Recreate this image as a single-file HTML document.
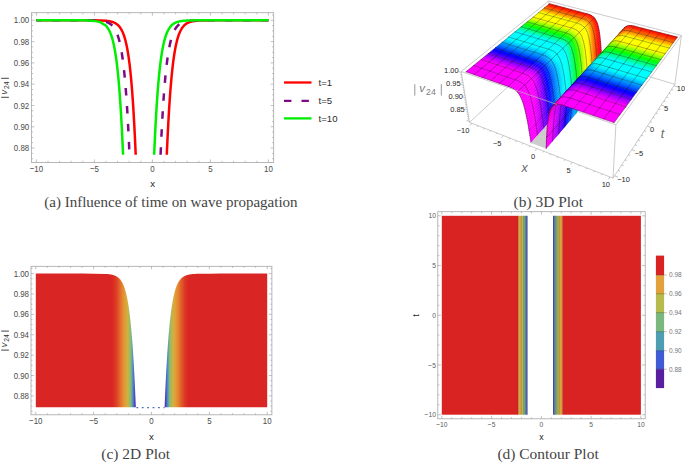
<!DOCTYPE html>
<html><head><meta charset="utf-8"><style>
html,body{margin:0;padding:0;background:#fff;}
body{width:685px;height:463px;overflow:hidden;}
svg{display:block;}
.m{fill:none;stroke:rgba(0,0,0,.45);stroke-width:.5}
#b3d path{fill:currentColor;stroke:currentColor;stroke-width:.4}
#b3d path.m{fill:none;stroke:rgba(0,0,0,.5);stroke-width:.6;stroke-linecap:round}
</style></head><body>
<svg width="685" height="463" viewBox="0 0 685 463">
<rect x="31.5" y="12.7" width="242.2" height="149.70000000000002" fill="none" stroke="#a6a6a6" stroke-width="0.8"/>
<path d="M36.40 162.4v-3.0M36.40 12.7v3.0M94.40 162.4v-3.0M94.40 12.7v3.0M152.40 162.4v-3.0M152.40 12.7v3.0M210.40 162.4v-3.0M210.40 12.7v3.0M268.40 162.4v-3.0M268.40 12.7v3.0M48.00 162.4v-1.6M48.00 12.7v1.6M59.60 162.4v-1.6M59.60 12.7v1.6M71.20 162.4v-1.6M71.20 12.7v1.6M82.80 162.4v-1.6M82.80 12.7v1.6M106.00 162.4v-1.6M106.00 12.7v1.6M117.60 162.4v-1.6M117.60 12.7v1.6M129.20 162.4v-1.6M129.20 12.7v1.6M140.80 162.4v-1.6M140.80 12.7v1.6M164.00 162.4v-1.6M164.00 12.7v1.6M175.60 162.4v-1.6M175.60 12.7v1.6M187.20 162.4v-1.6M187.20 12.7v1.6M198.80 162.4v-1.6M198.80 12.7v1.6M222.00 162.4v-1.6M222.00 12.7v1.6M233.60 162.4v-1.6M233.60 12.7v1.6M245.20 162.4v-1.6M245.20 12.7v1.6M256.80 162.4v-1.6M256.80 12.7v1.6M31.5 148.10h3.0M273.7 148.10h-3.0M31.5 126.80h3.0M273.7 126.80h-3.0M31.5 105.50h3.0M273.7 105.50h-3.0M31.5 84.20h3.0M273.7 84.20h-3.0M31.5 62.90h3.0M273.7 62.90h-3.0M31.5 41.60h3.0M273.7 41.60h-3.0M31.5 20.30h3.0M273.7 20.30h-3.0M31.5 158.75h1.6M273.7 158.75h-1.6M31.5 153.43h1.6M273.7 153.43h-1.6M31.5 142.77h1.6M273.7 142.77h-1.6M31.5 137.45h1.6M273.7 137.45h-1.6M31.5 132.12h1.6M273.7 132.12h-1.6M31.5 121.47h1.6M273.7 121.47h-1.6M31.5 116.15h1.6M273.7 116.15h-1.6M31.5 110.82h1.6M273.7 110.82h-1.6M31.5 100.17h1.6M273.7 100.17h-1.6M31.5 94.85h1.6M273.7 94.85h-1.6M31.5 89.52h1.6M273.7 89.52h-1.6M31.5 78.88h1.6M273.7 78.88h-1.6M31.5 73.55h1.6M273.7 73.55h-1.6M31.5 68.23h1.6M273.7 68.23h-1.6M31.5 57.58h1.6M273.7 57.58h-1.6M31.5 52.25h1.6M273.7 52.25h-1.6M31.5 46.93h1.6M273.7 46.93h-1.6M31.5 36.28h1.6M273.7 36.28h-1.6M31.5 30.95h1.6M273.7 30.95h-1.6M31.5 25.63h1.6M273.7 25.63h-1.6M31.5 14.98h1.6M273.7 14.98h-1.6" stroke="#a6a6a6" stroke-width="0.7" fill="none"/>
<text transform="translate(36.40,171.60) scale(1,1.22)" font-size="7.9" text-anchor="middle" fill="#4a4a4a" font-family="Liberation Sans, sans-serif" >−10</text>
<text transform="translate(94.40,171.60) scale(1,1.22)" font-size="7.9" text-anchor="middle" fill="#4a4a4a" font-family="Liberation Sans, sans-serif" >−5</text>
<text transform="translate(152.40,171.60) scale(1,1.22)" font-size="7.9" text-anchor="middle" fill="#4a4a4a" font-family="Liberation Sans, sans-serif" >0</text>
<text transform="translate(210.40,171.60) scale(1,1.22)" font-size="7.9" text-anchor="middle" fill="#4a4a4a" font-family="Liberation Sans, sans-serif" >5</text>
<text transform="translate(268.40,171.60) scale(1,1.22)" font-size="7.9" text-anchor="middle" fill="#4a4a4a" font-family="Liberation Sans, sans-serif" >10</text>
<text transform="translate(29.20,151.10) scale(1,1.22)" font-size="7.9" text-anchor="end" fill="#4a4a4a" font-family="Liberation Sans, sans-serif" >0.88</text>
<text transform="translate(29.20,129.80) scale(1,1.22)" font-size="7.9" text-anchor="end" fill="#4a4a4a" font-family="Liberation Sans, sans-serif" >0.90</text>
<text transform="translate(29.20,108.50) scale(1,1.22)" font-size="7.9" text-anchor="end" fill="#4a4a4a" font-family="Liberation Sans, sans-serif" >0.92</text>
<text transform="translate(29.20,87.20) scale(1,1.22)" font-size="7.9" text-anchor="end" fill="#4a4a4a" font-family="Liberation Sans, sans-serif" >0.94</text>
<text transform="translate(29.20,65.90) scale(1,1.22)" font-size="7.9" text-anchor="end" fill="#4a4a4a" font-family="Liberation Sans, sans-serif" >0.96</text>
<text transform="translate(29.20,44.60) scale(1,1.22)" font-size="7.9" text-anchor="end" fill="#4a4a4a" font-family="Liberation Sans, sans-serif" >0.98</text>
<text transform="translate(29.20,23.30) scale(1,1.22)" font-size="7.9" text-anchor="end" fill="#4a4a4a" font-family="Liberation Sans, sans-serif" >1.00</text>
<text x="152.60" y="186.60" font-size="9.6" text-anchor="middle" fill="#1a1a1a" font-family="Liberation Sans, sans-serif" >x</text>
<path d="M1.2 97.3H8.9M1.2 78.3H8.9" stroke="#3a3a3a" stroke-width="0.95"/>
<g transform="translate(0,100.0) rotate(-90)"><text x="5.6" y="6.8" font-size="9.2" font-style="italic" fill="#333" font-family="Liberation Sans, sans-serif">v</text><text x="11.1" y="9.1" font-size="6.8" fill="#333" font-family="Liberation Sans, sans-serif">24</text></g>
<clipPath id="ca"><rect x="31.5" y="12.7" width="242" height="142"/></clipPath>
<polyline points="36.40,20.30 42.20,20.30 48.00,20.30 53.80,20.30 59.60,20.30 65.40,20.30 71.20,20.30 77.00,20.30 82.80,20.31 88.60,20.32 94.40,20.35 100.20,20.46 106.00,20.78 106.00,20.78 106.15,20.79 106.29,20.81 106.44,20.82 106.58,20.84 106.73,20.85 106.87,20.87 107.02,20.88 107.16,20.90 107.31,20.92 107.45,20.93 107.59,20.95 107.74,20.97 107.89,20.99 108.03,21.01 108.18,21.03 108.32,21.05 108.47,21.07 108.61,21.09 108.75,21.12 108.90,21.14 109.05,21.16 109.19,21.19 109.34,21.21 109.48,21.24 109.62,21.26 109.77,21.29 109.92,21.32 110.06,21.35 110.21,21.38 110.35,21.41 110.50,21.44 110.64,21.47 110.79,21.51 110.93,21.54 111.08,21.58 111.22,21.61 111.37,21.65 111.51,21.69 111.66,21.73 111.80,21.77 111.95,21.81 112.09,21.85 112.24,21.90 112.38,21.94 112.53,21.99 112.67,22.04 112.81,22.08 112.96,22.14 113.11,22.19 113.25,22.24 113.40,22.30 113.54,22.35 113.69,22.41 113.83,22.47 113.98,22.53 114.12,22.60 114.27,22.66 114.41,22.73 114.56,22.80 114.70,22.87 114.84,22.94 114.99,23.01 115.14,23.09 115.28,23.17 115.43,23.25 115.57,23.34 115.72,23.42 115.86,23.51 116.00,23.60 116.15,23.69 116.30,23.79 116.44,23.89 116.59,23.99 116.73,24.10 116.88,24.20 117.02,24.31 117.17,24.43 117.31,24.54 117.46,24.66 117.60,24.79 117.75,24.91 117.89,25.05 118.04,25.18 118.18,25.32 118.33,25.46 118.47,25.61 118.62,25.76 118.76,25.91 118.91,26.07 119.05,26.23 119.20,26.40 119.34,26.57 119.49,26.75 119.63,26.93 119.78,27.12 119.92,27.31 120.07,27.51 120.21,27.71 120.36,27.92 120.50,28.14 120.65,28.36 120.79,28.59 120.94,28.82 121.08,29.06 121.23,29.31 121.37,29.56 121.52,29.83 121.66,30.09 121.81,30.37 121.95,30.65 122.10,30.95 122.24,31.25 122.39,31.55 122.53,31.87 122.68,32.20 122.82,32.53 122.97,32.88 123.11,33.23 123.26,33.59 123.40,33.97 123.55,34.35 123.69,34.75 123.84,35.15 123.98,35.57 124.12,36.00 124.27,36.44 124.42,36.90 124.56,37.36 124.71,37.84 124.85,38.33 125.00,38.84 125.14,39.36 125.29,39.89 125.43,40.44 125.58,41.00 125.72,41.58 125.87,42.18 126.01,42.79 126.16,43.42 126.30,44.07 126.45,44.73 126.59,45.41 126.74,46.11 126.88,46.83 127.03,47.57 127.17,48.33 127.32,49.11 127.46,49.91 127.61,50.74 127.75,51.58 127.90,52.45 128.04,53.34 128.19,54.26 128.33,55.20 128.47,56.17 128.62,57.16 128.77,58.18 128.91,59.23 129.06,60.30 129.20,61.41 129.34,62.54 129.49,63.71 129.64,64.90 129.78,66.13 129.93,67.39 130.07,68.68 130.22,70.01 130.36,71.37 130.50,72.77 130.65,74.20 130.80,75.68 130.94,77.19 131.09,78.74 131.23,80.33 131.38,81.96 131.52,83.64 131.67,85.35 131.81,87.12 131.96,88.92 132.10,90.78 132.25,92.68 132.39,94.63 132.53,96.63 132.68,98.68 132.83,100.78 132.97,102.94 133.12,105.15 133.26,107.41 133.41,109.73 133.55,112.11 133.69,114.55 133.84,117.04 133.99,119.60 134.13,122.22 134.28,124.90 134.42,127.65 134.56,130.47 134.71,133.35 134.86,136.30 135.00,139.32 135.15,142.41 135.29,145.57 135.44,148.81 135.58,152.12 135.69,154.70" fill="none" stroke="#ff0000" stroke-width="2.5"/>
<polyline points="166.79,154.70 166.90,152.12 167.05,148.81 167.19,145.57 167.34,142.41 167.48,139.32 167.62,136.30 167.77,133.35 167.92,130.47 168.06,127.65 168.21,124.90 168.35,122.22 168.50,119.60 168.64,117.04 168.79,114.55 168.93,112.11 169.08,109.73 169.22,107.41 169.37,105.15 169.51,102.94 169.66,100.78 169.80,98.68 169.94,96.63 170.09,94.63 170.24,92.68 170.38,90.78 170.53,88.92 170.67,87.12 170.81,85.35 170.96,83.64 171.11,81.96 171.25,80.33 171.40,78.74 171.54,77.19 171.69,75.68 171.83,74.20 171.97,72.77 172.12,71.37 172.27,70.01 172.41,68.68 172.56,67.39 172.70,66.13 172.84,64.90 172.99,63.71 173.14,62.54 173.28,61.41 173.43,60.30 173.57,59.23 173.72,58.18 173.86,57.16 174.01,56.17 174.15,55.20 174.30,54.26 174.44,53.34 174.59,52.45 174.73,51.58 174.88,50.74 175.02,49.91 175.17,49.11 175.31,48.33 175.46,47.57 175.60,46.83 175.75,46.11 175.89,45.41 176.04,44.73 176.18,44.07 176.33,43.42 176.47,42.79 176.62,42.18 176.76,41.58 176.91,41.00 177.05,40.44 177.19,39.89 177.34,39.36 177.49,38.84 177.63,38.33 177.78,37.84 177.92,37.36 178.06,36.90 178.21,36.44 178.36,36.00 178.50,35.57 178.65,35.15 178.79,34.75 178.94,34.35 179.08,33.97 179.22,33.59 179.37,33.23 179.52,32.88 179.66,32.53 179.81,32.20 179.95,31.87 180.09,31.55 180.24,31.25 180.39,30.95 180.53,30.65 180.68,30.37 180.82,30.09 180.97,29.83 181.11,29.56 181.26,29.31 181.40,29.06 181.55,28.82 181.69,28.59 181.84,28.36 181.98,28.14 182.12,27.92 182.27,27.71 182.42,27.51 182.56,27.31 182.71,27.12 182.85,26.93 183.00,26.75 183.14,26.57 183.29,26.40 183.43,26.23 183.58,26.07 183.72,25.91 183.87,25.76 184.01,25.61 184.16,25.46 184.30,25.32 184.44,25.18 184.59,25.05 184.74,24.91 184.88,24.79 185.03,24.66 185.17,24.54 185.31,24.43 185.46,24.31 185.61,24.20 185.75,24.10 185.90,23.99 186.04,23.89 186.19,23.79 186.33,23.69 186.47,23.60 186.62,23.51 186.77,23.42 186.91,23.34 187.06,23.25 187.20,23.17 187.34,23.09 187.49,23.01 187.64,22.94 187.78,22.87 187.93,22.80 188.07,22.73 188.22,22.66 188.36,22.60 188.50,22.53 188.65,22.47 188.80,22.41 188.94,22.35 189.09,22.30 189.23,22.24 189.38,22.19 189.52,22.14 189.67,22.08 189.81,22.04 189.96,21.99 190.10,21.94 190.25,21.90 190.39,21.85 190.54,21.81 190.68,21.77 190.82,21.73 190.97,21.69 191.12,21.65 191.26,21.61 191.41,21.58 191.55,21.54 191.69,21.51 191.84,21.47 191.99,21.44 192.13,21.41 192.28,21.38 192.42,21.35 192.56,21.32 192.71,21.29 192.86,21.26 193.00,21.24 193.15,21.21 193.29,21.19 193.44,21.16 193.58,21.14 193.72,21.12 193.87,21.09 194.02,21.07 194.16,21.05 194.31,21.03 194.45,21.01 194.59,20.99 194.74,20.97 194.89,20.95 195.03,20.93 195.18,20.92 195.32,20.90 195.47,20.88 195.61,20.87 195.75,20.85 195.90,20.84 196.05,20.82 196.19,20.81 196.34,20.79 196.48,20.78 196.62,20.77 196.77,20.75 196.92,20.74 197.06,20.73 197.21,20.72 197.35,20.70 197.50,20.69 197.64,20.68 197.79,20.67 197.93,20.66 198.07,20.65 198.22,20.64 198.37,20.63 198.51,20.62 198.66,20.61 198.80,20.61 198.80,20.61 204.60,20.40 210.40,20.33 216.20,20.31 222.00,20.30 227.80,20.30 233.60,20.30 239.40,20.30 245.20,20.30 251.00,20.30 256.80,20.30 262.60,20.30 268.40,20.30" fill="none" stroke="#ff0000" stroke-width="2.5"/>
<polyline points="36.40,20.30 42.20,20.30 48.00,20.30 53.80,20.30 59.60,20.30 65.40,20.30 71.20,20.30 77.00,20.31 82.80,20.32 88.60,20.36 94.40,20.47 100.20,20.82 106.00,21.89 106.00,21.89 106.15,21.93 106.29,21.98 106.44,22.03 106.58,22.07 106.73,22.12 106.87,22.18 107.02,22.23 107.16,22.28 107.31,22.34 107.45,22.40 107.59,22.46 107.74,22.52 107.89,22.58 108.03,22.65 108.18,22.71 108.32,22.78 108.47,22.85 108.61,22.92 108.75,23.00 108.90,23.08 109.05,23.15 109.19,23.24 109.34,23.32 109.48,23.40 109.62,23.49 109.77,23.58 109.92,23.68 110.06,23.77 110.21,23.87 110.35,23.97 110.50,24.07 110.64,24.18 110.79,24.29 110.93,24.40 111.08,24.52 111.22,24.64 111.37,24.76 111.51,24.89 111.66,25.02 111.80,25.15 111.95,25.29 112.09,25.43 112.24,25.58 112.38,25.73 112.53,25.88 112.67,26.04 112.81,26.20 112.96,26.37 113.11,26.54 113.25,26.71 113.40,26.89 113.54,27.08 113.69,27.27 113.83,27.47 113.98,27.67 114.12,27.88 114.27,28.10 114.41,28.32 114.56,28.54 114.70,28.77 114.84,29.01 114.99,29.26 115.14,29.51 115.28,29.77 115.43,30.04 115.57,30.31 115.72,30.60 115.86,30.89 116.00,31.19 116.15,31.49 116.30,31.81 116.44,32.13 116.59,32.46 116.73,32.81 116.88,33.16 117.02,33.52 117.17,33.89 117.31,34.28 117.46,34.67 117.60,35.07 117.75,35.49 117.89,35.91 118.04,36.35 118.18,36.80 118.33,37.27 118.47,37.74 118.62,38.23 118.76,38.74 118.91,39.25 119.05,39.78 119.20,40.33 119.34,40.89 119.49,41.47 119.63,42.06 119.78,42.67 119.92,43.29 120.07,43.93 120.21,44.59 120.36,45.27 120.50,45.97 120.65,46.69 120.79,47.42 120.94,48.18 121.08,48.95 121.23,49.75 121.37,50.57 121.52,51.41 121.66,52.27 121.81,53.16 121.95,54.07 122.10,55.01 122.24,55.97 122.39,56.96 122.53,57.97 122.68,59.02 122.82,60.09 122.97,61.18 123.11,62.31 123.26,63.47 123.40,64.66 123.55,65.88 123.69,67.13 123.84,68.42 123.98,69.74 124.12,71.09 124.27,72.48 124.42,73.91 124.56,75.38 124.71,76.88 124.85,78.42 125.00,80.01 125.14,81.63 125.29,83.30 125.43,85.01 125.58,86.76 125.72,88.56 125.87,90.40 126.01,92.30 126.16,94.24 126.30,96.23 126.45,98.27 126.59,100.36 126.74,102.50 126.88,104.70 127.03,106.95 127.17,109.26 127.32,111.63 127.46,114.05 127.61,116.54 127.75,119.08 127.90,121.69 128.04,124.36 128.19,127.10 128.33,129.90 128.47,132.77 128.62,135.70 128.77,138.71 128.91,141.78 129.06,144.93 129.20,148.15 129.34,151.45 129.48,154.70" fill="none" stroke="#7f0a86" stroke-width="2.5" stroke-dasharray="7.5,10.5" stroke-dashoffset="2.3"/>
<polyline points="160.58,154.70 160.67,152.79 160.81,149.46 160.96,146.21 161.10,143.04 161.25,139.93 161.39,136.90 161.54,133.93 161.68,131.04 161.83,128.21 161.97,125.45 162.12,122.75 162.26,120.12 162.41,117.55 162.55,115.04 162.69,112.59 162.84,110.20 162.99,107.87 163.13,105.60 163.28,103.38 163.42,101.21 163.56,99.10 163.71,97.04 163.86,95.03 164.00,93.07 164.15,91.16 164.29,89.29 164.44,87.47 164.58,85.70 164.72,83.98 164.87,82.29 165.02,80.65 165.16,79.05 165.31,77.49 165.45,75.97 165.59,74.49 165.74,73.05 165.89,71.65 166.03,70.28 166.18,68.94 166.32,67.64 166.47,66.38 166.61,65.14 166.76,63.94 166.90,62.77 167.05,61.63 167.19,60.52 167.34,59.44 167.48,58.39 167.62,57.36 167.77,56.36 167.92,55.39 168.06,54.45 168.21,53.52 168.35,52.63 168.50,51.75 168.64,50.90 168.79,50.08 168.93,49.27 169.08,48.48 169.22,47.72 169.37,46.98 169.51,46.25 169.66,45.55 169.80,44.86 169.94,44.20 170.09,43.55 170.24,42.91 170.38,42.30 170.53,41.70 170.67,41.12 170.81,40.55 170.96,40.00 171.11,39.46 171.25,38.94 171.40,38.43 171.54,37.94 171.69,37.46 171.83,36.99 171.97,36.53 172.12,36.09 172.27,35.66 172.41,35.24 172.56,34.83 172.70,34.43 172.84,34.04 172.99,33.67 173.14,33.30 173.28,32.95 173.43,32.60 173.57,32.26 173.72,31.94 173.86,31.62 174.01,31.31 174.15,31.01 174.30,30.71 174.44,30.43 174.59,30.15 174.73,29.88 174.88,29.62 175.02,29.36 175.17,29.11 175.31,28.87 175.46,28.63 175.60,28.41 175.75,28.18 175.89,27.97 176.04,27.76 176.18,27.55 176.33,27.35 176.47,27.16 176.62,26.97 176.76,26.79 176.91,26.61 177.05,26.43 177.19,26.27 177.34,26.10 177.49,25.94 177.63,25.79 177.78,25.64 177.92,25.49 178.06,25.35 178.21,25.21 178.36,25.07 178.50,24.94 178.65,24.81 178.79,24.69 178.94,24.57 179.08,24.45 179.22,24.34 179.37,24.22 179.52,24.12 179.66,24.01 179.81,23.91 179.95,23.81 180.09,23.71 180.24,23.62 180.39,23.53 180.53,23.44 180.68,23.35 180.82,23.27 180.97,23.19 181.11,23.11 181.26,23.03 181.40,22.95 181.55,22.88 181.69,22.81 181.84,22.74 181.98,22.67 182.12,22.61 182.27,22.54 182.42,22.48 182.56,22.42 182.71,22.36 182.85,22.31 183.00,22.25 183.14,22.20 183.29,22.15 183.43,22.09 183.58,22.05 183.72,22.00 183.87,21.95 184.01,21.90 184.16,21.86 184.30,21.82 184.44,21.78 184.59,21.73 184.74,21.70 184.88,21.66 185.03,21.62 185.17,21.58 185.31,21.55 185.46,21.51 185.61,21.48 185.75,21.45 185.90,21.42 186.04,21.38 186.19,21.35 186.33,21.33 186.47,21.30 186.62,21.27 186.77,21.24 186.91,21.22 187.06,21.19 187.20,21.17 187.34,21.14 187.49,21.12 187.64,21.10 187.78,21.08 187.93,21.05 188.07,21.03 188.22,21.01 188.36,20.99 188.50,20.97 188.65,20.96 188.80,20.94 188.94,20.92 189.09,20.90 189.23,20.89 189.38,20.87 189.52,20.85 189.67,20.84 189.81,20.82 189.96,20.81 190.10,20.80 190.25,20.78 190.39,20.77 190.54,20.76 190.68,20.74 190.82,20.73 190.97,20.72 191.12,20.71 191.26,20.70 191.41,20.69 191.55,20.67 191.69,20.66 191.84,20.65 191.99,20.64 192.13,20.63 192.28,20.63 192.42,20.62 192.56,20.61 192.71,20.60 192.86,20.59 193.00,20.58 193.15,20.58 193.29,20.57 193.44,20.56 193.58,20.55 193.72,20.55 193.87,20.54 194.02,20.53 194.16,20.53 194.31,20.52 194.45,20.51 194.59,20.51 194.74,20.50 194.89,20.50 195.03,20.49 195.18,20.49 195.32,20.48 195.47,20.48 195.61,20.47 195.75,20.47 195.90,20.46 196.05,20.46 196.19,20.45 196.34,20.45 196.48,20.44 196.62,20.44 196.77,20.44 196.92,20.43 197.06,20.43 197.21,20.43 197.35,20.42 197.50,20.42 197.64,20.42 197.79,20.41 197.93,20.41 198.07,20.41 198.22,20.40 198.37,20.40 198.51,20.40 198.66,20.39 198.80,20.39 198.80,20.39 204.60,20.33 210.40,20.31 216.20,20.30 222.00,20.30 227.80,20.30 233.60,20.30 239.40,20.30 245.20,20.30 251.00,20.30 256.80,20.30 262.60,20.30 268.40,20.30" fill="none" stroke="#7f0a86" stroke-width="2.5" stroke-dasharray="7.5,10.5" stroke-dashoffset="0.0"/>
<polyline points="36.40,20.30 42.20,20.30 48.00,20.30 53.80,20.30 59.60,20.30 65.40,20.30 71.20,20.31 77.00,20.32 82.80,20.36 88.60,20.49 94.40,20.89 100.20,22.09 106.00,25.79 106.00,25.79 106.15,25.94 106.29,26.10 106.44,26.27 106.58,26.43 106.73,26.61 106.87,26.79 107.02,26.97 107.16,27.16 107.31,27.35 107.45,27.55 107.59,27.76 107.74,27.97 107.89,28.18 108.03,28.41 108.18,28.63 108.32,28.87 108.47,29.11 108.61,29.36 108.75,29.62 108.90,29.88 109.05,30.15 109.19,30.43 109.34,30.71 109.48,31.01 109.62,31.31 109.77,31.62 109.92,31.94 110.06,32.26 110.21,32.60 110.35,32.95 110.50,33.30 110.64,33.67 110.79,34.04 110.93,34.43 111.08,34.83 111.22,35.24 111.37,35.66 111.51,36.09 111.66,36.53 111.80,36.99 111.95,37.46 112.09,37.94 112.24,38.43 112.38,38.94 112.53,39.46 112.67,40.00 112.81,40.55 112.96,41.12 113.11,41.70 113.25,42.30 113.40,42.91 113.54,43.55 113.69,44.20 113.83,44.86 113.98,45.55 114.12,46.25 114.27,46.98 114.41,47.72 114.56,48.48 114.70,49.27 114.84,50.08 114.99,50.90 115.14,51.75 115.28,52.63 115.43,53.52 115.57,54.45 115.72,55.39 115.86,56.36 116.00,57.36 116.15,58.39 116.30,59.44 116.44,60.52 116.59,61.63 116.73,62.77 116.88,63.94 117.02,65.14 117.17,66.38 117.31,67.64 117.46,68.94 117.60,70.28 117.75,71.65 117.89,73.05 118.04,74.49 118.18,75.97 118.33,77.49 118.47,79.05 118.62,80.65 118.76,82.29 118.91,83.98 119.05,85.70 119.20,87.47 119.34,89.29 119.49,91.16 119.63,93.07 119.78,95.03 119.92,97.04 120.07,99.10 120.21,101.21 120.36,103.38 120.50,105.60 120.65,107.87 120.79,110.20 120.94,112.59 121.08,115.04 121.23,117.55 121.37,120.12 121.52,122.75 121.66,125.45 121.81,128.21 121.95,131.04 122.10,133.93 122.24,136.90 122.39,139.93 122.53,143.04 122.68,146.21 122.82,149.46 122.97,152.79 123.05,154.70" fill="none" stroke="#00ee00" stroke-width="2.5"/>
<polyline points="154.15,154.70 154.29,151.45 154.43,148.15 154.58,144.93 154.72,141.78 154.87,138.71 155.01,135.70 155.16,132.77 155.30,129.90 155.45,127.10 155.59,124.36 155.74,121.69 155.88,119.08 156.03,116.54 156.17,114.05 156.31,111.63 156.46,109.26 156.60,106.95 156.75,104.70 156.90,102.50 157.04,100.36 157.19,98.27 157.33,96.23 157.47,94.24 157.62,92.30 157.77,90.40 157.91,88.56 158.06,86.76 158.20,85.01 158.34,83.30 158.49,81.63 158.64,80.01 158.78,78.42 158.93,76.88 159.07,75.38 159.22,73.91 159.36,72.48 159.50,71.09 159.65,69.74 159.80,68.42 159.94,67.13 160.09,65.88 160.23,64.66 160.38,63.47 160.52,62.31 160.67,61.18 160.81,60.09 160.96,59.02 161.10,57.97 161.25,56.96 161.39,55.97 161.54,55.01 161.68,54.07 161.83,53.16 161.97,52.27 162.12,51.41 162.26,50.57 162.41,49.75 162.55,48.95 162.69,48.18 162.84,47.42 162.99,46.69 163.13,45.97 163.28,45.27 163.42,44.59 163.56,43.93 163.71,43.29 163.86,42.67 164.00,42.06 164.15,41.47 164.29,40.89 164.44,40.33 164.58,39.78 164.72,39.25 164.87,38.74 165.02,38.23 165.16,37.74 165.31,37.27 165.45,36.80 165.59,36.35 165.74,35.91 165.89,35.49 166.03,35.07 166.18,34.67 166.32,34.28 166.47,33.89 166.61,33.52 166.76,33.16 166.90,32.81 167.05,32.46 167.19,32.13 167.34,31.81 167.48,31.49 167.62,31.19 167.77,30.89 167.92,30.60 168.06,30.31 168.21,30.04 168.35,29.77 168.50,29.51 168.64,29.26 168.79,29.01 168.93,28.77 169.08,28.54 169.22,28.32 169.37,28.10 169.51,27.88 169.66,27.67 169.80,27.47 169.94,27.27 170.09,27.08 170.24,26.89 170.38,26.71 170.53,26.54 170.67,26.37 170.81,26.20 170.96,26.04 171.11,25.88 171.25,25.73 171.40,25.58 171.54,25.43 171.69,25.29 171.83,25.15 171.97,25.02 172.12,24.89 172.27,24.76 172.41,24.64 172.56,24.52 172.70,24.40 172.84,24.29 172.99,24.18 173.14,24.07 173.28,23.97 173.43,23.87 173.57,23.77 173.72,23.68 173.86,23.58 174.01,23.49 174.15,23.40 174.30,23.32 174.44,23.24 174.59,23.15 174.73,23.08 174.88,23.00 175.02,22.92 175.17,22.85 175.31,22.78 175.46,22.71 175.60,22.65 175.75,22.58 175.89,22.52 176.04,22.46 176.18,22.40 176.33,22.34 176.47,22.28 176.62,22.23 176.76,22.18 176.91,22.12 177.05,22.07 177.19,22.03 177.34,21.98 177.49,21.93 177.63,21.89 177.78,21.84 177.92,21.80 178.06,21.76 178.21,21.72 178.36,21.68 178.50,21.64 178.65,21.60 178.79,21.57 178.94,21.53 179.08,21.50 179.22,21.47 179.37,21.43 179.52,21.40 179.66,21.37 179.81,21.34 179.95,21.31 180.09,21.29 180.24,21.26 180.39,21.23 180.53,21.21 180.68,21.18 180.82,21.16 180.97,21.13 181.11,21.11 181.26,21.09 181.40,21.07 181.55,21.05 181.69,21.02 181.84,21.00 181.98,20.99 182.12,20.97 182.27,20.95 182.42,20.93 182.56,20.91 182.71,20.90 182.85,20.88 183.00,20.86 183.14,20.85 183.29,20.83 183.43,20.82 183.58,20.80 183.72,20.79 183.87,20.78 184.01,20.76 184.16,20.75 184.30,20.74 184.44,20.73 184.59,20.71 184.74,20.70 184.88,20.69 185.03,20.68 185.17,20.67 185.31,20.66 185.46,20.65 185.61,20.64 185.75,20.63 185.90,20.62 186.04,20.61 186.19,20.60 186.33,20.60 186.47,20.59 186.62,20.58 186.77,20.57 186.91,20.56 187.06,20.56 187.20,20.55 187.34,20.54 187.49,20.54 187.64,20.53 187.78,20.52 187.93,20.52 188.07,20.51 188.22,20.51 188.36,20.50 188.50,20.49 188.65,20.49 188.80,20.48 188.94,20.48 189.09,20.47 189.23,20.47 189.38,20.46 189.52,20.46 189.67,20.46 189.81,20.45 189.96,20.45 190.10,20.44 190.25,20.44 190.39,20.44 190.54,20.43 190.68,20.43 190.82,20.42 190.97,20.42 191.12,20.42 191.26,20.41 191.41,20.41 191.55,20.41 191.69,20.41 191.84,20.40 191.99,20.40 192.13,20.40 192.28,20.39 192.42,20.39 192.56,20.39 192.71,20.39 192.86,20.38 193.00,20.38 193.15,20.38 193.29,20.38 193.44,20.38 193.58,20.37 193.72,20.37 193.87,20.37 194.02,20.37 194.16,20.37 194.31,20.36 194.45,20.36 194.59,20.36 194.74,20.36 194.89,20.36 195.03,20.36 195.18,20.35 195.32,20.35 195.47,20.35 195.61,20.35 195.75,20.35 195.90,20.35 196.05,20.35 196.19,20.34 196.34,20.34 196.48,20.34 196.62,20.34 196.77,20.34 196.92,20.34 197.06,20.34 197.21,20.34 197.35,20.34 197.50,20.33 197.64,20.33 197.79,20.33 197.93,20.33 198.07,20.33 198.22,20.33 198.37,20.33 198.51,20.33 198.66,20.33 198.80,20.33 198.80,20.33 204.60,20.31 210.40,20.30 216.20,20.30 222.00,20.30 227.80,20.30 233.60,20.30 239.40,20.30 245.20,20.30 251.00,20.30 256.80,20.30 262.60,20.30 268.40,20.30" fill="none" stroke="#00ee00" stroke-width="2.5"/>
<path d="M284 82.5h27.5" stroke="#ff0000" stroke-width="2.3"/>
<path d="M284 100.8h25" stroke="#7f0a86" stroke-width="2.3" stroke-dasharray="7.4,10.1"/>
<path d="M284 118.4h27.5" stroke="#00ee00" stroke-width="2.3"/>
<text x="318.60" y="86.00" font-size="9.6" text-anchor="start" fill="#2a2a2a" font-family="Liberation Sans, sans-serif" >t=1</text>
<text x="318.60" y="104.30" font-size="9.6" text-anchor="start" fill="#2a2a2a" font-family="Liberation Sans, sans-serif" >t=5</text>
<text x="318.60" y="121.90" font-size="9.6" text-anchor="start" fill="#2a2a2a" font-family="Liberation Sans, sans-serif" >t=10</text>
<linearGradient id="gc" gradientUnits="userSpaceOnUse" x1="35.80" y1="0" x2="267.20" y2="0"><stop offset="0.3285" stop-color="#d92523"/><stop offset="0.3458" stop-color="#dc3b25"/><stop offset="0.3631" stop-color="#e2652c"/><stop offset="0.3760" stop-color="#e48a30"/><stop offset="0.3868" stop-color="#e0a038"/><stop offset="0.3955" stop-color="#d0b042"/><stop offset="0.4041" stop-color="#aab85a"/><stop offset="0.4106" stop-color="#88b878"/><stop offset="0.4149" stop-color="#66aa96"/><stop offset="0.4193" stop-color="#4f90b8"/><stop offset="0.4236" stop-color="#4668d2"/><stop offset="0.4279" stop-color="#4a3fc6"/><stop offset="0.4322" stop-color="#5b22a6"/><stop offset="0.5566" stop-color="#5b22a6"/><stop offset="0.5609" stop-color="#4a3fc6"/><stop offset="0.5652" stop-color="#4668d2"/><stop offset="0.5695" stop-color="#4f90b8"/><stop offset="0.5739" stop-color="#66aa96"/><stop offset="0.5782" stop-color="#88b878"/><stop offset="0.5847" stop-color="#aab85a"/><stop offset="0.5933" stop-color="#d0b042"/><stop offset="0.6020" stop-color="#e0a038"/><stop offset="0.6128" stop-color="#e48a30"/><stop offset="0.6257" stop-color="#e2652c"/><stop offset="0.6430" stop-color="#dc3b25"/><stop offset="0.6603" stop-color="#d92523"/></linearGradient>
<path d="M35.80 407.31L35.80 273.62L47.37 273.62L58.94 273.62L70.51 273.62L82.08 273.62L93.65 273.65L105.22 273.89L105.22 273.89L105.51 273.91L105.80 273.93L106.09 273.95L106.38 273.97L106.67 273.99L106.96 274.01L107.24 274.03L107.53 274.06L107.82 274.09L108.11 274.12L108.40 274.15L108.69 274.18L108.98 274.21L109.27 274.25L109.56 274.29L109.85 274.33L110.14 274.37L110.43 274.42L110.72 274.47L111.00 274.52L111.29 274.57L111.58 274.63L111.87 274.69L112.16 274.76L112.45 274.83L112.74 274.90L113.03 274.98L113.32 275.06L113.61 275.15L113.90 275.25L114.19 275.35L114.48 275.45L114.77 275.56L115.05 275.68L115.34 275.81L115.63 275.94L115.92 276.09L116.21 276.24L116.50 276.40L116.79 276.57L117.08 276.75L117.37 276.94L117.66 277.14L117.95 277.36L118.24 277.58L118.53 277.83L118.81 278.08L119.10 278.36L119.39 278.65L119.68 278.95L119.97 279.28L120.26 279.62L120.55 279.99L120.84 280.38L121.13 280.79L121.42 281.23L121.71 281.69L122.00 282.19L122.29 282.71L122.58 283.26L122.86 283.85L123.15 284.47L123.44 285.13L123.73 285.83L124.02 286.57L124.31 287.36L124.60 288.19L124.89 289.07L125.18 290.01L125.47 291.00L125.76 292.05L126.05 293.17L126.34 294.35L126.62 295.60L126.91 296.93L127.20 298.33L127.49 299.82L127.78 301.39L128.07 303.06L128.36 304.82L128.65 306.69L128.94 308.67L129.23 310.76L129.52 312.97L129.81 315.31L130.10 317.79L130.38 320.41L130.67 323.17L130.96 326.10L131.25 329.19L131.54 332.45L131.83 335.90L132.12 339.53L132.41 343.37L132.70 347.42L132.99 351.69L133.28 356.19L133.57 360.94L133.86 365.93L134.15 371.19L134.43 376.72L134.72 382.54L135.01 388.66L135.30 395.08L135.59 401.83L135.82 407.31ZM164.59 407.31L164.59 407.31L164.81 402.10L165.09 395.35L165.38 388.91L165.67 382.78L165.96 376.95L166.25 371.41L166.54 366.14L166.83 361.13L167.12 356.38L167.41 351.87L167.70 347.59L167.99 343.53L168.28 339.68L168.57 336.04L168.85 332.59L169.14 329.32L169.43 326.22L169.72 323.29L170.01 320.52L170.30 317.89L170.59 315.41L170.88 313.06L171.17 310.85L171.46 308.75L171.75 306.77L172.04 304.90L172.33 303.13L172.62 301.46L172.90 299.88L173.19 298.39L173.48 296.98L173.77 295.65L174.06 294.40L174.35 293.21L174.64 292.10L174.93 291.04L175.22 290.05L175.51 289.11L175.80 288.22L176.09 287.39L176.38 286.60L176.66 285.86L176.95 285.16L177.24 284.50L177.53 283.87L177.82 283.28L178.11 282.73L178.40 282.21L178.69 281.71L178.98 281.25L179.27 280.81L179.56 280.40L179.85 280.01L180.14 279.64L180.43 279.29L180.71 278.97L181.00 278.66L181.29 278.37L181.58 278.09L181.87 277.84L182.16 277.59L182.45 277.37L182.74 277.15L183.03 276.95L183.32 276.75L183.61 276.57L183.90 276.40L184.19 276.24L184.47 276.09L184.76 275.95L185.05 275.81L185.34 275.69L185.63 275.57L185.92 275.46L186.21 275.35L186.50 275.25L186.79 275.16L187.08 275.07L187.37 274.98L187.66 274.91L187.95 274.83L188.23 274.76L188.52 274.70L188.81 274.63L189.10 274.58L189.39 274.52L189.68 274.47L189.97 274.42L190.26 274.37L190.55 274.33L190.84 274.29L191.13 274.25L191.42 274.21L191.71 274.18L192.00 274.15L192.28 274.12L192.57 274.09L192.86 274.06L193.15 274.04L193.44 274.01L193.73 273.99L194.02 273.97L194.31 273.95L194.60 273.93L194.89 273.91L195.18 273.89L195.47 273.88L195.76 273.86L196.04 273.85L196.33 273.84L196.62 273.82L196.91 273.81L197.20 273.80L197.49 273.79L197.78 273.78L197.78 273.78L209.35 273.63L220.92 273.62L232.49 273.62L244.06 273.62L255.63 273.62L267.20 273.62L267.20 407.31Z" fill="url(#gc)"/>
<path d="M136.42 407.61H164.5916360100371" stroke="#4a6cc0" stroke-width="1.3" stroke-dasharray="1.8,3.6" fill="none"/>
<rect x="31" y="266.3" width="240.89999999999998" height="148.5" fill="none" stroke="#a6a6a6" stroke-width="0.8"/>
<path d="M35.80 414.8v-3.0M35.80 266.3v3.0M93.65 414.8v-3.0M93.65 266.3v3.0M151.50 414.8v-3.0M151.50 266.3v3.0M209.35 414.8v-3.0M209.35 266.3v3.0M267.20 414.8v-3.0M267.20 266.3v3.0M47.37 414.8v-1.6M47.37 266.3v1.6M58.94 414.8v-1.6M58.94 266.3v1.6M70.51 414.8v-1.6M70.51 266.3v1.6M82.08 414.8v-1.6M82.08 266.3v1.6M105.22 414.8v-1.6M105.22 266.3v1.6M116.79 414.8v-1.6M116.79 266.3v1.6M128.36 414.8v-1.6M128.36 266.3v1.6M139.93 414.8v-1.6M139.93 266.3v1.6M163.07 414.8v-1.6M163.07 266.3v1.6M174.64 414.8v-1.6M174.64 266.3v1.6M186.21 414.8v-1.6M186.21 266.3v1.6M197.78 414.8v-1.6M197.78 266.3v1.6M220.92 414.8v-1.6M220.92 266.3v1.6M232.49 414.8v-1.6M232.49 266.3v1.6M244.06 414.8v-1.6M244.06 266.3v1.6M255.63 414.8v-1.6M255.63 266.3v1.6M31 395.90h3.0M271.9 395.90h-3.0M31 375.52h3.0M271.9 375.52h-3.0M31 355.14h3.0M271.9 355.14h-3.0M31 334.76h3.0M271.9 334.76h-3.0M31 314.38h3.0M271.9 314.38h-3.0M31 294.00h3.0M271.9 294.00h-3.0M31 273.62h3.0M271.9 273.62h-3.0M31 411.19h1.6M271.9 411.19h-1.6M31 406.09h1.6M271.9 406.09h-1.6M31 401.00h1.6M271.9 401.00h-1.6M31 390.80h1.6M271.9 390.80h-1.6M31 385.71h1.6M271.9 385.71h-1.6M31 380.61h1.6M271.9 380.61h-1.6M31 370.42h1.6M271.9 370.42h-1.6M31 365.33h1.6M271.9 365.33h-1.6M31 360.23h1.6M271.9 360.23h-1.6M31 350.04h1.6M271.9 350.04h-1.6M31 344.95h1.6M271.9 344.95h-1.6M31 339.85h1.6M271.9 339.85h-1.6M31 329.67h1.6M271.9 329.67h-1.6M31 324.57h1.6M271.9 324.57h-1.6M31 319.48h1.6M271.9 319.48h-1.6M31 309.29h1.6M271.9 309.29h-1.6M31 304.19h1.6M271.9 304.19h-1.6M31 299.10h1.6M271.9 299.10h-1.6M31 288.90h1.6M271.9 288.90h-1.6M31 283.81h1.6M271.9 283.81h-1.6M31 278.72h1.6M271.9 278.72h-1.6M31 268.53h1.6M271.9 268.53h-1.6" stroke="#a6a6a6" stroke-width="0.7" fill="none"/>
<text transform="translate(35.80,424.30) scale(1,1.22)" font-size="7.9" text-anchor="middle" fill="#4a4a4a" font-family="Liberation Sans, sans-serif" >−10</text>
<text transform="translate(93.65,424.30) scale(1,1.22)" font-size="7.9" text-anchor="middle" fill="#4a4a4a" font-family="Liberation Sans, sans-serif" >−5</text>
<text transform="translate(151.50,424.30) scale(1,1.22)" font-size="7.9" text-anchor="middle" fill="#4a4a4a" font-family="Liberation Sans, sans-serif" >0</text>
<text transform="translate(209.35,424.30) scale(1,1.22)" font-size="7.9" text-anchor="middle" fill="#4a4a4a" font-family="Liberation Sans, sans-serif" >5</text>
<text transform="translate(267.20,424.30) scale(1,1.22)" font-size="7.9" text-anchor="middle" fill="#4a4a4a" font-family="Liberation Sans, sans-serif" >10</text>
<text transform="translate(29.00,398.90) scale(1,1.22)" font-size="7.9" text-anchor="end" fill="#4a4a4a" font-family="Liberation Sans, sans-serif" >0.88</text>
<text transform="translate(29.00,378.52) scale(1,1.22)" font-size="7.9" text-anchor="end" fill="#4a4a4a" font-family="Liberation Sans, sans-serif" >0.90</text>
<text transform="translate(29.00,358.14) scale(1,1.22)" font-size="7.9" text-anchor="end" fill="#4a4a4a" font-family="Liberation Sans, sans-serif" >0.92</text>
<text transform="translate(29.00,337.76) scale(1,1.22)" font-size="7.9" text-anchor="end" fill="#4a4a4a" font-family="Liberation Sans, sans-serif" >0.94</text>
<text transform="translate(29.00,317.38) scale(1,1.22)" font-size="7.9" text-anchor="end" fill="#4a4a4a" font-family="Liberation Sans, sans-serif" >0.96</text>
<text transform="translate(29.00,297.00) scale(1,1.22)" font-size="7.9" text-anchor="end" fill="#4a4a4a" font-family="Liberation Sans, sans-serif" >0.98</text>
<text transform="translate(29.00,276.62) scale(1,1.22)" font-size="7.9" text-anchor="end" fill="#4a4a4a" font-family="Liberation Sans, sans-serif" >1.00</text>
<text x="151.50" y="439.60" font-size="9.6" text-anchor="middle" fill="#1a1a1a" font-family="Liberation Sans, sans-serif" >x</text>
<path d="M1.2 350.1H8.9M1.2 331.1H8.9" stroke="#3a3a3a" stroke-width="0.95"/>
<g transform="translate(0,352.8) rotate(-90)"><text x="5.6" y="6.8" font-size="9.2" font-style="italic" fill="#333" font-family="Liberation Sans, sans-serif">v</text><text x="11.1" y="9.1" font-size="6.8" fill="#333" font-family="Liberation Sans, sans-serif">24</text></g>
<rect x="441.80" y="215.80" width="76.45" height="198.90" fill="#d92323"/>
<rect x="562.35" y="215.80" width="78.55" height="198.90" fill="#d92323"/>
<rect x="518.25" y="215.80" width="3.15" height="198.90" fill="#e2a13a"/>
<rect x="559.20" y="215.80" width="3.15" height="198.90" fill="#e2a13a"/>
<rect x="521.40" y="215.80" width="2.10" height="198.90" fill="#b7bb4c"/>
<rect x="557.10" y="215.80" width="2.10" height="198.90" fill="#b7bb4c"/>
<rect x="523.50" y="215.80" width="1.60" height="198.90" fill="#7bb87e"/>
<rect x="555.50" y="215.80" width="1.60" height="198.90" fill="#7bb87e"/>
<rect x="525.10" y="215.80" width="1.20" height="198.90" fill="#4f9db3"/>
<rect x="554.30" y="215.80" width="1.20" height="198.90" fill="#4f9db3"/>
<rect x="526.30" y="215.80" width="1.25" height="198.90" fill="#3848bf"/>
<rect x="553.05" y="215.80" width="1.25" height="198.90" fill="#3848bf"/>
<path d="M518.25 215.80V414.70M562.35 215.80V414.70M521.40 215.80V414.70M559.20 215.80V414.70M523.50 215.80V414.70M557.10 215.80V414.70M525.10 215.80V414.70M555.50 215.80V414.70M526.30 215.80V414.70M554.30 215.80V414.70" stroke="rgba(50,30,10,.5)" stroke-width="0.6" fill="none"/>
<rect x="437.8" y="211.7" width="207.40000000000003" height="207.10000000000002" fill="none" stroke="#a6a6a6" stroke-width="0.8"/>
<path d="M441.80 418.8v-3.0M441.80 211.7v3.0M491.58 418.8v-3.0M491.58 211.7v3.0M541.35 418.8v-3.0M541.35 211.7v3.0M591.12 418.8v-3.0M591.12 211.7v3.0M640.90 418.8v-3.0M640.90 211.7v3.0M451.75 418.8v-1.6M451.75 211.7v1.6M461.71 418.8v-1.6M461.71 211.7v1.6M471.67 418.8v-1.6M471.67 211.7v1.6M481.62 418.8v-1.6M481.62 211.7v1.6M501.53 418.8v-1.6M501.53 211.7v1.6M511.49 418.8v-1.6M511.49 211.7v1.6M521.44 418.8v-1.6M521.44 211.7v1.6M531.39 418.8v-1.6M531.39 211.7v1.6M551.31 418.8v-1.6M551.31 211.7v1.6M561.26 418.8v-1.6M561.26 211.7v1.6M571.22 418.8v-1.6M571.22 211.7v1.6M581.17 418.8v-1.6M581.17 211.7v1.6M601.08 418.8v-1.6M601.08 211.7v1.6M611.04 418.8v-1.6M611.04 211.7v1.6M620.99 418.8v-1.6M620.99 211.7v1.6M630.95 418.8v-1.6M630.95 211.7v1.6M437.8 414.70h3.0M645.2 414.70h-3.0M437.8 364.98h3.0M645.2 364.98h-3.0M437.8 315.25h3.0M645.2 315.25h-3.0M437.8 265.52h3.0M645.2 265.52h-3.0M437.8 215.80h3.0M645.2 215.80h-3.0M437.8 404.75h1.6M645.2 404.75h-1.6M437.8 394.81h1.6M645.2 394.81h-1.6M437.8 384.87h1.6M645.2 384.87h-1.6M437.8 374.92h1.6M645.2 374.92h-1.6M437.8 355.03h1.6M645.2 355.03h-1.6M437.8 345.08h1.6M645.2 345.08h-1.6M437.8 335.14h1.6M645.2 335.14h-1.6M437.8 325.19h1.6M645.2 325.19h-1.6M437.8 305.31h1.6M645.2 305.31h-1.6M437.8 295.36h1.6M645.2 295.36h-1.6M437.8 285.42h1.6M645.2 285.42h-1.6M437.8 275.47h1.6M645.2 275.47h-1.6M437.8 255.58h1.6M645.2 255.58h-1.6M437.8 245.63h1.6M645.2 245.63h-1.6M437.8 235.69h1.6M645.2 235.69h-1.6M437.8 225.75h1.6M645.2 225.75h-1.6" stroke="#a6a6a6" stroke-width="0.7" fill="none"/>
<text transform="translate(441.80,426.90) scale(1,1.2)" font-size="6.7" text-anchor="middle" fill="#5a5a5a" font-family="Liberation Sans, sans-serif" >−10</text>
<text transform="translate(435.90,417.30) scale(1,1.2)" font-size="6.7" text-anchor="end" fill="#5a5a5a" font-family="Liberation Sans, sans-serif" >−10</text>
<text transform="translate(491.58,426.90) scale(1,1.2)" font-size="6.7" text-anchor="middle" fill="#5a5a5a" font-family="Liberation Sans, sans-serif" >−5</text>
<text transform="translate(435.90,367.58) scale(1,1.2)" font-size="6.7" text-anchor="end" fill="#5a5a5a" font-family="Liberation Sans, sans-serif" >−5</text>
<text transform="translate(541.35,426.90) scale(1,1.2)" font-size="6.7" text-anchor="middle" fill="#5a5a5a" font-family="Liberation Sans, sans-serif" >0</text>
<text transform="translate(435.90,317.85) scale(1,1.2)" font-size="6.7" text-anchor="end" fill="#5a5a5a" font-family="Liberation Sans, sans-serif" >0</text>
<text transform="translate(591.12,426.90) scale(1,1.2)" font-size="6.7" text-anchor="middle" fill="#5a5a5a" font-family="Liberation Sans, sans-serif" >5</text>
<text transform="translate(435.90,268.12) scale(1,1.2)" font-size="6.7" text-anchor="end" fill="#5a5a5a" font-family="Liberation Sans, sans-serif" >5</text>
<text transform="translate(640.90,426.90) scale(1,1.2)" font-size="6.7" text-anchor="middle" fill="#5a5a5a" font-family="Liberation Sans, sans-serif" >10</text>
<text transform="translate(435.90,218.40) scale(1,1.2)" font-size="6.7" text-anchor="end" fill="#5a5a5a" font-family="Liberation Sans, sans-serif" >10</text>
<text x="541.50" y="439.80" font-size="8.8" text-anchor="middle" fill="#1a1a1a" font-family="Liberation Sans, sans-serif" >x</text>
<text transform="translate(419.2,315.4) rotate(-90)" font-size="9.2" text-anchor="middle" fill="#1a1a1a" font-family="Liberation Sans, sans-serif">t</text>
<rect x="655.9" y="255.60" width="8.2" height="19.80" fill="#d92323"/>
<rect x="655.9" y="275.10" width="8.2" height="19.00" fill="#e2a13a"/>
<rect x="655.9" y="293.80" width="8.2" height="19.20" fill="#b7bb4c"/>
<rect x="655.9" y="312.70" width="8.2" height="19.30" fill="#7bb87e"/>
<rect x="655.9" y="331.70" width="8.2" height="19.30" fill="#4f9db3"/>
<rect x="655.9" y="350.70" width="8.2" height="18.80" fill="#3f5cd4"/>
<rect x="655.9" y="369.20" width="8.2" height="18.90" fill="#5a1fa0"/>
<path d="M655.9 275.10h11M655.9 293.80h11M655.9 312.70h11M655.9 331.70h11M655.9 350.70h11M655.9 369.20h11" stroke="rgba(40,40,40,.45)" stroke-width="0.6"/>
<text x="669.00" y="277.40" font-size="6.5" text-anchor="start" fill="#777" font-family="Liberation Sans, sans-serif" >0.98</text>
<text x="669.00" y="296.10" font-size="6.5" text-anchor="start" fill="#777" font-family="Liberation Sans, sans-serif" >0.96</text>
<text x="669.00" y="315.00" font-size="6.5" text-anchor="start" fill="#777" font-family="Liberation Sans, sans-serif" >0.94</text>
<text x="669.00" y="334.00" font-size="6.5" text-anchor="start" fill="#777" font-family="Liberation Sans, sans-serif" >0.92</text>
<text x="669.00" y="353.00" font-size="6.5" text-anchor="start" fill="#777" font-family="Liberation Sans, sans-serif" >0.90</text>
<text x="669.00" y="371.50" font-size="6.5" text-anchor="start" fill="#777" font-family="Liberation Sans, sans-serif" >0.88</text>
<path d="M550.4 47.2L674.9 84.3" stroke="#b4b4b4" stroke-width="0.7" fill="none"/>
<path d="M469.5 122.4L550.4 47.2" stroke="#b4b4b4" stroke-width="0.7" fill="none"/>
<path d="M548.6 1.0L550.4 47.2" stroke="#b4b4b4" stroke-width="0.7" fill="none"/>
<path d="M556.9 104.4L615.9 124.8" stroke="#b4b4b4" stroke-width="0.7" fill="none"/>
<g id="b3d"><linearGradient id="p1" gradientUnits="userSpaceOnUse" x1="597.25" y1="67.31" x2="602.05" y2="67.07"><stop offset="0.000" stop-color="#ff1d00"/><stop offset="0.503" stop-color="#ff0019"/><stop offset="1.000" stop-color="#ff0046"/></linearGradient>
<path d="M597.2 66.2l0.1 2.2 4.6-5.1-0.1-2.2z" style="fill:url(#p1);stroke:url(#p1)"/>
<path class="m" d="M601.8 61.1L601.9 63.3"/>
<linearGradient id="p2" gradientUnits="userSpaceOnUse" x1="597.13" y1="65.07" x2="601.96" y2="64.82"><stop offset="0.000" stop-color="#ff2000"/><stop offset="0.503" stop-color="#ff0016"/><stop offset="1.000" stop-color="#ff0043"/></linearGradient>
<path d="M597.1 64l0.1 2.2 4.6-5.1-0.1-2.2z" style="fill:url(#p2);stroke:url(#p2)"/>
<path class="m" d="M601.7 58.9L601.8 61.1"/>
<path d="M597.3 68.4l13.4 4.1 4.4-5.2-13.2-4z" color="#cccccc"/>
<linearGradient id="p3" gradientUnits="userSpaceOnUse" x1="597.01" y1="62.84" x2="601.87" y2="62.57"><stop offset="0.000" stop-color="#ff2400"/><stop offset="0.503" stop-color="#ff0012"/><stop offset="1.000" stop-color="#ff003f"/></linearGradient>
<path d="M596.9 61.7l0.2 2.3 4.6-5.1-0.2-2.2z" style="fill:url(#p3);stroke:url(#p3)"/>
<path class="m" d="M601.5 56.7L601.7 58.9"/>
<linearGradient id="p4" gradientUnits="userSpaceOnUse" x1="596.88" y1="60.61" x2="601.77" y2="60.32"><stop offset="0.000" stop-color="#ff2800"/><stop offset="0.503" stop-color="#ff000f"/><stop offset="1.000" stop-color="#ff003c"/></linearGradient>
<path d="M596.8 59.5l0.1 2.2 4.6-5-0.1-2.2z" style="fill:url(#p4);stroke:url(#p4)"/>
<path class="m" d="M601.4 54.5L601.5 56.7"/>
<linearGradient id="p5" gradientUnits="userSpaceOnUse" x1="610.83" y1="71.34" x2="614.57" y2="71.79"><stop offset="0.000" stop-color="#ff1b00"/><stop offset="0.503" stop-color="#ff0017"/><stop offset="1.000" stop-color="#ff0041"/></linearGradient>
<path d="M610.7 72.5l0.3-2.3 4.4-5.2-0.3 2.3z" style="fill:url(#p5);stroke:url(#p5)"/>
<path class="m" d="M615.1 67.3L615.4 65.0"/>
<linearGradient id="p6" gradientUnits="userSpaceOnUse" x1="596.74" y1="58.38" x2="601.67" y2="58.07"><stop offset="0.000" stop-color="#ff2b00"/><stop offset="0.503" stop-color="#ff000b"/><stop offset="1.000" stop-color="#ff0038"/></linearGradient>
<path d="M596.7 57.3l0.1 2.2 4.6-5-0.1-2.2z" style="fill:url(#p6);stroke:url(#p6)"/>
<path class="m" d="M601.3 52.3L601.4 54.5M596.7 57.5L601.3 52.5"/>
<linearGradient id="p7" gradientUnits="userSpaceOnUse" x1="611.12" y1="69.03" x2="614.84" y2="69.49"><stop offset="0.000" stop-color="#ff1e00"/><stop offset="0.503" stop-color="#ff0014"/><stop offset="1.000" stop-color="#ff003d"/></linearGradient>
<path d="M611 70.2l0.3-2.3 4.4-5.2-0.3 2.3z" style="fill:url(#p7);stroke:url(#p7)"/>
<path class="m" d="M615.4 65.0L615.7 62.7"/>
<linearGradient id="p8" gradientUnits="userSpaceOnUse" x1="596.59" y1="56.16" x2="601.55" y2="55.81"><stop offset="0.000" stop-color="#ff2f00"/><stop offset="0.503" stop-color="#ff0008"/><stop offset="1.000" stop-color="#ff0035"/></linearGradient>
<path d="M596.5 55.1l0.2 2.2 4.6-5-0.1-2.2z" style="fill:url(#p8);stroke:url(#p8)"/>
<path class="m" d="M601.2 50.1L601.3 52.3"/>
<linearGradient id="p9" gradientUnits="userSpaceOnUse" x1="592.56" y1="72.55" x2="597.52" y2="72.27"><stop offset="0.000" stop-color="#ff9b00"/><stop offset="0.503" stop-color="#ff5300"/><stop offset="1.000" stop-color="#ff1d00"/></linearGradient>
<path d="M592.5 71.4l0.1 2.3 4.7-5.3-0.1-2.2z" style="fill:url(#p9);stroke:url(#p9)"/>
<path class="m" d="M597.2 66.2L597.3 68.4"/>
<linearGradient id="p10" gradientUnits="userSpaceOnUse" x1="596.43" y1="53.94" x2="601.43" y2="53.56"><stop offset="0.000" stop-color="#ff3300"/><stop offset="0.503" stop-color="#ff0004"/><stop offset="1.000" stop-color="#ff0032"/></linearGradient>
<path d="M596.3 52.8l0.2 2.3 4.7-5-0.2-2.3z" style="fill:url(#p10);stroke:url(#p10)"/>
<path class="m" d="M601.0 47.8L601.2 50.1"/>
<linearGradient id="p11" gradientUnits="userSpaceOnUse" x1="611.41" y1="66.72" x2="615.13" y2="67.20"><stop offset="0.000" stop-color="#ff2200"/><stop offset="0.503" stop-color="#ff0010"/><stop offset="1.000" stop-color="#ff0039"/></linearGradient>
<path d="M611.3 67.9l0.3-2.3 4.4-5.2-0.3 2.3z" style="fill:url(#p11);stroke:url(#p11)"/>
<path class="m" d="M615.7 62.7L616.0 60.4"/>
<linearGradient id="p12" gradientUnits="userSpaceOnUse" x1="592.43" y1="70.30" x2="597.42" y2="70.00"><stop offset="0.000" stop-color="#ff9f00"/><stop offset="0.503" stop-color="#ff5700"/><stop offset="1.000" stop-color="#ff2000"/></linearGradient>
<path d="M592.4 69.2l0.1 2.2 4.7-5.2-0.1-2.2z" style="fill:url(#p12);stroke:url(#p12)"/>
<path class="m" d="M597.1 64.0L597.2 66.2"/>
<path d="M592.6 73.7l13.5 4.2 4.6-5.4-13.4-4.1z" color="#cccccc"/>
<linearGradient id="p13" gradientUnits="userSpaceOnUse" x1="596.26" y1="51.72" x2="601.30" y2="51.31"><stop offset="0.000" stop-color="#ff3600"/><stop offset="0.503" stop-color="#ff0001"/><stop offset="1.000" stop-color="#ff002e"/></linearGradient>
<path d="M596.2 50.6l0.1 2.2 4.7-5-0.2-2.2z" style="fill:url(#p13);stroke:url(#p13)"/>
<path class="m" d="M600.8 45.6L601.0 47.8"/>
<linearGradient id="p14" gradientUnits="userSpaceOnUse" x1="611.71" y1="64.41" x2="615.41" y2="64.91"><stop offset="0.000" stop-color="#ff2500"/><stop offset="0.503" stop-color="#ff000c"/><stop offset="1.000" stop-color="#ff0036"/></linearGradient>
<path d="M611.6 65.6l0.3-2.3 4.4-5.2-0.3 2.3z" style="fill:url(#p14);stroke:url(#p14)"/>
<path class="m" d="M616.0 60.4L616.3 58.1"/>
<linearGradient id="p15" gradientUnits="userSpaceOnUse" x1="592.29" y1="68.05" x2="597.32" y2="67.74"><stop offset="0.000" stop-color="#ffa300"/><stop offset="0.503" stop-color="#ff5a00"/><stop offset="1.000" stop-color="#ff2400"/></linearGradient>
<path d="M592.2 66.9l0.2 2.3 4.7-5.2-0.2-2.3z" style="fill:url(#p15);stroke:url(#p15)"/>
<path class="m" d="M596.9 61.7L597.1 64.0"/>
<linearGradient id="p16" gradientUnits="userSpaceOnUse" x1="596.07" y1="49.50" x2="601.15" y2="49.05"><stop offset="0.000" stop-color="#ff3a00"/><stop offset="0.503" stop-color="#ff0300"/><stop offset="1.000" stop-color="#ff002b"/></linearGradient>
<path d="M596 48.4l0.2 2.2 4.6-5-0.1-2.1z" style="fill:url(#p16);stroke:url(#p16)"/>
<path class="m" d="M600.7 43.5L600.8 45.6"/>
<linearGradient id="p17" gradientUnits="userSpaceOnUse" x1="592.14" y1="65.80" x2="597.20" y2="65.47"><stop offset="0.000" stop-color="#ffa600"/><stop offset="0.503" stop-color="#ff5e00"/><stop offset="1.000" stop-color="#ff2800"/></linearGradient>
<path d="M592.1 64.7l0.1 2.2 4.7-5.2-0.1-2.2z" style="fill:url(#p17);stroke:url(#p17)"/>
<path class="m" d="M596.8 59.5L596.9 61.7"/>
<linearGradient id="p18" gradientUnits="userSpaceOnUse" x1="612.03" y1="62.11" x2="615.71" y2="62.62"><stop offset="0.000" stop-color="#ff2900"/><stop offset="0.503" stop-color="#ff0009"/><stop offset="1.000" stop-color="#ff0032"/></linearGradient>
<path d="M611.9 63.3l0.3-2.3 4.5-5.2-0.4 2.3z" style="fill:url(#p18);stroke:url(#p18)"/>
<path class="m" d="M616.3 58.1L616.7 55.8M612.0 62.0L616.5 56.9"/>
<linearGradient id="p19" gradientUnits="userSpaceOnUse" x1="595.87" y1="47.29" x2="600.99" y2="46.79"><stop offset="0.000" stop-color="#ff3e00"/><stop offset="0.503" stop-color="#ff0600"/><stop offset="1.000" stop-color="#ff0028"/></linearGradient>
<path d="M595.8 46.2l0.2 2.2 4.7-4.9-0.2-2.2z" style="fill:url(#p19);stroke:url(#p19)"/>
<path class="m" d="M600.5 41.3L600.7 43.5"/>
<linearGradient id="p20" gradientUnits="userSpaceOnUse" x1="563.16" y1="13.11" x2="564.66" y2="7.61"><stop offset="0.000" stop-color="#ff7a00"/><stop offset="0.202" stop-color="#ff5f00"/><stop offset="0.403" stop-color="#ff4500"/><stop offset="0.603" stop-color="#ff2c00"/><stop offset="0.802" stop-color="#ff1600"/><stop offset="1.000" stop-color="#ff0000"/></linearGradient>
<path d="M544.2 8.1l38.5 10.4 5-4.6-38.1-10.2z" style="fill:url(#p20);stroke:url(#p20)"/>
<path class="m" d="M549.6 3.7L587.7 13.9M544.2 8.1L549.6 3.7M551.6 10.0L556.8 5.6M559.0 12.0L564.2 7.5M566.5 14.0L571.6 9.5M574.1 16.0L579.2 11.4M581.8 18.2L586.8 13.6"/>
<linearGradient id="p21" gradientUnits="userSpaceOnUse" x1="606.28" y1="76.69" x2="610.16" y2="77.14"><stop offset="0.000" stop-color="#ff8f00"/><stop offset="0.503" stop-color="#ff4d00"/><stop offset="1.000" stop-color="#ff1b00"/></linearGradient>
<path d="M606.1 77.9l0.3-2.4 4.6-5.3-0.3 2.3z" style="fill:url(#p21);stroke:url(#p21)"/>
<path class="m" d="M610.7 72.5L611.0 70.2"/>
<linearGradient id="p22" gradientUnits="userSpaceOnUse" x1="591.99" y1="63.56" x2="597.08" y2="63.20"><stop offset="0.000" stop-color="#ffaa00"/><stop offset="0.503" stop-color="#ff6200"/><stop offset="1.000" stop-color="#ff2b00"/></linearGradient>
<path d="M591.9 62.5l0.2 2.2 4.7-5.2-0.1-2.2z" style="fill:url(#p22);stroke:url(#p22)"/>
<path class="m" d="M596.7 57.3L596.8 59.5M591.9 62.7L596.7 57.5"/>
<linearGradient id="p23" gradientUnits="userSpaceOnUse" x1="595.64" y1="45.08" x2="600.82" y2="44.53"><stop offset="0.000" stop-color="#ff4100"/><stop offset="0.503" stop-color="#ff0a00"/><stop offset="1.000" stop-color="#ff0024"/></linearGradient>
<path d="M595.5 44l0.3 2.2 4.7-4.9-0.3-2.2z" style="fill:url(#p23);stroke:url(#p23)"/>
<path class="m" d="M600.2 39.1L600.5 41.3"/>
<linearGradient id="p24" gradientUnits="userSpaceOnUse" x1="612.36" y1="59.81" x2="616.01" y2="60.34"><stop offset="0.000" stop-color="#ff2c00"/><stop offset="0.503" stop-color="#ff0005"/><stop offset="1.000" stop-color="#ff002e"/></linearGradient>
<path d="M612.2 61l0.3-2.3 4.5-5.2-0.3 2.3z" style="fill:url(#p24);stroke:url(#p24)"/>
<path class="m" d="M616.7 55.8L617.0 53.5"/>
<linearGradient id="p25" gradientUnits="userSpaceOnUse" x1="606.55" y1="74.37" x2="610.42" y2="74.83"><stop offset="0.000" stop-color="#ff9200"/><stop offset="0.503" stop-color="#ff5000"/><stop offset="1.000" stop-color="#ff1e00"/></linearGradient>
<path d="M606.4 75.5l0.3-2.3 4.6-5.3-0.3 2.3z" style="fill:url(#p25);stroke:url(#p25)"/>
<path class="m" d="M611.0 70.2L611.3 67.9"/>
<linearGradient id="p26" gradientUnits="userSpaceOnUse" x1="595.39" y1="42.87" x2="600.63" y2="42.26"><stop offset="0.000" stop-color="#ff4500"/><stop offset="0.504" stop-color="#ff0d00"/><stop offset="1.000" stop-color="#ff0021"/></linearGradient>
<path d="M595.3 41.8l0.2 2.2 4.7-4.9-0.2-2.2z" style="fill:url(#p26);stroke:url(#p26)"/>
<path class="m" d="M600.0 36.9L600.2 39.1"/>
<linearGradient id="p27" gradientUnits="userSpaceOnUse" x1="591.83" y1="61.32" x2="596.95" y2="60.93"><stop offset="0.000" stop-color="#ffae00"/><stop offset="0.503" stop-color="#ff6600"/><stop offset="1.000" stop-color="#ff2f00"/></linearGradient>
<path d="M591.7 60.2l0.2 2.3 4.8-5.2-0.2-2.2z" style="fill:url(#p27);stroke:url(#p27)"/>
<path class="m" d="M596.5 55.1L596.7 57.3"/>
<linearGradient id="p28" gradientUnits="userSpaceOnUse" x1="587.73" y1="77.94" x2="592.87" y2="77.61"><stop offset="0.000" stop-color="#ffff00"/><stop offset="0.503" stop-color="#ffe300"/><stop offset="1.000" stop-color="#ff9b00"/></linearGradient>
<path d="M587.7 76.8l0.1 2.3 4.8-5.4-0.1-2.3z" style="fill:url(#p28);stroke:url(#p28)"/>
<path class="m" d="M592.5 71.4L592.6 73.7"/>
<linearGradient id="p29" gradientUnits="userSpaceOnUse" x1="612.71" y1="57.51" x2="616.32" y2="58.07"><stop offset="0.000" stop-color="#ff2f00"/><stop offset="0.504" stop-color="#ff0002"/><stop offset="1.000" stop-color="#ff002b"/></linearGradient>
<path d="M612.5 58.7l0.4-2.3 4.5-5.1-0.4 2.2z" style="fill:url(#p29);stroke:url(#p29)"/>
<path class="m" d="M617.0 53.5L617.4 51.3"/>
<linearGradient id="p30" gradientUnits="userSpaceOnUse" x1="595.12" y1="40.68" x2="600.42" y2="39.98"><stop offset="0.000" stop-color="#ff4900"/><stop offset="0.504" stop-color="#ff1100"/><stop offset="1.000" stop-color="#ff001e"/></linearGradient>
<path d="M595 39.6l0.3 2.2 4.7-4.9-0.3-2.2z" style="fill:url(#p30);stroke:url(#p30)"/>
<path class="m" d="M599.7 34.7L600.0 36.9"/>
<linearGradient id="p31" gradientUnits="userSpaceOnUse" x1="591.65" y1="59.08" x2="596.82" y2="58.66"><stop offset="0.000" stop-color="#ffb200"/><stop offset="0.504" stop-color="#ff6900"/><stop offset="1.000" stop-color="#ff3300"/></linearGradient>
<path d="M591.6 58l0.1 2.2 4.8-5.1-0.2-2.3z" style="fill:url(#p31);stroke:url(#p31)"/>
<path class="m" d="M596.3 52.8L596.5 55.1"/>
<linearGradient id="p32" gradientUnits="userSpaceOnUse" x1="606.83" y1="72.05" x2="610.69" y2="72.53"><stop offset="0.000" stop-color="#ff9600"/><stop offset="0.504" stop-color="#ff5300"/><stop offset="1.000" stop-color="#ff2200"/></linearGradient>
<path d="M606.7 73.2l0.3-2.3 4.6-5.3-0.3 2.3z" style="fill:url(#p32);stroke:url(#p32)"/>
<path class="m" d="M611.3 67.9L611.6 65.6"/>
<linearGradient id="p33" gradientUnits="userSpaceOnUse" x1="587.59" y1="75.67" x2="592.76" y2="75.33"><stop offset="0.000" stop-color="#ffff00"/><stop offset="0.504" stop-color="#ffe700"/><stop offset="1.000" stop-color="#ff9f00"/></linearGradient>
<path d="M587.5 74.6l0.2 2.2 4.8-5.4-0.1-2.2z" style="fill:url(#p33);stroke:url(#p33)"/>
<path class="m" d="M592.4 69.2L592.5 71.4"/>
<path d="M587.8 79.1l13.7 4.3 4.6-5.5-13.5-4.2z" color="#cccccc"/>
<linearGradient id="p34" gradientUnits="userSpaceOnUse" x1="613.07" y1="55.21" x2="616.64" y2="55.79"><stop offset="0.000" stop-color="#ff3200"/><stop offset="0.504" stop-color="#ff0100"/><stop offset="1.000" stop-color="#ff0027"/></linearGradient>
<path d="M612.9 56.4l0.4-2.3 4.5-5.1-0.4 2.3z" style="fill:url(#p34);stroke:url(#p34)"/>
<path class="m" d="M617.4 51.3L617.8 49.0"/>
<linearGradient id="p35" gradientUnits="userSpaceOnUse" x1="594.81" y1="38.49" x2="600.18" y2="37.68"><stop offset="0.000" stop-color="#ff4e00"/><stop offset="0.504" stop-color="#ff1500"/><stop offset="1.000" stop-color="#ff001b"/></linearGradient>
<path d="M594.6 37.4l0.4 2.2 4.7-4.9-0.3-2.1z" style="fill:url(#p35);stroke:url(#p35)"/>
<path class="m" d="M599.4 32.6L599.7 34.7"/>
<linearGradient id="p36" gradientUnits="userSpaceOnUse" x1="591.46" y1="56.84" x2="596.67" y2="56.39"><stop offset="0.000" stop-color="#ffb600"/><stop offset="0.504" stop-color="#ff6d00"/><stop offset="1.000" stop-color="#ff3600"/></linearGradient>
<path d="M591.4 55.7l0.2 2.3 4.7-5.2-0.1-2.2z" style="fill:url(#p36);stroke:url(#p36)"/>
<path class="m" d="M596.2 50.6L596.3 52.8"/>
<linearGradient id="p37" gradientUnits="userSpaceOnUse" x1="607.13" y1="69.73" x2="610.97" y2="70.22"><stop offset="0.000" stop-color="#ff9900"/><stop offset="0.504" stop-color="#ff5700"/><stop offset="1.000" stop-color="#ff2500"/></linearGradient>
<path d="M607 70.9l0.3-2.3 4.6-5.3-0.3 2.3z" style="fill:url(#p37);stroke:url(#p37)"/>
<path class="m" d="M611.6 65.6L611.9 63.3"/>
<linearGradient id="p38" gradientUnits="userSpaceOnUse" x1="587.44" y1="73.41" x2="592.64" y2="73.05"><stop offset="0.000" stop-color="#ffff00"/><stop offset="0.504" stop-color="#ffeb00"/><stop offset="1.000" stop-color="#ffa300"/></linearGradient>
<path d="M587.4 72.3l0.1 2.3 4.9-5.4-0.2-2.3z" style="fill:url(#p38);stroke:url(#p38)"/>
<path class="m" d="M592.2 66.9L592.4 69.2"/>
<linearGradient id="p39" gradientUnits="userSpaceOnUse" x1="594.46" y1="36.31" x2="599.91" y2="35.37"><stop offset="0.000" stop-color="#ff5300"/><stop offset="0.504" stop-color="#ff1800"/><stop offset="1.000" stop-color="#ff0018"/></linearGradient>
<path d="M594.3 35.3l0.3 2.1 4.8-4.8-0.3-2.2z" style="fill:url(#p39);stroke:url(#p39)"/>
<path class="m" d="M599.1 30.4L599.4 32.6"/>
<linearGradient id="p40" gradientUnits="userSpaceOnUse" x1="613.45" y1="52.92" x2="616.98" y2="53.53"><stop offset="0.000" stop-color="#ff3500"/><stop offset="0.504" stop-color="#ff0500"/><stop offset="1.000" stop-color="#ff0024"/></linearGradient>
<path d="M613.3 54.1l0.3-2.3 4.6-5.1-0.4 2.3z" style="fill:url(#p40);stroke:url(#p40)"/>
<path class="m" d="M617.8 49.0L618.2 46.7"/>
<linearGradient id="p41" gradientUnits="userSpaceOnUse" x1="591.26" y1="54.61" x2="596.51" y2="54.11"><stop offset="0.000" stop-color="#ffba00"/><stop offset="0.504" stop-color="#ff7100"/><stop offset="1.000" stop-color="#ff3a00"/></linearGradient>
<path d="M591.2 53.5l0.2 2.2 4.8-5.1-0.2-2.2z" style="fill:url(#p41);stroke:url(#p41)"/>
<path class="m" d="M596.0 48.4L596.2 50.6"/>
<linearGradient id="p42" gradientUnits="userSpaceOnUse" x1="594.06" y1="34.14" x2="599.59" y2="33.03"><stop offset="0.000" stop-color="#ff5800"/><stop offset="0.504" stop-color="#ff1c00"/><stop offset="1.000" stop-color="#ff0015"/></linearGradient>
<path d="M593.8 33.1l0.5 2.2 4.8-4.9-0.5-2.1z" style="fill:url(#p42);stroke:url(#p42)"/>
<path class="m" d="M598.6 28.3L599.1 30.4"/>
<linearGradient id="p43" gradientUnits="userSpaceOnUse" x1="587.27" y1="71.15" x2="592.51" y2="70.76"><stop offset="0.000" stop-color="#ffff00"/><stop offset="0.504" stop-color="#ffef00"/><stop offset="1.000" stop-color="#ffa600"/></linearGradient>
<path d="M587.2 70l0.2 2.3 4.8-5.4-0.1-2.2z" style="fill:url(#p43);stroke:url(#p43)"/>
<path class="m" d="M592.1 64.7L592.2 66.9"/>
<linearGradient id="p44" gradientUnits="userSpaceOnUse" x1="607.43" y1="67.41" x2="611.25" y2="67.92"><stop offset="0.000" stop-color="#ff9c00"/><stop offset="0.504" stop-color="#ff5a00"/><stop offset="1.000" stop-color="#ff2900"/></linearGradient>
<path d="M607.3 68.6l0.3-2.3 4.6-5.3-0.3 2.3z" style="fill:url(#p44);stroke:url(#p44)"/>
<path class="m" d="M611.9 63.3L612.2 61.0M607.4 67.3L612.0 62.0"/>
<linearGradient id="p45" gradientUnits="userSpaceOnUse" x1="591.04" y1="52.38" x2="596.33" y2="51.83"><stop offset="0.000" stop-color="#ffbf00"/><stop offset="0.504" stop-color="#ff7500"/><stop offset="1.000" stop-color="#ff3e00"/></linearGradient>
<path d="M590.9 51.3l0.3 2.2 4.8-5.1-0.2-2.2z" style="fill:url(#p45);stroke:url(#p45)"/>
<path class="m" d="M595.8 46.2L596.0 48.4"/>
<linearGradient id="p46" gradientUnits="userSpaceOnUse" x1="593.59" y1="31.99" x2="599.22" y2="30.66"><stop offset="0.000" stop-color="#ff5e00"/><stop offset="0.504" stop-color="#ff2100"/><stop offset="1.000" stop-color="#ff0012"/></linearGradient>
<path d="M593.3 31l0.5 2.1 4.8-4.8-0.4-2.1z" style="fill:url(#p46);stroke:url(#p46)"/>
<path class="m" d="M598.2 26.2L598.6 28.3"/>
<linearGradient id="p47" gradientUnits="userSpaceOnUse" x1="613.86" y1="50.63" x2="617.32" y2="51.27"><stop offset="0.000" stop-color="#ff3800"/><stop offset="0.504" stop-color="#ff0800"/><stop offset="1.000" stop-color="#ff0020"/></linearGradient>
<path d="M613.6 51.8l0.5-2.3 4.5-5.1-0.4 2.3z" style="fill:url(#p47);stroke:url(#p47)"/>
<path class="m" d="M618.2 46.7L618.6 44.4"/>
<linearGradient id="p48" gradientUnits="userSpaceOnUse" x1="557.83" y1="17.74" x2="559.41" y2="12.07"><stop offset="0.000" stop-color="#ffff00"/><stop offset="0.202" stop-color="#fff200"/><stop offset="0.403" stop-color="#ffce00"/><stop offset="0.603" stop-color="#ffaf00"/><stop offset="0.802" stop-color="#ff9500"/><stop offset="1.000" stop-color="#ff7a00"/></linearGradient>
<path d="M538.7 12.6l38.9 10.7 5.1-4.8-38.5-10.4z" style="fill:url(#p48);stroke:url(#p48)"/>
<path class="m" d="M544.2 8.1L582.7 18.5M538.7 12.6L544.2 8.1M546.1 14.6L551.6 10.0M553.6 16.6L559.0 12.0M561.2 18.7L566.5 14.0M568.9 20.7L574.1 16.0M576.6 23.0L581.8 18.2"/>
<linearGradient id="p49" gradientUnits="userSpaceOnUse" x1="601.60" y1="82.20" x2="605.63" y2="82.64"><stop offset="0.000" stop-color="#ffff00"/><stop offset="0.504" stop-color="#ffd200"/><stop offset="1.000" stop-color="#ff8f00"/></linearGradient>
<path d="M601.5 83.4l0.2-2.4 4.7-5.5-0.3 2.4z" style="fill:url(#p49);stroke:url(#p49)"/>
<path class="m" d="M606.1 77.9L606.4 75.5"/>
<linearGradient id="p50" gradientUnits="userSpaceOnUse" x1="587.10" y1="68.88" x2="592.37" y2="68.48"><stop offset="0.000" stop-color="#ffff00"/><stop offset="0.504" stop-color="#fff300"/><stop offset="1.000" stop-color="#ffaa00"/></linearGradient>
<path d="M587 67.8l0.2 2.2 4.9-5.3-0.2-2.2z" style="fill:url(#p50);stroke:url(#p50)"/>
<path class="m" d="M591.9 62.5L592.1 64.7M587.0 68.0L591.9 62.7"/>
<linearGradient id="p51" gradientUnits="userSpaceOnUse" x1="593.04" y1="29.86" x2="598.77" y2="28.22"><stop offset="0.000" stop-color="#ff6500"/><stop offset="0.504" stop-color="#ff2500"/><stop offset="1.000" stop-color="#ff000f"/></linearGradient>
<path d="M592.7 28.9l0.6 2.1 4.9-4.8-0.6-2.1z" style="fill:url(#p51);stroke:url(#p51)"/>
<path class="m" d="M597.6 24.1L598.2 26.2"/>
<linearGradient id="p52" gradientUnits="userSpaceOnUse" x1="590.80" y1="50.15" x2="596.15" y2="49.55"><stop offset="0.000" stop-color="#ffc300"/><stop offset="0.504" stop-color="#ff7900"/><stop offset="1.000" stop-color="#ff4100"/></linearGradient>
<path d="M590.7 49.1l0.2 2.2 4.9-5.1-0.3-2.2z" style="fill:url(#p52);stroke:url(#p52)"/>
<path class="m" d="M595.5 44.0L595.8 46.2"/>
<linearGradient id="p53" gradientUnits="userSpaceOnUse" x1="607.75" y1="65.09" x2="611.54" y2="65.63"><stop offset="0.000" stop-color="#ff9f00"/><stop offset="0.504" stop-color="#ff5d00"/><stop offset="1.000" stop-color="#ff2c00"/></linearGradient>
<path d="M607.6 66.3l0.3-2.3 4.6-5.3-0.3 2.3z" style="fill:url(#p53);stroke:url(#p53)"/>
<path class="m" d="M612.2 61.0L612.5 58.7"/>
<linearGradient id="p54" gradientUnits="userSpaceOnUse" x1="614.30" y1="48.34" x2="617.68" y2="49.02"><stop offset="0.000" stop-color="#ff3b00"/><stop offset="0.504" stop-color="#ff0b00"/><stop offset="1.000" stop-color="#ff001c"/></linearGradient>
<path d="M614.1 49.5l0.4-2.3 4.6-5-0.5 2.2z" style="fill:url(#p54);stroke:url(#p54)"/>
<path class="m" d="M618.6 44.4L619.1 42.2"/>
<linearGradient id="p55" gradientUnits="userSpaceOnUse" x1="592.37" y1="27.78" x2="598.18" y2="25.69"><stop offset="0.000" stop-color="#ff6d00"/><stop offset="0.504" stop-color="#ff2a00"/><stop offset="1.000" stop-color="#ff000d"/></linearGradient>
<path d="M592 26.8l0.7 2.1 4.9-4.8-0.7-2z" style="fill:url(#p55);stroke:url(#p55)"/>
<path class="m" d="M596.9 22.0L597.6 24.1"/>
<linearGradient id="p56" gradientUnits="userSpaceOnUse" x1="583.73" y1="18.90" x2="585.90" y2="13.18"><stop offset="0.000" stop-color="#ff8000"/><stop offset="0.504" stop-color="#ff3a00"/><stop offset="1.000" stop-color="#ff0001"/></linearGradient>
<path d="M582.7 18.5l2 0.8 5-4.7-2-0.7z" style="fill:url(#p56);stroke:url(#p56)"/>
<path class="m" d="M587.7 13.9L589.7 14.6"/>
<linearGradient id="p57" gradientUnits="userSpaceOnUse" x1="601.86" y1="79.87" x2="605.88" y2="80.32"><stop offset="0.000" stop-color="#ffff00"/><stop offset="0.504" stop-color="#ffd500"/><stop offset="1.000" stop-color="#ff9200"/></linearGradient>
<path d="M601.7 81l0.3-2.3 4.7-5.5-0.3 2.3z" style="fill:url(#p57);stroke:url(#p57)"/>
<path class="m" d="M606.4 75.5L606.7 73.2"/>
<linearGradient id="p58" gradientUnits="userSpaceOnUse" x1="586.92" y1="66.63" x2="592.23" y2="66.19"><stop offset="0.000" stop-color="#ffff00"/><stop offset="0.504" stop-color="#fff700"/><stop offset="1.000" stop-color="#ffae00"/></linearGradient>
<path d="M586.8 65.5l0.2 2.3 4.9-5.3-0.2-2.3z" style="fill:url(#p58);stroke:url(#p58)"/>
<path class="m" d="M591.7 60.2L591.9 62.5"/>
<linearGradient id="p59" gradientUnits="userSpaceOnUse" x1="582.77" y1="83.48" x2="588.09" y2="83.11"><stop offset="0.000" stop-color="#90ff00"/><stop offset="0.504" stop-color="#dcff00"/><stop offset="1.000" stop-color="#ffff00"/></linearGradient>
<path d="M582.7 82.3l0.2 2.3 4.9-5.5-0.1-2.3z" style="fill:url(#p59);stroke:url(#p59)"/>
<path class="m" d="M587.7 76.8L587.8 79.1"/>
<linearGradient id="p60" gradientUnits="userSpaceOnUse" x1="591.54" y1="25.77" x2="597.35" y2="23.02"><stop offset="0.000" stop-color="#ff7600"/><stop offset="0.504" stop-color="#ff3000"/><stop offset="1.000" stop-color="#ff000a"/></linearGradient>
<path d="M591.1 24.9l0.9 1.9 4.9-4.7-1-2z" style="fill:url(#p60);stroke:url(#p60)"/>
<path class="m" d="M595.9 20.1L596.9 22.0"/>
<linearGradient id="p61" gradientUnits="userSpaceOnUse" x1="585.71" y1="19.75" x2="588.55" y2="14.02"><stop offset="0.000" stop-color="#ff8500"/><stop offset="0.504" stop-color="#ff3c00"/><stop offset="1.000" stop-color="#ff0001"/></linearGradient>
<path d="M584.7 19.3l2 1 4.9-4.7-1.9-1z" style="fill:url(#p61);stroke:url(#p61)"/>
<path class="m" d="M589.7 14.6L591.6 15.6"/>
<linearGradient id="p62" gradientUnits="userSpaceOnUse" x1="590.53" y1="47.93" x2="595.94" y2="47.25"><stop offset="0.000" stop-color="#ffc700"/><stop offset="0.504" stop-color="#ff7d00"/><stop offset="1.000" stop-color="#ff4500"/></linearGradient>
<path d="M590.4 46.8l0.3 2.3 4.8-5.1-0.2-2.2z" style="fill:url(#p62);stroke:url(#p62)"/>
<path class="m" d="M595.3 41.8L595.5 44.0"/>
<linearGradient id="p63" gradientUnits="userSpaceOnUse" x1="590.49" y1="23.89" x2="596.08" y2="20.23"><stop offset="0.000" stop-color="#ff8000"/><stop offset="0.504" stop-color="#ff3600"/><stop offset="1.000" stop-color="#ff0007"/></linearGradient>
<path d="M589.9 23.1l1.2 1.8 4.8-4.8-1.1-1.8z" style="fill:url(#p63);stroke:url(#p63)"/>
<path class="m" d="M594.8 18.3L595.9 20.1"/>
<linearGradient id="p64" gradientUnits="userSpaceOnUse" x1="587.55" y1="20.83" x2="591.42" y2="15.38"><stop offset="0.000" stop-color="#ff8900"/><stop offset="0.504" stop-color="#ff3d00"/><stop offset="1.000" stop-color="#ff0003"/></linearGradient>
<path d="M586.7 20.3l1.7 1.2 4.9-4.7-1.7-1.2z" style="fill:url(#p64);stroke:url(#p64)"/>
<path class="m" d="M591.6 15.6L593.3 16.8"/>
<linearGradient id="p65" gradientUnits="userSpaceOnUse" x1="608.08" y1="62.78" x2="611.84" y2="63.34"><stop offset="0.000" stop-color="#ffa200"/><stop offset="0.504" stop-color="#ff6000"/><stop offset="1.000" stop-color="#ff2f00"/></linearGradient>
<path d="M607.9 64l0.4-2.4 4.6-5.2-0.4 2.3z" style="fill:url(#p65);stroke:url(#p65)"/>
<path class="m" d="M612.5 58.7L612.9 56.4"/>
<linearGradient id="p66" gradientUnits="userSpaceOnUse" x1="589.16" y1="22.21" x2="594.10" y2="17.53"><stop offset="0.000" stop-color="#ff8800"/><stop offset="0.504" stop-color="#ff3b00"/><stop offset="1.000" stop-color="#ff0005"/></linearGradient>
<path d="M588.4 21.5l1.5 1.6 4.9-4.8-1.5-1.5z" style="fill:url(#p66);stroke:url(#p66)"/>
<path class="m" d="M593.3 16.8L594.8 18.3M589.6 22.6L594.5 17.9"/>
<linearGradient id="p67" gradientUnits="userSpaceOnUse" x1="614.78" y1="46.06" x2="618.05" y2="46.78"><stop offset="0.000" stop-color="#ff3e00"/><stop offset="0.504" stop-color="#ff0e00"/><stop offset="1.000" stop-color="#ff0019"/></linearGradient>
<path d="M614.5 47.2l0.5-2.2 4.6-5.1-0.5 2.3z" style="fill:url(#p67);stroke:url(#p67)"/>
<path class="m" d="M619.1 42.2L619.6 39.9"/>
<linearGradient id="p68" gradientUnits="userSpaceOnUse" x1="590.24" y1="45.71" x2="595.71" y2="44.95"><stop offset="0.000" stop-color="#ffcd00"/><stop offset="0.504" stop-color="#ff8200"/><stop offset="1.000" stop-color="#ff4900"/></linearGradient>
<path d="M590.1 44.6l0.3 2.2 4.9-5-0.3-2.2z" style="fill:url(#p68);stroke:url(#p68)"/>
<path class="m" d="M595.0 39.6L595.3 41.8"/>
<linearGradient id="p69" gradientUnits="userSpaceOnUse" x1="586.73" y1="64.37" x2="592.07" y2="63.90"><stop offset="0.000" stop-color="#ffff00"/><stop offset="0.504" stop-color="#fffb00"/><stop offset="1.000" stop-color="#ffb200"/></linearGradient>
<path d="M586.6 63.3l0.2 2.2 4.9-5.3-0.1-2.2z" style="fill:url(#p69);stroke:url(#p69)"/>
<path class="m" d="M591.6 58.0L591.7 60.2"/>
<linearGradient id="p70" gradientUnits="userSpaceOnUse" x1="602.13" y1="77.53" x2="606.13" y2="78.00"><stop offset="0.000" stop-color="#ffff00"/><stop offset="0.504" stop-color="#ffd800"/><stop offset="1.000" stop-color="#ff9600"/></linearGradient>
<path d="M602 78.7l0.3-2.3 4.7-5.5-0.3 2.3z" style="fill:url(#p70);stroke:url(#p70)"/>
<path class="m" d="M606.7 73.2L607.0 70.9"/>
<linearGradient id="p71" gradientUnits="userSpaceOnUse" x1="582.61" y1="81.20" x2="587.96" y2="80.81"><stop offset="0.000" stop-color="#8cff00"/><stop offset="0.504" stop-color="#d9ff00"/><stop offset="1.000" stop-color="#ffff00"/></linearGradient>
<path d="M582.5 80.1l0.2 2.2 5-5.5-0.2-2.2z" style="fill:url(#p71);stroke:url(#p71)"/>
<path class="m" d="M587.5 74.5L587.7 76.8"/>
<path d="M582.9 84.6l13.8 4.5 4.8-5.7-13.7-4.3z" color="#cccccc"/>
<linearGradient id="p72" gradientUnits="userSpaceOnUse" x1="608.44" y1="60.47" x2="612.15" y2="61.05"><stop offset="0.000" stop-color="#ffa400"/><stop offset="0.504" stop-color="#ff6300"/><stop offset="1.000" stop-color="#ff3200"/></linearGradient>
<path d="M608.3 61.6l0.3-2.3 4.7-5.2-0.4 2.3z" style="fill:url(#p72);stroke:url(#p72)"/>
<path class="m" d="M612.9 56.4L613.3 54.1"/>
<linearGradient id="p73" gradientUnits="userSpaceOnUse" x1="589.91" y1="43.50" x2="595.46" y2="42.64"><stop offset="0.000" stop-color="#ffd400"/><stop offset="0.504" stop-color="#ff8700"/><stop offset="1.000" stop-color="#ff4e00"/></linearGradient>
<path d="M589.7 42.4l0.4 2.2 4.9-5-0.4-2.2z" style="fill:url(#p73);stroke:url(#p73)"/>
<path class="m" d="M594.6 37.4L595.0 39.6"/>
<linearGradient id="p74" gradientUnits="userSpaceOnUse" x1="615.31" y1="43.79" x2="618.43" y2="44.56"><stop offset="0.000" stop-color="#ff4000"/><stop offset="0.504" stop-color="#ff1100"/><stop offset="1.000" stop-color="#ff0015"/></linearGradient>
<path d="M615 45l0.6-2.3 4.5-5-0.5 2.2z" style="fill:url(#p74);stroke:url(#p74)"/>
<path class="m" d="M619.6 39.9L620.1 37.7"/>
<linearGradient id="p75" gradientUnits="userSpaceOnUse" x1="586.53" y1="62.12" x2="591.91" y2="61.61"><stop offset="0.000" stop-color="#ffff00"/><stop offset="0.504" stop-color="#ffff00"/><stop offset="1.000" stop-color="#ffb600"/></linearGradient>
<path d="M586.4 61l0.2 2.3 5-5.3-0.2-2.3z" style="fill:url(#p75);stroke:url(#p75)"/>
<path class="m" d="M591.4 55.7L591.6 58.0"/>
<linearGradient id="p76" gradientUnits="userSpaceOnUse" x1="582.44" y1="78.92" x2="587.83" y2="78.51"><stop offset="0.000" stop-color="#89ff00"/><stop offset="0.504" stop-color="#d6ff00"/><stop offset="1.000" stop-color="#ffff00"/></linearGradient>
<path d="M582.4 77.8l0.1 2.3 5-5.5-0.1-2.3z" style="fill:url(#p76);stroke:url(#p76)"/>
<path class="m" d="M587.4 72.3L587.5 74.5"/>
<linearGradient id="p77" gradientUnits="userSpaceOnUse" x1="602.41" y1="75.20" x2="606.40" y2="75.69"><stop offset="0.000" stop-color="#ffff00"/><stop offset="0.504" stop-color="#ffdb00"/><stop offset="1.000" stop-color="#ff9900"/></linearGradient>
<path d="M602.3 76.4l0.3-2.4 4.7-5.4-0.3 2.3z" style="fill:url(#p77);stroke:url(#p77)"/>
<path class="m" d="M607.0 70.9L607.3 68.6"/>
<linearGradient id="p78" gradientUnits="userSpaceOnUse" x1="589.55" y1="41.30" x2="595.17" y2="40.30"><stop offset="0.000" stop-color="#ffdb00"/><stop offset="0.504" stop-color="#ff8d00"/><stop offset="1.000" stop-color="#ff5300"/></linearGradient>
<path d="M589.4 40.2l0.3 2.2 4.9-5-0.3-2.1z" style="fill:url(#p78);stroke:url(#p78)"/>
<path class="m" d="M594.3 35.3L594.6 37.4"/>
<linearGradient id="p79" gradientUnits="userSpaceOnUse" x1="608.81" y1="58.16" x2="612.47" y2="58.77"><stop offset="0.000" stop-color="#ffa600"/><stop offset="0.504" stop-color="#ff6600"/><stop offset="1.000" stop-color="#ff3500"/></linearGradient>
<path d="M608.6 59.3l0.4-2.3 4.6-5.2-0.3 2.3z" style="fill:url(#p79);stroke:url(#p79)"/>
<path class="m" d="M613.3 54.1L613.7 51.8"/>
<linearGradient id="p80" gradientUnits="userSpaceOnUse" x1="586.31" y1="59.86" x2="591.73" y2="59.31"><stop offset="0.000" stop-color="#ffff00"/><stop offset="0.504" stop-color="#ffff00"/><stop offset="1.000" stop-color="#ffba00"/></linearGradient>
<path d="M586.2 58.8l0.2 2.2 5-5.3-0.2-2.2z" style="fill:url(#p80);stroke:url(#p80)"/>
<path class="m" d="M591.2 53.5L591.4 55.7"/>
<linearGradient id="p81" gradientUnits="userSpaceOnUse" x1="615.90" y1="41.53" x2="618.82" y2="42.35"><stop offset="0.000" stop-color="#fd4100"/><stop offset="0.504" stop-color="#fd1400"/><stop offset="1.000" stop-color="#fd0012"/></linearGradient>
<path d="M615.6 42.7l0.6-2.2 4.6-5.1-0.7 2.3z" style="fill:url(#p81);stroke:url(#p81)"/>
<path class="m" d="M620.1 37.7L620.8 35.4"/>
<linearGradient id="p82" gradientUnits="userSpaceOnUse" x1="582.26" y1="76.64" x2="587.68" y2="76.21"><stop offset="0.000" stop-color="#85ff00"/><stop offset="0.504" stop-color="#d2ff00"/><stop offset="1.000" stop-color="#ffff00"/></linearGradient>
<path d="M582.2 75.5l0.2 2.3 5-5.5-0.2-2.3z" style="fill:url(#p82);stroke:url(#p82)"/>
<path class="m" d="M587.2 70.0L587.4 72.3"/>
<linearGradient id="p83" gradientUnits="userSpaceOnUse" x1="589.13" y1="39.12" x2="594.84" y2="37.94"><stop offset="0.000" stop-color="#ffe300"/><stop offset="0.504" stop-color="#ff9400"/><stop offset="1.000" stop-color="#ff5800"/></linearGradient>
<path d="M588.9 38.1l0.5 2.1 4.9-4.9-0.5-2.2z" style="fill:url(#p83);stroke:url(#p83)"/>
<path class="m" d="M593.8 33.1L594.3 35.3"/>
<linearGradient id="p84" gradientUnits="userSpaceOnUse" x1="602.70" y1="72.86" x2="606.67" y2="73.37"><stop offset="0.000" stop-color="#ffff00"/><stop offset="0.504" stop-color="#ffde00"/><stop offset="1.000" stop-color="#ff9c00"/></linearGradient>
<path d="M602.6 74l0.3-2.3 4.7-5.4-0.3 2.3z" style="fill:url(#p84);stroke:url(#p84)"/>
<path class="m" d="M607.3 68.6L607.6 66.3M602.7 72.8L607.4 67.3"/>
<linearGradient id="p85" gradientUnits="userSpaceOnUse" x1="586.07" y1="57.62" x2="591.55" y2="57.01"><stop offset="0.000" stop-color="#ffff00"/><stop offset="0.504" stop-color="#ffff00"/><stop offset="1.000" stop-color="#ffbf00"/></linearGradient>
<path d="M585.9 56.5l0.3 2.3 5-5.3-0.3-2.2z" style="fill:url(#p85);stroke:url(#p85)"/>
<path class="m" d="M590.9 51.3L591.2 53.5"/>
<linearGradient id="p86" gradientUnits="userSpaceOnUse" x1="596.78" y1="87.87" x2="600.97" y2="88.30"><stop offset="0.000" stop-color="#85ff00"/><stop offset="0.504" stop-color="#cbff00"/><stop offset="1.000" stop-color="#ffff00"/></linearGradient>
<path d="M596.7 89.1l0.2-2.4 4.8-5.7-0.2 2.4z" style="fill:url(#p86);stroke:url(#p86)"/>
<path class="m" d="M601.5 83.4L601.7 81.0"/>
<linearGradient id="p87" gradientUnits="userSpaceOnUse" x1="588.65" y1="36.95" x2="594.45" y2="35.54"><stop offset="0.000" stop-color="#ffec00"/><stop offset="0.504" stop-color="#ff9b00"/><stop offset="1.000" stop-color="#ff5e00"/></linearGradient>
<path d="M588.4 35.9l0.5 2.2 4.9-5-0.5-2.1z" style="fill:url(#p87);stroke:url(#p87)"/>
<path class="m" d="M593.3 31.0L593.8 33.1"/>
<linearGradient id="p88" gradientUnits="userSpaceOnUse" x1="552.35" y1="22.51" x2="554.00" y2="16.66"><stop offset="0.000" stop-color="#ffff00"/><stop offset="0.202" stop-color="#ffff00"/><stop offset="0.403" stop-color="#ffff00"/><stop offset="0.603" stop-color="#ffff00"/><stop offset="0.802" stop-color="#ffff00"/><stop offset="1.000" stop-color="#ffff00"/></linearGradient>
<path d="M533 17.2l39.3 11 5.3-4.9-38.9-10.7z" style="fill:url(#p88);stroke:url(#p88)"/>
<path class="m" d="M538.7 12.6L577.6 23.3M533.1 17.2L538.7 12.6M540.5 19.2L546.1 14.6M548.1 21.3L553.6 16.6M555.7 23.4L561.2 18.7M563.5 25.6L568.9 20.7M571.4 27.9L576.6 23.0"/>
<linearGradient id="p89" gradientUnits="userSpaceOnUse" x1="609.21" y1="55.86" x2="612.81" y2="56.50"><stop offset="0.000" stop-color="#ffa900"/><stop offset="0.504" stop-color="#ff6800"/><stop offset="1.000" stop-color="#ff3800"/></linearGradient>
<path d="M609 57l0.4-2.3 4.7-5.2-0.5 2.3z" style="fill:url(#p89);stroke:url(#p89)"/>
<path class="m" d="M613.7 51.8L614.1 49.5"/>
<linearGradient id="p90" gradientUnits="userSpaceOnUse" x1="616.58" y1="39.29" x2="619.21" y2="40.15"><stop offset="0.000" stop-color="#f54200"/><stop offset="0.504" stop-color="#f51600"/><stop offset="1.000" stop-color="#f5000e"/></linearGradient>
<path d="M616.2 40.5l0.7-2.3 4.6-5-0.7 2.2z" style="fill:url(#p90);stroke:url(#p90)"/>
<path class="m" d="M620.8 35.4L621.5 33.2"/>
<linearGradient id="p91" gradientUnits="userSpaceOnUse" x1="582.08" y1="74.36" x2="587.53" y2="73.90"><stop offset="0.000" stop-color="#82ff00"/><stop offset="0.504" stop-color="#cfff00"/><stop offset="1.000" stop-color="#ffff00"/></linearGradient>
<path d="M582 73.2l0.2 2.3 5-5.5-0.2-2.2z" style="fill:url(#p91);stroke:url(#p91)"/>
<path class="m" d="M587.0 67.8L587.2 70.0M582.0 73.5L587.0 68.0"/>
<linearGradient id="p92" gradientUnits="userSpaceOnUse" x1="588.07" y1="34.80" x2="593.98" y2="33.07"><stop offset="0.000" stop-color="#fff800"/><stop offset="0.504" stop-color="#ffa400"/><stop offset="1.000" stop-color="#ff6500"/></linearGradient>
<path d="M587.8 33.8l0.6 2.1 4.9-4.9-0.6-2.1z" style="fill:url(#p92);stroke:url(#p92)"/>
<path class="m" d="M592.7 28.9L593.3 31.0"/>
<linearGradient id="p93" gradientUnits="userSpaceOnUse" x1="585.81" y1="55.37" x2="591.34" y2="54.71"><stop offset="0.000" stop-color="#ffff00"/><stop offset="0.504" stop-color="#ffff00"/><stop offset="1.000" stop-color="#ffc300"/></linearGradient>
<path d="M585.7 54.3l0.2 2.2 5-5.2-0.2-2.2z" style="fill:url(#p93);stroke:url(#p93)"/>
<path class="m" d="M590.7 49.1L590.9 51.3"/>
<linearGradient id="p94" gradientUnits="userSpaceOnUse" x1="603.01" y1="70.53" x2="606.95" y2="71.06"><stop offset="0.000" stop-color="#fdff00"/><stop offset="0.504" stop-color="#ffe000"/><stop offset="1.000" stop-color="#ff9f00"/></linearGradient>
<path d="M602.9 71.7l0.3-2.3 4.7-5.4-0.3 2.3z" style="fill:url(#p94);stroke:url(#p94)"/>
<path class="m" d="M607.6 66.3L607.9 64.0"/>
<linearGradient id="p95" gradientUnits="userSpaceOnUse" x1="597.03" y1="85.52" x2="601.20" y2="85.97"><stop offset="0.000" stop-color="#81ff00"/><stop offset="0.504" stop-color="#c7ff00"/><stop offset="1.000" stop-color="#ffff00"/></linearGradient>
<path d="M596.9 86.7l0.3-2.3 4.8-5.7-0.3 2.3z" style="fill:url(#p95);stroke:url(#p95)"/>
<path class="m" d="M601.7 81.0L602.0 78.7"/>
<linearGradient id="p96" gradientUnits="userSpaceOnUse" x1="609.64" y1="53.55" x2="613.15" y2="54.24"><stop offset="0.000" stop-color="#ffaa00"/><stop offset="0.504" stop-color="#ff6b00"/><stop offset="1.000" stop-color="#ff3b00"/></linearGradient>
<path d="M609.4 54.7l0.5-2.3 4.6-5.2-0.4 2.3z" style="fill:url(#p96);stroke:url(#p96)"/>
<path class="m" d="M614.1 49.5L614.5 47.2"/>
<linearGradient id="p97" gradientUnits="userSpaceOnUse" x1="577.67" y1="89.18" x2="583.18" y2="88.76"><stop offset="0.000" stop-color="#00ff0a"/><stop offset="0.504" stop-color="#43ff00"/><stop offset="1.000" stop-color="#90ff00"/></linearGradient>
<path d="M577.6 88l0.2 2.3 5.1-5.7-0.2-2.3z" style="fill:url(#p97);stroke:url(#p97)"/>
<path class="m" d="M582.7 82.3L582.9 84.6"/>
<linearGradient id="p98" gradientUnits="userSpaceOnUse" x1="587.38" y1="32.70" x2="593.37" y2="30.51"><stop offset="0.000" stop-color="#ffff00"/><stop offset="0.504" stop-color="#ffaf00"/><stop offset="1.000" stop-color="#ff6d00"/></linearGradient>
<path d="M587 31.7l0.8 2.1 4.9-4.9-0.7-2.1z" style="fill:url(#p98);stroke:url(#p98)"/>
<path class="m" d="M592.0 26.8L592.7 28.9"/>
<linearGradient id="p99" gradientUnits="userSpaceOnUse" x1="578.61" y1="23.69" x2="580.88" y2="17.80"><stop offset="0.000" stop-color="#ffff00"/><stop offset="0.504" stop-color="#ffc600"/><stop offset="1.000" stop-color="#ff8000"/></linearGradient>
<path d="M577.6 23.3l2 0.8 5.1-4.8-2-0.8z" style="fill:url(#p99);stroke:url(#p99)"/>
<path class="m" d="M582.7 18.5L584.7 19.3"/>
<linearGradient id="p100" gradientUnits="userSpaceOnUse" x1="581.88" y1="72.09" x2="587.37" y2="71.60"><stop offset="0.000" stop-color="#7fff00"/><stop offset="0.504" stop-color="#ccff00"/><stop offset="1.000" stop-color="#ffff00"/></linearGradient>
<path d="M581.8 71l0.2 2.2 5-5.4-0.2-2.3z" style="fill:url(#p100);stroke:url(#p100)"/>
<path class="m" d="M586.8 65.5L587.0 67.8"/>
<linearGradient id="p101" gradientUnits="userSpaceOnUse" x1="617.39" y1="37.08" x2="619.57" y2="37.96"><stop offset="0.000" stop-color="#e94200"/><stop offset="0.504" stop-color="#e91800"/><stop offset="1.000" stop-color="#e9000b"/></linearGradient>
<path d="M616.9 38.2l0.9-2.1 4.6-5-0.9 2.1z" style="fill:url(#p101);stroke:url(#p101)"/>
<path class="m" d="M621.5 33.2L622.4 31.1"/>
<linearGradient id="p102" gradientUnits="userSpaceOnUse" x1="585.53" y1="53.13" x2="591.12" y2="52.40"><stop offset="0.000" stop-color="#ffff00"/><stop offset="0.504" stop-color="#ffff00"/><stop offset="1.000" stop-color="#ffc700"/></linearGradient>
<path d="M585.4 52l0.3 2.3 5-5.2-0.3-2.3z" style="fill:url(#p102);stroke:url(#p102)"/>
<path class="m" d="M590.4 46.8L590.7 49.1"/>
<linearGradient id="p103" gradientUnits="userSpaceOnUse" x1="586.53" y1="30.67" x2="592.51" y2="27.81"><stop offset="0.000" stop-color="#ffff00"/><stop offset="0.504" stop-color="#ffbc00"/><stop offset="1.000" stop-color="#ff7600"/></linearGradient>
<path d="M586.1 29.8l0.9 1.9 5-4.9-0.9-1.9z" style="fill:url(#p103);stroke:url(#p103)"/>
<path class="m" d="M591.1 24.9L592.0 26.8"/>
<linearGradient id="p104" gradientUnits="userSpaceOnUse" x1="580.61" y1="24.56" x2="583.56" y2="18.67"><stop offset="0.000" stop-color="#ffff00"/><stop offset="0.504" stop-color="#ffce00"/><stop offset="1.000" stop-color="#ff8500"/></linearGradient>
<path d="M579.6 24.1l2 1 5.1-4.8-2-1z" style="fill:url(#p104);stroke:url(#p104)"/>
<path class="m" d="M584.7 19.3L586.7 20.3"/>
<linearGradient id="p105" gradientUnits="userSpaceOnUse" x1="603.33" y1="68.20" x2="607.23" y2="68.76"><stop offset="0.000" stop-color="#f9ff00"/><stop offset="0.504" stop-color="#ffe300"/><stop offset="1.000" stop-color="#ffa200"/></linearGradient>
<path d="M603.2 69.4l0.3-2.3 4.8-5.5-0.4 2.4z" style="fill:url(#p105);stroke:url(#p105)"/>
<path class="m" d="M607.9 64.0L608.3 61.6"/>
<linearGradient id="p106" gradientUnits="userSpaceOnUse" x1="585.46" y1="28.76" x2="591.21" y2="24.98"><stop offset="0.000" stop-color="#ffff00"/><stop offset="0.504" stop-color="#ffca00"/><stop offset="1.000" stop-color="#ff8000"/></linearGradient>
<path d="M584.9 27.9l1.2 1.9 5-4.9-1.2-1.8z" style="fill:url(#p106);stroke:url(#p106)"/>
<path class="m" d="M589.9 23.1L591.1 24.9"/>
<linearGradient id="p107" gradientUnits="userSpaceOnUse" x1="582.48" y1="25.66" x2="586.47" y2="20.06"><stop offset="0.000" stop-color="#ffff00"/><stop offset="0.504" stop-color="#ffd500"/><stop offset="1.000" stop-color="#ff8900"/></linearGradient>
<path d="M581.6 25.1l1.8 1.3 5-4.9-1.7-1.2z" style="fill:url(#p107);stroke:url(#p107)"/>
<path class="m" d="M586.7 20.3L588.4 21.5"/>
<linearGradient id="p108" gradientUnits="userSpaceOnUse" x1="584.11" y1="27.06" x2="589.19" y2="22.24"><stop offset="0.000" stop-color="#ffff00"/><stop offset="0.504" stop-color="#ffd500"/><stop offset="1.000" stop-color="#ff8800"/></linearGradient>
<path d="M583.4 26.4l1.5 1.5 5-4.8-1.5-1.6z" style="fill:url(#p108);stroke:url(#p108)"/>
<path class="m" d="M588.4 21.5L589.9 23.1M584.5 27.5L589.6 22.6"/>
<linearGradient id="p109" gradientUnits="userSpaceOnUse" x1="581.67" y1="69.81" x2="587.20" y2="69.29"><stop offset="0.000" stop-color="#7cff00"/><stop offset="0.504" stop-color="#c9ff00"/><stop offset="1.000" stop-color="#ffff00"/></linearGradient>
<path d="M581.6 68.7l0.2 2.3 5-5.5-0.2-2.2z" style="fill:url(#p109);stroke:url(#p109)"/>
<path class="m" d="M586.6 63.3L586.8 65.5"/>
<linearGradient id="p110" gradientUnits="userSpaceOnUse" x1="577.49" y1="86.89" x2="583.03" y2="86.44"><stop offset="0.000" stop-color="#00ff0d"/><stop offset="0.504" stop-color="#3fff00"/><stop offset="1.000" stop-color="#8cff00"/></linearGradient>
<path d="M577.4 85.7l0.2 2.3 5.1-5.7-0.2-2.2z" style="fill:url(#p110);stroke:url(#p110)"/>
<path class="m" d="M582.5 80.1L582.7 82.3"/>
<linearGradient id="p111" gradientUnits="userSpaceOnUse" x1="610.11" y1="51.26" x2="613.51" y2="51.99"><stop offset="0.000" stop-color="#ffab00"/><stop offset="0.504" stop-color="#ff6d00"/><stop offset="1.000" stop-color="#ff3e00"/></linearGradient>
<path d="M609.9 52.4l0.5-2.3 4.6-5.1-0.5 2.2z" style="fill:url(#p111);stroke:url(#p111)"/>
<path class="m" d="M614.5 47.2L615.0 45.0"/>
<linearGradient id="p112" gradientUnits="userSpaceOnUse" x1="597.28" y1="83.17" x2="601.45" y2="83.64"><stop offset="0.000" stop-color="#7dff00"/><stop offset="0.504" stop-color="#c3ff00"/><stop offset="1.000" stop-color="#ffff00"/></linearGradient>
<path d="M597.2 84.4l0.2-2.4 4.9-5.6-0.3 2.3z" style="fill:url(#p112);stroke:url(#p112)"/>
<path class="m" d="M602.0 78.7L602.3 76.4"/>
<linearGradient id="p113" gradientUnits="userSpaceOnUse" x1="585.22" y1="50.90" x2="590.87" y2="50.07"><stop offset="0.000" stop-color="#ffff00"/><stop offset="0.504" stop-color="#ffff00"/><stop offset="1.000" stop-color="#ffcd00"/></linearGradient>
<path d="M585.1 49.8l0.3 2.2 5-5.2-0.3-2.2z" style="fill:url(#p113);stroke:url(#p113)"/>
<path class="m" d="M590.1 44.6L590.4 46.8"/>
<linearGradient id="p114" gradientUnits="userSpaceOnUse" x1="618.39" y1="34.93" x2="619.85" y2="35.72"><stop offset="0.000" stop-color="#d43f00"/><stop offset="0.504" stop-color="#d41800"/><stop offset="1.000" stop-color="#d40007"/></linearGradient>
<path d="M617.8 36.1l1.1-2.1 4.6-5-1.1 2.1z" style="fill:url(#p114);stroke:url(#p114)"/>
<path class="m" d="M622.4 31.1L623.5 29.0"/>
<path d="M577.8 90.3l13.9 4.6 5-5.8-13.8-4.5z" color="#cccccc"/>
<linearGradient id="p115" gradientUnits="userSpaceOnUse" x1="603.67" y1="65.88" x2="607.53" y2="66.46"><stop offset="0.000" stop-color="#f4ff00"/><stop offset="0.504" stop-color="#ffe500"/><stop offset="1.000" stop-color="#ffa400"/></linearGradient>
<path d="M603.5 67.1l0.3-2.4 4.8-5.4-0.3 2.3z" style="fill:url(#p115);stroke:url(#p115)"/>
<path class="m" d="M608.3 61.6L608.6 59.3"/>
<linearGradient id="p116" gradientUnits="userSpaceOnUse" x1="584.88" y1="48.67" x2="590.60" y2="47.74"><stop offset="0.000" stop-color="#ffff00"/><stop offset="0.504" stop-color="#ffff00"/><stop offset="1.000" stop-color="#ffd400"/></linearGradient>
<path d="M584.7 47.6l0.4 2.2 5-5.2-0.4-2.2z" style="fill:url(#p116);stroke:url(#p116)"/>
<path class="m" d="M589.7 42.4L590.1 44.6"/>
<linearGradient id="p117" gradientUnits="userSpaceOnUse" x1="581.45" y1="67.54" x2="587.02" y2="66.98"><stop offset="0.000" stop-color="#79ff00"/><stop offset="0.504" stop-color="#c6ff00"/><stop offset="1.000" stop-color="#ffff00"/></linearGradient>
<path d="M581.3 66.4l0.3 2.3 5-5.4-0.2-2.3z" style="fill:url(#p117);stroke:url(#p117)"/>
<path class="m" d="M586.4 61.0L586.6 63.3"/>
<linearGradient id="p118" gradientUnits="userSpaceOnUse" x1="577.30" y1="84.59" x2="582.88" y2="84.12"><stop offset="0.000" stop-color="#00ff11"/><stop offset="0.504" stop-color="#3cff00"/><stop offset="1.000" stop-color="#89ff00"/></linearGradient>
<path d="M577.2 83.5l0.2 2.2 5.1-5.6-0.1-2.3z" style="fill:url(#p118);stroke:url(#p118)"/>
<path class="m" d="M582.4 77.8L582.5 80.1"/>
<linearGradient id="p119" gradientUnits="userSpaceOnUse" x1="610.63" y1="48.97" x2="613.88" y2="49.75"><stop offset="0.000" stop-color="#ffac00"/><stop offset="0.504" stop-color="#ff6e00"/><stop offset="1.000" stop-color="#ff4000"/></linearGradient>
<path d="M610.4 50.1l0.5-2.2 4.7-5.2-0.6 2.3z" style="fill:url(#p119);stroke:url(#p119)"/>
<path class="m" d="M615.0 45.0L615.6 42.7"/>
<linearGradient id="p120" gradientUnits="userSpaceOnUse" x1="597.55" y1="80.82" x2="601.70" y2="81.31"><stop offset="0.000" stop-color="#79ff00"/><stop offset="0.504" stop-color="#bfff00"/><stop offset="1.000" stop-color="#ffff00"/></linearGradient>
<path d="M597.4 82l0.3-2.3 4.9-5.7-0.3 2.4z" style="fill:url(#p120);stroke:url(#p120)"/>
<path class="m" d="M602.3 76.4L602.6 74.0"/>
<linearGradient id="p121" gradientUnits="userSpaceOnUse" x1="619.69" y1="32.96" x2="619.99" y2="33.20"><stop offset="0.000" stop-color="#af3600"/><stop offset="0.504" stop-color="#af1600"/><stop offset="1.000" stop-color="#af0004"/></linearGradient>
<path d="M618.9 34l1.5-1.8 4.6-5-1.5 1.8z" style="fill:url(#p121);stroke:url(#p121)"/>
<path class="m" d="M623.5 29.0L625.0 27.2"/>
<linearGradient id="p122" gradientUnits="userSpaceOnUse" x1="584.49" y1="46.45" x2="590.30" y2="45.38"><stop offset="0.000" stop-color="#ffff00"/><stop offset="0.504" stop-color="#ffff00"/><stop offset="1.000" stop-color="#ffdb00"/></linearGradient>
<path d="M584.3 45.4l0.4 2.2 5-5.2-0.3-2.2z" style="fill:url(#p122);stroke:url(#p122)"/>
<path class="m" d="M589.4 40.2L589.7 42.4"/>
<linearGradient id="p123" gradientUnits="userSpaceOnUse" x1="581.21" y1="65.27" x2="586.83" y2="64.66"><stop offset="0.000" stop-color="#76ff00"/><stop offset="0.504" stop-color="#c4ff00"/><stop offset="1.000" stop-color="#ffff00"/></linearGradient>
<path d="M581.1 64.2l0.2 2.2 5.1-5.4-0.2-2.2z" style="fill:url(#p123);stroke:url(#p123)"/>
<path class="m" d="M586.2 58.8L586.4 61.0"/>
<linearGradient id="p124" gradientUnits="userSpaceOnUse" x1="604.03" y1="63.56" x2="607.84" y2="64.17"><stop offset="0.000" stop-color="#efff00"/><stop offset="0.504" stop-color="#ffe700"/><stop offset="1.000" stop-color="#ffa600"/></linearGradient>
<path d="M603.8 64.7l0.4-2.3 4.8-5.4-0.4 2.3z" style="fill:url(#p124);stroke:url(#p124)"/>
<path class="m" d="M608.6 59.3L609.0 57.0"/>
<linearGradient id="p125" gradientUnits="userSpaceOnUse" x1="577.11" y1="82.29" x2="582.72" y2="81.80"><stop offset="0.000" stop-color="#00ff14"/><stop offset="0.504" stop-color="#39ff00"/><stop offset="1.000" stop-color="#85ff00"/></linearGradient>
<path d="M577 81.2l0.2 2.3 5.2-5.7-0.2-2.3z" style="fill:url(#p125);stroke:url(#p125)"/>
<path class="m" d="M582.2 75.5L582.4 77.8"/>
<linearGradient id="p126" gradientUnits="userSpaceOnUse" x1="611.21" y1="46.70" x2="614.25" y2="47.53"><stop offset="0.000" stop-color="#fdab00"/><stop offset="0.504" stop-color="#fd6f00"/><stop offset="1.000" stop-color="#fd4100"/></linearGradient>
<path d="M610.9 47.9l0.6-2.3 4.7-5.1-0.6 2.2z" style="fill:url(#p126);stroke:url(#p126)"/>
<path class="m" d="M615.6 42.7L616.2 40.4"/>
<linearGradient id="p127" gradientUnits="userSpaceOnUse" x1="584.06" y1="44.24" x2="589.95" y2="42.99"><stop offset="0.000" stop-color="#ffff00"/><stop offset="0.504" stop-color="#ffff00"/><stop offset="1.000" stop-color="#ffe300"/></linearGradient>
<path d="M583.8 43.2l0.5 2.2 5.1-5.2-0.5-2.1z" style="fill:url(#p127);stroke:url(#p127)"/>
<path class="m" d="M588.9 38.1L589.4 40.2"/>
<linearGradient id="p128" gradientUnits="userSpaceOnUse" x1="621.42" y1="31.41" x2="620.48" y2="29.93"><stop offset="0.000" stop-color="#d04200"/><stop offset="0.504" stop-color="#d01c00"/><stop offset="1.000" stop-color="#d00003"/></linearGradient>
<path d="M620.4 32.2l2-1.3 4.6-4.9-2 1.2z" style="fill:url(#p128);stroke:url(#p128)"/>
<path class="m" d="M625.0 27.2L627.0 26.0M621.7 31.3L626.2 26.3"/>
<linearGradient id="p129" gradientUnits="userSpaceOnUse" x1="597.83" y1="78.48" x2="601.95" y2="78.98"><stop offset="0.000" stop-color="#75ff00"/><stop offset="0.504" stop-color="#bbff00"/><stop offset="1.000" stop-color="#ffff00"/></linearGradient>
<path d="M597.7 79.7l0.3-2.4 4.9-5.6-0.3 2.3z" style="fill:url(#p129);stroke:url(#p129)"/>
<path class="m" d="M602.6 74.0L602.9 71.7M597.8 78.4L602.7 72.8"/>
<linearGradient id="p130" gradientUnits="userSpaceOnUse" x1="591.82" y1="93.71" x2="596.18" y2="94.13"><stop offset="0.000" stop-color="#00ff09"/><stop offset="0.504" stop-color="#3eff00"/><stop offset="1.000" stop-color="#85ff00"/></linearGradient>
<path d="M591.7 94.9l0.2-2.4 5-5.8-0.2 2.4z" style="fill:url(#p130);stroke:url(#p130)"/>
<path class="m" d="M596.7 89.1L596.9 86.7"/>
<linearGradient id="p131" gradientUnits="userSpaceOnUse" x1="580.95" y1="63.01" x2="586.62" y2="62.34"><stop offset="0.000" stop-color="#73ff00"/><stop offset="0.504" stop-color="#c1ff00"/><stop offset="1.000" stop-color="#ffff00"/></linearGradient>
<path d="M580.8 61.9l0.3 2.3 5.1-5.4-0.3-2.3z" style="fill:url(#p131);stroke:url(#p131)"/>
<path class="m" d="M585.9 56.5L586.2 58.8"/>
<linearGradient id="p132" gradientUnits="userSpaceOnUse" x1="546.71" y1="27.42" x2="548.44" y2="21.39"><stop offset="0.000" stop-color="#5aff00"/><stop offset="0.202" stop-color="#80ff00"/><stop offset="0.404" stop-color="#a6ff00"/><stop offset="0.604" stop-color="#cbff00"/><stop offset="0.802" stop-color="#f1ff00"/><stop offset="1.000" stop-color="#ffff00"/></linearGradient>
<path d="M527.2 21.9l39.7 11.4 5.4-5.1-39.3-11z" style="fill:url(#p132);stroke:url(#p132)"/>
<path class="m" d="M533.1 17.2L572.3 28.2M527.2 21.9L533.1 17.2M534.8 24.0L540.5 19.2M542.4 26.2L548.1 21.3M550.1 28.4L555.7 23.4M558.0 30.6L563.5 25.6M565.9 33.0L571.4 27.9"/>
<linearGradient id="p133" gradientUnits="userSpaceOnUse" x1="576.90" y1="80.00" x2="582.55" y2="79.48"><stop offset="0.000" stop-color="#00ff18"/><stop offset="0.504" stop-color="#35ff00"/><stop offset="1.000" stop-color="#82ff00"/></linearGradient>
<path d="M576.8 78.9l0.2 2.3 5.2-5.7-0.2-2.3z" style="fill:url(#p133);stroke:url(#p133)"/>
<path class="m" d="M582.0 73.2L582.2 75.5M576.8 79.1L582.0 73.5"/>
<linearGradient id="p134" gradientUnits="userSpaceOnUse" x1="583.55" y1="42.05" x2="589.54" y2="40.56"><stop offset="0.000" stop-color="#ffff00"/><stop offset="0.504" stop-color="#ffff00"/><stop offset="1.000" stop-color="#ffec00"/></linearGradient>
<path d="M583.3 41l0.5 2.2 5.1-5.1-0.5-2.2z" style="fill:url(#p134);stroke:url(#p134)"/>
<path class="m" d="M588.4 35.9L588.9 38.1"/>
<linearGradient id="p135" gradientUnits="userSpaceOnUse" x1="604.42" y1="61.24" x2="608.16" y2="61.89"><stop offset="0.000" stop-color="#eaff00"/><stop offset="0.504" stop-color="#ffe900"/><stop offset="1.000" stop-color="#ffa900"/></linearGradient>
<path d="M604.2 62.4l0.4-2.3 4.8-5.4-0.4 2.3z" style="fill:url(#p135);stroke:url(#p135)"/>
<path class="m" d="M609.0 57.0L609.4 54.7"/>
<linearGradient id="p136" gradientUnits="userSpaceOnUse" x1="611.89" y1="44.44" x2="614.62" y2="45.33"><stop offset="0.000" stop-color="#f5a900"/><stop offset="0.504" stop-color="#f56e00"/><stop offset="1.000" stop-color="#f54200"/></linearGradient>
<path d="M611.5 45.6l0.7-2.2 4.7-5.2-0.7 2.3z" style="fill:url(#p136);stroke:url(#p136)"/>
<path class="m" d="M616.2 40.4L616.9 38.2"/>
<linearGradient id="p137" gradientUnits="userSpaceOnUse" x1="623.53" y1="30.60" x2="622.74" y2="26.71"><stop offset="0.000" stop-color="#ff5900"/><stop offset="0.504" stop-color="#ff2700"/><stop offset="1.000" stop-color="#ff0002"/></linearGradient>
<path d="M622.4 30.9l2.2-0.4 4.6-5-2.2 0.5z" style="fill:url(#p137);stroke:url(#p137)"/>
<path class="m" d="M627.0 26.0L629.2 25.5"/>
<linearGradient id="p138" gradientUnits="userSpaceOnUse" x1="580.68" y1="60.74" x2="586.40" y2="60.02"><stop offset="0.000" stop-color="#70ff00"/><stop offset="0.504" stop-color="#beff00"/><stop offset="1.000" stop-color="#ffff00"/></linearGradient>
<path d="M580.5 59.6l0.3 2.3 5.1-5.4-0.2-2.2z" style="fill:url(#p138);stroke:url(#p138)"/>
<path class="m" d="M585.7 54.3L585.9 56.5"/>
<linearGradient id="p139" gradientUnits="userSpaceOnUse" x1="598.13" y1="76.13" x2="602.22" y2="76.66"><stop offset="0.000" stop-color="#71ff00"/><stop offset="0.504" stop-color="#b7ff00"/><stop offset="1.000" stop-color="#fdff00"/></linearGradient>
<path d="M598 77.3l0.3-2.3 4.9-5.6-0.3 2.3z" style="fill:url(#p139);stroke:url(#p139)"/>
<path class="m" d="M602.9 71.7L603.2 69.4"/>
<linearGradient id="p140" gradientUnits="userSpaceOnUse" x1="582.96" y1="39.89" x2="589.05" y2="38.06"><stop offset="0.000" stop-color="#ffff00"/><stop offset="0.504" stop-color="#ffff00"/><stop offset="1.000" stop-color="#fff800"/></linearGradient>
<path d="M582.6 38.9l0.7 2.1 5.1-5.1-0.6-2.1z" style="fill:url(#p140);stroke:url(#p140)"/>
<path class="m" d="M587.8 33.8L588.4 35.9"/>
<linearGradient id="p141" gradientUnits="userSpaceOnUse" x1="572.42" y1="95.05" x2="578.13" y2="94.57"><stop offset="0.000" stop-color="#00ff9e"/><stop offset="0.504" stop-color="#00ff56"/><stop offset="1.000" stop-color="#00ff0a"/></linearGradient>
<path d="M572.3 93.9l0.2 2.3 5.3-5.9-0.2-2.3z" style="fill:url(#p141);stroke:url(#p141)"/>
<path class="m" d="M577.6 88.0L577.8 90.3"/>
<linearGradient id="p142" gradientUnits="userSpaceOnUse" x1="592.06" y1="91.34" x2="596.40" y2="91.78"><stop offset="0.000" stop-color="#00ff0d"/><stop offset="0.504" stop-color="#3aff00"/><stop offset="1.000" stop-color="#81ff00"/></linearGradient>
<path d="M591.9 92.5l0.3-2.3 5-5.8-0.3 2.3z" style="fill:url(#p142);stroke:url(#p142)"/>
<path class="m" d="M596.9 86.7L597.2 84.4"/>
<linearGradient id="p143" gradientUnits="userSpaceOnUse" x1="576.69" y1="77.71" x2="582.37" y2="77.16"><stop offset="0.000" stop-color="#00ff1c"/><stop offset="0.504" stop-color="#32ff00"/><stop offset="1.000" stop-color="#7fff00"/></linearGradient>
<path d="M576.6 76.6l0.2 2.3 5.2-5.7-0.2-2.2z" style="fill:url(#p143);stroke:url(#p143)"/>
<path class="m" d="M581.8 71.0L582.0 73.2"/>
<linearGradient id="p144" gradientUnits="userSpaceOnUse" x1="604.84" y1="58.92" x2="608.49" y2="59.61"><stop offset="0.000" stop-color="#e5ff00"/><stop offset="0.504" stop-color="#ffea00"/><stop offset="1.000" stop-color="#ffaa00"/></linearGradient>
<path d="M604.6 60.1l0.5-2.3 4.8-5.4-0.5 2.3z" style="fill:url(#p144);stroke:url(#p144)"/>
<path class="m" d="M609.4 54.7L609.9 52.4"/>
<linearGradient id="p145" gradientUnits="userSpaceOnUse" x1="625.77" y1="30.46" x2="625.98" y2="25.31"><stop offset="0.000" stop-color="#ff6700"/><stop offset="0.504" stop-color="#ff2e00"/><stop offset="1.000" stop-color="#ff0001"/></linearGradient>
<path d="M624.6 30.5l2.3 0.1 4.5-5-2.2-0.1z" style="fill:url(#p145);stroke:url(#p145)"/>
<path class="m" d="M629.2 25.5L631.4 25.6"/>
<linearGradient id="p146" gradientUnits="userSpaceOnUse" x1="582.25" y1="37.76" x2="588.41" y2="35.47"><stop offset="0.000" stop-color="#ffff00"/><stop offset="0.504" stop-color="#ffff00"/><stop offset="1.000" stop-color="#ffff00"/></linearGradient>
<path d="M581.9 36.8l0.7 2.1 5.2-5.1-0.8-2.1z" style="fill:url(#p146);stroke:url(#p146)"/>
<path class="m" d="M587.0 31.7L587.8 33.8"/>
<linearGradient id="p147" gradientUnits="userSpaceOnUse" x1="573.34" y1="28.63" x2="575.70" y2="22.56"><stop offset="0.000" stop-color="#ffff00"/><stop offset="0.504" stop-color="#ffff00"/><stop offset="1.000" stop-color="#ffff00"/></linearGradient>
<path d="M572.3 28.2l2.1 0.9 5.2-5-2-0.8z" style="fill:url(#p147);stroke:url(#p147)"/>
<path class="m" d="M577.6 23.3L579.6 24.1"/>
<linearGradient id="p148" gradientUnits="userSpaceOnUse" x1="580.38" y1="58.49" x2="586.16" y2="57.69"><stop offset="0.000" stop-color="#6dff00"/><stop offset="0.504" stop-color="#bcff00"/><stop offset="1.000" stop-color="#ffff00"/></linearGradient>
<path d="M580.2 57.4l0.3 2.2 5.2-5.3-0.3-2.3z" style="fill:url(#p148);stroke:url(#p148)"/>
<path class="m" d="M585.4 52.0L585.7 54.3"/>
<linearGradient id="p149" gradientUnits="userSpaceOnUse" x1="612.69" y1="42.22" x2="614.96" y2="43.13"><stop offset="0.000" stop-color="#e9a300"/><stop offset="0.504" stop-color="#e96c00"/><stop offset="1.000" stop-color="#e94200"/></linearGradient>
<path d="M612.2 43.4l0.9-2.2 4.7-5.1-0.9 2.1z" style="fill:url(#p149);stroke:url(#p149)"/>
<path class="m" d="M616.9 38.2L617.8 36.1"/>
<linearGradient id="p150" gradientUnits="userSpaceOnUse" x1="581.38" y1="35.71" x2="587.53" y2="32.73"><stop offset="0.000" stop-color="#ffff00"/><stop offset="0.504" stop-color="#ffff00"/><stop offset="1.000" stop-color="#ffff00"/></linearGradient>
<path d="M580.9 34.8l1 2 5.1-5.1-0.9-1.9z" style="fill:url(#p150);stroke:url(#p150)"/>
<path class="m" d="M586.1 29.8L587.0 31.7"/>
<linearGradient id="p151" gradientUnits="userSpaceOnUse" x1="575.37" y1="29.52" x2="578.43" y2="23.46"><stop offset="0.000" stop-color="#ffff00"/><stop offset="0.504" stop-color="#ffff00"/><stop offset="1.000" stop-color="#ffff00"/></linearGradient>
<path d="M574.4 29.1l2 1 5.2-5-2-1z" style="fill:url(#p151);stroke:url(#p151)"/>
<path class="m" d="M579.6 24.1L581.6 25.1"/>
<linearGradient id="p152" gradientUnits="userSpaceOnUse" x1="628.01" y1="30.71" x2="628.88" y2="25.14"><stop offset="0.000" stop-color="#ff7100"/><stop offset="0.504" stop-color="#ff3300"/><stop offset="1.000" stop-color="#ff0001"/></linearGradient>
<path d="M626.9 30.6l2.2 0.3 4.5-5-2.2-0.3z" style="fill:url(#p152);stroke:url(#p152)"/>
<path class="m" d="M631.4 25.6L633.6 25.9"/>
<linearGradient id="p153" gradientUnits="userSpaceOnUse" x1="598.44" y1="73.79" x2="602.50" y2="74.34"><stop offset="0.000" stop-color="#6dff00"/><stop offset="0.504" stop-color="#b3ff00"/><stop offset="1.000" stop-color="#f9ff00"/></linearGradient>
<path d="M598.3 75l0.3-2.4 4.9-5.5-0.3 2.3z" style="fill:url(#p153);stroke:url(#p153)"/>
<path class="m" d="M603.2 69.4L603.5 67.1"/>
<linearGradient id="p154" gradientUnits="userSpaceOnUse" x1="572.22" y1="92.74" x2="577.96" y2="92.24"><stop offset="0.000" stop-color="#00ffa2"/><stop offset="0.504" stop-color="#00ff5a"/><stop offset="1.000" stop-color="#00ff0d"/></linearGradient>
<path d="M572.1 91.6l0.2 2.3 5.3-5.9-0.2-2.3z" style="fill:url(#p154);stroke:url(#p154)"/>
<path class="m" d="M577.4 85.7L577.6 88.0"/>
<linearGradient id="p155" gradientUnits="userSpaceOnUse" x1="576.46" y1="75.42" x2="582.18" y2="74.83"><stop offset="0.000" stop-color="#00ff1f"/><stop offset="0.504" stop-color="#2eff00"/><stop offset="1.000" stop-color="#7cff00"/></linearGradient>
<path d="M576.3 74.3l0.3 2.3 5.2-5.6-0.2-2.3z" style="fill:url(#p155);stroke:url(#p155)"/>
<path class="m" d="M581.6 68.7L581.8 71.0"/>
<linearGradient id="p156" gradientUnits="userSpaceOnUse" x1="580.28" y1="33.78" x2="586.19" y2="29.87"><stop offset="0.000" stop-color="#ffff00"/><stop offset="0.504" stop-color="#ffff00"/><stop offset="1.000" stop-color="#ffff00"/></linearGradient>
<path d="M579.7 32.9l1.2 1.9 5.2-5-1.2-1.9z" style="fill:url(#p156);stroke:url(#p156)"/>
<path class="m" d="M584.9 27.9L586.1 29.8"/>
<linearGradient id="p157" gradientUnits="userSpaceOnUse" x1="577.25" y1="30.64" x2="581.38" y2="24.87"><stop offset="0.000" stop-color="#ffff00"/><stop offset="0.504" stop-color="#ffff00"/><stop offset="1.000" stop-color="#ffff00"/></linearGradient>
<path d="M576.4 30.1l1.8 1.2 5.2-4.9-1.8-1.3z" style="fill:url(#p157);stroke:url(#p157)"/>
<path class="m" d="M581.6 25.1L583.4 26.4"/>
<path d="M572.5 96.2l14.1 4.7 5.1-6-13.9-4.6z" color="#cccccc"/>
<linearGradient id="p158" gradientUnits="userSpaceOnUse" x1="592.30" y1="88.98" x2="596.63" y2="89.43"><stop offset="0.000" stop-color="#00ff10"/><stop offset="0.504" stop-color="#36ff00"/><stop offset="1.000" stop-color="#7dff00"/></linearGradient>
<path d="M592.2 90.2l0.2-2.4 5-5.8-0.2 2.4z" style="fill:url(#p158);stroke:url(#p158)"/>
<path class="m" d="M597.2 84.4L597.4 82.0"/>
<linearGradient id="p159" gradientUnits="userSpaceOnUse" x1="578.91" y1="32.06" x2="584.14" y2="27.09"><stop offset="0.000" stop-color="#ffff00"/><stop offset="0.504" stop-color="#ffff00"/><stop offset="1.000" stop-color="#ffff00"/></linearGradient>
<path d="M578.2 31.3l1.5 1.6 5.2-5-1.5-1.5z" style="fill:url(#p159);stroke:url(#p159)"/>
<path class="m" d="M583.4 26.4L584.9 27.9M579.3 32.5L584.5 27.5"/>
<linearGradient id="p160" gradientUnits="userSpaceOnUse" x1="580.05" y1="56.23" x2="585.90" y2="55.34"><stop offset="0.000" stop-color="#6bff00"/><stop offset="0.504" stop-color="#bbff00"/><stop offset="1.000" stop-color="#ffff00"/></linearGradient>
<path d="M579.9 55.1l0.3 2.3 5.2-5.4-0.3-2.2z" style="fill:url(#p160);stroke:url(#p160)"/>
<path class="m" d="M585.1 49.8L585.4 52.0"/>
<linearGradient id="p161" gradientUnits="userSpaceOnUse" x1="605.30" y1="56.61" x2="608.84" y2="57.35"><stop offset="0.000" stop-color="#dfff00"/><stop offset="0.504" stop-color="#ffea00"/><stop offset="1.000" stop-color="#ffab00"/></linearGradient>
<path d="M605.1 57.8l0.4-2.3 4.9-5.4-0.5 2.3z" style="fill:url(#p161);stroke:url(#p161)"/>
<path class="m" d="M609.9 52.4L610.4 50.2"/>
<linearGradient id="p162" gradientUnits="userSpaceOnUse" x1="613.68" y1="40.06" x2="615.21" y2="40.88"><stop offset="0.000" stop-color="#d49800"/><stop offset="0.504" stop-color="#d46500"/><stop offset="1.000" stop-color="#d43f00"/></linearGradient>
<path d="M613.1 41.2l1.1-2.1 4.7-5.1-1.1 2.1z" style="fill:url(#p162);stroke:url(#p162)"/>
<path class="m" d="M617.8 36.1L618.9 34.0"/>
<linearGradient id="p163" gradientUnits="userSpaceOnUse" x1="572.01" y1="90.43" x2="577.79" y2="89.90"><stop offset="0.000" stop-color="#00ffa6"/><stop offset="0.504" stop-color="#00ff5e"/><stop offset="1.000" stop-color="#00ff11"/></linearGradient>
<path d="M571.9 89.3l0.2 2.3 5.3-5.9-0.2-2.2z" style="fill:url(#p163);stroke:url(#p163)"/>
<path class="m" d="M577.2 83.5L577.4 85.7"/>
<linearGradient id="p164" gradientUnits="userSpaceOnUse" x1="576.22" y1="73.13" x2="581.98" y2="72.50"><stop offset="0.000" stop-color="#00ff23"/><stop offset="0.504" stop-color="#2bff00"/><stop offset="1.000" stop-color="#79ff00"/></linearGradient>
<path d="M576.1 72l0.2 2.3 5.3-5.6-0.3-2.3z" style="fill:url(#p164);stroke:url(#p164)"/>
<path class="m" d="M581.3 66.4L581.6 68.7"/>
<linearGradient id="p165" gradientUnits="userSpaceOnUse" x1="598.76" y1="71.45" x2="602.78" y2="72.03"><stop offset="0.000" stop-color="#69ff00"/><stop offset="0.504" stop-color="#aeff00"/><stop offset="1.000" stop-color="#f4ff00"/></linearGradient>
<path d="M598.6 72.6l0.3-2.3 4.9-5.6-0.3 2.4z" style="fill:url(#p165);stroke:url(#p165)"/>
<path class="m" d="M603.5 67.1L603.8 64.7"/>
<linearGradient id="p166" gradientUnits="userSpaceOnUse" x1="579.69" y1="53.98" x2="585.61" y2="52.98"><stop offset="0.000" stop-color="#69ff00"/><stop offset="0.504" stop-color="#baff00"/><stop offset="1.000" stop-color="#ffff00"/></linearGradient>
<path d="M579.5 52.9l0.4 2.2 5.2-5.3-0.4-2.2z" style="fill:url(#p166);stroke:url(#p166)"/>
<path class="m" d="M584.7 47.6L585.1 49.8"/>
<linearGradient id="p167" gradientUnits="userSpaceOnUse" x1="592.55" y1="86.62" x2="596.86" y2="87.09"><stop offset="0.000" stop-color="#00ff14"/><stop offset="0.504" stop-color="#33ff00"/><stop offset="1.000" stop-color="#79ff00"/></linearGradient>
<path d="M592.4 87.8l0.3-2.3 5-5.8-0.3 2.3z" style="fill:url(#p167);stroke:url(#p167)"/>
<path class="m" d="M597.4 82.0L597.7 79.7"/>
<linearGradient id="p168" gradientUnits="userSpaceOnUse" x1="605.81" y1="54.31" x2="609.19" y2="55.10"><stop offset="0.000" stop-color="#d8ff00"/><stop offset="0.504" stop-color="#ffea00"/><stop offset="1.000" stop-color="#ffac00"/></linearGradient>
<path d="M605.5 55.5l0.6-2.3 4.8-5.3-0.5 2.2z" style="fill:url(#p168);stroke:url(#p168)"/>
<path class="m" d="M610.4 50.2L610.9 47.9"/>
<linearGradient id="p169" gradientUnits="userSpaceOnUse" x1="614.99" y1="38.08" x2="615.30" y2="38.33"><stop offset="0.000" stop-color="#af7f00"/><stop offset="0.504" stop-color="#af5500"/><stop offset="1.000" stop-color="#af3600"/></linearGradient>
<path d="M614.2 39.1l1.5-1.8 4.7-5.1-1.5 1.8z" style="fill:url(#p169);stroke:url(#p169)"/>
<path class="m" d="M618.9 34.0L620.4 32.2"/>
<linearGradient id="p170" gradientUnits="userSpaceOnUse" x1="579.29" y1="51.74" x2="585.29" y2="50.60"><stop offset="0.000" stop-color="#67ff00"/><stop offset="0.504" stop-color="#baff00"/><stop offset="1.000" stop-color="#ffff00"/></linearGradient>
<path d="M579.1 50.7l0.4 2.2 5.2-5.3-0.4-2.2z" style="fill:url(#p170);stroke:url(#p170)"/>
<path class="m" d="M584.3 45.4L584.7 47.6"/>
<linearGradient id="p171" gradientUnits="userSpaceOnUse" x1="575.96" y1="70.84" x2="581.78" y2="70.17"><stop offset="0.000" stop-color="#00ff26"/><stop offset="0.504" stop-color="#28ff00"/><stop offset="1.000" stop-color="#76ff00"/></linearGradient>
<path d="M575.8 69.7l0.3 2.3 5.2-5.6-0.2-2.2z" style="fill:url(#p171);stroke:url(#p171)"/>
<path class="m" d="M581.1 64.2L581.3 66.4"/>
<linearGradient id="p172" gradientUnits="userSpaceOnUse" x1="571.80" y1="88.12" x2="577.61" y2="87.57"><stop offset="0.000" stop-color="#00ffaa"/><stop offset="0.504" stop-color="#00ff61"/><stop offset="1.000" stop-color="#00ff14"/></linearGradient>
<path d="M571.7 87l0.2 2.3 5.3-5.8-0.2-2.3z" style="fill:url(#p172);stroke:url(#p172)"/>
<path class="m" d="M577.0 81.2L577.2 83.5"/>
<linearGradient id="p173" gradientUnits="userSpaceOnUse" x1="599.11" y1="69.11" x2="603.08" y2="69.73"><stop offset="0.000" stop-color="#65ff00"/><stop offset="0.504" stop-color="#aaff00"/><stop offset="1.000" stop-color="#efff00"/></linearGradient>
<path d="M598.9 70.3l0.4-2.3 4.9-5.6-0.4 2.3z" style="fill:url(#p173);stroke:url(#p173)"/>
<path class="m" d="M603.8 64.7L604.2 62.4"/>
<linearGradient id="p174" gradientUnits="userSpaceOnUse" x1="592.82" y1="84.26" x2="597.11" y2="84.75"><stop offset="0.000" stop-color="#00ff17"/><stop offset="0.504" stop-color="#2fff00"/><stop offset="1.000" stop-color="#75ff00"/></linearGradient>
<path d="M592.7 85.5l0.3-2.4 5-5.8-0.3 2.4z" style="fill:url(#p174);stroke:url(#p174)"/>
<path class="m" d="M597.7 79.7L598.0 77.3M592.8 84.2L597.8 78.4"/>
<linearGradient id="p175" gradientUnits="userSpaceOnUse" x1="586.72" y1="99.71" x2="591.25" y2="100.12"><stop offset="0.000" stop-color="#00ff92"/><stop offset="0.504" stop-color="#00ff50"/><stop offset="1.000" stop-color="#00ff09"/></linearGradient>
<path d="M586.6 100.9l0.2-2.4 5.1-6-0.2 2.4z" style="fill:url(#p175);stroke:url(#p175)"/>
<path class="m" d="M591.7 94.9L591.9 92.5"/>
<linearGradient id="p176" gradientUnits="userSpaceOnUse" x1="606.39" y1="52.02" x2="609.55" y2="52.87"><stop offset="0.000" stop-color="#d0fd00"/><stop offset="0.504" stop-color="#fde800"/><stop offset="1.000" stop-color="#fdab00"/></linearGradient>
<path d="M606.1 53.2l0.6-2.3 4.8-5.3-0.6 2.3z" style="fill:url(#p176);stroke:url(#p176)"/>
<path class="m" d="M610.9 47.9L611.5 45.6"/>
<linearGradient id="p177" gradientUnits="userSpaceOnUse" x1="578.83" y1="49.52" x2="584.92" y2="48.18"><stop offset="0.000" stop-color="#66ff00"/><stop offset="0.504" stop-color="#baff00"/><stop offset="1.000" stop-color="#ffff00"/></linearGradient>
<path d="M578.6 48.4l0.5 2.3 5.2-5.3-0.5-2.2z" style="fill:url(#p177);stroke:url(#p177)"/>
<path class="m" d="M583.8 43.2L584.3 45.4"/>
<linearGradient id="p178" gradientUnits="userSpaceOnUse" x1="575.69" y1="68.56" x2="581.55" y2="67.83"><stop offset="0.000" stop-color="#00ff2a"/><stop offset="0.504" stop-color="#24ff00"/><stop offset="1.000" stop-color="#73ff00"/></linearGradient>
<path d="M575.5 67.4l0.3 2.3 5.3-5.5-0.3-2.3z" style="fill:url(#p178);stroke:url(#p178)"/>
<path class="m" d="M580.8 61.9L581.1 64.2"/>
<linearGradient id="p179" gradientUnits="userSpaceOnUse" x1="616.72" y1="36.53" x2="615.75" y2="34.98"><stop offset="0.000" stop-color="#d09900"/><stop offset="0.504" stop-color="#d06700"/><stop offset="1.000" stop-color="#d04200"/></linearGradient>
<path d="M615.7 37.3l2-1.3 4.7-5.1-2 1.3z" style="fill:url(#p179);stroke:url(#p179)"/>
<path class="m" d="M620.4 32.2L622.4 30.9M617.0 36.4L621.7 31.3"/>
<linearGradient id="p180" gradientUnits="userSpaceOnUse" x1="571.57" y1="85.81" x2="577.42" y2="85.23"><stop offset="0.000" stop-color="#00ffae"/><stop offset="0.504" stop-color="#00ff65"/><stop offset="1.000" stop-color="#00ff18"/></linearGradient>
<path d="M571.5 84.7l0.2 2.3 5.3-5.8-0.2-2.3z" style="fill:url(#p180);stroke:url(#p180)"/>
<path class="m" d="M576.8 78.9L577.0 81.2M571.5 84.9L576.8 79.1"/>
<linearGradient id="p181" gradientUnits="userSpaceOnUse" x1="540.90" y1="32.47" x2="542.72" y2="26.25"><stop offset="0.000" stop-color="#00ff62"/><stop offset="0.202" stop-color="#00ff3d"/><stop offset="0.404" stop-color="#00ff17"/><stop offset="0.604" stop-color="#0fff00"/><stop offset="0.802" stop-color="#34ff00"/><stop offset="1.000" stop-color="#5aff00"/></linearGradient>
<path d="M521.2 26.8l40.1 11.8 5.6-5.3-39.7-11.4z" style="fill:url(#p181);stroke:url(#p181)"/>
<path class="m" d="M527.2 21.9L566.9 33.3M521.2 26.8L527.2 21.9M528.8 29.0L534.8 24.0M536.5 31.2L542.4 26.2M544.3 33.5L550.1 28.4M552.3 35.8L558.0 30.6M560.3 38.2L565.9 33.0"/>
<linearGradient id="p182" gradientUnits="userSpaceOnUse" x1="578.31" y1="47.31" x2="584.49" y2="45.73"><stop offset="0.000" stop-color="#65ff00"/><stop offset="0.504" stop-color="#bcff00"/><stop offset="1.000" stop-color="#ffff00"/></linearGradient>
<path d="M578 46.3l0.6 2.1 5.2-5.2-0.5-2.2z" style="fill:url(#p182);stroke:url(#p182)"/>
<path class="m" d="M583.3 41.0L583.8 43.2"/>
<linearGradient id="p183" gradientUnits="userSpaceOnUse" x1="599.49" y1="66.78" x2="603.38" y2="67.43"><stop offset="0.000" stop-color="#61ff00"/><stop offset="0.504" stop-color="#a5ff00"/><stop offset="1.000" stop-color="#eaff00"/></linearGradient>
<path d="M599.3 68l0.4-2.4 4.9-5.5-0.4 2.3z" style="fill:url(#p183);stroke:url(#p183)"/>
<path class="m" d="M604.2 62.4L604.6 60.1"/>
<linearGradient id="p184" gradientUnits="userSpaceOnUse" x1="567.01" y1="101.10" x2="572.93" y2="100.55"><stop offset="0.000" stop-color="#00ffff"/><stop offset="0.504" stop-color="#00ffe6"/><stop offset="1.000" stop-color="#00ff9e"/></linearGradient>
<path d="M566.9 99.9l0.2 2.4 5.4-6.1-0.2-2.3z" style="fill:url(#p184);stroke:url(#p184)"/>
<path class="m" d="M572.3 93.9L572.5 96.2"/>
<linearGradient id="p185" gradientUnits="userSpaceOnUse" x1="575.39" y1="66.28" x2="581.31" y2="65.48"><stop offset="0.000" stop-color="#00ff2e"/><stop offset="0.504" stop-color="#21ff00"/><stop offset="1.000" stop-color="#70ff00"/></linearGradient>
<path d="M575.2 65.2l0.3 2.2 5.3-5.5-0.3-2.3z" style="fill:url(#p185);stroke:url(#p185)"/>
<path class="m" d="M580.5 59.6L580.8 61.9"/>
<linearGradient id="p186" gradientUnits="userSpaceOnUse" x1="607.05" y1="49.75" x2="609.90" y2="50.66"><stop offset="0.000" stop-color="#c7f500"/><stop offset="0.504" stop-color="#f5e400"/><stop offset="1.000" stop-color="#f5a900"/></linearGradient>
<path d="M606.7 50.9l0.7-2.2 4.8-5.3-0.7 2.2z" style="fill:url(#p186);stroke:url(#p186)"/>
<path class="m" d="M611.5 45.6L612.2 43.4"/>
<linearGradient id="p187" gradientUnits="userSpaceOnUse" x1="593.10" y1="81.90" x2="597.36" y2="82.42"><stop offset="0.000" stop-color="#00ff1a"/><stop offset="0.504" stop-color="#2bff00"/><stop offset="1.000" stop-color="#71ff00"/></linearGradient>
<path d="M593 83.1l0.2-2.4 5.1-5.7-0.3 2.3z" style="fill:url(#p187);stroke:url(#p187)"/>
<path class="m" d="M598.0 77.3L598.3 75.0"/>
<linearGradient id="p188" gradientUnits="userSpaceOnUse" x1="586.94" y1="97.34" x2="591.46" y2="97.76"><stop offset="0.000" stop-color="#00ff96"/><stop offset="0.504" stop-color="#00ff53"/><stop offset="1.000" stop-color="#00ff0d"/></linearGradient>
<path d="M586.8 98.5l0.2-2.3 5.2-6-0.3 2.3z" style="fill:url(#p188);stroke:url(#p188)"/>
<path class="m" d="M591.9 92.5L592.2 90.2"/>
<linearGradient id="p189" gradientUnits="userSpaceOnUse" x1="577.70" y1="45.12" x2="583.98" y2="43.20"><stop offset="0.000" stop-color="#65ff00"/><stop offset="0.504" stop-color="#bfff00"/><stop offset="1.000" stop-color="#ffff00"/></linearGradient>
<path d="M577.4 44.1l0.6 2.2 5.3-5.3-0.7-2.1z" style="fill:url(#p189);stroke:url(#p189)"/>
<path class="m" d="M582.6 38.9L583.3 41.0"/>
<linearGradient id="p190" gradientUnits="userSpaceOnUse" x1="618.84" y1="35.72" x2="618.05" y2="31.68"><stop offset="0.000" stop-color="#ffcd00"/><stop offset="0.504" stop-color="#ff8b00"/><stop offset="1.000" stop-color="#ff5900"/></linearGradient>
<path d="M617.7 36l2.3-0.4 4.6-5.1-2.2 0.4z" style="fill:url(#p190);stroke:url(#p190)"/>
<path class="m" d="M622.4 30.9L624.6 30.5"/>
<linearGradient id="p191" gradientUnits="userSpaceOnUse" x1="571.34" y1="83.50" x2="577.23" y2="82.88"><stop offset="0.000" stop-color="#00ffb2"/><stop offset="0.504" stop-color="#00ff69"/><stop offset="1.000" stop-color="#00ff1c"/></linearGradient>
<path d="M571.2 82.4l0.3 2.3 5.3-5.8-0.2-2.3z" style="fill:url(#p191);stroke:url(#p191)"/>
<path class="m" d="M576.6 76.6L576.8 78.9"/>
<linearGradient id="p192" gradientUnits="userSpaceOnUse" x1="599.90" y1="64.45" x2="603.70" y2="65.14"><stop offset="0.000" stop-color="#5dff00"/><stop offset="0.504" stop-color="#a1ff00"/><stop offset="1.000" stop-color="#e5ff00"/></linearGradient>
<path d="M599.7 65.6l0.4-2.3 5-5.5-0.5 2.3z" style="fill:url(#p192);stroke:url(#p192)"/>
<path class="m" d="M604.6 60.1L605.1 57.8"/>
<linearGradient id="p193" gradientUnits="userSpaceOnUse" x1="576.97" y1="42.98" x2="583.32" y2="40.57"><stop offset="0.000" stop-color="#66ff00"/><stop offset="0.504" stop-color="#c4ff00"/><stop offset="1.000" stop-color="#ffff00"/></linearGradient>
<path d="M576.6 42l0.8 2.1 5.2-5.2-0.7-2.1z" style="fill:url(#p193);stroke:url(#p193)"/>
<path class="m" d="M581.9 36.8L582.6 38.9"/>
<linearGradient id="p194" gradientUnits="userSpaceOnUse" x1="567.91" y1="33.72" x2="570.38" y2="27.46"><stop offset="0.000" stop-color="#60ff00"/><stop offset="0.504" stop-color="#c3ff00"/><stop offset="1.000" stop-color="#ffff00"/></linearGradient>
<path d="M566.9 33.3l2.1 0.8 5.4-5-2.1-0.9z" style="fill:url(#p194);stroke:url(#p194)"/>
<path class="m" d="M572.3 28.2L574.4 29.1"/>
<linearGradient id="p195" gradientUnits="userSpaceOnUse" x1="650.91" y1="36.49" x2="652.44" y2="30.61"><stop offset="0.000" stop-color="#ff7900"/><stop offset="0.202" stop-color="#ff5f00"/><stop offset="0.404" stop-color="#ff4400"/><stop offset="0.604" stop-color="#ff2c00"/><stop offset="0.802" stop-color="#ff1600"/><stop offset="1.000" stop-color="#ff0000"/></linearGradient>
<path d="M629.1 30.9l44.3 11.6 4-5.4-43.8-11.2z" style="fill:url(#p195);stroke:url(#p195)"/>
<path class="m" d="M633.6 25.9L677.4 37.1M630.1 31.1L634.6 26.1M638.6 33.2L642.9 28.1M647.1 35.5L651.4 30.3M655.8 37.8L660.0 32.6M664.6 40.1L668.6 34.8M673.4 42.5L677.4 37.1"/>
<linearGradient id="p196" gradientUnits="userSpaceOnUse" x1="575.07" y1="64.00" x2="581.05" y2="63.13"><stop offset="0.000" stop-color="#00ff31"/><stop offset="0.504" stop-color="#1eff00"/><stop offset="1.000" stop-color="#6dff00"/></linearGradient>
<path d="M574.9 62.9l0.3 2.3 5.3-5.6-0.3-2.2z" style="fill:url(#p196);stroke:url(#p196)"/>
<path class="m" d="M580.2 57.4L580.5 59.6"/>
<linearGradient id="p197" gradientUnits="userSpaceOnUse" x1="566.79" y1="98.77" x2="572.74" y2="98.20"><stop offset="0.000" stop-color="#00ffff"/><stop offset="0.504" stop-color="#00ffea"/><stop offset="1.000" stop-color="#00ffa2"/></linearGradient>
<path d="M566.7 97.6l0.2 2.3 5.4-6-0.2-2.3z" style="fill:url(#p197);stroke:url(#p197)"/>
<path class="m" d="M572.1 91.6L572.3 93.9"/>
<linearGradient id="p198" gradientUnits="userSpaceOnUse" x1="621.11" y1="35.60" x2="621.35" y2="30.26"><stop offset="0.000" stop-color="#ffeb00"/><stop offset="0.504" stop-color="#ff9f00"/><stop offset="1.000" stop-color="#ff6700"/></linearGradient>
<path d="M620 35.6l2.3 0.1 4.6-5.1-2.3-0.1z" style="fill:url(#p198);stroke:url(#p198)"/>
<path class="m" d="M624.6 30.5L626.9 30.6"/>
<linearGradient id="p199" gradientUnits="userSpaceOnUse" x1="607.84" y1="47.51" x2="610.22" y2="48.45"><stop offset="0.000" stop-color="#bae900"/><stop offset="0.504" stop-color="#e9db00"/><stop offset="1.000" stop-color="#e9a300"/></linearGradient>
<path d="M607.4 48.7l0.9-2.2 4.8-5.3-0.9 2.2z" style="fill:url(#p199);stroke:url(#p199)"/>
<path class="m" d="M612.2 43.4L613.1 41.2"/>
<linearGradient id="p200" gradientUnits="userSpaceOnUse" x1="576.07" y1="40.90" x2="582.40" y2="37.80"><stop offset="0.000" stop-color="#69ff00"/><stop offset="0.504" stop-color="#cbff00"/><stop offset="1.000" stop-color="#ffff00"/></linearGradient>
<path d="M575.6 40l1 2 5.3-5.2-1-2z" style="fill:url(#p200);stroke:url(#p200)"/>
<path class="m" d="M580.9 34.8L581.9 36.8"/>
<path d="M567.1 102.3l14.3 4.8 5.2-6.2-14.1-4.7z" color="#cccccc"/>
<linearGradient id="p201" gradientUnits="userSpaceOnUse" x1="593.39" y1="79.54" x2="597.62" y2="80.09"><stop offset="0.000" stop-color="#00ff1e"/><stop offset="0.504" stop-color="#28ff00"/><stop offset="1.000" stop-color="#6dff00"/></linearGradient>
<path d="M593.2 80.7l0.3-2.3 5.1-5.8-0.3 2.4z" style="fill:url(#p201);stroke:url(#p201)"/>
<path class="m" d="M598.3 75.0L598.6 72.6"/>
<linearGradient id="p202" gradientUnits="userSpaceOnUse" x1="571.09" y1="81.19" x2="577.02" y2="80.54"><stop offset="0.000" stop-color="#00ffb6"/><stop offset="0.504" stop-color="#00ff6d"/><stop offset="1.000" stop-color="#00ff1f"/></linearGradient>
<path d="M571 80.1l0.2 2.3 5.4-5.8-0.3-2.3z" style="fill:url(#p202);stroke:url(#p202)"/>
<path class="m" d="M576.3 74.3L576.6 76.6"/>
<linearGradient id="p203" gradientUnits="userSpaceOnUse" x1="569.96" y1="34.62" x2="573.14" y2="28.38"><stop offset="0.000" stop-color="#64ff00"/><stop offset="0.504" stop-color="#ccff00"/><stop offset="1.000" stop-color="#ffff00"/></linearGradient>
<path d="M569 34.1l2 1.1 5.4-5.1-2-1z" style="fill:url(#p203);stroke:url(#p203)"/>
<path class="m" d="M574.4 29.1L576.4 30.1"/>
<linearGradient id="p204" gradientUnits="userSpaceOnUse" x1="587.16" y1="94.96" x2="591.67" y2="95.40"><stop offset="0.000" stop-color="#00ff99"/><stop offset="0.504" stop-color="#00ff57"/><stop offset="1.000" stop-color="#00ff10"/></linearGradient>
<path d="M587 96.2l0.3-2.4 5.1-6-0.2 2.4z" style="fill:url(#p204);stroke:url(#p204)"/>
<path class="m" d="M592.2 90.2L592.4 87.8"/>
<linearGradient id="p205" gradientUnits="userSpaceOnUse" x1="574.95" y1="38.95" x2="581.03" y2="34.90"><stop offset="0.000" stop-color="#6cff00"/><stop offset="0.504" stop-color="#d4ff00"/><stop offset="1.000" stop-color="#ffff00"/></linearGradient>
<path d="M574.3 38.1l1.3 1.9 5.3-5.2-1.2-1.9z" style="fill:url(#p205);stroke:url(#p205)"/>
<path class="m" d="M579.7 32.9L580.9 34.8"/>
<linearGradient id="p206" gradientUnits="userSpaceOnUse" x1="571.88" y1="35.76" x2="576.13" y2="29.83"><stop offset="0.000" stop-color="#6aff00"/><stop offset="0.504" stop-color="#d6ff00"/><stop offset="1.000" stop-color="#ffff00"/></linearGradient>
<path d="M571 35.2l1.8 1.3 5.4-5.2-1.8-1.2z" style="fill:url(#p206);stroke:url(#p206)"/>
<path class="m" d="M576.4 30.1L578.2 31.3"/>
<linearGradient id="p207" gradientUnits="userSpaceOnUse" x1="623.37" y1="35.86" x2="624.31" y2="30.10"><stop offset="0.000" stop-color="#ffff00"/><stop offset="0.504" stop-color="#ffaf00"/><stop offset="1.000" stop-color="#ff7100"/></linearGradient>
<path d="M622.3 35.7l2.2 0.4 4.6-5.2-2.2-0.3z" style="fill:url(#p207);stroke:url(#p207)"/>
<path class="m" d="M626.9 30.6L629.1 30.9"/>
<linearGradient id="p208" gradientUnits="userSpaceOnUse" x1="574.73" y1="61.73" x2="580.77" y2="60.76"><stop offset="0.000" stop-color="#00ff35"/><stop offset="0.504" stop-color="#1bff00"/><stop offset="1.000" stop-color="#6bff00"/></linearGradient>
<path d="M574.5 60.6l0.4 2.3 5.3-5.5-0.3-2.3z" style="fill:url(#p208);stroke:url(#p208)"/>
<path class="m" d="M579.9 55.1L580.2 57.4"/>
<linearGradient id="p209" gradientUnits="userSpaceOnUse" x1="573.56" y1="37.21" x2="578.93" y2="32.08"><stop offset="0.000" stop-color="#6dff00"/><stop offset="0.504" stop-color="#daff00"/><stop offset="1.000" stop-color="#ffff00"/></linearGradient>
<path d="M572.8 36.5l1.5 1.6 5.4-5.2-1.5-1.6z" style="fill:url(#p209);stroke:url(#p209)"/>
<path class="m" d="M578.2 31.3L579.7 32.9M574.0 37.7L579.3 32.5"/>
<linearGradient id="p210" gradientUnits="userSpaceOnUse" x1="600.35" y1="62.12" x2="604.03" y2="62.87"><stop offset="0.000" stop-color="#59ff00"/><stop offset="0.504" stop-color="#9cff00"/><stop offset="1.000" stop-color="#dfff00"/></linearGradient>
<path d="M600.1 63.3l0.5-2.3 4.9-5.5-0.4 2.3z" style="fill:url(#p210);stroke:url(#p210)"/>
<path class="m" d="M605.1 57.8L605.5 55.5"/>
<linearGradient id="p211" gradientUnits="userSpaceOnUse" x1="566.56" y1="96.44" x2="572.55" y2="95.85"><stop offset="0.000" stop-color="#00ffff"/><stop offset="0.504" stop-color="#00ffee"/><stop offset="1.000" stop-color="#00ffa6"/></linearGradient>
<path d="M566.4 95.3l0.3 2.3 5.4-6-0.2-2.3z" style="fill:url(#p211);stroke:url(#p211)"/>
<path class="m" d="M571.9 89.3L572.1 91.6"/>
<linearGradient id="p212" gradientUnits="userSpaceOnUse" x1="570.83" y1="78.88" x2="576.80" y2="78.19"><stop offset="0.000" stop-color="#00ffba"/><stop offset="0.504" stop-color="#00ff71"/><stop offset="1.000" stop-color="#00ff23"/></linearGradient>
<path d="M570.7 77.7l0.3 2.4 5.3-5.8-0.2-2.3z" style="fill:url(#p212);stroke:url(#p212)"/>
<path class="m" d="M576.1 72.0L576.3 74.3"/>
<linearGradient id="p213" gradientUnits="userSpaceOnUse" x1="608.84" y1="45.35" x2="610.43" y2="46.19"><stop offset="0.000" stop-color="#a8d400"/><stop offset="0.504" stop-color="#d4cb00"/><stop offset="1.000" stop-color="#d49800"/></linearGradient>
<path d="M608.3 46.5l1.1-2.1 4.8-5.3-1.1 2.1z" style="fill:url(#p213);stroke:url(#p213)"/>
<path class="m" d="M613.1 41.2L614.2 39.1"/>
<linearGradient id="p214" gradientUnits="userSpaceOnUse" x1="593.71" y1="77.19" x2="597.89" y2="77.76"><stop offset="0.000" stop-color="#00ff21"/><stop offset="0.504" stop-color="#24ff00"/><stop offset="1.000" stop-color="#69ff00"/></linearGradient>
<path d="M593.5 78.4l0.4-2.4 5-5.7-0.3 2.3z" style="fill:url(#p214);stroke:url(#p214)"/>
<path class="m" d="M598.6 72.6L598.9 70.3"/>
<linearGradient id="p215" gradientUnits="userSpaceOnUse" x1="574.35" y1="59.46" x2="580.47" y2="58.38"><stop offset="0.000" stop-color="#00ff3a"/><stop offset="0.504" stop-color="#18ff00"/><stop offset="1.000" stop-color="#69ff00"/></linearGradient>
<path d="M574.1 58.4l0.4 2.2 5.4-5.5-0.4-2.2z" style="fill:url(#p215);stroke:url(#p215)"/>
<path class="m" d="M579.5 52.9L579.9 55.1"/>
<linearGradient id="p216" gradientUnits="userSpaceOnUse" x1="587.40" y1="92.59" x2="591.89" y2="93.05"><stop offset="0.000" stop-color="#00ff9c"/><stop offset="0.504" stop-color="#00ff5a"/><stop offset="1.000" stop-color="#00ff14"/></linearGradient>
<path d="M587.3 93.8l0.2-2.4 5.2-5.9-0.3 2.3z" style="fill:url(#p216);stroke:url(#p216)"/>
<path class="m" d="M592.4 87.8L592.7 85.4"/>
<linearGradient id="p217" gradientUnits="userSpaceOnUse" x1="600.85" y1="59.81" x2="604.37" y2="60.61"><stop offset="0.000" stop-color="#54ff00"/><stop offset="0.504" stop-color="#96ff00"/><stop offset="1.000" stop-color="#d8ff00"/></linearGradient>
<path d="M600.6 61l0.5-2.3 5-5.5-0.6 2.3z" style="fill:url(#p217);stroke:url(#p217)"/>
<path class="m" d="M605.5 55.5L606.1 53.2"/>
<linearGradient id="p218" gradientUnits="userSpaceOnUse" x1="566.33" y1="94.12" x2="572.35" y2="93.50"><stop offset="0.000" stop-color="#00ffff"/><stop offset="0.504" stop-color="#00fff2"/><stop offset="1.000" stop-color="#00ffaa"/></linearGradient>
<path d="M566.2 93l0.2 2.3 5.5-6-0.2-2.3z" style="fill:url(#p218);stroke:url(#p218)"/>
<path class="m" d="M571.7 87.0L571.9 89.3"/>
<linearGradient id="p219" gradientUnits="userSpaceOnUse" x1="570.55" y1="76.58" x2="576.58" y2="75.84"><stop offset="0.000" stop-color="#00ffbe"/><stop offset="0.504" stop-color="#00ff74"/><stop offset="1.000" stop-color="#00ff26"/></linearGradient>
<path d="M570.4 75.4l0.3 2.3 5.4-5.7-0.3-2.3z" style="fill:url(#p219);stroke:url(#p219)"/>
<path class="m" d="M575.8 69.7L576.1 72.0"/>
<linearGradient id="p220" gradientUnits="userSpaceOnUse" x1="573.92" y1="57.20" x2="580.13" y2="55.97"><stop offset="0.000" stop-color="#00ff3e"/><stop offset="0.504" stop-color="#15ff00"/><stop offset="1.000" stop-color="#67ff00"/></linearGradient>
<path d="M573.7 56.1l0.4 2.3 5.4-5.5-0.4-2.2z" style="fill:url(#p220);stroke:url(#p220)"/>
<path class="m" d="M579.1 50.7L579.5 52.9"/>
<linearGradient id="p221" gradientUnits="userSpaceOnUse" x1="610.14" y1="43.35" x2="610.47" y2="43.62"><stop offset="0.000" stop-color="#88af00"/><stop offset="0.504" stop-color="#afa900"/><stop offset="1.000" stop-color="#af7f00"/></linearGradient>
<path d="M609.4 44.4l1.5-1.8 4.8-5.3-1.5 1.8z" style="fill:url(#p221);stroke:url(#p221)"/>
<path class="m" d="M614.2 39.1L615.7 37.3"/>
<linearGradient id="p222" gradientUnits="userSpaceOnUse" x1="594.05" y1="74.83" x2="598.17" y2="75.45"><stop offset="0.000" stop-color="#00ff24"/><stop offset="0.504" stop-color="#21ff00"/><stop offset="1.000" stop-color="#65ff00"/></linearGradient>
<path d="M593.9 76l0.3-2.3 5.1-5.7-0.4 2.3z" style="fill:url(#p222);stroke:url(#p222)"/>
<path class="m" d="M598.9 70.3L599.3 68.0"/>
<linearGradient id="p223" gradientUnits="userSpaceOnUse" x1="581.46" y1="105.90" x2="586.18" y2="106.29"><stop offset="0.000" stop-color="#00ffff"/><stop offset="0.504" stop-color="#00ffd5"/><stop offset="1.000" stop-color="#00ff92"/></linearGradient>
<path d="M581.4 107.1l0.2-2.4 5.2-6.2-0.2 2.4z" style="fill:url(#p223);stroke:url(#p223)"/>
<path class="m" d="M586.6 100.9L586.8 98.5"/>
<linearGradient id="p224" gradientUnits="userSpaceOnUse" x1="587.65" y1="90.21" x2="592.12" y2="90.70"><stop offset="0.000" stop-color="#00ff9f"/><stop offset="0.504" stop-color="#00ff5d"/><stop offset="1.000" stop-color="#00ff17"/></linearGradient>
<path d="M587.5 91.4l0.3-2.4 5.2-5.9-0.3 2.4z" style="fill:url(#p224);stroke:url(#p224)"/>
<path class="m" d="M592.7 85.4L593.0 83.1M587.7 90.1L592.8 84.2"/>
<linearGradient id="p225" gradientUnits="userSpaceOnUse" x1="573.45" y1="54.95" x2="579.74" y2="53.53"><stop offset="0.000" stop-color="#00ff43"/><stop offset="0.504" stop-color="#12ff00"/><stop offset="1.000" stop-color="#66ff00"/></linearGradient>
<path d="M573.2 53.9l0.5 2.2 5.4-5.4-0.5-2.3z" style="fill:url(#p225);stroke:url(#p225)"/>
<path class="m" d="M578.6 48.4L579.1 50.7"/>
<linearGradient id="p226" gradientUnits="userSpaceOnUse" x1="570.26" y1="74.28" x2="576.33" y2="73.48"><stop offset="0.000" stop-color="#00ffc2"/><stop offset="0.504" stop-color="#00ff78"/><stop offset="1.000" stop-color="#00ff2a"/></linearGradient>
<path d="M570.1 73.1l0.3 2.3 5.4-5.7-0.3-2.3z" style="fill:url(#p226);stroke:url(#p226)"/>
<path class="m" d="M575.5 67.4L575.8 69.7"/>
<linearGradient id="p227" gradientUnits="userSpaceOnUse" x1="566.08" y1="91.79" x2="572.15" y2="91.14"><stop offset="0.000" stop-color="#00ffff"/><stop offset="0.504" stop-color="#00fff6"/><stop offset="1.000" stop-color="#00ffae"/></linearGradient>
<path d="M566 90.6l0.2 2.4 5.5-6-0.2-2.3z" style="fill:url(#p227);stroke:url(#p227)"/>
<path class="m" d="M571.5 84.7L571.7 87.0M566.0 90.9L571.5 84.9"/>
<linearGradient id="p228" gradientUnits="userSpaceOnUse" x1="601.41" y1="57.50" x2="604.71" y2="58.37"><stop offset="0.000" stop-color="#4ffd00"/><stop offset="0.504" stop-color="#90fd00"/><stop offset="1.000" stop-color="#d0fd00"/></linearGradient>
<path d="M601.1 58.7l0.6-2.3 5-5.5-0.6 2.3z" style="fill:url(#p228);stroke:url(#p228)"/>
<path class="m" d="M606.1 53.2L606.7 50.9"/>
<linearGradient id="p229" gradientUnits="userSpaceOnUse" x1="534.91" y1="37.68" x2="536.83" y2="31.26"><stop offset="0.000" stop-color="#00ffff"/><stop offset="0.202" stop-color="#00fff6"/><stop offset="0.404" stop-color="#00ffd2"/><stop offset="0.604" stop-color="#00ffae"/><stop offset="0.802" stop-color="#00ff88"/><stop offset="1.000" stop-color="#00ff62"/></linearGradient>
<path d="M515 31.8l40.5 12.1 5.8-5.3-40.1-11.8z" style="fill:url(#p229);stroke:url(#p229)"/>
<path class="m" d="M521.2 26.8L561.3 38.6M515.0 31.8L521.2 26.8M522.7 34.1L528.8 29.0M530.5 36.4L536.5 31.2M538.4 38.7L544.3 33.5M546.4 41.1L552.3 35.8M554.5 43.6L560.3 38.2"/>
<linearGradient id="p230" gradientUnits="userSpaceOnUse" x1="561.44" y1="107.33" x2="567.57" y2="106.71"><stop offset="0.000" stop-color="#00d1ff"/><stop offset="0.504" stop-color="#00feff"/><stop offset="1.000" stop-color="#00ffff"/></linearGradient>
<path d="M561.3 106.2l0.3 2.3 5.5-6.2-0.2-2.4z" style="fill:url(#p230);stroke:url(#p230)"/>
<path class="m" d="M566.9 99.9L567.1 102.3"/>
<linearGradient id="p231" gradientUnits="userSpaceOnUse" x1="611.88" y1="41.80" x2="610.88" y2="40.19"><stop offset="0.000" stop-color="#a0d000"/><stop offset="0.504" stop-color="#d0cb00"/><stop offset="1.000" stop-color="#d09900"/></linearGradient>
<path d="M610.9 42.6l2-1.3 4.8-5.3-2 1.3z" style="fill:url(#p231);stroke:url(#p231)"/>
<path class="m" d="M615.7 37.3L617.7 36.0M612.1 41.7L617.0 36.4"/>
<linearGradient id="p232" gradientUnits="userSpaceOnUse" x1="572.90" y1="52.72" x2="579.29" y2="51.05"><stop offset="0.000" stop-color="#00ff48"/><stop offset="0.504" stop-color="#0fff00"/><stop offset="1.000" stop-color="#65ff00"/></linearGradient>
<path d="M572.6 51.7l0.6 2.2 5.4-5.5-0.6-2.1z" style="fill:url(#p232);stroke:url(#p232)"/>
<path class="m" d="M578.0 46.3L578.6 48.4"/>
<linearGradient id="p233" gradientUnits="userSpaceOnUse" x1="594.41" y1="72.48" x2="598.46" y2="73.14"><stop offset="0.000" stop-color="#00ff27"/><stop offset="0.504" stop-color="#1dff00"/><stop offset="1.000" stop-color="#61ff00"/></linearGradient>
<path d="M594.2 73.7l0.4-2.4 5.1-5.7-0.4 2.4z" style="fill:url(#p233);stroke:url(#p233)"/>
<path class="m" d="M599.3 68.0L599.7 65.6"/>
<linearGradient id="p234" gradientUnits="userSpaceOnUse" x1="569.95" y1="71.98" x2="576.08" y2="71.11"><stop offset="0.000" stop-color="#00ffc6"/><stop offset="0.504" stop-color="#00ff7c"/><stop offset="1.000" stop-color="#00ff2e"/></linearGradient>
<path d="M569.8 70.9l0.3 2.2 5.4-5.7-0.3-2.2z" style="fill:url(#p234);stroke:url(#p234)"/>
<path class="m" d="M575.2 65.2L575.5 67.4"/>
<linearGradient id="p235" gradientUnits="userSpaceOnUse" x1="581.66" y1="103.51" x2="586.37" y2="103.92"><stop offset="0.000" stop-color="#00ffff"/><stop offset="0.504" stop-color="#00ffd8"/><stop offset="1.000" stop-color="#00ff96"/></linearGradient>
<path d="M581.6 104.7l0.2-2.4 5.2-6.1-0.2 2.3z" style="fill:url(#p235);stroke:url(#p235)"/>
<path class="m" d="M586.8 98.5L587.0 96.2"/>
<linearGradient id="p236" gradientUnits="userSpaceOnUse" x1="587.92" y1="87.84" x2="592.36" y2="88.35"><stop offset="0.000" stop-color="#00ffa2"/><stop offset="0.504" stop-color="#00ff60"/><stop offset="1.000" stop-color="#00ff1a"/></linearGradient>
<path d="M587.8 89l0.3-2.3 5.1-6-0.2 2.4z" style="fill:url(#p236);stroke:url(#p236)"/>
<path class="m" d="M593.0 83.1L593.2 80.7"/>
<linearGradient id="p237" gradientUnits="userSpaceOnUse" x1="565.83" y1="89.46" x2="571.93" y2="88.78"><stop offset="0.000" stop-color="#00ffff"/><stop offset="0.504" stop-color="#00fffa"/><stop offset="1.000" stop-color="#00ffb2"/></linearGradient>
<path d="M565.7 88.3l0.3 2.3 5.5-5.9-0.3-2.3z" style="fill:url(#p237);stroke:url(#p237)"/>
<path class="m" d="M571.2 82.4L571.5 84.7"/>
<linearGradient id="p238" gradientUnits="userSpaceOnUse" x1="602.07" y1="55.22" x2="605.04" y2="56.15"><stop offset="0.000" stop-color="#4af500"/><stop offset="0.504" stop-color="#88f500"/><stop offset="1.000" stop-color="#c7f500"/></linearGradient>
<path d="M601.7 56.4l0.7-2.3 5-5.4-0.7 2.2z" style="fill:url(#p238);stroke:url(#p238)"/>
<path class="m" d="M606.7 50.9L607.4 48.7"/>
<linearGradient id="p239" gradientUnits="userSpaceOnUse" x1="572.27" y1="50.52" x2="578.75" y2="48.49"><stop offset="0.000" stop-color="#00ff4e"/><stop offset="0.504" stop-color="#0cff00"/><stop offset="1.000" stop-color="#65ff00"/></linearGradient>
<path d="M571.9 49.5l0.7 2.2 5.4-5.4-0.6-2.2z" style="fill:url(#p239);stroke:url(#p239)"/>
<path class="m" d="M577.4 44.1L578.0 46.3"/>
<linearGradient id="p240" gradientUnits="userSpaceOnUse" x1="561.20" y1="104.99" x2="567.37" y2="104.34"><stop offset="0.000" stop-color="#00cdff"/><stop offset="0.504" stop-color="#00fbff"/><stop offset="1.000" stop-color="#00ffff"/></linearGradient>
<path d="M561.1 103.8l0.2 2.4 5.6-6.3-0.2-2.3z" style="fill:url(#p240);stroke:url(#p240)"/>
<path class="m" d="M566.7 97.6L566.9 99.9"/>
<linearGradient id="p241" gradientUnits="userSpaceOnUse" x1="614.02" y1="41.00" x2="613.22" y2="36.80"><stop offset="0.000" stop-color="#d3ff00"/><stop offset="0.504" stop-color="#ffff00"/><stop offset="1.000" stop-color="#ffcd00"/></linearGradient>
<path d="M612.9 41.3l2.3-0.4 4.8-5.3-2.3 0.4z" style="fill:url(#p241);stroke:url(#p241)"/>
<path class="m" d="M617.7 36.0L620.0 35.6"/>
<linearGradient id="p242" gradientUnits="userSpaceOnUse" x1="569.61" y1="69.68" x2="575.80" y2="68.73"><stop offset="0.000" stop-color="#00ffcb"/><stop offset="0.504" stop-color="#00ff80"/><stop offset="1.000" stop-color="#00ff31"/></linearGradient>
<path d="M569.4 68.6l0.4 2.3 5.4-5.7-0.3-2.3z" style="fill:url(#p242);stroke:url(#p242)"/>
<path class="m" d="M574.9 62.9L575.2 65.2"/>
<linearGradient id="p243" gradientUnits="userSpaceOnUse" x1="594.81" y1="70.14" x2="598.77" y2="70.84"><stop offset="0.000" stop-color="#00ff2a"/><stop offset="0.504" stop-color="#1aff00"/><stop offset="1.000" stop-color="#5dff00"/></linearGradient>
<path d="M594.6 71.3l0.4-2.3 5.1-5.7-0.4 2.3z" style="fill:url(#p243);stroke:url(#p243)"/>
<path class="m" d="M599.7 65.6L600.1 63.3"/>
<linearGradient id="p244" gradientUnits="userSpaceOnUse" x1="571.52" y1="48.35" x2="578.06" y2="45.83"><stop offset="0.000" stop-color="#00ff55"/><stop offset="0.504" stop-color="#09ff00"/><stop offset="1.000" stop-color="#66ff00"/></linearGradient>
<path d="M571.1 47.3l0.8 2.2 5.5-5.4-0.8-2.1z" style="fill:url(#p244);stroke:url(#p244)"/>
<path class="m" d="M576.6 42.0L577.4 44.1"/>
<linearGradient id="p245" gradientUnits="userSpaceOnUse" x1="562.32" y1="38.95" x2="564.89" y2="32.51"><stop offset="0.000" stop-color="#00ff67"/><stop offset="0.504" stop-color="#00ff04"/><stop offset="1.000" stop-color="#60ff00"/></linearGradient>
<path d="M561.3 38.6l2.1 0.8 5.6-5.3-2.1-0.8z" style="fill:url(#p245);stroke:url(#p245)"/>
<path class="m" d="M566.9 33.3L569.0 34.2"/>
<path d="M561.6 108.5l14.3 5 5.5-6.4-14.3-4.8z" color="#cccccc"/>
<linearGradient id="p246" gradientUnits="userSpaceOnUse" x1="565.56" y1="87.14" x2="571.71" y2="86.41"><stop offset="0.000" stop-color="#00ffff"/><stop offset="0.504" stop-color="#00ffff"/><stop offset="1.000" stop-color="#00ffb6"/></linearGradient>
<path d="M565.4 86l0.3 2.3 5.5-5.9-0.2-2.3z" style="fill:url(#p246);stroke:url(#p246)"/>
<path class="m" d="M571.0 80.1L571.2 82.4"/>
<linearGradient id="p247" gradientUnits="userSpaceOnUse" x1="581.87" y1="101.12" x2="586.57" y2="101.55"><stop offset="0.000" stop-color="#00ffff"/><stop offset="0.504" stop-color="#00ffdb"/><stop offset="1.000" stop-color="#00ff99"/></linearGradient>
<path d="M581.8 102.3l0.2-2.4 5.3-6.1-0.3 2.4z" style="fill:url(#p247);stroke:url(#p247)"/>
<path class="m" d="M587.0 96.2L587.3 93.8"/>
<linearGradient id="p248" gradientUnits="userSpaceOnUse" x1="588.20" y1="85.47" x2="592.60" y2="86.01"><stop offset="0.000" stop-color="#00ffa5"/><stop offset="0.504" stop-color="#00ff63"/><stop offset="1.000" stop-color="#00ff1e"/></linearGradient>
<path d="M588.1 86.7l0.2-2.4 5.2-5.9-0.3 2.3z" style="fill:url(#p248);stroke:url(#p248)"/>
<path class="m" d="M593.2 80.7L593.5 78.4"/>
<linearGradient id="p249" gradientUnits="userSpaceOnUse" x1="570.60" y1="46.25" x2="577.12" y2="43.02"><stop offset="0.000" stop-color="#00ff5d"/><stop offset="0.504" stop-color="#06ff00"/><stop offset="1.000" stop-color="#69ff00"/></linearGradient>
<path d="M570.1 45.3l1 2 5.5-5.3-1-2z" style="fill:url(#p249);stroke:url(#p249)"/>
<path class="m" d="M575.6 40.0L576.6 42.0"/>
<linearGradient id="p250" gradientUnits="userSpaceOnUse" x1="646.53" y1="41.82" x2="648.15" y2="35.75"><stop offset="0.000" stop-color="#ffff00"/><stop offset="0.202" stop-color="#fff000"/><stop offset="0.404" stop-color="#ffcd00"/><stop offset="0.604" stop-color="#ffae00"/><stop offset="0.802" stop-color="#ff9400"/><stop offset="1.000" stop-color="#ff7900"/></linearGradient>
<path d="M624.5 36.1l44.9 11.9 4-5.5-44.3-11.6z" style="fill:url(#p250);stroke:url(#p250)"/>
<path class="m" d="M629.1 30.9L673.4 42.5M625.5 36.3L630.1 31.1M634.0 38.4L638.6 33.2M642.7 40.8L647.1 35.5M651.5 43.2L655.8 37.8M660.3 45.6L664.6 40.1M669.4 48.0L673.4 42.5"/>
<linearGradient id="p251" gradientUnits="userSpaceOnUse" x1="564.40" y1="39.88" x2="567.69" y2="33.46"><stop offset="0.000" stop-color="#00ff6b"/><stop offset="0.504" stop-color="#00ff03"/><stop offset="1.000" stop-color="#64ff00"/></linearGradient>
<path d="M563.4 39.4l2 1 5.6-5.2-2-1.1z" style="fill:url(#p251);stroke:url(#p251)"/>
<path class="m" d="M569.0 34.2L571.0 35.2"/>
<linearGradient id="p252" gradientUnits="userSpaceOnUse" x1="602.85" y1="52.97" x2="605.33" y2="53.94"><stop offset="0.000" stop-color="#44e900"/><stop offset="0.504" stop-color="#7fe900"/><stop offset="1.000" stop-color="#bae900"/></linearGradient>
<path d="M602.4 54.1l0.9-2.2 5-5.4-0.9 2.2z" style="fill:url(#p252);stroke:url(#p252)"/>
<path class="m" d="M607.4 48.7L608.3 46.5"/>
<linearGradient id="p253" gradientUnits="userSpaceOnUse" x1="616.31" y1="40.89" x2="616.59" y2="35.37"><stop offset="0.000" stop-color="#efff00"/><stop offset="0.504" stop-color="#ffff00"/><stop offset="1.000" stop-color="#ffeb00"/></linearGradient>
<path d="M615.2 40.9l2.3 0.1 4.8-5.3-2.3-0.1z" style="fill:url(#p253);stroke:url(#p253)"/>
<path class="m" d="M620.0 35.6L622.3 35.7"/>
<linearGradient id="p254" gradientUnits="userSpaceOnUse" x1="569.24" y1="67.39" x2="575.50" y2="66.34"><stop offset="0.000" stop-color="#00ffd1"/><stop offset="0.504" stop-color="#00ff85"/><stop offset="1.000" stop-color="#00ff35"/></linearGradient>
<path d="M569.1 66.3l0.3 2.3 5.5-5.7-0.4-2.3z" style="fill:url(#p254);stroke:url(#p254)"/>
<path class="m" d="M574.5 60.6L574.9 62.9"/>
<linearGradient id="p255" gradientUnits="userSpaceOnUse" x1="569.46" y1="44.28" x2="575.71" y2="40.08"><stop offset="0.000" stop-color="#00ff66"/><stop offset="0.504" stop-color="#03ff00"/><stop offset="1.000" stop-color="#6cff00"/></linearGradient>
<path d="M568.8 43.4l1.3 1.9 5.5-5.3-1.3-1.9z" style="fill:url(#p255);stroke:url(#p255)"/>
<path class="m" d="M574.3 38.1L575.6 40.0"/>
<linearGradient id="p256" gradientUnits="userSpaceOnUse" x1="566.33" y1="41.04" x2="570.73" y2="34.93"><stop offset="0.000" stop-color="#00ff6e"/><stop offset="0.504" stop-color="#00ff02"/><stop offset="1.000" stop-color="#6aff00"/></linearGradient>
<path d="M565.4 40.4l1.9 1.4 5.5-5.3-1.8-1.3z" style="fill:url(#p256);stroke:url(#p256)"/>
<path class="m" d="M571.0 35.2L572.8 36.5"/>
<linearGradient id="p257" gradientUnits="userSpaceOnUse" x1="560.95" y1="102.64" x2="567.16" y2="101.97"><stop offset="0.000" stop-color="#00caff"/><stop offset="0.504" stop-color="#00f7ff"/><stop offset="1.000" stop-color="#00ffff"/></linearGradient>
<path d="M560.8 101.5l0.3 2.3 5.6-6.2-0.3-2.3z" style="fill:url(#p257);stroke:url(#p257)"/>
<path class="m" d="M566.4 95.3L566.7 97.6"/>
<linearGradient id="p258" gradientUnits="userSpaceOnUse" x1="568.04" y1="42.51" x2="573.57" y2="37.22"><stop offset="0.000" stop-color="#00ff6d"/><stop offset="0.504" stop-color="#00ff00"/><stop offset="1.000" stop-color="#6dff00"/></linearGradient>
<path d="M567.3 41.8l1.5 1.6 5.5-5.3-1.5-1.6z" style="fill:url(#p258);stroke:url(#p258)"/>
<path class="m" d="M572.8 36.5L574.3 38.1M568.5 43.0L574.0 37.7"/>
<linearGradient id="p259" gradientUnits="userSpaceOnUse" x1="595.24" y1="67.80" x2="599.08" y2="68.56"><stop offset="0.000" stop-color="#00ff2d"/><stop offset="0.504" stop-color="#16ff00"/><stop offset="1.000" stop-color="#59ff00"/></linearGradient>
<path d="M595 69l0.5-2.3 5.1-5.7-0.5 2.3z" style="fill:url(#p259);stroke:url(#p259)"/>
<path class="m" d="M600.1 63.3L600.6 61.0"/>
<linearGradient id="p260" gradientUnits="userSpaceOnUse" x1="565.28" y1="84.81" x2="571.47" y2="84.05"><stop offset="0.000" stop-color="#00ffff"/><stop offset="0.504" stop-color="#00ffff"/><stop offset="1.000" stop-color="#00ffba"/></linearGradient>
<path d="M565.1 83.7l0.3 2.3 5.6-5.9-0.3-2.4z" style="fill:url(#p260);stroke:url(#p260)"/>
<path class="m" d="M570.7 77.7L571.0 80.1"/>
<linearGradient id="p261" gradientUnits="userSpaceOnUse" x1="618.59" y1="41.17" x2="619.59" y2="35.22"><stop offset="0.000" stop-color="#ffff00"/><stop offset="0.504" stop-color="#ffff00"/><stop offset="1.000" stop-color="#ffff00"/></linearGradient>
<path d="M617.5 41l2.2 0.4 4.8-5.3-2.2-0.4z" style="fill:url(#p261);stroke:url(#p261)"/>
<path class="m" d="M622.3 35.7L624.5 36.1"/>
<linearGradient id="p262" gradientUnits="userSpaceOnUse" x1="588.50" y1="83.10" x2="592.86" y2="83.67"><stop offset="0.000" stop-color="#00ffa7"/><stop offset="0.504" stop-color="#00ff66"/><stop offset="1.000" stop-color="#00ff21"/></linearGradient>
<path d="M588.3 84.3l0.4-2.4 5.2-5.9-0.4 2.4z" style="fill:url(#p262);stroke:url(#p262)"/>
<path class="m" d="M593.5 78.4L593.9 76.0"/>
<linearGradient id="p263" gradientUnits="userSpaceOnUse" x1="582.09" y1="98.74" x2="586.77" y2="99.18"><stop offset="0.000" stop-color="#00ffff"/><stop offset="0.504" stop-color="#00ffde"/><stop offset="1.000" stop-color="#00ff9c"/></linearGradient>
<path d="M582 99.9l0.2-2.3 5.3-6.2-0.2 2.4z" style="fill:url(#p263);stroke:url(#p263)"/>
<path class="m" d="M587.3 93.8L587.5 91.4"/>
<linearGradient id="p264" gradientUnits="userSpaceOnUse" x1="568.84" y1="65.10" x2="575.17" y2="63.94"><stop offset="0.000" stop-color="#00ffd7"/><stop offset="0.504" stop-color="#00ff8b"/><stop offset="1.000" stop-color="#00ff3a"/></linearGradient>
<path d="M568.6 64l0.5 2.3 5.4-5.7-0.4-2.2z" style="fill:url(#p264);stroke:url(#p264)"/>
<path class="m" d="M574.1 58.4L574.5 60.6"/>
<linearGradient id="p265" gradientUnits="userSpaceOnUse" x1="603.84" y1="50.79" x2="605.50" y2="51.67"><stop offset="0.000" stop-color="#3bd400"/><stop offset="0.504" stop-color="#71d400"/><stop offset="1.000" stop-color="#a8d400"/></linearGradient>
<path d="M603.3 51.9l1.1-2.1 5-5.4-1.1 2.1z" style="fill:url(#p265);stroke:url(#p265)"/>
<path class="m" d="M608.3 46.5L609.4 44.4"/>
<linearGradient id="p266" gradientUnits="userSpaceOnUse" x1="560.69" y1="100.30" x2="566.94" y2="99.60"><stop offset="0.000" stop-color="#00c7ff"/><stop offset="0.504" stop-color="#00f4ff"/><stop offset="1.000" stop-color="#00ffff"/></linearGradient>
<path d="M560.6 99.1l0.2 2.4 5.6-6.2-0.2-2.3z" style="fill:url(#p266);stroke:url(#p266)"/>
<path class="m" d="M566.2 93.0L566.4 95.3"/>
<linearGradient id="p267" gradientUnits="userSpaceOnUse" x1="564.98" y1="82.49" x2="571.22" y2="81.67"><stop offset="0.000" stop-color="#00ffff"/><stop offset="0.504" stop-color="#00ffff"/><stop offset="1.000" stop-color="#00ffbe"/></linearGradient>
<path d="M564.8 81.4l0.3 2.3 5.6-6-0.3-2.3z" style="fill:url(#p267);stroke:url(#p267)"/>
<path class="m" d="M570.4 75.4L570.7 77.7"/>
<linearGradient id="p268" gradientUnits="userSpaceOnUse" x1="595.73" y1="65.47" x2="599.40" y2="66.29"><stop offset="0.000" stop-color="#00ff2f"/><stop offset="0.504" stop-color="#13ff00"/><stop offset="1.000" stop-color="#54ff00"/></linearGradient>
<path d="M595.5 66.7l0.5-2.3 5.1-5.7-0.5 2.3z" style="fill:url(#p268);stroke:url(#p268)"/>
<path class="m" d="M600.6 61.0L601.1 58.7"/>
<linearGradient id="p269" gradientUnits="userSpaceOnUse" x1="568.40" y1="62.83" x2="574.81" y2="61.50"><stop offset="0.000" stop-color="#00ffde"/><stop offset="0.504" stop-color="#00ff91"/><stop offset="1.000" stop-color="#00ff3e"/></linearGradient>
<path d="M568.2 61.7l0.4 2.3 5.5-5.6-0.4-2.3z" style="fill:url(#p269);stroke:url(#p269)"/>
<path class="m" d="M573.7 56.1L574.1 58.4"/>
<linearGradient id="p270" gradientUnits="userSpaceOnUse" x1="576.04" y1="112.28" x2="580.95" y2="112.65"><stop offset="0.000" stop-color="#00c1ff"/><stop offset="0.504" stop-color="#00eaff"/><stop offset="1.000" stop-color="#00ffff"/></linearGradient>
<path d="M575.9 113.5l0.2-2.4 5.5-6.4-0.2 2.4z" style="fill:url(#p270);stroke:url(#p270)"/>
<path class="m" d="M581.4 107.1L581.6 104.7"/>
<linearGradient id="p271" gradientUnits="userSpaceOnUse" x1="588.82" y1="80.73" x2="593.12" y2="81.34"><stop offset="0.000" stop-color="#00ffa9"/><stop offset="0.504" stop-color="#00ff69"/><stop offset="1.000" stop-color="#00ff24"/></linearGradient>
<path d="M588.7 81.9l0.3-2.3 5.2-5.9-0.3 2.3z" style="fill:url(#p271);stroke:url(#p271)"/>
<path class="m" d="M593.9 76.0L594.2 73.7"/>
<linearGradient id="p272" gradientUnits="userSpaceOnUse" x1="582.33" y1="96.35" x2="586.98" y2="96.82"><stop offset="0.000" stop-color="#00ffff"/><stop offset="0.504" stop-color="#00ffe1"/><stop offset="1.000" stop-color="#00ff9f"/></linearGradient>
<path d="M582.2 97.6l0.2-2.4 5.4-6.2-0.3 2.4z" style="fill:url(#p272);stroke:url(#p272)"/>
<path class="m" d="M587.5 91.4L587.8 89.0M582.3 96.3L587.7 90.1"/>
<linearGradient id="p273" gradientUnits="userSpaceOnUse" x1="605.14" y1="48.79" x2="605.49" y2="49.07"><stop offset="0.000" stop-color="#2faf00"/><stop offset="0.504" stop-color="#5caf00"/><stop offset="1.000" stop-color="#88af00"/></linearGradient>
<path d="M604.4 49.8l1.5-1.8 5-5.4-1.5 1.8z" style="fill:url(#p273);stroke:url(#p273)"/>
<path class="m" d="M609.4 44.4L610.9 42.6"/>
<linearGradient id="p274" gradientUnits="userSpaceOnUse" x1="560.43" y1="97.95" x2="566.71" y2="97.23"><stop offset="0.000" stop-color="#00c4ff"/><stop offset="0.504" stop-color="#00f1ff"/><stop offset="1.000" stop-color="#00ffff"/></linearGradient>
<path d="M560.3 96.8l0.3 2.3 5.6-6.1-0.2-2.4z" style="fill:url(#p274);stroke:url(#p274)"/>
<path class="m" d="M566.0 90.6L566.2 93.0M560.3 97.0L566.0 90.9"/>
<linearGradient id="p275" gradientUnits="userSpaceOnUse" x1="564.67" y1="80.17" x2="570.96" y2="79.29"><stop offset="0.000" stop-color="#00ffff"/><stop offset="0.504" stop-color="#00ffff"/><stop offset="1.000" stop-color="#00ffc2"/></linearGradient>
<path d="M564.5 79l0.3 2.4 5.6-6-0.3-2.3z" style="fill:url(#p275);stroke:url(#p275)"/>
<path class="m" d="M570.1 73.1L570.4 75.4"/>
<linearGradient id="p276" gradientUnits="userSpaceOnUse" x1="567.90" y1="60.56" x2="574.40" y2="59.04"><stop offset="0.000" stop-color="#00ffe7"/><stop offset="0.504" stop-color="#00ff97"/><stop offset="1.000" stop-color="#00ff43"/></linearGradient>
<path d="M567.6 59.5l0.6 2.2 5.5-5.6-0.5-2.2z" style="fill:url(#p276);stroke:url(#p276)"/>
<path class="m" d="M573.2 53.9L573.7 56.1"/>
<linearGradient id="p277" gradientUnits="userSpaceOnUse" x1="528.74" y1="43.05" x2="530.76" y2="36.41"><stop offset="0.000" stop-color="#00ffff"/><stop offset="0.202" stop-color="#00ffff"/><stop offset="0.404" stop-color="#00ffff"/><stop offset="0.604" stop-color="#00ffff"/><stop offset="0.802" stop-color="#00ffff"/><stop offset="1.000" stop-color="#00ffff"/></linearGradient>
<path d="M508.7 37l40.8 12.5 6-5.6-40.5-12.1z" style="fill:url(#p277);stroke:url(#p277)"/>
<path class="m" d="M515.0 31.8L555.5 43.9M508.7 37.0L515.0 31.8M516.4 39.4L522.7 34.1M524.3 41.7L530.5 36.4M532.3 44.1L538.4 38.7M540.3 46.5L546.4 41.1M548.5 49.1L554.5 43.6"/>
<linearGradient id="p278" gradientUnits="userSpaceOnUse" x1="555.69" y1="113.75" x2="562.06" y2="113.05"><stop offset="0.000" stop-color="#0069ff"/><stop offset="0.504" stop-color="#00a4ff"/><stop offset="1.000" stop-color="#00d1ff"/></linearGradient>
<path d="M555.6 112.6l0.2 2.3 5.8-6.4-0.3-2.3z" style="fill:url(#p278);stroke:url(#p278)"/>
<path class="m" d="M561.3 106.2L561.6 108.5"/>
<linearGradient id="p279" gradientUnits="userSpaceOnUse" x1="596.28" y1="63.15" x2="599.73" y2="64.04"><stop offset="0.000" stop-color="#00fd31"/><stop offset="0.504" stop-color="#0ffd00"/><stop offset="1.000" stop-color="#4ffd00"/></linearGradient>
<path d="M596 64.4l0.6-2.3 5.1-5.7-0.6 2.3z" style="fill:url(#p279);stroke:url(#p279)"/>
<path class="m" d="M601.1 58.7L601.7 56.4"/>
<linearGradient id="p280" gradientUnits="userSpaceOnUse" x1="576.22" y1="109.88" x2="581.13" y2="110.27"><stop offset="0.000" stop-color="#00bdff"/><stop offset="0.504" stop-color="#00e6ff"/><stop offset="1.000" stop-color="#00ffff"/></linearGradient>
<path d="M576.1 111.1l0.2-2.4 5.5-6.4-0.2 2.4z" style="fill:url(#p280);stroke:url(#p280)"/>
<path class="m" d="M581.6 104.7L581.8 102.3"/>
<linearGradient id="p281" gradientUnits="userSpaceOnUse" x1="567.34" y1="58.31" x2="573.93" y2="56.52"><stop offset="0.000" stop-color="#00fff0"/><stop offset="0.504" stop-color="#00ff9f"/><stop offset="1.000" stop-color="#00ff48"/></linearGradient>
<path d="M567 57.2l0.6 2.3 5.6-5.6-0.6-2.2z" style="fill:url(#p281);stroke:url(#p281)"/>
<path class="m" d="M572.6 51.7L573.2 53.9"/>
<linearGradient id="p282" gradientUnits="userSpaceOnUse" x1="589.17" y1="78.37" x2="593.40" y2="79.02"><stop offset="0.000" stop-color="#00ffac"/><stop offset="0.504" stop-color="#00ff6b"/><stop offset="1.000" stop-color="#00ff27"/></linearGradient>
<path d="M589 79.6l0.4-2.4 5.2-5.9-0.4 2.4z" style="fill:url(#p282);stroke:url(#p282)"/>
<path class="m" d="M594.2 73.7L594.6 71.3"/>
<linearGradient id="p283" gradientUnits="userSpaceOnUse" x1="564.33" y1="77.85" x2="570.68" y2="76.90"><stop offset="0.000" stop-color="#00ffff"/><stop offset="0.504" stop-color="#00ffff"/><stop offset="1.000" stop-color="#00ffc6"/></linearGradient>
<path d="M564.2 76.7l0.3 2.3 5.6-5.9-0.3-2.2z" style="fill:url(#p283);stroke:url(#p283)"/>
<path class="m" d="M569.8 70.9L570.1 73.1"/>
<linearGradient id="p284" gradientUnits="userSpaceOnUse" x1="560.15" y1="95.61" x2="566.48" y2="94.85"><stop offset="0.000" stop-color="#00c1ff"/><stop offset="0.504" stop-color="#00eeff"/><stop offset="1.000" stop-color="#00ffff"/></linearGradient>
<path d="M560 94.5l0.3 2.3 5.7-6.2-0.3-2.3z" style="fill:url(#p284);stroke:url(#p284)"/>
<path class="m" d="M565.7 88.3L566.0 90.6"/>
<linearGradient id="p285" gradientUnits="userSpaceOnUse" x1="582.58" y1="93.96" x2="587.20" y2="94.46"><stop offset="0.000" stop-color="#00ffff"/><stop offset="0.504" stop-color="#00ffe3"/><stop offset="1.000" stop-color="#00ffa2"/></linearGradient>
<path d="M582.4 95.2l0.3-2.4 5.4-6.1-0.3 2.3z" style="fill:url(#p285);stroke:url(#p285)"/>
<path class="m" d="M587.8 89.0L588.1 86.7"/>
<linearGradient id="p286" gradientUnits="userSpaceOnUse" x1="606.90" y1="47.24" x2="605.85" y2="45.55"><stop offset="0.000" stop-color="#36d000"/><stop offset="0.504" stop-color="#6bd000"/><stop offset="1.000" stop-color="#a0d000"/></linearGradient>
<path d="M605.9 48l2-1.2 5-5.5-2 1.3z" style="fill:url(#p286);stroke:url(#p286)"/>
<path class="m" d="M610.9 42.6L612.9 41.3M607.1 47.1L612.1 41.7"/>
<linearGradient id="p287" gradientUnits="userSpaceOnUse" x1="555.43" y1="111.39" x2="561.84" y2="110.67"><stop offset="0.000" stop-color="#0066ff"/><stop offset="0.504" stop-color="#00a0ff"/><stop offset="1.000" stop-color="#00cdff"/></linearGradient>
<path d="M555.3 110.2l0.3 2.4 5.7-6.4-0.2-2.4z" style="fill:url(#p287);stroke:url(#p287)"/>
<path class="m" d="M561.1 103.8L561.3 106.2"/>
<linearGradient id="p288" gradientUnits="userSpaceOnUse" x1="566.68" y1="56.08" x2="573.37" y2="53.94"><stop offset="0.000" stop-color="#00fffc"/><stop offset="0.504" stop-color="#00ffa8"/><stop offset="1.000" stop-color="#00ff4e"/></linearGradient>
<path d="M566.3 55l0.7 2.2 5.6-5.5-0.7-2.2z" style="fill:url(#p288);stroke:url(#p288)"/>
<path class="m" d="M571.9 49.5L572.6 51.7"/>
<linearGradient id="p289" gradientUnits="userSpaceOnUse" x1="596.93" y1="60.86" x2="600.04" y2="61.81"><stop offset="0.000" stop-color="#00f533"/><stop offset="0.504" stop-color="#0cf500"/><stop offset="1.000" stop-color="#4af500"/></linearGradient>
<path d="M596.6 62.1l0.7-2.3 5.1-5.7-0.7 2.3z" style="fill:url(#p289);stroke:url(#p289)"/>
<path class="m" d="M601.7 56.4L602.4 54.1"/>
<path d="M555.8 114.9l14.6 5.2 5.5-6.6-14.3-5z" color="#cccccc"/>
<linearGradient id="p290" gradientUnits="userSpaceOnUse" x1="563.98" y1="75.54" x2="570.39" y2="74.51"><stop offset="0.000" stop-color="#00ffff"/><stop offset="0.504" stop-color="#00ffff"/><stop offset="1.000" stop-color="#00ffcb"/></linearGradient>
<path d="M563.8 74.4l0.4 2.3 5.6-5.8-0.4-2.3z" style="fill:url(#p290);stroke:url(#p290)"/>
<path class="m" d="M569.4 68.6L569.8 70.9"/>
<linearGradient id="p291" gradientUnits="userSpaceOnUse" x1="559.86" y1="93.27" x2="566.23" y2="92.47"><stop offset="0.000" stop-color="#00beff"/><stop offset="0.504" stop-color="#00ebff"/><stop offset="1.000" stop-color="#00ffff"/></linearGradient>
<path d="M559.7 92.1l0.3 2.4 5.7-6.2-0.3-2.3z" style="fill:url(#p291);stroke:url(#p291)"/>
<path class="m" d="M565.4 86.0L565.7 88.3"/>
<linearGradient id="p292" gradientUnits="userSpaceOnUse" x1="589.56" y1="76.01" x2="593.69" y2="76.71"><stop offset="0.000" stop-color="#00ffad"/><stop offset="0.504" stop-color="#00ff6e"/><stop offset="1.000" stop-color="#00ff2a"/></linearGradient>
<path d="M589.4 77.2l0.4-2.3 5.2-5.9-0.4 2.3z" style="fill:url(#p292);stroke:url(#p292)"/>
<path class="m" d="M594.6 71.3L595.0 69.0"/>
<linearGradient id="p293" gradientUnits="userSpaceOnUse" x1="565.90" y1="53.89" x2="572.65" y2="51.24"><stop offset="0.000" stop-color="#00ffff"/><stop offset="0.504" stop-color="#00ffb3"/><stop offset="1.000" stop-color="#00ff55"/></linearGradient>
<path d="M565.5 52.9l0.8 2.1 5.6-5.5-0.8-2.2z" style="fill:url(#p293);stroke:url(#p293)"/>
<path class="m" d="M571.1 47.3L571.9 49.5"/>
<linearGradient id="p294" gradientUnits="userSpaceOnUse" x1="556.56" y1="44.36" x2="559.24" y2="37.71"><stop offset="0.000" stop-color="#00ffff"/><stop offset="0.504" stop-color="#00ffca"/><stop offset="1.000" stop-color="#00ff67"/></linearGradient>
<path d="M555.5 43.9l2.1 0.9 5.8-5.4-2.1-0.8z" style="fill:url(#p294);stroke:url(#p294)"/>
<path class="m" d="M561.3 38.6L563.4 39.4"/>
<linearGradient id="p295" gradientUnits="userSpaceOnUse" x1="576.42" y1="107.48" x2="581.31" y2="107.88"><stop offset="0.000" stop-color="#00b9ff"/><stop offset="0.504" stop-color="#00e2ff"/><stop offset="1.000" stop-color="#00ffff"/></linearGradient>
<path d="M576.3 108.7l0.2-2.4 5.5-6.4-0.2 2.4z" style="fill:url(#p295);stroke:url(#p295)"/>
<path class="m" d="M581.8 102.3L582.0 99.9"/>
<linearGradient id="p296" gradientUnits="userSpaceOnUse" x1="609.05" y1="46.44" x2="608.24" y2="42.07"><stop offset="0.000" stop-color="#45ff00"/><stop offset="0.504" stop-color="#8cff00"/><stop offset="1.000" stop-color="#d3ff00"/></linearGradient>
<path d="M607.9 46.8l2.3-0.5 5-5.4-2.3 0.4z" style="fill:url(#p296);stroke:url(#p296)"/>
<path class="m" d="M612.9 41.3L615.2 40.9"/>
<linearGradient id="p297" gradientUnits="userSpaceOnUse" x1="582.84" y1="91.58" x2="587.43" y2="92.11"><stop offset="0.000" stop-color="#00ffff"/><stop offset="0.504" stop-color="#00ffe6"/><stop offset="1.000" stop-color="#00ffa5"/></linearGradient>
<path d="M582.7 92.8l0.3-2.4 5.3-6.1-0.2 2.4z" style="fill:url(#p297);stroke:url(#p297)"/>
<path class="m" d="M588.1 86.7L588.3 84.3"/>
<linearGradient id="p298" gradientUnits="userSpaceOnUse" x1="555.16" y1="109.03" x2="561.60" y2="108.28"><stop offset="0.000" stop-color="#0062ff"/><stop offset="0.504" stop-color="#009dff"/><stop offset="1.000" stop-color="#00caff"/></linearGradient>
<path d="M555 107.9l0.3 2.3 5.8-6.4-0.3-2.3z" style="fill:url(#p298);stroke:url(#p298)"/>
<path class="m" d="M560.8 101.5L561.1 103.8"/>
<linearGradient id="p299" gradientUnits="userSpaceOnUse" x1="564.96" y1="51.77" x2="571.68" y2="48.40"><stop offset="0.000" stop-color="#00ffff"/><stop offset="0.504" stop-color="#00ffc0"/><stop offset="1.000" stop-color="#00ff5d"/></linearGradient>
<path d="M564.4 50.8l1.1 2.1 5.6-5.6-1-2z" style="fill:url(#p299);stroke:url(#p299)"/>
<path class="m" d="M570.1 45.3L571.1 47.3"/>
<linearGradient id="p300" gradientUnits="userSpaceOnUse" x1="558.65" y1="45.30" x2="562.08" y2="38.68"><stop offset="0.000" stop-color="#00ffff"/><stop offset="0.504" stop-color="#00ffd2"/><stop offset="1.000" stop-color="#00ff6b"/></linearGradient>
<path d="M557.6 44.8l2.1 1.1 5.7-5.5-2-1z" style="fill:url(#p300);stroke:url(#p300)"/>
<path class="m" d="M563.4 39.4L565.4 40.4"/>
<linearGradient id="p301" gradientUnits="userSpaceOnUse" x1="563.59" y1="73.23" x2="570.07" y2="72.09"><stop offset="0.000" stop-color="#00ffff"/><stop offset="0.504" stop-color="#00ffff"/><stop offset="1.000" stop-color="#00ffd1"/></linearGradient>
<path d="M563.4 72.1l0.4 2.3 5.6-5.8-0.3-2.3z" style="fill:url(#p301);stroke:url(#p301)"/>
<path class="m" d="M569.1 66.3L569.4 68.6"/>
<linearGradient id="p302" gradientUnits="userSpaceOnUse" x1="597.71" y1="58.59" x2="600.30" y2="59.59"><stop offset="0.000" stop-color="#00e933"/><stop offset="0.504" stop-color="#08e900"/><stop offset="1.000" stop-color="#44e900"/></linearGradient>
<path d="M597.3 59.8l0.8-2.2 5.2-5.7-0.9 2.2z" style="fill:url(#p302);stroke:url(#p302)"/>
<path class="m" d="M602.4 54.1L603.3 51.9"/>
<linearGradient id="p303" gradientUnits="userSpaceOnUse" x1="563.80" y1="49.77" x2="570.23" y2="45.42"><stop offset="0.000" stop-color="#00ffff"/><stop offset="0.504" stop-color="#00ffcf"/><stop offset="1.000" stop-color="#00ff66"/></linearGradient>
<path d="M563.2 48.9l1.2 1.9 5.7-5.5-1.3-1.9z" style="fill:url(#p303);stroke:url(#p303)"/>
<path class="m" d="M568.8 43.4L570.1 45.3"/>
<linearGradient id="p304" gradientUnits="userSpaceOnUse" x1="560.62" y1="46.49" x2="565.16" y2="40.20"><stop offset="0.000" stop-color="#00ffff"/><stop offset="0.504" stop-color="#00ffda"/><stop offset="1.000" stop-color="#00ff6e"/></linearGradient>
<path d="M559.7 45.9l1.9 1.3 5.7-5.4-1.9-1.4z" style="fill:url(#p304);stroke:url(#p304)"/>
<path class="m" d="M565.4 40.4L567.3 41.8"/>
<linearGradient id="p305" gradientUnits="userSpaceOnUse" x1="559.56" y1="90.93" x2="565.98" y2="90.08"><stop offset="0.000" stop-color="#00bbff"/><stop offset="0.504" stop-color="#00e9ff"/><stop offset="1.000" stop-color="#00ffff"/></linearGradient>
<path d="M559.4 89.8l0.3 2.3 5.7-6.1-0.3-2.3z" style="fill:url(#p305);stroke:url(#p305)"/>
<path class="m" d="M565.1 83.7L565.4 86.0"/>
<linearGradient id="p306" gradientUnits="userSpaceOnUse" x1="611.36" y1="46.35" x2="611.68" y2="40.62"><stop offset="0.000" stop-color="#4eff00"/><stop offset="0.504" stop-color="#9eff00"/><stop offset="1.000" stop-color="#efff00"/></linearGradient>
<path d="M610.2 46.3l2.3 0.2 5-5.5-2.3-0.1z" style="fill:url(#p306);stroke:url(#p306)"/>
<path class="m" d="M615.2 40.9L617.5 41.0"/>
<linearGradient id="p307" gradientUnits="userSpaceOnUse" x1="642.03" y1="47.33" x2="643.73" y2="41.06"><stop offset="0.000" stop-color="#ffff00"/><stop offset="0.202" stop-color="#ffff00"/><stop offset="0.404" stop-color="#ffff00"/><stop offset="0.604" stop-color="#ffff00"/><stop offset="0.802" stop-color="#ffff00"/><stop offset="1.000" stop-color="#ffff00"/></linearGradient>
<path d="M619.7 41.4l45.4 12.3 4.3-5.7-44.9-11.9z" style="fill:url(#p307);stroke:url(#p307)"/>
<path class="m" d="M624.5 36.1L669.4 48.0M620.8 41.6L625.5 36.3M629.4 43.8L634.0 38.4M638.1 46.2L642.7 40.8M647.0 48.7L651.5 43.2M656.0 51.2L660.3 45.6M665.1 53.7L669.4 48.0"/>
<linearGradient id="p308" gradientUnits="userSpaceOnUse" x1="562.35" y1="47.98" x2="568.05" y2="42.52"><stop offset="0.000" stop-color="#00ffff"/><stop offset="0.504" stop-color="#00ffda"/><stop offset="1.000" stop-color="#00ff6d"/></linearGradient>
<path d="M561.6 47.2l1.6 1.7 5.6-5.5-1.5-1.6z" style="fill:url(#p308);stroke:url(#p308)"/>
<path class="m" d="M567.3 41.8L568.8 43.4M562.8 48.4L568.5 43.0"/>
<linearGradient id="p309" gradientUnits="userSpaceOnUse" x1="589.98" y1="73.66" x2="593.98" y2="74.42"><stop offset="0.000" stop-color="#00ffae"/><stop offset="0.504" stop-color="#00ff70"/><stop offset="1.000" stop-color="#00ff2d"/></linearGradient>
<path d="M589.8 74.9l0.4-2.4 5.3-5.8-0.5 2.3z" style="fill:url(#p309);stroke:url(#p309)"/>
<path class="m" d="M595.0 69.0L595.5 66.7"/>
<linearGradient id="p310" gradientUnits="userSpaceOnUse" x1="576.62" y1="105.08" x2="581.50" y2="105.51"><stop offset="0.000" stop-color="#00b5ff"/><stop offset="0.504" stop-color="#00deff"/><stop offset="1.000" stop-color="#00ffff"/></linearGradient>
<path d="M576.5 106.3l0.2-2.4 5.5-6.3-0.2 2.3z" style="fill:url(#p310);stroke:url(#p310)"/>
<path class="m" d="M582.0 99.9L582.2 97.6"/>
<linearGradient id="p311" gradientUnits="userSpaceOnUse" x1="583.13" y1="89.19" x2="587.67" y2="89.76"><stop offset="0.000" stop-color="#00ffff"/><stop offset="0.504" stop-color="#00ffe8"/><stop offset="1.000" stop-color="#00ffa7"/></linearGradient>
<path d="M583 90.4l0.3-2.4 5.4-6.1-0.4 2.4z" style="fill:url(#p311);stroke:url(#p311)"/>
<path class="m" d="M588.3 84.3L588.7 81.9"/>
<linearGradient id="p312" gradientUnits="userSpaceOnUse" x1="563.16" y1="70.92" x2="569.72" y2="69.66"><stop offset="0.000" stop-color="#00ffff"/><stop offset="0.504" stop-color="#00ffff"/><stop offset="1.000" stop-color="#00ffd7"/></linearGradient>
<path d="M562.9 69.8l0.5 2.3 5.7-5.8-0.5-2.3z" style="fill:url(#p312);stroke:url(#p312)"/>
<path class="m" d="M568.6 64.0L569.1 66.3"/>
<linearGradient id="p313" gradientUnits="userSpaceOnUse" x1="554.88" y1="106.67" x2="561.36" y2="105.89"><stop offset="0.000" stop-color="#005fff"/><stop offset="0.504" stop-color="#009aff"/><stop offset="1.000" stop-color="#00c7ff"/></linearGradient>
<path d="M554.7 105.5l0.3 2.4 5.8-6.4-0.2-2.4z" style="fill:url(#p313);stroke:url(#p313)"/>
<path class="m" d="M560.6 99.1L560.8 101.5"/>
<linearGradient id="p314" gradientUnits="userSpaceOnUse" x1="613.66" y1="46.64" x2="614.73" y2="40.49"><stop offset="0.000" stop-color="#54ff00"/><stop offset="0.504" stop-color="#acff00"/><stop offset="1.000" stop-color="#ffff00"/></linearGradient>
<path d="M612.5 46.5l2.3 0.4 4.9-5.5-2.2-0.4z" style="fill:url(#p314);stroke:url(#p314)"/>
<path class="m" d="M617.5 41.0L619.7 41.4"/>
<linearGradient id="p315" gradientUnits="userSpaceOnUse" x1="559.24" y1="88.59" x2="565.71" y2="87.68"><stop offset="0.000" stop-color="#00b8ff"/><stop offset="0.504" stop-color="#00e6ff"/><stop offset="1.000" stop-color="#00ffff"/></linearGradient>
<path d="M559.1 87.4l0.3 2.4 5.7-6.1-0.3-2.3z" style="fill:url(#p315);stroke:url(#p315)"/>
<path class="m" d="M564.8 81.4L565.1 83.7"/>
<linearGradient id="p316" gradientUnits="userSpaceOnUse" x1="598.69" y1="56.41" x2="600.43" y2="57.31"><stop offset="0.000" stop-color="#00d431"/><stop offset="0.504" stop-color="#05d400"/><stop offset="1.000" stop-color="#3bd400"/></linearGradient>
<path d="M598.1 57.6l1.1-2.2 5.2-5.6-1.1 2.1z" style="fill:url(#p316);stroke:url(#p316)"/>
<path class="m" d="M603.3 51.9L604.4 49.8"/>
<linearGradient id="p317" gradientUnits="userSpaceOnUse" x1="570.45" y1="118.86" x2="575.58" y2="119.20"><stop offset="0.000" stop-color="#0061ff"/><stop offset="0.504" stop-color="#0097ff"/><stop offset="1.000" stop-color="#00c1ff"/></linearGradient>
<path d="M570.4 120.1l0.1-2.4 5.6-6.6-0.2 2.4z" style="fill:url(#p317);stroke:url(#p317)"/>
<path class="m" d="M575.9 113.5L576.1 111.1"/>
<linearGradient id="p318" gradientUnits="userSpaceOnUse" x1="562.70" y1="68.62" x2="569.33" y2="67.21"><stop offset="0.000" stop-color="#00ffff"/><stop offset="0.504" stop-color="#00ffff"/><stop offset="1.000" stop-color="#00ffde"/></linearGradient>
<path d="M562.5 67.5l0.4 2.3 5.7-5.8-0.4-2.3z" style="fill:url(#p318);stroke:url(#p318)"/>
<path class="m" d="M568.2 61.7L568.6 64.0"/>
<linearGradient id="p319" gradientUnits="userSpaceOnUse" x1="590.45" y1="71.31" x2="594.29" y2="72.14"><stop offset="0.000" stop-color="#00ffaf"/><stop offset="0.504" stop-color="#00ff71"/><stop offset="1.000" stop-color="#00ff2f"/></linearGradient>
<path d="M590.2 72.5l0.5-2.3 5.3-5.8-0.5 2.3z" style="fill:url(#p319);stroke:url(#p319)"/>
<path class="m" d="M595.5 66.7L596.0 64.4"/>
<linearGradient id="p320" gradientUnits="userSpaceOnUse" x1="554.59" y1="104.31" x2="561.12" y2="103.50"><stop offset="0.000" stop-color="#005cff"/><stop offset="0.504" stop-color="#0096ff"/><stop offset="1.000" stop-color="#00c4ff"/></linearGradient>
<path d="M554.4 103.1l0.3 2.4 5.9-6.4-0.3-2.3z" style="fill:url(#p320);stroke:url(#p320)"/>
<path class="m" d="M560.3 96.8L560.6 99.1M554.5 103.4L560.3 97.0"/>
<linearGradient id="p321" gradientUnits="userSpaceOnUse" x1="576.84" y1="102.68" x2="581.69" y2="103.13"><stop offset="0.000" stop-color="#00b1ff"/><stop offset="0.504" stop-color="#00daff"/><stop offset="1.000" stop-color="#00ffff"/></linearGradient>
<path d="M576.7 103.9l0.3-2.4 5.4-6.3-0.2 2.4z" style="fill:url(#p321);stroke:url(#p321)"/>
<path class="m" d="M582.2 97.6L582.4 95.2M576.8 102.6L582.3 96.3"/>
<linearGradient id="p322" gradientUnits="userSpaceOnUse" x1="583.44" y1="86.81" x2="587.92" y2="87.42"><stop offset="0.000" stop-color="#00fdff"/><stop offset="0.504" stop-color="#00ffea"/><stop offset="1.000" stop-color="#00ffa9"/></linearGradient>
<path d="M583.3 88l0.3-2.4 5.4-6-0.3 2.3z" style="fill:url(#p322);stroke:url(#p322)"/>
<path class="m" d="M588.7 81.9L589.0 79.6"/>
<linearGradient id="p323" gradientUnits="userSpaceOnUse" x1="549.77" y1="120.37" x2="556.38" y2="119.59"><stop offset="0.000" stop-color="#1500ff"/><stop offset="0.504" stop-color="#002fff"/><stop offset="1.000" stop-color="#0069ff"/></linearGradient>
<path d="M549.6 119.2l0.3 2.4 5.9-6.7-0.2-2.3z" style="fill:url(#p323);stroke:url(#p323)"/>
<path class="m" d="M555.6 112.6L555.8 114.9"/>
<linearGradient id="p324" gradientUnits="userSpaceOnUse" x1="558.90" y1="86.25" x2="565.43" y2="85.28"><stop offset="0.000" stop-color="#00b5ff"/><stop offset="0.504" stop-color="#00e3ff"/><stop offset="1.000" stop-color="#00ffff"/></linearGradient>
<path d="M558.7 85.1l0.4 2.3 5.7-6-0.3-2.4z" style="fill:url(#p324);stroke:url(#p324)"/>
<path class="m" d="M564.5 79.0L564.8 81.4"/>
<linearGradient id="p325" gradientUnits="userSpaceOnUse" x1="522.37" y1="48.58" x2="524.51" y2="41.73"><stop offset="0.000" stop-color="#00aaff"/><stop offset="0.202" stop-color="#00c1ff"/><stop offset="0.404" stop-color="#00d7ff"/><stop offset="0.604" stop-color="#00f0ff"/><stop offset="0.802" stop-color="#00ffff"/><stop offset="1.000" stop-color="#00ffff"/></linearGradient>
<path d="M502.1 42.4l41.3 12.8 6.1-5.7-40.8-12.5z" style="fill:url(#p325);stroke:url(#p325)"/>
<path class="m" d="M508.7 37.0L549.5 49.5M502.1 42.4L508.7 37.0M509.9 44.8L516.4 39.4M517.9 47.2L524.3 41.7M525.9 49.7L532.3 44.1M534.1 52.2L540.3 46.5M542.4 54.9L548.5 49.1"/>
<linearGradient id="p326" gradientUnits="userSpaceOnUse" x1="562.18" y1="66.34" x2="568.90" y2="64.71"><stop offset="0.000" stop-color="#00ffff"/><stop offset="0.504" stop-color="#00ffff"/><stop offset="1.000" stop-color="#00ffe7"/></linearGradient>
<path d="M561.9 65.2l0.6 2.3 5.7-5.8-0.6-2.2z" style="fill:url(#p326);stroke:url(#p326)"/>
<path class="m" d="M567.6 59.5L568.2 61.7"/>
<linearGradient id="p327" gradientUnits="userSpaceOnUse" x1="599.99" y1="54.40" x2="600.35" y2="54.69"><stop offset="0.000" stop-color="#00af2a"/><stop offset="0.504" stop-color="#02af00"/><stop offset="1.000" stop-color="#2faf00"/></linearGradient>
<path d="M599.2 55.4l1.5-1.8 5.2-5.6-1.5 1.8z" style="fill:url(#p327);stroke:url(#p327)"/>
<path class="m" d="M604.4 49.8L605.9 48.0"/>
<linearGradient id="p328" gradientUnits="userSpaceOnUse" x1="570.61" y1="116.45" x2="575.73" y2="116.81"><stop offset="0.000" stop-color="#005dff"/><stop offset="0.504" stop-color="#0093ff"/><stop offset="1.000" stop-color="#00bdff"/></linearGradient>
<path d="M570.5 117.7l0.2-2.4 5.6-6.6-0.2 2.4z" style="fill:url(#p328);stroke:url(#p328)"/>
<path class="m" d="M576.1 111.1L576.3 108.7"/>
<linearGradient id="p329" gradientUnits="userSpaceOnUse" x1="591.00" y1="68.98" x2="594.59" y2="69.88"><stop offset="0.000" stop-color="#00fdae"/><stop offset="0.504" stop-color="#00fd72"/><stop offset="1.000" stop-color="#00fd31"/></linearGradient>
<path d="M590.7 70.2l0.6-2.3 5.3-5.8-0.6 2.3z" style="fill:url(#p329);stroke:url(#p329)"/>
<path class="m" d="M596.0 64.4L596.6 62.0"/>
<linearGradient id="p330" gradientUnits="userSpaceOnUse" x1="554.29" y1="101.95" x2="560.86" y2="101.10"><stop offset="0.000" stop-color="#0058ff"/><stop offset="0.504" stop-color="#0093ff"/><stop offset="1.000" stop-color="#00c1ff"/></linearGradient>
<path d="M554.1 100.8l0.3 2.3 5.9-6.3-0.3-2.3z" style="fill:url(#p330);stroke:url(#p330)"/>
<path class="m" d="M560.0 94.5L560.3 96.8"/>
<linearGradient id="p331" gradientUnits="userSpaceOnUse" x1="558.55" y1="83.91" x2="565.13" y2="82.88"><stop offset="0.000" stop-color="#00b3ff"/><stop offset="0.504" stop-color="#00e1ff"/><stop offset="1.000" stop-color="#00ffff"/></linearGradient>
<path d="M558.4 82.8l0.3 2.3 5.8-6.1-0.3-2.3z" style="fill:url(#p331);stroke:url(#p331)"/>
<path class="m" d="M564.2 76.7L564.5 79.0"/>
<linearGradient id="p332" gradientUnits="userSpaceOnUse" x1="561.59" y1="64.06" x2="568.41" y2="62.17"><stop offset="0.000" stop-color="#00ffff"/><stop offset="0.504" stop-color="#00ffff"/><stop offset="1.000" stop-color="#00fff0"/></linearGradient>
<path d="M561.3 63l0.6 2.2 5.7-5.7-0.6-2.3z" style="fill:url(#p332);stroke:url(#p332)"/>
<path class="m" d="M567.0 57.2L567.6 59.5"/>
<linearGradient id="p333" gradientUnits="userSpaceOnUse" x1="583.77" y1="84.44" x2="588.18" y2="85.09"><stop offset="0.000" stop-color="#00f8ff"/><stop offset="0.504" stop-color="#00ffec"/><stop offset="1.000" stop-color="#00ffac"/></linearGradient>
<path d="M583.6 85.6l0.3-2.3 5.5-6.1-0.4 2.4z" style="fill:url(#p333);stroke:url(#p333)"/>
<path class="m" d="M589.0 79.6L589.4 77.2"/>
<linearGradient id="p334" gradientUnits="userSpaceOnUse" x1="577.07" y1="100.28" x2="581.90" y2="100.76"><stop offset="0.000" stop-color="#00adff"/><stop offset="0.504" stop-color="#00d6ff"/><stop offset="1.000" stop-color="#00ffff"/></linearGradient>
<path d="M577 101.5l0.2-2.4 5.5-6.3-0.3 2.4z" style="fill:url(#p334);stroke:url(#p334)"/>
<path class="m" d="M582.4 95.2L582.7 92.8"/>
<linearGradient id="p335" gradientUnits="userSpaceOnUse" x1="549.48" y1="118.00" x2="556.13" y2="117.19"><stop offset="0.000" stop-color="#1900ff"/><stop offset="0.504" stop-color="#002bff"/><stop offset="1.000" stop-color="#0066ff"/></linearGradient>
<path d="M549.3 116.8l0.3 2.4 6-6.6-0.3-2.4z" style="fill:url(#p335);stroke:url(#p335)"/>
<path class="m" d="M555.3 110.2L555.6 112.6"/>
<path d="M549.9 121.6l14.7 5.3 5.8-6.8-14.6-5.2z" color="#cccccc"/>
<linearGradient id="p336" gradientUnits="userSpaceOnUse" x1="601.75" y1="52.84" x2="600.66" y2="51.08"><stop offset="0.000" stop-color="#00d034"/><stop offset="0.504" stop-color="#01d000"/><stop offset="1.000" stop-color="#36d000"/></linearGradient>
<path d="M600.7 53.6l2.1-1.2 5.1-5.6-2 1.2z" style="fill:url(#p336);stroke:url(#p336)"/>
<path class="m" d="M605.9 48.0L607.9 46.8M602.0 52.7L607.1 47.1"/>
<linearGradient id="p337" gradientUnits="userSpaceOnUse" x1="560.91" y1="61.81" x2="567.82" y2="59.55"><stop offset="0.000" stop-color="#00ffff"/><stop offset="0.504" stop-color="#00ffff"/><stop offset="1.000" stop-color="#00fffc"/></linearGradient>
<path d="M560.5 60.8l0.8 2.2 5.7-5.8-0.7-2.2z" style="fill:url(#p337);stroke:url(#p337)"/>
<path class="m" d="M566.3 55.0L567.0 57.2"/>
<linearGradient id="p338" gradientUnits="userSpaceOnUse" x1="553.98" y1="99.59" x2="560.59" y2="98.70"><stop offset="0.000" stop-color="#0055ff"/><stop offset="0.504" stop-color="#0090ff"/><stop offset="1.000" stop-color="#00beff"/></linearGradient>
<path d="M553.8 98.4l0.3 2.4 5.9-6.3-0.3-2.4z" style="fill:url(#p338);stroke:url(#p338)"/>
<path class="m" d="M559.7 92.1L560.0 94.5"/>
<linearGradient id="p339" gradientUnits="userSpaceOnUse" x1="558.17" y1="81.58" x2="564.81" y2="80.45"><stop offset="0.000" stop-color="#00b0ff"/><stop offset="0.504" stop-color="#00dfff"/><stop offset="1.000" stop-color="#00ffff"/></linearGradient>
<path d="M558 80.4l0.4 2.4 5.8-6.1-0.4-2.3z" style="fill:url(#p339);stroke:url(#p339)"/>
<path class="m" d="M563.8 74.4L564.2 76.7"/>
<linearGradient id="p340" gradientUnits="userSpaceOnUse" x1="591.63" y1="66.67" x2="594.88" y2="67.65"><stop offset="0.000" stop-color="#00f5ac"/><stop offset="0.504" stop-color="#00f571"/><stop offset="1.000" stop-color="#00f533"/></linearGradient>
<path d="M591.3 67.9l0.7-2.3 5.3-5.8-0.7 2.3z" style="fill:url(#p340);stroke:url(#p340)"/>
<path class="m" d="M596.6 62.0L597.3 59.8"/>
<linearGradient id="p341" gradientUnits="userSpaceOnUse" x1="570.79" y1="114.03" x2="575.90" y2="114.41"><stop offset="0.000" stop-color="#0059ff"/><stop offset="0.504" stop-color="#008fff"/><stop offset="1.000" stop-color="#00b9ff"/></linearGradient>
<path d="M570.7 115.3l0.2-2.5 5.6-6.5-0.2 2.4z" style="fill:url(#p341);stroke:url(#p341)"/>
<path class="m" d="M576.3 108.7L576.5 106.3"/>
<linearGradient id="p342" gradientUnits="userSpaceOnUse" x1="549.19" y1="115.62" x2="555.88" y2="114.78"><stop offset="0.000" stop-color="#1d00ff"/><stop offset="0.504" stop-color="#0028ff"/><stop offset="1.000" stop-color="#0062ff"/></linearGradient>
<path d="M549 114.4l0.3 2.4 6-6.6-0.3-2.3z" style="fill:url(#p342);stroke:url(#p342)"/>
<path class="m" d="M555.0 107.9L555.3 110.2"/>
<linearGradient id="p343" gradientUnits="userSpaceOnUse" x1="584.14" y1="82.06" x2="588.45" y2="82.77"><stop offset="0.000" stop-color="#00f2ff"/><stop offset="0.504" stop-color="#00ffed"/><stop offset="1.000" stop-color="#00ffad"/></linearGradient>
<path d="M583.9 83.3l0.4-2.4 5.5-6-0.4 2.3z" style="fill:url(#p343);stroke:url(#p343)"/>
<path class="m" d="M589.4 77.2L589.8 74.9"/>
<linearGradient id="p344" gradientUnits="userSpaceOnUse" x1="560.11" y1="59.60" x2="567.08" y2="56.82"><stop offset="0.000" stop-color="#00ffff"/><stop offset="0.504" stop-color="#00ffff"/><stop offset="1.000" stop-color="#00ffff"/></linearGradient>
<path d="M559.7 58.6l0.8 2.2 5.8-5.8-0.8-2.1z" style="fill:url(#p344);stroke:url(#p344)"/>
<path class="m" d="M565.5 52.9L566.3 55.0"/>
<linearGradient id="p345" gradientUnits="userSpaceOnUse" x1="550.61" y1="49.93" x2="553.42" y2="43.07"><stop offset="0.000" stop-color="#00ffff"/><stop offset="0.504" stop-color="#00ffff"/><stop offset="1.000" stop-color="#00ffff"/></linearGradient>
<path d="M549.5 49.5l2.2 0.9 5.9-5.6-2.1-0.9z" style="fill:url(#p345);stroke:url(#p345)"/>
<path class="m" d="M555.5 43.9L557.6 44.8"/>
<linearGradient id="p346" gradientUnits="userSpaceOnUse" x1="577.32" y1="97.88" x2="582.11" y2="98.39"><stop offset="0.000" stop-color="#00a8ff"/><stop offset="0.504" stop-color="#00d1ff"/><stop offset="1.000" stop-color="#00ffff"/></linearGradient>
<path d="M577.2 99.1l0.3-2.4 5.5-6.3-0.3 2.4z" style="fill:url(#p346);stroke:url(#p346)"/>
<path class="m" d="M582.7 92.8L583.0 90.4"/>
<linearGradient id="p347" gradientUnits="userSpaceOnUse" x1="603.92" y1="52.06" x2="603.10" y2="47.50"><stop offset="0.000" stop-color="#00ff47"/><stop offset="0.504" stop-color="#00ff01"/><stop offset="1.000" stop-color="#45ff00"/></linearGradient>
<path d="M602.8 52.4l2.3-0.5 5.1-5.6-2.3 0.5z" style="fill:url(#p347);stroke:url(#p347)"/>
<path class="m" d="M607.9 46.8L610.2 46.3"/>
<linearGradient id="p348" gradientUnits="userSpaceOnUse" x1="559.15" y1="57.46" x2="566.07" y2="53.94"><stop offset="0.000" stop-color="#00ffff"/><stop offset="0.504" stop-color="#00ffff"/><stop offset="1.000" stop-color="#00ffff"/></linearGradient>
<path d="M558.6 56.5l1.1 2.1 5.8-5.7-1.1-2.1z" style="fill:url(#p348);stroke:url(#p348)"/>
<path class="m" d="M564.4 50.8L565.5 52.9"/>
<linearGradient id="p349" gradientUnits="userSpaceOnUse" x1="557.76" y1="79.25" x2="564.47" y2="78.02"><stop offset="0.000" stop-color="#00afff"/><stop offset="0.504" stop-color="#00deff"/><stop offset="1.000" stop-color="#00ffff"/></linearGradient>
<path d="M557.5 78.1l0.5 2.3 5.8-6-0.4-2.3z" style="fill:url(#p349);stroke:url(#p349)"/>
<path class="m" d="M563.4 72.1L563.8 74.4"/>
<linearGradient id="p350" gradientUnits="userSpaceOnUse" x1="552.73" y1="50.90" x2="556.30" y2="44.07"><stop offset="0.000" stop-color="#00ffff"/><stop offset="0.504" stop-color="#00ffff"/><stop offset="1.000" stop-color="#00ffff"/></linearGradient>
<path d="M551.7 50.4l2.1 1.1 5.9-5.6-2.1-1.1z" style="fill:url(#p350);stroke:url(#p350)"/>
<path class="m" d="M557.6 44.8L559.7 45.9"/>
<linearGradient id="p351" gradientUnits="userSpaceOnUse" x1="553.66" y1="97.23" x2="560.32" y2="96.29"><stop offset="0.000" stop-color="#0052ff"/><stop offset="0.504" stop-color="#008dff"/><stop offset="1.000" stop-color="#00bbff"/></linearGradient>
<path d="M553.5 96.1l0.3 2.3 5.9-6.3-0.3-2.3z" style="fill:url(#p351);stroke:url(#p351)"/>
<path class="m" d="M559.4 89.8L559.7 92.1"/>
<linearGradient id="p352" gradientUnits="userSpaceOnUse" x1="557.95" y1="55.44" x2="564.58" y2="50.92"><stop offset="0.000" stop-color="#00ffff"/><stop offset="0.504" stop-color="#00ffff"/><stop offset="1.000" stop-color="#00ffff"/></linearGradient>
<path d="M557.3 54.5l1.3 2 5.8-5.7-1.2-1.9z" style="fill:url(#p352);stroke:url(#p352)"/>
<path class="m" d="M563.2 48.9L564.4 50.8"/>
<linearGradient id="p353" gradientUnits="userSpaceOnUse" x1="554.72" y1="52.11" x2="559.42" y2="45.62"><stop offset="0.000" stop-color="#00ffff"/><stop offset="0.504" stop-color="#00ffff"/><stop offset="1.000" stop-color="#00ffff"/></linearGradient>
<path d="M553.8 51.5l1.9 1.4 5.9-5.7-1.9-1.3z" style="fill:url(#p353);stroke:url(#p353)"/>
<path class="m" d="M559.7 45.9L561.6 47.2"/>
<linearGradient id="p354" gradientUnits="userSpaceOnUse" x1="592.40" y1="64.40" x2="595.11" y2="65.43"><stop offset="0.000" stop-color="#00e9a6"/><stop offset="0.504" stop-color="#00e96e"/><stop offset="1.000" stop-color="#00e933"/></linearGradient>
<path d="M592 65.6l0.8-2.2 5.3-5.8-0.8 2.2z" style="fill:url(#p354);stroke:url(#p354)"/>
<path class="m" d="M597.3 59.8L598.1 57.6"/>
<linearGradient id="p355" gradientUnits="userSpaceOnUse" x1="556.48" y1="53.62" x2="562.36" y2="47.99"><stop offset="0.000" stop-color="#00ffff"/><stop offset="0.504" stop-color="#00ffff"/><stop offset="1.000" stop-color="#00ffff"/></linearGradient>
<path d="M555.7 52.9l1.6 1.6 5.9-5.6-1.6-1.7z" style="fill:url(#p355);stroke:url(#p355)"/>
<path class="m" d="M561.6 47.2L563.2 48.9M556.9 54.1L562.8 48.4"/>
<linearGradient id="p356" gradientUnits="userSpaceOnUse" x1="570.98" y1="111.62" x2="576.06" y2="112.02"><stop offset="0.000" stop-color="#0056ff"/><stop offset="0.504" stop-color="#008bff"/><stop offset="1.000" stop-color="#00b5ff"/></linearGradient>
<path d="M570.9 112.8l0.2-2.4 5.6-6.5-0.2 2.4z" style="fill:url(#p356);stroke:url(#p356)"/>
<path class="m" d="M576.5 106.3L576.7 103.9"/>
<linearGradient id="p357" gradientUnits="userSpaceOnUse" x1="548.89" y1="113.24" x2="555.62" y2="112.38"><stop offset="0.000" stop-color="#2000ff"/><stop offset="0.504" stop-color="#0024ff"/><stop offset="1.000" stop-color="#005fff"/></linearGradient>
<path d="M548.7 112.1l0.3 2.3 6-6.5-0.3-2.4z" style="fill:url(#p357);stroke:url(#p357)"/>
<path class="m" d="M554.7 105.5L555.0 107.9"/>
<linearGradient id="p358" gradientUnits="userSpaceOnUse" x1="584.55" y1="79.70" x2="588.73" y2="80.46"><stop offset="0.000" stop-color="#00ecff"/><stop offset="0.504" stop-color="#00ffed"/><stop offset="1.000" stop-color="#00ffae"/></linearGradient>
<path d="M584.3 80.9l0.5-2.3 5.4-6.1-0.4 2.4z" style="fill:url(#p358);stroke:url(#p358)"/>
<path class="m" d="M589.8 74.9L590.2 72.5"/>
<linearGradient id="p359" gradientUnits="userSpaceOnUse" x1="606.25" y1="51.97" x2="606.63" y2="46.04"><stop offset="0.000" stop-color="#00ff53"/><stop offset="0.504" stop-color="#00ff02"/><stop offset="1.000" stop-color="#4eff00"/></linearGradient>
<path d="M605.1 51.9l2.3 0.2 5.1-5.6-2.3-0.2z" style="fill:url(#p359);stroke:url(#p359)"/>
<path class="m" d="M610.2 46.3L612.5 46.5"/>
<linearGradient id="p360" gradientUnits="userSpaceOnUse" x1="577.59" y1="95.48" x2="582.33" y2="96.03"><stop offset="0.000" stop-color="#00a4ff"/><stop offset="0.504" stop-color="#00cdff"/><stop offset="1.000" stop-color="#00ffff"/></linearGradient>
<path d="M577.5 96.7l0.2-2.4 5.6-6.3-0.3 2.4z" style="fill:url(#p360);stroke:url(#p360)"/>
<path class="m" d="M583.0 90.4L583.3 88.0"/>
<linearGradient id="p361" gradientUnits="userSpaceOnUse" x1="557.31" y1="76.92" x2="564.10" y2="75.56"><stop offset="0.000" stop-color="#00aeff"/><stop offset="0.504" stop-color="#00deff"/><stop offset="1.000" stop-color="#00ffff"/></linearGradient>
<path d="M557.1 75.8l0.4 2.3 5.9-6-0.5-2.3z" style="fill:url(#p361);stroke:url(#p361)"/>
<path class="m" d="M562.9 69.8L563.4 72.1"/>
<linearGradient id="p362" gradientUnits="userSpaceOnUse" x1="637.37" y1="53.00" x2="639.17" y2="46.53"><stop offset="0.000" stop-color="#5aff00"/><stop offset="0.203" stop-color="#7fff00"/><stop offset="0.404" stop-color="#a5ff00"/><stop offset="0.604" stop-color="#caff00"/><stop offset="0.803" stop-color="#f0ff00"/><stop offset="1.000" stop-color="#ffff00"/></linearGradient>
<path d="M614.8 46.9l46 12.7 4.3-5.9-45.4-12.3z" style="fill:url(#p362);stroke:url(#p362)"/>
<path class="m" d="M619.7 41.4L665.1 53.7M615.8 47.1L620.8 41.6M624.6 49.4L629.4 43.8M633.4 51.9L638.1 46.2M642.4 54.4L647.0 48.7M651.5 57.0L656.0 51.2M660.8 59.6L665.1 53.7"/>
<linearGradient id="p363" gradientUnits="userSpaceOnUse" x1="553.32" y1="94.88" x2="560.02" y2="93.88"><stop offset="0.000" stop-color="#004eff"/><stop offset="0.504" stop-color="#008aff"/><stop offset="1.000" stop-color="#00b8ff"/></linearGradient>
<path d="M553.1 93.7l0.4 2.4 5.9-6.3-0.3-2.4z" style="fill:url(#p363);stroke:url(#p363)"/>
<path class="m" d="M559.1 87.4L559.4 89.8"/>
<linearGradient id="p364" gradientUnits="userSpaceOnUse" x1="564.68" y1="125.65" x2="570.04" y2="125.96"><stop offset="0.000" stop-color="#1400ff"/><stop offset="0.504" stop-color="#002bff"/><stop offset="1.000" stop-color="#0061ff"/></linearGradient>
<path d="M564.6 126.9l0.2-2.5 5.7-6.7-0.1 2.4z" style="fill:url(#p364);stroke:url(#p364)"/>
<path class="m" d="M570.4 120.1L570.5 117.7"/>
<linearGradient id="p365" gradientUnits="userSpaceOnUse" x1="608.58" y1="52.28" x2="609.73" y2="45.93"><stop offset="0.000" stop-color="#00ff5b"/><stop offset="0.504" stop-color="#00ff03"/><stop offset="1.000" stop-color="#54ff00"/></linearGradient>
<path d="M607.4 52.1l2.3 0.4 5.1-5.6-2.3-0.4z" style="fill:url(#p365);stroke:url(#p365)"/>
<path class="m" d="M612.5 46.5L614.8 46.9"/>
<linearGradient id="p366" gradientUnits="userSpaceOnUse" x1="593.38" y1="62.20" x2="595.20" y2="63.14"><stop offset="0.000" stop-color="#00d49a"/><stop offset="0.504" stop-color="#00d467"/><stop offset="1.000" stop-color="#00d431"/></linearGradient>
<path d="M592.8 63.4l1.1-2.2 5.3-5.8-1.1 2.2z" style="fill:url(#p366);stroke:url(#p366)"/>
<path class="m" d="M598.1 57.6L599.2 55.4"/>
<linearGradient id="p367" gradientUnits="userSpaceOnUse" x1="548.57" y1="110.87" x2="555.35" y2="109.96"><stop offset="0.000" stop-color="#2400ff"/><stop offset="0.504" stop-color="#0021ff"/><stop offset="1.000" stop-color="#005cff"/></linearGradient>
<path d="M548.4 109.7l0.3 2.4 6-6.6-0.3-2.4z" style="fill:url(#p367);stroke:url(#p367)"/>
<path class="m" d="M554.4 103.1L554.7 105.5M548.4 109.9L554.5 103.4"/>
<linearGradient id="p368" gradientUnits="userSpaceOnUse" x1="543.65" y1="127.20" x2="550.53" y2="126.32"><stop offset="0.000" stop-color="#8b00ff"/><stop offset="0.504" stop-color="#5900ff"/><stop offset="1.000" stop-color="#1500ff"/></linearGradient>
<path d="M543.5 126l0.3 2.4 6.1-6.8-0.3-2.4z" style="fill:url(#p368);stroke:url(#p368)"/>
<path class="m" d="M549.6 119.2L549.9 121.6"/>
<linearGradient id="p369" gradientUnits="userSpaceOnUse" x1="556.82" y1="74.60" x2="563.69" y2="73.08"><stop offset="0.000" stop-color="#00adff"/><stop offset="0.504" stop-color="#00deff"/><stop offset="1.000" stop-color="#00ffff"/></linearGradient>
<path d="M556.6 73.5l0.5 2.3 5.8-6-0.4-2.3z" style="fill:url(#p369);stroke:url(#p369)"/>
<path class="m" d="M562.5 67.5L562.9 69.8"/>
<linearGradient id="p370" gradientUnits="userSpaceOnUse" x1="571.18" y1="109.20" x2="576.24" y2="109.64"><stop offset="0.000" stop-color="#0052ff"/><stop offset="0.504" stop-color="#0087ff"/><stop offset="1.000" stop-color="#00b1ff"/></linearGradient>
<path d="M571.1 110.4l0.2-2.4 5.7-6.5-0.3 2.4z" style="fill:url(#p370);stroke:url(#p370)"/>
<path class="m" d="M576.7 103.9L577.0 101.5M571.2 109.1L576.8 102.6"/>
<linearGradient id="p371" gradientUnits="userSpaceOnUse" x1="585.01" y1="77.34" x2="589.02" y2="78.18"><stop offset="0.000" stop-color="#00e5ff"/><stop offset="0.504" stop-color="#00ffed"/><stop offset="1.000" stop-color="#00ffaf"/></linearGradient>
<path d="M584.8 78.6l0.5-2.4 5.4-6-0.5 2.3z" style="fill:url(#p371);stroke:url(#p371)"/>
<path class="m" d="M590.2 72.5L590.7 70.2"/>
<linearGradient id="p372" gradientUnits="userSpaceOnUse" x1="577.88" y1="93.09" x2="582.56" y2="93.68"><stop offset="0.000" stop-color="#00a0ff"/><stop offset="0.504" stop-color="#00c8ff"/><stop offset="1.000" stop-color="#00fdff"/></linearGradient>
<path d="M577.7 94.3l0.3-2.4 5.6-6.3-0.3 2.4z" style="fill:url(#p372);stroke:url(#p372)"/>
<path class="m" d="M583.3 88.0L583.6 85.7"/>
<linearGradient id="p373" gradientUnits="userSpaceOnUse" x1="552.96" y1="92.52" x2="559.72" y2="91.46"><stop offset="0.000" stop-color="#004bff"/><stop offset="0.504" stop-color="#0087ff"/><stop offset="1.000" stop-color="#00b5ff"/></linearGradient>
<path d="M552.8 91.4l0.3 2.3 6-6.3-0.4-2.3z" style="fill:url(#p373);stroke:url(#p373)"/>
<path class="m" d="M558.7 85.1L559.1 87.4"/>
<linearGradient id="p374" gradientUnits="userSpaceOnUse" x1="515.80" y1="54.30" x2="518.06" y2="47.21"><stop offset="0.000" stop-color="#002bff"/><stop offset="0.203" stop-color="#0048ff"/><stop offset="0.404" stop-color="#0065ff"/><stop offset="0.604" stop-color="#007eff"/><stop offset="0.803" stop-color="#0094ff"/><stop offset="1.000" stop-color="#00aaff"/></linearGradient>
<path d="M495.3 47.9l41.7 13.3 6.4-6-41.3-12.8z" style="fill:url(#p374);stroke:url(#p374)"/>
<path class="m" d="M502.1 42.4L543.4 55.2M495.3 47.9L502.1 42.4M503.2 50.4L509.9 44.8M511.3 52.9L517.9 47.2M519.4 55.4L525.9 49.7M527.6 58.0L534.1 52.2M536.0 60.8L542.4 54.9"/>
<linearGradient id="p375" gradientUnits="userSpaceOnUse" x1="556.28" y1="72.30" x2="563.23" y2="70.56"><stop offset="0.000" stop-color="#00aeff"/><stop offset="0.504" stop-color="#00dfff"/><stop offset="1.000" stop-color="#00ffff"/></linearGradient>
<path d="M556 71.2l0.6 2.3 5.9-6-0.6-2.3z" style="fill:url(#p375);stroke:url(#p375)"/>
<path class="m" d="M561.9 65.2L562.5 67.5"/>
<linearGradient id="p376" gradientUnits="userSpaceOnUse" x1="564.83" y1="123.22" x2="570.17" y2="123.55"><stop offset="0.000" stop-color="#1700ff"/><stop offset="0.504" stop-color="#0027ff"/><stop offset="1.000" stop-color="#005dff"/></linearGradient>
<path d="M564.8 124.4l0.1-2.4 5.8-6.7-0.2 2.4z" style="fill:url(#p376);stroke:url(#p376)"/>
<path class="m" d="M570.5 117.7L570.7 115.3"/>
<linearGradient id="p377" gradientUnits="userSpaceOnUse" x1="548.25" y1="108.49" x2="555.07" y2="107.55"><stop offset="0.000" stop-color="#2800ff"/><stop offset="0.504" stop-color="#001dff"/><stop offset="1.000" stop-color="#0058ff"/></linearGradient>
<path d="M548.1 107.3l0.3 2.4 6-6.6-0.3-2.3z" style="fill:url(#p377);stroke:url(#p377)"/>
<path class="m" d="M554.1 100.8L554.4 103.1"/>
<linearGradient id="p378" gradientUnits="userSpaceOnUse" x1="543.34" y1="124.81" x2="550.26" y2="123.90"><stop offset="0.000" stop-color="#8f00ff"/><stop offset="0.504" stop-color="#5d00ff"/><stop offset="1.000" stop-color="#1900ff"/></linearGradient>
<path d="M543.2 123.6l0.3 2.4 6.1-6.8-0.3-2.4z" style="fill:url(#p378);stroke:url(#p378)"/>
<path class="m" d="M549.3 116.8L549.6 119.2"/>
<linearGradient id="p379" gradientUnits="userSpaceOnUse" x1="594.68" y1="60.18" x2="595.05" y2="60.49"><stop offset="0.000" stop-color="#00af81"/><stop offset="0.504" stop-color="#00af57"/><stop offset="1.000" stop-color="#00af2a"/></linearGradient>
<path d="M593.9 61.2l1.5-1.8 5.3-5.8-1.5 1.8z" style="fill:url(#p379);stroke:url(#p379)"/>
<path class="m" d="M599.2 55.4L600.7 53.6"/>
<linearGradient id="p380" gradientUnits="userSpaceOnUse" x1="552.58" y1="90.16" x2="559.40" y2="89.03"><stop offset="0.000" stop-color="#0048ff"/><stop offset="0.504" stop-color="#0084ff"/><stop offset="1.000" stop-color="#00b3ff"/></linearGradient>
<path d="M552.4 89l0.4 2.4 5.9-6.3-0.3-2.3z" style="fill:url(#p380);stroke:url(#p380)"/>
<path class="m" d="M558.4 82.8L558.7 85.1"/>
<linearGradient id="p381" gradientUnits="userSpaceOnUse" x1="585.54" y1="74.99" x2="589.30" y2="75.91"><stop offset="0.000" stop-color="#00ddfd"/><stop offset="0.504" stop-color="#00fdeb"/><stop offset="1.000" stop-color="#00fdae"/></linearGradient>
<path d="M585.3 76.2l0.5-2.3 5.5-6-0.6 2.3z" style="fill:url(#p381);stroke:url(#p381)"/>
<path class="m" d="M590.7 70.2L591.3 67.9"/>
<linearGradient id="p382" gradientUnits="userSpaceOnUse" x1="571.39" y1="106.79" x2="576.43" y2="107.26"><stop offset="0.000" stop-color="#004eff"/><stop offset="0.504" stop-color="#0083ff"/><stop offset="1.000" stop-color="#00adff"/></linearGradient>
<path d="M571.3 108l0.2-2.4 5.7-6.5-0.2 2.4z" style="fill:url(#p382);stroke:url(#p382)"/>
<path class="m" d="M577.0 101.5L577.2 99.1"/>
<path d="M543.8 128.4l14.9 5.5 5.9-7-14.7-5.3z" color="#cccccc"/>
<linearGradient id="p383" gradientUnits="userSpaceOnUse" x1="555.67" y1="70.00" x2="562.71" y2="67.99"><stop offset="0.000" stop-color="#00afff"/><stop offset="0.504" stop-color="#00e2ff"/><stop offset="1.000" stop-color="#00ffff"/></linearGradient>
<path d="M555.3 68.9l0.7 2.3 5.9-6-0.6-2.2z" style="fill:url(#p383);stroke:url(#p383)"/>
<path class="m" d="M561.3 63.0L561.9 65.2"/>
<linearGradient id="p384" gradientUnits="userSpaceOnUse" x1="578.20" y1="90.70" x2="582.80" y2="91.34"><stop offset="0.000" stop-color="#009bff"/><stop offset="0.504" stop-color="#00c3ff"/><stop offset="1.000" stop-color="#00f8ff"/></linearGradient>
<path d="M578 91.9l0.4-2.4 5.5-6.2-0.3 2.3z" style="fill:url(#p384);stroke:url(#p384)"/>
<path class="m" d="M583.6 85.7L583.9 83.3"/>
<linearGradient id="p385" gradientUnits="userSpaceOnUse" x1="547.92" y1="106.12" x2="554.78" y2="105.13"><stop offset="0.000" stop-color="#2b00ff"/><stop offset="0.504" stop-color="#001aff"/><stop offset="1.000" stop-color="#0055ff"/></linearGradient>
<path d="M547.7 104.9l0.4 2.4 6-6.5-0.3-2.4z" style="fill:url(#p385);stroke:url(#p385)"/>
<path class="m" d="M553.8 98.4L554.1 100.8"/>
<linearGradient id="p386" gradientUnits="userSpaceOnUse" x1="554.96" y1="67.73" x2="562.10" y2="65.34"><stop offset="0.000" stop-color="#00b2ff"/><stop offset="0.504" stop-color="#00e6ff"/><stop offset="1.000" stop-color="#00ffff"/></linearGradient>
<path d="M554.6 66.7l0.7 2.2 6-5.9-0.8-2.2z" style="fill:url(#p386);stroke:url(#p386)"/>
<path class="m" d="M560.6 60.8L561.3 63.0"/>
<linearGradient id="p387" gradientUnits="userSpaceOnUse" x1="564.98" y1="120.79" x2="570.32" y2="121.15"><stop offset="0.000" stop-color="#1b00ff"/><stop offset="0.504" stop-color="#0024ff"/><stop offset="1.000" stop-color="#0059ff"/></linearGradient>
<path d="M564.9 122l0.2-2.4 5.8-6.8-0.2 2.5z" style="fill:url(#p387);stroke:url(#p387)"/>
<path class="m" d="M570.7 115.3L570.9 112.8"/>
<linearGradient id="p388" gradientUnits="userSpaceOnUse" x1="552.17" y1="87.81" x2="559.06" y2="86.59"><stop offset="0.000" stop-color="#0045ff"/><stop offset="0.504" stop-color="#0082ff"/><stop offset="1.000" stop-color="#00b0ff"/></linearGradient>
<path d="M552 86.7l0.4 2.3 6-6.2-0.4-2.4z" style="fill:url(#p388);stroke:url(#p388)"/>
<path class="m" d="M558.0 80.4L558.4 82.8"/>
<linearGradient id="p389" gradientUnits="userSpaceOnUse" x1="543.03" y1="122.42" x2="549.98" y2="121.48"><stop offset="0.000" stop-color="#9200ff"/><stop offset="0.504" stop-color="#6100ff"/><stop offset="1.000" stop-color="#1d00ff"/></linearGradient>
<path d="M542.9 121.2l0.3 2.4 6.1-6.8-0.3-2.4z" style="fill:url(#p389);stroke:url(#p389)"/>
<path class="m" d="M549.0 114.4L549.3 116.8"/>
<linearGradient id="p390" gradientUnits="userSpaceOnUse" x1="596.44" y1="58.63" x2="595.31" y2="56.78"><stop offset="0.000" stop-color="#00d09b"/><stop offset="0.504" stop-color="#00d069"/><stop offset="1.000" stop-color="#00d034"/></linearGradient>
<path d="M595.4 59.4l2.1-1.3 5.3-5.7-2.1 1.2z" style="fill:url(#p390);stroke:url(#p390)"/>
<path class="m" d="M600.7 53.6L602.8 52.4M596.7 58.5L602.0 52.7"/>
<linearGradient id="p391" gradientUnits="userSpaceOnUse" x1="586.17" y1="72.67" x2="589.56" y2="73.67"><stop offset="0.000" stop-color="#00d3f5"/><stop offset="0.504" stop-color="#00f5e6"/><stop offset="1.000" stop-color="#00f5ac"/></linearGradient>
<path d="M585.8 73.9l0.7-2.3 5.5-6-0.7 2.3z" style="fill:url(#p391);stroke:url(#p391)"/>
<path class="m" d="M591.3 67.9L592.0 65.6"/>
<linearGradient id="p392" gradientUnits="userSpaceOnUse" x1="571.62" y1="104.38" x2="576.62" y2="104.88"><stop offset="0.000" stop-color="#004aff"/><stop offset="0.504" stop-color="#007fff"/><stop offset="1.000" stop-color="#00a8ff"/></linearGradient>
<path d="M571.5 105.6l0.2-2.4 5.8-6.5-0.3 2.4z" style="fill:url(#p392);stroke:url(#p392)"/>
<path class="m" d="M577.2 99.1L577.4 96.7"/>
<linearGradient id="p393" gradientUnits="userSpaceOnUse" x1="578.55" y1="88.31" x2="583.06" y2="89.01"><stop offset="0.000" stop-color="#0097ff"/><stop offset="0.504" stop-color="#00beff"/><stop offset="1.000" stop-color="#00f2ff"/></linearGradient>
<path d="M578.4 89.5l0.3-2.3 5.6-6.3-0.4 2.4z" style="fill:url(#p393);stroke:url(#p393)"/>
<path class="m" d="M583.9 83.3L584.3 80.9"/>
<linearGradient id="p394" gradientUnits="userSpaceOnUse" x1="554.14" y1="65.50" x2="561.32" y2="62.57"><stop offset="0.000" stop-color="#00b6ff"/><stop offset="0.504" stop-color="#00edff"/><stop offset="1.000" stop-color="#00ffff"/></linearGradient>
<path d="M553.7 64.5l0.9 2.2 5.9-5.9-0.8-2.2z" style="fill:url(#p394);stroke:url(#p394)"/>
<path class="m" d="M559.7 58.6L560.6 60.8"/>
<linearGradient id="p395" gradientUnits="userSpaceOnUse" x1="544.47" y1="55.68" x2="547.42" y2="48.60"><stop offset="0.000" stop-color="#00b4ff"/><stop offset="0.504" stop-color="#00efff"/><stop offset="1.000" stop-color="#00ffff"/></linearGradient>
<path d="M543.4 55.2l2.2 1 6.1-5.8-2.2-0.9z" style="fill:url(#p395);stroke:url(#p395)"/>
<path class="m" d="M549.5 49.5L551.7 50.4"/>
<linearGradient id="p396" gradientUnits="userSpaceOnUse" x1="547.57" y1="103.74" x2="554.48" y2="102.70"><stop offset="0.000" stop-color="#2f00ff"/><stop offset="0.504" stop-color="#0016ff"/><stop offset="1.000" stop-color="#0052ff"/></linearGradient>
<path d="M547.4 102.6l0.3 2.3 6.1-6.5-0.3-2.3z" style="fill:url(#p396);stroke:url(#p396)"/>
<path class="m" d="M553.5 96.1L553.8 98.4"/>
<linearGradient id="p397" gradientUnits="userSpaceOnUse" x1="551.74" y1="85.46" x2="558.69" y2="84.13"><stop offset="0.000" stop-color="#0043ff"/><stop offset="0.504" stop-color="#0080ff"/><stop offset="1.000" stop-color="#00afff"/></linearGradient>
<path d="M551.5 84.3l0.5 2.4 6-6.3-0.5-2.3z" style="fill:url(#p397);stroke:url(#p397)"/>
<path class="m" d="M557.5 78.1L558.0 80.4"/>
<linearGradient id="p398" gradientUnits="userSpaceOnUse" x1="553.15" y1="63.33" x2="560.28" y2="59.65"><stop offset="0.000" stop-color="#00bdff"/><stop offset="0.504" stop-color="#00f7ff"/><stop offset="1.000" stop-color="#00ffff"/></linearGradient>
<path d="M552.6 62.3l1.1 2.2 6-5.9-1.1-2.1z" style="fill:url(#p398);stroke:url(#p398)"/>
<path class="m" d="M558.6 56.5L559.7 58.6"/>
<linearGradient id="p399" gradientUnits="userSpaceOnUse" x1="546.62" y1="56.67" x2="550.33" y2="49.63"><stop offset="0.000" stop-color="#00bcff"/><stop offset="0.504" stop-color="#00f9ff"/><stop offset="1.000" stop-color="#00ffff"/></linearGradient>
<path d="M545.6 56.2l2.1 1.1 6.1-5.8-2.1-1.1z" style="fill:url(#p399);stroke:url(#p399)"/>
<path class="m" d="M551.7 50.4L553.8 51.5"/>
<linearGradient id="p400" gradientUnits="userSpaceOnUse" x1="542.70" y1="120.03" x2="549.69" y2="119.06"><stop offset="0.000" stop-color="#9600ff"/><stop offset="0.504" stop-color="#6500ff"/><stop offset="1.000" stop-color="#2000ff"/></linearGradient>
<path d="M542.5 118.8l0.4 2.4 6.1-6.8-0.3-2.3z" style="fill:url(#p400);stroke:url(#p400)"/>
<path class="m" d="M548.7 112.1L549.0 114.4"/>
<linearGradient id="p401" gradientUnits="userSpaceOnUse" x1="598.62" y1="57.85" x2="597.81" y2="53.10"><stop offset="0.000" stop-color="#00ffd0"/><stop offset="0.504" stop-color="#00ff8e"/><stop offset="1.000" stop-color="#00ff47"/></linearGradient>
<path d="M597.5 58.1l2.3-0.4 5.3-5.8-2.3 0.5z" style="fill:url(#p401);stroke:url(#p401)"/>
<path class="m" d="M602.8 52.4L605.1 51.9"/>
<linearGradient id="p402" gradientUnits="userSpaceOnUse" x1="565.15" y1="118.37" x2="570.47" y2="118.75"><stop offset="0.000" stop-color="#1e00ff"/><stop offset="0.504" stop-color="#0020ff"/><stop offset="1.000" stop-color="#0056ff"/></linearGradient>
<path d="M565.1 119.6l0.1-2.4 5.9-6.8-0.2 2.4z" style="fill:url(#p402);stroke:url(#p402)"/>
<path class="m" d="M570.9 112.8L571.1 110.4"/>
<linearGradient id="p403" gradientUnits="userSpaceOnUse" x1="551.93" y1="61.28" x2="558.75" y2="56.60"><stop offset="0.000" stop-color="#00c5ff"/><stop offset="0.504" stop-color="#00ffff"/><stop offset="1.000" stop-color="#00ffff"/></linearGradient>
<path d="M551.3 60.4l1.3 1.9 6-5.8-1.3-2z" style="fill:url(#p403);stroke:url(#p403)"/>
<path class="m" d="M557.3 54.5L558.6 56.5"/>
<linearGradient id="p404" gradientUnits="userSpaceOnUse" x1="548.64" y1="57.90" x2="553.50" y2="51.22"><stop offset="0.000" stop-color="#00c6ff"/><stop offset="0.504" stop-color="#00ffff"/><stop offset="1.000" stop-color="#00ffff"/></linearGradient>
<path d="M547.7 57.3l1.9 1.4 6.1-5.8-1.9-1.4z" style="fill:url(#p404);stroke:url(#p404)"/>
<path class="m" d="M553.8 51.5L555.7 52.9"/>
<linearGradient id="p405" gradientUnits="userSpaceOnUse" x1="550.43" y1="59.44" x2="556.48" y2="53.62"><stop offset="0.000" stop-color="#00caff"/><stop offset="0.504" stop-color="#00ffff"/><stop offset="1.000" stop-color="#00ffff"/></linearGradient>
<path d="M549.6 58.7l1.7 1.7 6-5.9-1.6-1.6z" style="fill:url(#p405);stroke:url(#p405)"/>
<path class="m" d="M555.7 52.9L557.3 54.5M550.9 59.9L556.9 54.1"/>
<linearGradient id="p406" gradientUnits="userSpaceOnUse" x1="586.93" y1="70.38" x2="589.76" y2="71.45"><stop offset="0.000" stop-color="#00c6e9"/><stop offset="0.504" stop-color="#00e9de"/><stop offset="1.000" stop-color="#00e9a6"/></linearGradient>
<path d="M586.5 71.6l0.8-2.3 5.5-5.9-0.8 2.2z" style="fill:url(#p406);stroke:url(#p406)"/>
<path class="m" d="M592.0 65.6L592.8 63.4"/>
<linearGradient id="p407" gradientUnits="userSpaceOnUse" x1="571.87" y1="101.97" x2="576.82" y2="102.51"><stop offset="0.000" stop-color="#0047ff"/><stop offset="0.504" stop-color="#007bff"/><stop offset="1.000" stop-color="#00a4ff"/></linearGradient>
<path d="M571.7 103.2l0.3-2.4 5.7-6.5-0.2 2.4z" style="fill:url(#p407);stroke:url(#p407)"/>
<path class="m" d="M577.4 96.7L577.7 94.3"/>
<linearGradient id="p408" gradientUnits="userSpaceOnUse" x1="578.95" y1="85.93" x2="583.32" y2="86.70"><stop offset="0.000" stop-color="#0092ff"/><stop offset="0.504" stop-color="#00b9ff"/><stop offset="1.000" stop-color="#00ecff"/></linearGradient>
<path d="M578.7 87.2l0.5-2.4 5.6-6.2-0.5 2.3z" style="fill:url(#p408);stroke:url(#p408)"/>
<path class="m" d="M584.3 80.9L584.8 78.6"/>
<linearGradient id="p409" gradientUnits="userSpaceOnUse" x1="551.27" y1="83.12" x2="558.30" y2="81.65"><stop offset="0.000" stop-color="#0040ff"/><stop offset="0.504" stop-color="#007eff"/><stop offset="1.000" stop-color="#00aeff"/></linearGradient>
<path d="M551 82l0.5 2.3 6-6.2-0.4-2.3z" style="fill:url(#p409);stroke:url(#p409)"/>
<path class="m" d="M557.1 75.8L557.5 78.1"/>
<linearGradient id="p410" gradientUnits="userSpaceOnUse" x1="558.73" y1="132.65" x2="564.32" y2="132.93"><stop offset="0.000" stop-color="#8000ff"/><stop offset="0.504" stop-color="#5300ff"/><stop offset="1.000" stop-color="#1400ff"/></linearGradient>
<path d="M558.7 133.9l0.1-2.5 6-7-0.2 2.5z" style="fill:url(#p410);stroke:url(#p410)"/>
<path class="m" d="M564.6 126.9L564.8 124.4"/>
<linearGradient id="p411" gradientUnits="userSpaceOnUse" x1="547.20" y1="101.37" x2="554.16" y2="100.27"><stop offset="0.000" stop-color="#3200ff"/><stop offset="0.504" stop-color="#0013ff"/><stop offset="1.000" stop-color="#004eff"/></linearGradient>
<path d="M547 100.2l0.4 2.4 6.1-6.5-0.4-2.4z" style="fill:url(#p411);stroke:url(#p411)"/>
<path class="m" d="M553.1 93.7L553.5 96.1"/>
<linearGradient id="p412" gradientUnits="userSpaceOnUse" x1="600.98" y1="57.78" x2="601.41" y2="51.63"><stop offset="0.000" stop-color="#00ffee"/><stop offset="0.504" stop-color="#00ffa3"/><stop offset="1.000" stop-color="#00ff53"/></linearGradient>
<path d="M599.8 57.7l2.4 0.2 5.2-5.8-2.3-0.2z" style="fill:url(#p412);stroke:url(#p412)"/>
<path class="m" d="M605.1 51.9L607.4 52.1"/>
<linearGradient id="p413" gradientUnits="userSpaceOnUse" x1="537.35" y1="134.25" x2="544.49" y2="133.27"><stop offset="0.000" stop-color="#e900ff"/><stop offset="0.504" stop-color="#bc00ff"/><stop offset="1.000" stop-color="#8b00ff"/></linearGradient>
<path d="M537.2 133.1l0.3 2.4 6.3-7.1-0.3-2.4z" style="fill:url(#p413);stroke:url(#p413)"/>
<path class="m" d="M543.5 126.0L543.8 128.4"/>
<linearGradient id="p414" gradientUnits="userSpaceOnUse" x1="542.36" y1="117.64" x2="549.40" y2="116.63"><stop offset="0.000" stop-color="#9a00ff"/><stop offset="0.504" stop-color="#6800ff"/><stop offset="1.000" stop-color="#2400ff"/></linearGradient>
<path d="M542.2 116.5l0.3 2.3 6.2-6.7-0.3-2.4z" style="fill:url(#p414);stroke:url(#p414)"/>
<path class="m" d="M548.4 109.7L548.7 112.1M542.2 116.7L548.4 109.9"/>
<linearGradient id="p415" gradientUnits="userSpaceOnUse" x1="632.57" y1="58.86" x2="634.46" y2="52.18"><stop offset="0.000" stop-color="#00ff62"/><stop offset="0.203" stop-color="#00ff3c"/><stop offset="0.404" stop-color="#00ff17"/><stop offset="0.604" stop-color="#0fff00"/><stop offset="0.803" stop-color="#34ff00"/><stop offset="1.000" stop-color="#5aff00"/></linearGradient>
<path d="M609.7 52.5l46.6 13.2 4.5-6.1-46-12.7z" style="fill:url(#p415);stroke:url(#p415)"/>
<path class="m" d="M614.8 46.9L660.8 59.6M610.8 52.8L615.8 47.1M619.6 55.1L624.6 49.4M628.6 57.7L633.4 51.9M637.7 60.3L642.4 54.4M646.9 63.0L651.5 57.0M656.3 65.7L660.8 59.6"/>
<linearGradient id="p416" gradientUnits="userSpaceOnUse" x1="565.33" y1="115.94" x2="570.62" y2="116.35"><stop offset="0.000" stop-color="#2200ff"/><stop offset="0.504" stop-color="#001cff"/><stop offset="1.000" stop-color="#0052ff"/></linearGradient>
<path d="M565.2 117.2l0.2-2.5 5.9-6.7-0.2 2.4z" style="fill:url(#p416);stroke:url(#p416)"/>
<path class="m" d="M571.1 110.4L571.3 108.0M565.3 115.9L571.2 109.1"/>
<linearGradient id="p417" gradientUnits="userSpaceOnUse" x1="550.75" y1="80.78" x2="557.87" y2="79.14"><stop offset="0.000" stop-color="#003eff"/><stop offset="0.504" stop-color="#007dff"/><stop offset="1.000" stop-color="#00adff"/></linearGradient>
<path d="M550.5 79.6l0.5 2.4 6.1-6.2-0.5-2.3z" style="fill:url(#p417);stroke:url(#p417)"/>
<path class="m" d="M556.6 73.5L557.1 75.8"/>
<linearGradient id="p418" gradientUnits="userSpaceOnUse" x1="603.33" y1="58.11" x2="604.56" y2="51.53"><stop offset="0.000" stop-color="#00ffff"/><stop offset="0.504" stop-color="#00ffb3"/><stop offset="1.000" stop-color="#00ff5b"/></linearGradient>
<path d="M602.2 57.9l2.3 0.5 5.2-5.9-2.3-0.4z" style="fill:url(#p418);stroke:url(#p418)"/>
<path class="m" d="M607.4 52.1L609.7 52.5"/>
<linearGradient id="p419" gradientUnits="userSpaceOnUse" x1="546.82" y1="98.99" x2="553.84" y2="97.83"><stop offset="0.000" stop-color="#3600ff"/><stop offset="0.504" stop-color="#000fff"/><stop offset="1.000" stop-color="#004bff"/></linearGradient>
<path d="M546.6 97.8l0.4 2.4 6.1-6.5-0.3-2.3z" style="fill:url(#p419);stroke:url(#p419)"/>
<path class="m" d="M552.8 91.4L553.1 93.7"/>
<linearGradient id="p420" gradientUnits="userSpaceOnUse" x1="587.89" y1="68.18" x2="589.80" y2="69.16"><stop offset="0.000" stop-color="#00b2d4"/><stop offset="0.504" stop-color="#00d4cd"/><stop offset="1.000" stop-color="#00d49a"/></linearGradient>
<path d="M587.3 69.3l1.1-2.1 5.5-6-1.1 2.2z" style="fill:url(#p420);stroke:url(#p420)"/>
<path class="m" d="M592.8 63.4L593.9 61.2"/>
<linearGradient id="p421" gradientUnits="userSpaceOnUse" x1="572.15" y1="99.56" x2="577.04" y2="100.15"><stop offset="0.000" stop-color="#0043ff"/><stop offset="0.504" stop-color="#0077ff"/><stop offset="1.000" stop-color="#00a0ff"/></linearGradient>
<path d="M572 100.8l0.3-2.4 5.7-6.5-0.3 2.4z" style="fill:url(#p421);stroke:url(#p421)"/>
<path class="m" d="M577.7 94.3L578.0 91.9"/>
<linearGradient id="p422" gradientUnits="userSpaceOnUse" x1="579.40" y1="83.56" x2="583.58" y2="84.40"><stop offset="0.000" stop-color="#008cff"/><stop offset="0.504" stop-color="#00b3ff"/><stop offset="1.000" stop-color="#00e5ff"/></linearGradient>
<path d="M579.2 84.8l0.4-2.4 5.7-6.2-0.5 2.4z" style="fill:url(#p422);stroke:url(#p422)"/>
<path class="m" d="M584.8 78.6L585.3 76.2"/>
<linearGradient id="p423" gradientUnits="userSpaceOnUse" x1="509.02" y1="60.19" x2="511.40" y2="52.87"><stop offset="0.000" stop-color="#7100ff"/><stop offset="0.203" stop-color="#4f00ff"/><stop offset="0.404" stop-color="#2e00ff"/><stop offset="0.604" stop-color="#0f00ff"/><stop offset="0.803" stop-color="#000eff"/><stop offset="1.000" stop-color="#002bff"/></linearGradient>
<path d="M488.4 53.6l42.1 13.7 6.5-6.1-41.7-13.3z" style="fill:url(#p423);stroke:url(#p423)"/>
<path class="m" d="M495.3 47.9L537.0 61.2M488.3 53.6L495.3 47.9M496.3 56.1L503.2 50.4M504.4 58.7L511.3 52.9M512.6 61.4L519.4 55.4M521.0 64.0L527.6 58.0M529.4 66.9L536.0 60.8"/>
<linearGradient id="p424" gradientUnits="userSpaceOnUse" x1="558.86" y1="130.21" x2="564.44" y2="130.51"><stop offset="0.000" stop-color="#8400ff"/><stop offset="0.504" stop-color="#5600ff"/><stop offset="1.000" stop-color="#1700ff"/></linearGradient>
<path d="M558.8 131.4l0.1-2.4 6-7-0.1 2.4z" style="fill:url(#p424);stroke:url(#p424)"/>
<path class="m" d="M564.8 124.4L564.9 122.0"/>
<linearGradient id="p425" gradientUnits="userSpaceOnUse" x1="537.01" y1="131.85" x2="544.20" y2="130.83"><stop offset="0.000" stop-color="#ed00ff"/><stop offset="0.504" stop-color="#c000ff"/><stop offset="1.000" stop-color="#8f00ff"/></linearGradient>
<path d="M536.8 130.7l0.4 2.4 6.3-7.1-0.3-2.4z" style="fill:url(#p425);stroke:url(#p425)"/>
<path class="m" d="M543.2 123.6L543.5 126.0"/>
<linearGradient id="p426" gradientUnits="userSpaceOnUse" x1="542.01" y1="115.24" x2="549.09" y2="114.20"><stop offset="0.000" stop-color="#9e00ff"/><stop offset="0.504" stop-color="#6c00ff"/><stop offset="1.000" stop-color="#2800ff"/></linearGradient>
<path d="M541.8 114.1l0.4 2.4 6.2-6.8-0.3-2.4z" style="fill:url(#p426);stroke:url(#p426)"/>
<path class="m" d="M548.1 107.3L548.4 109.7"/>
<linearGradient id="p427" gradientUnits="userSpaceOnUse" x1="550.19" y1="78.45" x2="557.39" y2="76.59"><stop offset="0.000" stop-color="#003cff"/><stop offset="0.504" stop-color="#007cff"/><stop offset="1.000" stop-color="#00aeff"/></linearGradient>
<path d="M549.9 77.3l0.6 2.3 6.1-6.1-0.6-2.3z" style="fill:url(#p427);stroke:url(#p427)"/>
<path class="m" d="M556.0 71.2L556.6 73.5"/>
<path d="M537.5 135.5l15 5.6 6.2-7.2-14.9-5.5z" color="#cccccc"/>
<linearGradient id="p428" gradientUnits="userSpaceOnUse" x1="546.41" y1="96.62" x2="553.49" y2="95.37"><stop offset="0.000" stop-color="#3a00ff"/><stop offset="0.504" stop-color="#000cff"/><stop offset="1.000" stop-color="#0048ff"/></linearGradient>
<path d="M546.2 95.5l0.4 2.3 6.2-6.4-0.4-2.4z" style="fill:url(#p428);stroke:url(#p428)"/>
<path class="m" d="M552.4 89.0L552.8 91.4"/>
<linearGradient id="p429" gradientUnits="userSpaceOnUse" x1="565.53" y1="113.52" x2="570.79" y2="113.96"><stop offset="0.000" stop-color="#2500ff"/><stop offset="0.504" stop-color="#0019ff"/><stop offset="1.000" stop-color="#004eff"/></linearGradient>
<path d="M565.4 114.7l0.2-2.4 5.9-6.7-0.2 2.4z" style="fill:url(#p429);stroke:url(#p429)"/>
<path class="m" d="M571.3 108.0L571.5 105.6"/>
<linearGradient id="p430" gradientUnits="userSpaceOnUse" x1="589.19" y1="66.15" x2="589.58" y2="66.47"><stop offset="0.000" stop-color="#0091af"/><stop offset="0.504" stop-color="#00afab"/><stop offset="1.000" stop-color="#00af81"/></linearGradient>
<path d="M588.4 67.2l1.5-1.8 5.5-6-1.5 1.8z" style="fill:url(#p430);stroke:url(#p430)"/>
<path class="m" d="M593.9 61.2L595.4 59.4"/>
<linearGradient id="p431" gradientUnits="userSpaceOnUse" x1="549.55" y1="76.13" x2="556.84" y2="73.99"><stop offset="0.000" stop-color="#003aff"/><stop offset="0.504" stop-color="#007cff"/><stop offset="1.000" stop-color="#00afff"/></linearGradient>
<path d="M549.2 75l0.7 2.3 6.1-6.1-0.7-2.3z" style="fill:url(#p431);stroke:url(#p431)"/>
<path class="m" d="M555.3 68.9L556.0 71.2"/>
<linearGradient id="p432" gradientUnits="userSpaceOnUse" x1="579.91" y1="81.20" x2="583.85" y2="82.13"><stop offset="0.000" stop-color="#0086fd"/><stop offset="0.504" stop-color="#00acfd"/><stop offset="1.000" stop-color="#00ddfd"/></linearGradient>
<path d="M579.6 82.4l0.6-2.3 5.6-6.2-0.5 2.3z" style="fill:url(#p432);stroke:url(#p432)"/>
<path class="m" d="M585.3 76.2L585.8 73.9"/>
<linearGradient id="p433" gradientUnits="userSpaceOnUse" x1="572.45" y1="97.16" x2="577.26" y2="97.79"><stop offset="0.000" stop-color="#003fff"/><stop offset="0.504" stop-color="#0073ff"/><stop offset="1.000" stop-color="#009bff"/></linearGradient>
<path d="M572.3 98.4l0.3-2.4 5.8-6.5-0.4 2.4z" style="fill:url(#p433);stroke:url(#p433)"/>
<path class="m" d="M578.0 91.9L578.4 89.5"/>
<linearGradient id="p434" gradientUnits="userSpaceOnUse" x1="541.65" y1="112.85" x2="548.78" y2="111.76"><stop offset="0.000" stop-color="#a200ff"/><stop offset="0.504" stop-color="#7000ff"/><stop offset="1.000" stop-color="#2b00ff"/></linearGradient>
<path d="M541.5 111.7l0.3 2.4 6.3-6.8-0.4-2.4z" style="fill:url(#p434);stroke:url(#p434)"/>
<path class="m" d="M547.7 104.9L548.1 107.3"/>
<linearGradient id="p435" gradientUnits="userSpaceOnUse" x1="536.66" y1="129.44" x2="543.89" y2="128.39"><stop offset="0.000" stop-color="#f100ff"/><stop offset="0.504" stop-color="#c400ff"/><stop offset="1.000" stop-color="#9200ff"/></linearGradient>
<path d="M536.5 128.3l0.3 2.4 6.4-7.1-0.3-2.4z" style="fill:url(#p435);stroke:url(#p435)"/>
<path class="m" d="M542.9 121.2L543.2 123.6"/>
<linearGradient id="p436" gradientUnits="userSpaceOnUse" x1="558.99" y1="127.77" x2="564.56" y2="128.10"><stop offset="0.000" stop-color="#8700ff"/><stop offset="0.504" stop-color="#5900ff"/><stop offset="1.000" stop-color="#1b00ff"/></linearGradient>
<path d="M558.9 129l0.2-2.4 6-7-0.2 2.4z" style="fill:url(#p436);stroke:url(#p436)"/>
<path class="m" d="M564.9 122.0L565.1 119.6"/>
<linearGradient id="p437" gradientUnits="userSpaceOnUse" x1="545.98" y1="94.25" x2="553.12" y2="92.91"><stop offset="0.000" stop-color="#3e00ff"/><stop offset="0.504" stop-color="#0009ff"/><stop offset="1.000" stop-color="#0045ff"/></linearGradient>
<path d="M545.8 93.1l0.4 2.4 6.2-6.5-0.4-2.3z" style="fill:url(#p437);stroke:url(#p437)"/>
<path class="m" d="M552.0 86.7L552.4 89.0"/>
<linearGradient id="p438" gradientUnits="userSpaceOnUse" x1="548.82" y1="73.84" x2="556.19" y2="71.31"><stop offset="0.000" stop-color="#0038ff"/><stop offset="0.504" stop-color="#007dff"/><stop offset="1.000" stop-color="#00b2ff"/></linearGradient>
<path d="M548.4 72.8l0.8 2.2 6.1-6.1-0.7-2.2z" style="fill:url(#p438);stroke:url(#p438)"/>
<path class="m" d="M554.6 66.7L555.3 68.9"/>
<linearGradient id="p439" gradientUnits="userSpaceOnUse" x1="565.74" y1="111.09" x2="570.96" y2="111.57"><stop offset="0.000" stop-color="#2800ff"/><stop offset="0.504" stop-color="#0015ff"/><stop offset="1.000" stop-color="#004aff"/></linearGradient>
<path d="M565.6 112.3l0.3-2.4 5.8-6.7-0.2 2.4z" style="fill:url(#p439);stroke:url(#p439)"/>
<path class="m" d="M571.5 105.6L571.7 103.2"/>
<linearGradient id="p440" gradientUnits="userSpaceOnUse" x1="590.96" y1="64.60" x2="589.78" y2="62.66"><stop offset="0.000" stop-color="#00aad0"/><stop offset="0.504" stop-color="#00d0cd"/><stop offset="1.000" stop-color="#00d09b"/></linearGradient>
<path d="M589.9 65.4l2.1-1.3 5.5-6-2.1 1.3z" style="fill:url(#p440);stroke:url(#p440)"/>
<path class="m" d="M595.4 59.4L597.5 58.1M591.2 64.5L596.7 58.5"/>
<linearGradient id="p441" gradientUnits="userSpaceOnUse" x1="580.52" y1="78.86" x2="584.08" y2="79.89"><stop offset="0.000" stop-color="#007ff5"/><stop offset="0.504" stop-color="#00a4f5"/><stop offset="1.000" stop-color="#00d3f5"/></linearGradient>
<path d="M580.2 80.1l0.7-2.3 5.6-6.2-0.7 2.3z" style="fill:url(#p441);stroke:url(#p441)"/>
<path class="m" d="M585.8 73.9L586.5 71.6"/>
<linearGradient id="p442" gradientUnits="userSpaceOnUse" x1="541.28" y1="110.46" x2="548.46" y2="109.31"><stop offset="0.000" stop-color="#a600ff"/><stop offset="0.504" stop-color="#7400ff"/><stop offset="1.000" stop-color="#2f00ff"/></linearGradient>
<path d="M541.1 109.3l0.4 2.4 6.2-6.8-0.3-2.3z" style="fill:url(#p442);stroke:url(#p442)"/>
<path class="m" d="M547.4 102.6L547.7 104.9"/>
<linearGradient id="p443" gradientUnits="userSpaceOnUse" x1="572.79" y1="94.76" x2="577.49" y2="95.46"><stop offset="0.000" stop-color="#003bff"/><stop offset="0.504" stop-color="#006fff"/><stop offset="1.000" stop-color="#0097ff"/></linearGradient>
<path d="M572.6 96l0.4-2.4 5.7-6.4-0.3 2.3z" style="fill:url(#p443);stroke:url(#p443)"/>
<path class="m" d="M578.4 89.5L578.7 87.2"/>
<linearGradient id="p444" gradientUnits="userSpaceOnUse" x1="547.97" y1="71.58" x2="555.39" y2="68.50"><stop offset="0.000" stop-color="#0037ff"/><stop offset="0.504" stop-color="#007fff"/><stop offset="1.000" stop-color="#00b6ff"/></linearGradient>
<path d="M547.5 70.5l0.9 2.3 6.2-6.1-0.9-2.2z" style="fill:url(#p444);stroke:url(#p444)"/>
<path class="m" d="M553.7 64.5L554.6 66.7"/>
<linearGradient id="p445" gradientUnits="userSpaceOnUse" x1="538.14" y1="61.61" x2="541.22" y2="54.31"><stop offset="0.000" stop-color="#002eff"/><stop offset="0.504" stop-color="#007aff"/><stop offset="1.000" stop-color="#00b4ff"/></linearGradient>
<path d="M537 61.2l2.3 0.9 6.3-5.9-2.2-1z" style="fill:url(#p445);stroke:url(#p445)"/>
<path class="m" d="M543.4 55.2L545.6 56.2"/>
<linearGradient id="p446" gradientUnits="userSpaceOnUse" x1="536.31" y1="127.04" x2="543.58" y2="125.95"><stop offset="0.000" stop-color="#f500ff"/><stop offset="0.504" stop-color="#c800ff"/><stop offset="1.000" stop-color="#9600ff"/></linearGradient>
<path d="M536.1 125.8l0.4 2.5 6.4-7.1-0.4-2.4z" style="fill:url(#p446);stroke:url(#p446)"/>
<path class="m" d="M542.5 118.8L542.9 121.2"/>
<linearGradient id="p447" gradientUnits="userSpaceOnUse" x1="545.52" y1="91.88" x2="552.74" y2="90.43"><stop offset="0.000" stop-color="#4200ff"/><stop offset="0.504" stop-color="#0005ff"/><stop offset="1.000" stop-color="#0043ff"/></linearGradient>
<path d="M545.3 90.7l0.5 2.4 6.2-6.4-0.5-2.4z" style="fill:url(#p447);stroke:url(#p447)"/>
<path class="m" d="M551.5 84.3L552.0 86.7"/>
<linearGradient id="p448" gradientUnits="userSpaceOnUse" x1="559.14" y1="125.34" x2="564.69" y2="125.68"><stop offset="0.000" stop-color="#8a00ff"/><stop offset="0.504" stop-color="#5d00ff"/><stop offset="1.000" stop-color="#1e00ff"/></linearGradient>
<path d="M559.1 126.6l0.1-2.5 6-6.9-0.1 2.4z" style="fill:url(#p448);stroke:url(#p448)"/>
<path class="m" d="M565.1 119.6L565.2 117.2"/>
<linearGradient id="p449" gradientUnits="userSpaceOnUse" x1="546.95" y1="69.39" x2="554.30" y2="65.55"><stop offset="0.000" stop-color="#0037ff"/><stop offset="0.504" stop-color="#0082ff"/><stop offset="1.000" stop-color="#00bdff"/></linearGradient>
<path d="M546.4 68.4l1.1 2.1 6.2-6-1.1-2.2z" style="fill:url(#p449);stroke:url(#p449)"/>
<path class="m" d="M552.6 62.3L553.7 64.5"/>
<linearGradient id="p450" gradientUnits="userSpaceOnUse" x1="540.31" y1="62.63" x2="544.18" y2="55.37"><stop offset="0.000" stop-color="#0030ff"/><stop offset="0.504" stop-color="#0080ff"/><stop offset="1.000" stop-color="#00bcff"/></linearGradient>
<path d="M539.3 62.1l2.1 1.1 6.3-5.9-2.1-1.1z" style="fill:url(#p450);stroke:url(#p450)"/>
<path class="m" d="M545.6 56.2L547.7 57.3"/>
<linearGradient id="p451" gradientUnits="userSpaceOnUse" x1="552.58" y1="139.89" x2="558.44" y2="140.12"><stop offset="0.000" stop-color="#d800ff"/><stop offset="0.504" stop-color="#ae00ff"/><stop offset="1.000" stop-color="#8000ff"/></linearGradient>
<path d="M552.5 141.1l0.1-2.4 6.2-7.3-0.1 2.5z" style="fill:url(#p451);stroke:url(#p451)"/>
<path class="m" d="M558.7 133.9L558.8 131.4"/>
<linearGradient id="p452" gradientUnits="userSpaceOnUse" x1="545.70" y1="67.32" x2="552.74" y2="62.45"><stop offset="0.000" stop-color="#0037ff"/><stop offset="0.504" stop-color="#0087ff"/><stop offset="1.000" stop-color="#00c5ff"/></linearGradient>
<path d="M545 66.4l1.4 2 6.2-6.1-1.3-1.9z" style="fill:url(#p452);stroke:url(#p452)"/>
<path class="m" d="M551.3 60.4L552.6 62.3"/>
<linearGradient id="p453" gradientUnits="userSpaceOnUse" x1="542.36" y1="63.89" x2="547.39" y2="56.99"><stop offset="0.000" stop-color="#0034ff"/><stop offset="0.504" stop-color="#0086ff"/><stop offset="1.000" stop-color="#00c6ff"/></linearGradient>
<path d="M541.4 63.2l1.9 1.5 6.3-6-1.9-1.4z" style="fill:url(#p453);stroke:url(#p453)"/>
<path class="m" d="M547.7 57.3L549.6 58.7"/>
<linearGradient id="p454" gradientUnits="userSpaceOnUse" x1="530.83" y1="141.54" x2="538.27" y2="140.43"><stop offset="0.000" stop-color="#ff00ff"/><stop offset="0.504" stop-color="#ff00ff"/><stop offset="1.000" stop-color="#e900ff"/></linearGradient>
<path d="M530.7 140.3l0.3 2.5 6.5-7.3-0.3-2.4z" style="fill:url(#p454);stroke:url(#p454)"/>
<path class="m" d="M530.7 140.3L531.0 142.8M537.2 133.1L537.5 135.5"/>
<linearGradient id="p455" gradientUnits="userSpaceOnUse" x1="544.17" y1="65.45" x2="550.42" y2="59.44"><stop offset="0.000" stop-color="#0036ff"/><stop offset="0.504" stop-color="#008aff"/><stop offset="1.000" stop-color="#00caff"/></linearGradient>
<path d="M543.3 64.7l1.7 1.7 6.3-6-1.7-1.7z" style="fill:url(#p455);stroke:url(#p455)"/>
<path class="m" d="M549.6 58.7L551.3 60.4M544.6 65.9L550.9 59.9"/>
<linearGradient id="p456" gradientUnits="userSpaceOnUse" x1="540.89" y1="108.07" x2="548.12" y2="106.86"><stop offset="0.000" stop-color="#aa00ff"/><stop offset="0.504" stop-color="#7800ff"/><stop offset="1.000" stop-color="#3200ff"/></linearGradient>
<path d="M540.7 106.9l0.4 2.4 6.3-6.7-0.4-2.4z" style="fill:url(#p456);stroke:url(#p456)"/>
<path class="m" d="M547.0 100.2L547.4 102.6"/>
<linearGradient id="p457" gradientUnits="userSpaceOnUse" x1="565.97" y1="108.67" x2="571.15" y2="109.19"><stop offset="0.000" stop-color="#2c00ff"/><stop offset="0.504" stop-color="#0012ff"/><stop offset="1.000" stop-color="#0047ff"/></linearGradient>
<path d="M565.9 109.9l0.2-2.4 5.9-6.7-0.3 2.4z" style="fill:url(#p457);stroke:url(#p457)"/>
<path class="m" d="M571.7 103.2L572.0 100.8"/>
<linearGradient id="p458" gradientUnits="userSpaceOnUse" x1="593.15" y1="63.83" x2="592.34" y2="58.88"><stop offset="0.000" stop-color="#00e1ff"/><stop offset="0.504" stop-color="#00ffff"/><stop offset="1.000" stop-color="#00ffd0"/></linearGradient>
<path d="M592 64.1l2.3-0.4 5.5-6-2.3 0.4z" style="fill:url(#p458);stroke:url(#p458)"/>
<path class="m" d="M597.5 58.1L599.8 57.7"/>
<linearGradient id="p459" gradientUnits="userSpaceOnUse" x1="545.03" y1="89.51" x2="552.32" y2="87.92"><stop offset="0.000" stop-color="#4600ff"/><stop offset="0.504" stop-color="#0002ff"/><stop offset="1.000" stop-color="#0040ff"/></linearGradient>
<path d="M544.8 88.4l0.5 2.3 6.2-6.4-0.5-2.3z" style="fill:url(#p459);stroke:url(#p459)"/>
<path class="m" d="M551.0 82.0L551.5 84.3"/>
<linearGradient id="p460" gradientUnits="userSpaceOnUse" x1="573.16" y1="92.36" x2="577.74" y2="93.13"><stop offset="0.000" stop-color="#0037ff"/><stop offset="0.504" stop-color="#006aff"/><stop offset="1.000" stop-color="#0092ff"/></linearGradient>
<path d="M573 93.6l0.4-2.4 5.8-6.4-0.5 2.4z" style="fill:url(#p460);stroke:url(#p460)"/>
<path class="m" d="M578.7 87.2L579.2 84.8"/>
<linearGradient id="p461" gradientUnits="userSpaceOnUse" x1="581.27" y1="76.57" x2="584.24" y2="77.66"><stop offset="0.000" stop-color="#0076e9"/><stop offset="0.504" stop-color="#0099e9"/><stop offset="1.000" stop-color="#00c6e9"/></linearGradient>
<path d="M580.9 77.8l0.8-2.3 5.6-6.2-0.8 2.3z" style="fill:url(#p461);stroke:url(#p461)"/>
<path class="m" d="M586.5 71.6L587.3 69.3"/>
<linearGradient id="p462" gradientUnits="userSpaceOnUse" x1="535.95" y1="124.63" x2="543.26" y2="123.51"><stop offset="0.000" stop-color="#f900ff"/><stop offset="0.504" stop-color="#cc00ff"/><stop offset="1.000" stop-color="#9a00ff"/></linearGradient>
<path d="M535.8 123.4l0.3 2.4 6.4-7-0.3-2.3z" style="fill:url(#p462);stroke:url(#p462)"/>
<path class="m" d="M542.2 116.5L542.5 118.8M535.8 123.7L542.2 116.7"/>
<linearGradient id="p463" gradientUnits="userSpaceOnUse" x1="559.30" y1="122.90" x2="564.83" y2="123.28"><stop offset="0.000" stop-color="#8d00ff"/><stop offset="0.504" stop-color="#6000ff"/><stop offset="1.000" stop-color="#2200ff"/></linearGradient>
<path d="M559.2 124.1l0.2-2.4 6-7-0.2 2.5z" style="fill:url(#p463);stroke:url(#p463)"/>
<path class="m" d="M565.2 117.2L565.4 114.7M559.3 122.8L565.3 115.9"/>
<linearGradient id="p464" gradientUnits="userSpaceOnUse" x1="595.53" y1="63.78" x2="596.03" y2="57.40"><stop offset="0.000" stop-color="#00ffff"/><stop offset="0.504" stop-color="#00ffff"/><stop offset="1.000" stop-color="#00ffee"/></linearGradient>
<path d="M594.3 63.7l2.4 0.2 5.5-6-2.4-0.2z" style="fill:url(#p464);stroke:url(#p464)"/>
<path class="m" d="M599.8 57.7L602.2 57.9"/>
<linearGradient id="p465" gradientUnits="userSpaceOnUse" x1="544.49" y1="87.15" x2="551.86" y2="85.39"><stop offset="0.000" stop-color="#4b00ff"/><stop offset="0.504" stop-color="#0100ff"/><stop offset="1.000" stop-color="#003eff"/></linearGradient>
<path d="M544.2 86l0.6 2.4 6.2-6.4-0.5-2.4z" style="fill:url(#p465);stroke:url(#p465)"/>
<path class="m" d="M550.5 79.6L551.0 82.0"/>
<linearGradient id="p466" gradientUnits="userSpaceOnUse" x1="540.48" y1="105.67" x2="547.76" y2="104.40"><stop offset="0.000" stop-color="#ae00ff"/><stop offset="0.504" stop-color="#7c00ff"/><stop offset="1.000" stop-color="#3600ff"/></linearGradient>
<path d="M540.3 104.5l0.4 2.4 6.3-6.7-0.4-2.4z" style="fill:url(#p466);stroke:url(#p466)"/>
<path class="m" d="M546.6 97.8L547.0 100.2"/>
<linearGradient id="p467" gradientUnits="userSpaceOnUse" x1="530.47" y1="139.12" x2="537.94" y2="137.98"><stop offset="0.000" stop-color="#ff00ff"/><stop offset="0.504" stop-color="#ff00ff"/><stop offset="1.000" stop-color="#ed00ff"/></linearGradient>
<path d="M530.3 137.9l0.4 2.4 6.5-7.2-0.4-2.4z" style="fill:url(#p467);stroke:url(#p467)"/>
<path class="m" d="M530.3 137.9L530.7 140.3M536.8 130.7L537.2 133.1"/>
<linearGradient id="p468" gradientUnits="userSpaceOnUse" x1="552.69" y1="137.44" x2="558.53" y2="137.69"><stop offset="0.000" stop-color="#db00ff"/><stop offset="0.504" stop-color="#b100ff"/><stop offset="1.000" stop-color="#8400ff"/></linearGradient>
<path d="M552.6 138.7l0.1-2.5 6.2-7.2-0.1 2.4z" style="fill:url(#p468);stroke:url(#p468)"/>
<path class="m" d="M558.8 131.4L558.9 129.0"/>
<linearGradient id="p469" gradientUnits="userSpaceOnUse" x1="502.01" y1="66.29" x2="504.54" y2="58.70"><stop offset="0.000" stop-color="#ff00ff"/><stop offset="0.203" stop-color="#e900ff"/><stop offset="0.404" stop-color="#d100ff"/><stop offset="0.604" stop-color="#b400ff"/><stop offset="0.803" stop-color="#9200ff"/><stop offset="1.000" stop-color="#7100ff"/></linearGradient>
<path d="M481.1 59.5l42.6 14.1 6.8-6.3-42.1-13.7z" style="fill:url(#p469);stroke:url(#p469)"/>
<path class="m" d="M488.3 53.6L530.5 67.3M481.1 59.5L488.3 53.6M489.2 62.1L496.3 56.1M497.4 64.8L504.4 58.7M505.7 67.5L512.6 61.4M514.1 70.3L521.0 64.0M522.7 73.2L529.4 66.9"/>
<linearGradient id="p470" gradientUnits="userSpaceOnUse" x1="566.23" y1="106.25" x2="571.34" y2="106.82"><stop offset="0.000" stop-color="#2f00ff"/><stop offset="0.504" stop-color="#000eff"/><stop offset="1.000" stop-color="#0043ff"/></linearGradient>
<path d="M566.1 107.5l0.3-2.4 5.9-6.7-0.3 2.4z" style="fill:url(#p470);stroke:url(#p470)"/>
<path class="m" d="M572.0 100.8L572.3 98.4"/>
<linearGradient id="p471" gradientUnits="userSpaceOnUse" x1="535.57" y1="122.22" x2="542.93" y2="121.05"><stop offset="0.000" stop-color="#fe00ff"/><stop offset="0.504" stop-color="#d000ff"/><stop offset="1.000" stop-color="#9e00ff"/></linearGradient>
<path d="M535.4 121l0.4 2.4 6.4-6.9-0.4-2.4z" style="fill:url(#p471);stroke:url(#p471)"/>
<path class="m" d="M541.8 114.1L542.2 116.5"/>
<linearGradient id="p472" gradientUnits="userSpaceOnUse" x1="627.61" y1="64.91" x2="629.61" y2="58.01"><stop offset="0.000" stop-color="#00ffff"/><stop offset="0.203" stop-color="#00fff4"/><stop offset="0.404" stop-color="#00ffd1"/><stop offset="0.604" stop-color="#00ffad"/><stop offset="0.803" stop-color="#00ff87"/><stop offset="1.000" stop-color="#00ff62"/></linearGradient>
<path d="M604.5 58.4l47.1 13.6 4.7-6.3-46.6-13.2z" style="fill:url(#p472);stroke:url(#p472)"/>
<path class="m" d="M609.7 52.5L656.3 65.7M605.6 58.6L610.8 52.8M614.5 61.1L619.6 55.1M623.6 63.7L628.6 57.7M632.8 66.4L637.7 60.3M642.1 69.2L646.9 63.0M651.6 72.0L656.3 65.7"/>
<path d="M531 142.8l15.2 5.8 6.3-7.5-15-5.6z" color="#cccccc"/>
<linearGradient id="p473" gradientUnits="userSpaceOnUse" x1="573.60" y1="89.98" x2="577.98" y2="90.83"><stop offset="0.000" stop-color="#0033ff"/><stop offset="0.504" stop-color="#0066ff"/><stop offset="1.000" stop-color="#008cff"/></linearGradient>
<path d="M573.4 91.2l0.4-2.4 5.8-6.4-0.4 2.4z" style="fill:url(#p473);stroke:url(#p473)"/>
<path class="m" d="M579.2 84.8L579.6 82.4"/>
<linearGradient id="p474" gradientUnits="userSpaceOnUse" x1="582.23" y1="74.35" x2="584.23" y2="75.37"><stop offset="0.000" stop-color="#0069d4"/><stop offset="0.504" stop-color="#0089d4"/><stop offset="1.000" stop-color="#00b2d4"/></linearGradient>
<path d="M581.7 75.5l1.1-2.1 5.6-6.2-1.1 2.1z" style="fill:url(#p474);stroke:url(#p474)"/>
<path class="m" d="M587.3 69.3L588.4 67.2"/>
<linearGradient id="p475" gradientUnits="userSpaceOnUse" x1="597.91" y1="64.13" x2="599.23" y2="57.32"><stop offset="0.000" stop-color="#00ffff"/><stop offset="0.504" stop-color="#00ffff"/><stop offset="1.000" stop-color="#00ffff"/></linearGradient>
<path d="M596.7 63.9l2.4 0.5 5.4-6-2.3-0.5z" style="fill:url(#p475);stroke:url(#p475)"/>
<path class="m" d="M602.2 57.9L604.5 58.4"/>
<linearGradient id="p476" gradientUnits="userSpaceOnUse" x1="543.90" y1="84.80" x2="551.35" y2="82.81"><stop offset="0.000" stop-color="#5000ff"/><stop offset="0.504" stop-color="#0500ff"/><stop offset="1.000" stop-color="#003cff"/></linearGradient>
<path d="M543.6 83.7l0.6 2.3 6.3-6.4-0.6-2.3z" style="fill:url(#p476);stroke:url(#p476)"/>
<path class="m" d="M549.9 77.3L550.5 79.6"/>
<linearGradient id="p477" gradientUnits="userSpaceOnUse" x1="540.05" y1="103.28" x2="547.39" y2="101.92"><stop offset="0.000" stop-color="#b200ff"/><stop offset="0.504" stop-color="#8000ff"/><stop offset="1.000" stop-color="#3a00ff"/></linearGradient>
<path d="M539.8 102.1l0.5 2.4 6.3-6.7-0.4-2.3z" style="fill:url(#p477);stroke:url(#p477)"/>
<path class="m" d="M546.2 95.5L546.6 97.8"/>
<linearGradient id="p478" gradientUnits="userSpaceOnUse" x1="559.47" y1="120.46" x2="564.97" y2="120.87"><stop offset="0.000" stop-color="#9000ff"/><stop offset="0.504" stop-color="#6300ff"/><stop offset="1.000" stop-color="#2500ff"/></linearGradient>
<path d="M559.4 121.7l0.2-2.4 6-7-0.2 2.4z" style="fill:url(#p478);stroke:url(#p478)"/>
<path class="m" d="M565.4 114.7L565.6 112.3"/>
<linearGradient id="p479" gradientUnits="userSpaceOnUse" x1="530.09" y1="136.70" x2="537.61" y2="135.53"><stop offset="0.000" stop-color="#ff00ff"/><stop offset="0.504" stop-color="#ff00ff"/><stop offset="1.000" stop-color="#f100ff"/></linearGradient>
<path d="M529.9 135.5l0.4 2.4 6.5-7.2-0.3-2.4z" style="fill:url(#p479);stroke:url(#p479)"/>
<path class="m" d="M529.9 135.5L530.3 137.9M536.5 128.3L536.8 130.7"/>
<linearGradient id="p480" gradientUnits="userSpaceOnUse" x1="535.18" y1="119.81" x2="542.59" y2="118.60"><stop offset="0.000" stop-color="#ff00ff"/><stop offset="0.504" stop-color="#d400ff"/><stop offset="1.000" stop-color="#a200ff"/></linearGradient>
<path d="M535 118.6l0.4 2.4 6.4-6.9-0.3-2.4z" style="fill:url(#p480);stroke:url(#p480)"/>
<path class="m" d="M541.5 111.7L541.8 114.1"/>
<linearGradient id="p481" gradientUnits="userSpaceOnUse" x1="543.23" y1="82.46" x2="550.78" y2="80.18"><stop offset="0.000" stop-color="#5500ff"/><stop offset="0.504" stop-color="#0900ff"/><stop offset="1.000" stop-color="#003aff"/></linearGradient>
<path d="M542.9 81.3l0.7 2.4 6.3-6.4-0.7-2.3z" style="fill:url(#p481);stroke:url(#p481)"/>
<path class="m" d="M549.2 75.0L549.9 77.3"/>
<linearGradient id="p482" gradientUnits="userSpaceOnUse" x1="566.51" y1="103.83" x2="571.54" y2="104.46"><stop offset="0.000" stop-color="#3200ff"/><stop offset="0.504" stop-color="#000bff"/><stop offset="1.000" stop-color="#003fff"/></linearGradient>
<path d="M566.4 105.1l0.3-2.4 5.9-6.7-0.3 2.4z" style="fill:url(#p482);stroke:url(#p482)"/>
<path class="m" d="M572.3 98.4L572.6 96.0"/>
<linearGradient id="p483" gradientUnits="userSpaceOnUse" x1="552.80" y1="134.99" x2="558.63" y2="135.27"><stop offset="0.000" stop-color="#de00ff"/><stop offset="0.504" stop-color="#b500ff"/><stop offset="1.000" stop-color="#8700ff"/></linearGradient>
<path d="M552.7 136.2l0.2-2.4 6.2-7.2-0.2 2.4z" style="fill:url(#p483);stroke:url(#p483)"/>
<path class="m" d="M558.9 129.0L559.1 126.6"/>
<linearGradient id="p484" gradientUnits="userSpaceOnUse" x1="574.10" y1="87.61" x2="578.22" y2="88.56"><stop offset="0.000" stop-color="#002ffd"/><stop offset="0.504" stop-color="#0060fd"/><stop offset="1.000" stop-color="#0086fd"/></linearGradient>
<path d="M573.8 88.8l0.6-2.3 5.8-6.4-0.6 2.3z" style="fill:url(#p484);stroke:url(#p484)"/>
<path class="m" d="M579.6 82.4L580.2 80.1"/>
<linearGradient id="p485" gradientUnits="userSpaceOnUse" x1="583.52" y1="72.32" x2="583.93" y2="72.65"><stop offset="0.000" stop-color="#0055af"/><stop offset="0.504" stop-color="#006faf"/><stop offset="1.000" stop-color="#0091af"/></linearGradient>
<path d="M582.8 73.4l1.5-1.9 5.6-6.1-1.5 1.8z" style="fill:url(#p485);stroke:url(#p485)"/>
<path class="m" d="M588.4 67.2L589.9 65.4"/>
<linearGradient id="p486" gradientUnits="userSpaceOnUse" x1="539.59" y1="100.89" x2="547.00" y2="99.43"><stop offset="0.000" stop-color="#b700ff"/><stop offset="0.504" stop-color="#8400ff"/><stop offset="1.000" stop-color="#3e00ff"/></linearGradient>
<path d="M539.4 99.7l0.4 2.4 6.4-6.6-0.4-2.4z" style="fill:url(#p486);stroke:url(#p486)"/>
<path class="m" d="M545.8 93.1L546.2 95.5"/>
<linearGradient id="p487" gradientUnits="userSpaceOnUse" x1="542.48" y1="80.15" x2="550.10" y2="77.46"><stop offset="0.000" stop-color="#5c00ff"/><stop offset="0.504" stop-color="#0c00ff"/><stop offset="1.000" stop-color="#0038ff"/></linearGradient>
<path d="M542.1 79.1l0.8 2.2 6.3-6.3-0.8-2.2z" style="fill:url(#p487);stroke:url(#p487)"/>
<path class="m" d="M548.4 72.8L549.2 75.0"/>
<linearGradient id="p488" gradientUnits="userSpaceOnUse" x1="559.66" y1="118.02" x2="565.13" y2="118.48"><stop offset="0.000" stop-color="#9300ff"/><stop offset="0.504" stop-color="#6600ff"/><stop offset="1.000" stop-color="#2800ff"/></linearGradient>
<path d="M559.6 119.3l0.2-2.5 6.1-6.9-0.3 2.4z" style="fill:url(#p488);stroke:url(#p488)"/>
<path class="m" d="M565.6 112.3L565.8 109.9"/>
<linearGradient id="p489" gradientUnits="userSpaceOnUse" x1="529.71" y1="134.27" x2="537.27" y2="133.07"><stop offset="0.000" stop-color="#ff00ff"/><stop offset="0.504" stop-color="#ff00ff"/><stop offset="1.000" stop-color="#f500ff"/></linearGradient>
<path d="M529.5 133.1l0.4 2.4 6.6-7.2-0.4-2.5z" style="fill:url(#p489);stroke:url(#p489)"/>
<path class="m" d="M529.5 133.1L529.9 135.5M536.1 125.8L536.5 128.3"/>
<linearGradient id="p490" gradientUnits="userSpaceOnUse" x1="534.78" y1="117.40" x2="542.24" y2="116.13"><stop offset="0.000" stop-color="#ff00ff"/><stop offset="0.504" stop-color="#d800ff"/><stop offset="1.000" stop-color="#a600ff"/></linearGradient>
<path d="M534.6 116.2l0.4 2.4 6.5-6.9-0.4-2.4z" style="fill:url(#p490);stroke:url(#p490)"/>
<path class="m" d="M541.1 109.3L541.5 111.7"/>
<linearGradient id="p491" gradientUnits="userSpaceOnUse" x1="566.83" y1="101.42" x2="571.76" y2="102.11"><stop offset="0.000" stop-color="#3400ff"/><stop offset="0.504" stop-color="#0008ff"/><stop offset="1.000" stop-color="#003bff"/></linearGradient>
<path d="M566.7 102.7l0.3-2.5 6-6.6-0.4 2.4z" style="fill:url(#p491);stroke:url(#p491)"/>
<path class="m" d="M572.6 96.0L573.0 93.6"/>
<linearGradient id="p492" gradientUnits="userSpaceOnUse" x1="541.60" y1="77.87" x2="549.26" y2="74.63"><stop offset="0.000" stop-color="#6300ff"/><stop offset="0.504" stop-color="#1000ff"/><stop offset="1.000" stop-color="#0037ff"/></linearGradient>
<path d="M541.1 76.8l1 2.3 6.3-6.3-0.9-2.3z" style="fill:url(#p492);stroke:url(#p492)"/>
<path class="m" d="M547.5 70.5L548.4 72.8"/>
<linearGradient id="p493" gradientUnits="userSpaceOnUse" x1="531.60" y1="67.74" x2="534.83" y2="60.19"><stop offset="0.000" stop-color="#7600ff"/><stop offset="0.504" stop-color="#1e00ff"/><stop offset="1.000" stop-color="#002eff"/></linearGradient>
<path d="M530.5 67.3l2.2 0.9 6.6-6.1-2.3-0.9z" style="fill:url(#p493);stroke:url(#p493)"/>
<path class="m" d="M537.0 61.2L539.3 62.1"/>
<linearGradient id="p494" gradientUnits="userSpaceOnUse" x1="539.11" y1="98.50" x2="546.59" y2="96.93"><stop offset="0.000" stop-color="#bc00ff"/><stop offset="0.504" stop-color="#8900ff"/><stop offset="1.000" stop-color="#4200ff"/></linearGradient>
<path d="M538.9 97.3l0.5 2.4 6.4-6.6-0.5-2.4z" style="fill:url(#p494);stroke:url(#p494)"/>
<path class="m" d="M545.3 90.7L545.8 93.1"/>
<linearGradient id="p495" gradientUnits="userSpaceOnUse" x1="552.92" y1="132.54" x2="558.74" y2="132.85"><stop offset="0.000" stop-color="#e100ff"/><stop offset="0.504" stop-color="#b800ff"/><stop offset="1.000" stop-color="#8a00ff"/></linearGradient>
<path d="M552.9 133.8l0.1-2.5 6.2-7.2-0.1 2.5z" style="fill:url(#p495);stroke:url(#p495)"/>
<path class="m" d="M559.1 126.6L559.2 124.1"/>
<linearGradient id="p496" gradientUnits="userSpaceOnUse" x1="574.69" y1="85.26" x2="578.43" y2="86.31"><stop offset="0.000" stop-color="#002bf5"/><stop offset="0.504" stop-color="#005af5"/><stop offset="1.000" stop-color="#007ff5"/></linearGradient>
<path d="M574.4 86.5l0.6-2.3 5.9-6.4-0.7 2.3z" style="fill:url(#p496);stroke:url(#p496)"/>
<path class="m" d="M580.2 80.1L580.9 77.8"/>
<linearGradient id="p497" gradientUnits="userSpaceOnUse" x1="585.30" y1="70.77" x2="584.07" y2="68.73"><stop offset="0.000" stop-color="#0063d0"/><stop offset="0.504" stop-color="#0082d0"/><stop offset="1.000" stop-color="#00aad0"/></linearGradient>
<path d="M584.3 71.5l2-1.2 5.7-6.2-2.1 1.3z" style="fill:url(#p497);stroke:url(#p497)"/>
<path class="m" d="M589.9 65.4L592.0 64.1M585.6 70.6L591.2 64.5"/>
<linearGradient id="p498" gradientUnits="userSpaceOnUse" x1="546.24" y1="147.36" x2="552.36" y2="147.54"><stop offset="0.000" stop-color="#ff00f8"/><stop offset="0.504" stop-color="#ff00ff"/><stop offset="1.000" stop-color="#d800ff"/></linearGradient>
<path d="M546.2 148.6l0.1-2.5 6.3-7.4-0.1 2.4z" style="fill:url(#p498);stroke:url(#p498)"/>
<path class="m" d="M546.2 148.6L546.3 146.1M552.5 141.1L552.6 138.7"/>
<linearGradient id="p499" gradientUnits="userSpaceOnUse" x1="540.55" y1="75.65" x2="548.14" y2="71.63"><stop offset="0.000" stop-color="#6c00ff"/><stop offset="0.504" stop-color="#1500ff"/><stop offset="1.000" stop-color="#0037ff"/></linearGradient>
<path d="M540 74.6l1.1 2.2 6.4-6.3-1.1-2.1z" style="fill:url(#p499);stroke:url(#p499)"/>
<path class="m" d="M546.4 68.4L547.5 70.5"/>
<linearGradient id="p500" gradientUnits="userSpaceOnUse" x1="533.80" y1="68.79" x2="537.82" y2="61.29"><stop offset="0.000" stop-color="#7b00ff"/><stop offset="0.504" stop-color="#1f00ff"/><stop offset="1.000" stop-color="#0030ff"/></linearGradient>
<path d="M532.7 68.2l2.2 1.2 6.5-6.2-2.1-1.1z" style="fill:url(#p500);stroke:url(#p500)"/>
<path class="m" d="M539.3 62.1L541.4 63.2"/>
<linearGradient id="p501" gradientUnits="userSpaceOnUse" x1="534.36" y1="114.99" x2="541.88" y2="113.66"><stop offset="0.000" stop-color="#ff00ff"/><stop offset="0.504" stop-color="#dd00ff"/><stop offset="1.000" stop-color="#aa00ff"/></linearGradient>
<path d="M534.2 113.8l0.4 2.4 6.5-6.9-0.4-2.4z" style="fill:url(#p501);stroke:url(#p501)"/>
<path class="m" d="M540.7 106.9L541.1 109.3"/>
<linearGradient id="p502" gradientUnits="userSpaceOnUse" x1="529.32" y1="131.85" x2="536.93" y2="130.60"><stop offset="0.000" stop-color="#ff00ff"/><stop offset="0.504" stop-color="#ff00ff"/><stop offset="1.000" stop-color="#f900ff"/></linearGradient>
<path d="M529.1 130.7l0.4 2.4 6.6-7.3-0.3-2.4z" style="fill:url(#p502);stroke:url(#p502)"/>
<path class="m" d="M529.1 130.6L529.5 133.1M535.8 123.4L536.1 125.8M529.2 130.9L535.8 123.7"/>
<linearGradient id="p503" gradientUnits="userSpaceOnUse" x1="559.87" y1="115.59" x2="565.29" y2="116.09"><stop offset="0.000" stop-color="#9600ff"/><stop offset="0.504" stop-color="#6900ff"/><stop offset="1.000" stop-color="#2c00ff"/></linearGradient>
<path d="M559.8 116.8l0.2-2.4 6.1-6.9-0.2 2.4z" style="fill:url(#p503);stroke:url(#p503)"/>
<path class="m" d="M565.8 109.9L566.1 107.5"/>
<linearGradient id="p504" gradientUnits="userSpaceOnUse" x1="539.27" y1="73.55" x2="546.52" y2="68.49"><stop offset="0.000" stop-color="#7600ff"/><stop offset="0.504" stop-color="#1900ff"/><stop offset="1.000" stop-color="#0037ff"/></linearGradient>
<path d="M538.6 72.6l1.4 2 6.4-6.2-1.4-2z" style="fill:url(#p504);stroke:url(#p504)"/>
<path class="m" d="M545.0 66.4L546.4 68.4"/>
<linearGradient id="p505" gradientUnits="userSpaceOnUse" x1="535.87" y1="70.07" x2="541.08" y2="62.95"><stop offset="0.000" stop-color="#7f00ff"/><stop offset="0.504" stop-color="#1f00ff"/><stop offset="1.000" stop-color="#0034ff"/></linearGradient>
<path d="M534.9 69.4l2 1.5 6.4-6.2-1.9-1.5z" style="fill:url(#p505);stroke:url(#p505)"/>
<path class="m" d="M541.4 63.2L543.3 64.7"/>
<linearGradient id="p506" gradientUnits="userSpaceOnUse" x1="538.58" y1="96.12" x2="546.14" y2="94.40"><stop offset="0.000" stop-color="#c300ff"/><stop offset="0.504" stop-color="#8e00ff"/><stop offset="1.000" stop-color="#4600ff"/></linearGradient>
<path d="M538.3 95l0.6 2.3 6.4-6.6-0.5-2.3z" style="fill:url(#p506);stroke:url(#p506)"/>
<path class="m" d="M544.8 88.4L545.3 90.7"/>
<linearGradient id="p507" gradientUnits="userSpaceOnUse" x1="537.71" y1="71.66" x2="544.16" y2="65.44"><stop offset="0.000" stop-color="#7e00ff"/><stop offset="0.504" stop-color="#1d00ff"/><stop offset="1.000" stop-color="#0036ff"/></linearGradient>
<path d="M536.9 70.9l1.7 1.7 6.4-6.2-1.7-1.7z" style="fill:url(#p507);stroke:url(#p507)"/>
<path class="m" d="M543.3 64.7L545.0 66.4M538.2 72.2L544.6 65.9"/>
<linearGradient id="p508" gradientUnits="userSpaceOnUse" x1="567.19" y1="99.01" x2="571.98" y2="99.78"><stop offset="0.000" stop-color="#3700ff"/><stop offset="0.504" stop-color="#0004ff"/><stop offset="1.000" stop-color="#0037ff"/></linearGradient>
<path d="M567 100.2l0.4-2.4 6-6.6-0.4 2.4z" style="fill:url(#p508);stroke:url(#p508)"/>
<path class="m" d="M573.0 93.6L573.4 91.2"/>
<linearGradient id="p509" gradientUnits="userSpaceOnUse" x1="587.51" y1="70.01" x2="586.70" y2="64.84"><stop offset="0.000" stop-color="#0081ff"/><stop offset="0.504" stop-color="#00abff"/><stop offset="1.000" stop-color="#00e1ff"/></linearGradient>
<path d="M586.3 70.3l2.4-0.4 5.6-6.2-2.3 0.4z" style="fill:url(#p509);stroke:url(#p509)"/>
<path class="m" d="M592.0 64.1L594.3 63.7"/>
<linearGradient id="p510" gradientUnits="userSpaceOnUse" x1="575.43" y1="82.95" x2="578.55" y2="84.08"><stop offset="0.000" stop-color="#0026e9"/><stop offset="0.504" stop-color="#0053e9"/><stop offset="1.000" stop-color="#0076e9"/></linearGradient>
<path d="M575 84.2l0.8-2.3 5.9-6.4-0.8 2.3z" style="fill:url(#p510);stroke:url(#p510)"/>
<path class="m" d="M580.9 77.8L581.7 75.5"/>
<linearGradient id="p511" gradientUnits="userSpaceOnUse" x1="553.06" y1="130.09" x2="558.85" y2="130.43"><stop offset="0.000" stop-color="#e400ff"/><stop offset="0.504" stop-color="#ba00ff"/><stop offset="1.000" stop-color="#8d00ff"/></linearGradient>
<path d="M553 131.3l0.1-2.4 6.3-7.2-0.2 2.4z" style="fill:url(#p511);stroke:url(#p511)"/>
<path class="m" d="M559.2 124.1L559.4 121.7M553.1 130.0L559.3 122.8"/>
<linearGradient id="p512" gradientUnits="userSpaceOnUse" x1="533.93" y1="112.58" x2="541.50" y2="111.17"><stop offset="0.000" stop-color="#ff00ff"/><stop offset="0.504" stop-color="#e100ff"/><stop offset="1.000" stop-color="#ae00ff"/></linearGradient>
<path d="M533.7 111.4l0.5 2.4 6.5-6.9-0.4-2.4z" style="fill:url(#p512);stroke:url(#p512)"/>
<path class="m" d="M540.3 104.5L540.7 106.9"/>
<linearGradient id="p513" gradientUnits="userSpaceOnUse" x1="546.31" y1="144.90" x2="552.43" y2="145.10"><stop offset="0.000" stop-color="#ff00f4"/><stop offset="0.504" stop-color="#ff00ff"/><stop offset="1.000" stop-color="#db00ff"/></linearGradient>
<path d="M546.3 146.1l0.1-2.4 6.3-7.5-0.1 2.5z" style="fill:url(#p513);stroke:url(#p513)"/>
<path class="m" d="M546.3 146.1L546.4 143.7M552.6 138.7L552.7 136.2"/>
<linearGradient id="p514" gradientUnits="userSpaceOnUse" x1="538.02" y1="93.74" x2="545.66" y2="91.84"><stop offset="0.000" stop-color="#c900ff"/><stop offset="0.504" stop-color="#9400ff"/><stop offset="1.000" stop-color="#4b00ff"/></linearGradient>
<path d="M537.7 92.6l0.6 2.4 6.5-6.6-0.6-2.4z" style="fill:url(#p514);stroke:url(#p514)"/>
<path class="m" d="M544.2 86.0L544.8 88.4"/>
<linearGradient id="p515" gradientUnits="userSpaceOnUse" x1="528.92" y1="129.42" x2="536.57" y2="128.13"><stop offset="0.000" stop-color="#ff00fd"/><stop offset="0.504" stop-color="#ff00ff"/><stop offset="1.000" stop-color="#fe00ff"/></linearGradient>
<path d="M528.7 128.2l0.4 2.5 6.7-7.3-0.4-2.4z" style="fill:url(#p515);stroke:url(#p515)"/>
<path class="m" d="M528.7 128.2L529.1 130.6M535.4 121.0L535.8 123.4"/>
<linearGradient id="p516" gradientUnits="userSpaceOnUse" x1="494.77" y1="72.58" x2="497.45" y2="64.73"><stop offset="0.000" stop-color="#ff00ff"/><stop offset="0.203" stop-color="#ff00ff"/><stop offset="0.404" stop-color="#ff00ff"/><stop offset="0.604" stop-color="#ff00ff"/><stop offset="0.803" stop-color="#ff00ff"/><stop offset="1.000" stop-color="#ff00ff"/></linearGradient>
<path d="M473.7 65.5l43 14.6 7-6.5-42.6-14.1z" style="fill:url(#p516);stroke:url(#p516)"/>
<path class="m" d="M481.1 59.5L523.7 73.6M473.7 65.5L481.1 59.5M481.8 68.2L489.2 62.1M490.1 71.0L497.4 64.8M498.5 73.8L505.7 67.5M507.0 76.7L514.1 70.3M515.6 79.7L522.7 73.2"/>
<linearGradient id="p517" gradientUnits="userSpaceOnUse" x1="560.11" y1="113.16" x2="565.46" y2="113.70"><stop offset="0.000" stop-color="#9800ff"/><stop offset="0.504" stop-color="#6c00ff"/><stop offset="1.000" stop-color="#2f00ff"/></linearGradient>
<path d="M560 114.4l0.2-2.4 6.2-6.9-0.3 2.4z" style="fill:url(#p517);stroke:url(#p517)"/>
<path class="m" d="M566.1 107.5L566.4 105.1"/>
<linearGradient id="p518" gradientUnits="userSpaceOnUse" x1="589.91" y1="69.98" x2="590.47" y2="63.35"><stop offset="0.000" stop-color="#0092ff"/><stop offset="0.504" stop-color="#00c1ff"/><stop offset="1.000" stop-color="#00ffff"/></linearGradient>
<path d="M588.7 69.9l2.4 0.2 5.6-6.2-2.4-0.2z" style="fill:url(#p518);stroke:url(#p518)"/>
<path class="m" d="M594.3 63.7L596.7 63.9"/>
<linearGradient id="p519" gradientUnits="userSpaceOnUse" x1="567.60" y1="96.61" x2="572.20" y2="97.47"><stop offset="0.000" stop-color="#3900ff"/><stop offset="0.504" stop-color="#0001ff"/><stop offset="1.000" stop-color="#0033ff"/></linearGradient>
<path d="M567.4 97.8l0.4-2.3 6-6.7-0.4 2.4z" style="fill:url(#p519);stroke:url(#p519)"/>
<path class="m" d="M573.4 91.2L573.8 88.8"/>
<linearGradient id="p520" gradientUnits="userSpaceOnUse" x1="537.40" y1="91.37" x2="545.12" y2="89.23"><stop offset="0.000" stop-color="#d100ff"/><stop offset="0.504" stop-color="#9b00ff"/><stop offset="1.000" stop-color="#5000ff"/></linearGradient>
<path d="M537.1 90.2l0.6 2.4 6.5-6.6-0.6-2.3z" style="fill:url(#p520);stroke:url(#p520)"/>
<path class="m" d="M543.6 83.7L544.2 86.0"/>
<linearGradient id="p521" gradientUnits="userSpaceOnUse" x1="576.38" y1="80.73" x2="578.48" y2="81.79"><stop offset="0.000" stop-color="#0020d4"/><stop offset="0.504" stop-color="#0049d4"/><stop offset="1.000" stop-color="#0069d4"/></linearGradient>
<path d="M575.8 81.9l1.1-2.1 5.9-6.4-1.1 2.1z" style="fill:url(#p521);stroke:url(#p521)"/>
<path class="m" d="M581.7 75.5L582.8 73.4"/>
<linearGradient id="p522" gradientUnits="userSpaceOnUse" x1="533.47" y1="110.17" x2="541.10" y2="108.68"><stop offset="0.000" stop-color="#ff00ff"/><stop offset="0.504" stop-color="#e500ff"/><stop offset="1.000" stop-color="#b200ff"/></linearGradient>
<path d="M533.2 109l0.5 2.4 6.6-6.9-0.5-2.4z" style="fill:url(#p522);stroke:url(#p522)"/>
<path class="m" d="M539.8 102.1L540.3 104.5"/>
<linearGradient id="p523" gradientUnits="userSpaceOnUse" x1="553.21" y1="127.64" x2="558.97" y2="128.01"><stop offset="0.000" stop-color="#e600ff"/><stop offset="0.504" stop-color="#bd00ff"/><stop offset="1.000" stop-color="#9000ff"/></linearGradient>
<path d="M553.1 128.9l0.2-2.5 6.3-7.1-0.2 2.4z" style="fill:url(#p523);stroke:url(#p523)"/>
<path class="m" d="M559.4 121.7L559.6 119.3"/>
<linearGradient id="p524" gradientUnits="userSpaceOnUse" x1="592.31" y1="70.35" x2="593.73" y2="63.29"><stop offset="0.000" stop-color="#009fff"/><stop offset="0.504" stop-color="#00d3ff"/><stop offset="1.000" stop-color="#00ffff"/></linearGradient>
<path d="M591.1 70.1l2.4 0.5 5.6-6.2-2.4-0.5z" style="fill:url(#p524);stroke:url(#p524)"/>
<path class="m" d="M596.7 63.9L599.1 64.4"/>
<linearGradient id="p525" gradientUnits="userSpaceOnUse" x1="622.49" y1="71.17" x2="624.59" y2="64.02"><stop offset="0.000" stop-color="#00ffff"/><stop offset="0.203" stop-color="#00ffff"/><stop offset="0.404" stop-color="#00ffff"/><stop offset="0.604" stop-color="#00ffff"/><stop offset="0.803" stop-color="#00ffff"/><stop offset="1.000" stop-color="#00ffff"/></linearGradient>
<path d="M599.1 64.4l47.7 14.1 4.8-6.5-47.1-13.6z" style="fill:url(#p525);stroke:url(#p525)"/>
<path class="m" d="M604.5 58.4L651.6 72.0M600.2 64.6L605.6 58.6M609.2 67.2L614.5 61.1M618.4 69.9L623.6 63.7M627.7 72.7L632.8 66.4M637.2 75.6L642.1 69.2M646.8 78.5L651.6 72.0"/>
<linearGradient id="p526" gradientUnits="userSpaceOnUse" x1="528.50" y1="127.00" x2="536.20" y2="125.66"><stop offset="0.000" stop-color="#ff00fa"/><stop offset="0.504" stop-color="#ff00ff"/><stop offset="1.000" stop-color="#ff00ff"/></linearGradient>
<path d="M528.3 125.8l0.4 2.4 6.7-7.2-0.4-2.4z" style="fill:url(#p526);stroke:url(#p526)"/>
<path class="m" d="M528.3 125.8L528.7 128.2M535.0 118.6L535.4 121.0"/>
<linearGradient id="p527" gradientUnits="userSpaceOnUse" x1="546.40" y1="142.44" x2="552.51" y2="142.67"><stop offset="0.000" stop-color="#ff00f0"/><stop offset="0.504" stop-color="#ff00ff"/><stop offset="1.000" stop-color="#de00ff"/></linearGradient>
<path d="M546.4 143.7l0-2.5 6.5-7.4-0.2 2.4z" style="fill:url(#p527);stroke:url(#p527)"/>
<path class="m" d="M546.4 143.7L546.4 141.2M552.7 136.2L552.9 133.8"/>
<linearGradient id="p528" gradientUnits="userSpaceOnUse" x1="536.71" y1="89.01" x2="544.51" y2="86.57"><stop offset="0.000" stop-color="#da00ff"/><stop offset="0.504" stop-color="#a200ff"/><stop offset="1.000" stop-color="#5500ff"/></linearGradient>
<path d="M536.3 87.9l0.8 2.3 6.5-6.5-0.7-2.4z" style="fill:url(#p528);stroke:url(#p528)"/>
<path class="m" d="M542.9 81.4L543.6 83.7"/>
<linearGradient id="p529" gradientUnits="userSpaceOnUse" x1="560.37" y1="110.73" x2="565.65" y2="111.33"><stop offset="0.000" stop-color="#9a00ff"/><stop offset="0.504" stop-color="#6e00ff"/><stop offset="1.000" stop-color="#3200ff"/></linearGradient>
<path d="M560.2 112l0.3-2.5 6.2-6.8-0.3 2.4z" style="fill:url(#p529);stroke:url(#p529)"/>
<path class="m" d="M566.4 105.1L566.7 102.7"/>
<linearGradient id="p530" gradientUnits="userSpaceOnUse" x1="532.99" y1="107.76" x2="540.68" y2="106.17"><stop offset="0.000" stop-color="#ff00ff"/><stop offset="0.504" stop-color="#ea00ff"/><stop offset="1.000" stop-color="#b700ff"/></linearGradient>
<path d="M532.7 106.6l0.5 2.4 6.6-6.9-0.4-2.4z" style="fill:url(#p530);stroke:url(#p530)"/>
<path class="m" d="M539.4 99.7L539.8 102.1"/>
<linearGradient id="p531" gradientUnits="userSpaceOnUse" x1="568.09" y1="94.23" x2="572.41" y2="95.19"><stop offset="0.000" stop-color="#3b00fd"/><stop offset="0.504" stop-color="#0200fd"/><stop offset="1.000" stop-color="#002ffd"/></linearGradient>
<path d="M567.8 95.5l0.6-2.4 6-6.6-0.6 2.3z" style="fill:url(#p531);stroke:url(#p531)"/>
<path class="m" d="M573.8 88.8L574.4 86.5"/>
<linearGradient id="p532" gradientUnits="userSpaceOnUse" x1="577.67" y1="78.69" x2="578.10" y2="79.04"><stop offset="0.000" stop-color="#0018af"/><stop offset="0.504" stop-color="#003baf"/><stop offset="1.000" stop-color="#0055af"/></linearGradient>
<path d="M576.9 79.8l1.5-1.9 5.9-6.4-1.5 1.9z" style="fill:url(#p532);stroke:url(#p532)"/>
<path class="m" d="M582.8 73.4L584.3 71.5"/>
<linearGradient id="p533" gradientUnits="userSpaceOnUse" x1="528.07" y1="124.57" x2="535.82" y2="123.17"><stop offset="0.000" stop-color="#ff00f8"/><stop offset="0.504" stop-color="#ff00ff"/><stop offset="1.000" stop-color="#ff00ff"/></linearGradient>
<path d="M527.9 123.4l0.4 2.4 6.7-7.2-0.4-2.4z" style="fill:url(#p533);stroke:url(#p533)"/>
<path class="m" d="M527.9 123.4L528.3 125.8M534.6 116.2L535.0 118.6"/>
<linearGradient id="p534" gradientUnits="userSpaceOnUse" x1="535.92" y1="86.67" x2="543.80" y2="83.82"><stop offset="0.000" stop-color="#e500ff"/><stop offset="0.504" stop-color="#ab00ff"/><stop offset="1.000" stop-color="#5c00ff"/></linearGradient>
<path d="M535.5 85.6l0.8 2.3 6.6-6.6-0.8-2.2z" style="fill:url(#p534);stroke:url(#p534)"/>
<path class="m" d="M542.1 79.1L542.9 81.4"/>
<linearGradient id="p535" gradientUnits="userSpaceOnUse" x1="553.38" y1="125.19" x2="559.11" y2="125.61"><stop offset="0.000" stop-color="#e900ff"/><stop offset="0.504" stop-color="#c000ff"/><stop offset="1.000" stop-color="#9300ff"/></linearGradient>
<path d="M553.3 126.4l0.2-2.4 6.3-7.2-0.2 2.5z" style="fill:url(#p535);stroke:url(#p535)"/>
<path class="m" d="M559.6 119.3L559.8 116.8"/>
<linearGradient id="p536" gradientUnits="userSpaceOnUse" x1="546.50" y1="139.98" x2="552.59" y2="140.24"><stop offset="0.000" stop-color="#ff00ec"/><stop offset="0.504" stop-color="#ff00ff"/><stop offset="1.000" stop-color="#e100ff"/></linearGradient>
<path d="M546.4 141.2l0.2-2.4 6.4-7.5-0.1 2.5z" style="fill:url(#p536);stroke:url(#p536)"/>
<path class="m" d="M546.4 141.2L546.6 138.8M552.9 133.8L553.0 131.3"/>
<linearGradient id="p537" gradientUnits="userSpaceOnUse" x1="532.47" y1="105.35" x2="540.24" y2="103.64"><stop offset="0.000" stop-color="#ff00ff"/><stop offset="0.504" stop-color="#f000ff"/><stop offset="1.000" stop-color="#bc00ff"/></linearGradient>
<path d="M532.2 104.2l0.5 2.4 6.7-6.9-0.5-2.4z" style="fill:url(#p537);stroke:url(#p537)"/>
<path class="m" d="M538.9 97.3L539.4 99.7"/>
<linearGradient id="p538" gradientUnits="userSpaceOnUse" x1="560.67" y1="108.30" x2="565.84" y2="108.98"><stop offset="0.000" stop-color="#9c00ff"/><stop offset="0.504" stop-color="#7000ff"/><stop offset="1.000" stop-color="#3400ff"/></linearGradient>
<path d="M560.5 109.5l0.3-2.4 6.2-6.9-0.3 2.5z" style="fill:url(#p538);stroke:url(#p538)"/>
<path class="m" d="M566.7 102.7L567.0 100.2"/>
<linearGradient id="p539" gradientUnits="userSpaceOnUse" x1="535.01" y1="84.36" x2="542.93" y2="80.95"><stop offset="0.000" stop-color="#f300ff"/><stop offset="0.504" stop-color="#b700ff"/><stop offset="1.000" stop-color="#6300ff"/></linearGradient>
<path d="M534.5 83.3l1 2.3 6.6-6.5-1-2.3z" style="fill:url(#p539);stroke:url(#p539)"/>
<path class="m" d="M541.1 76.8L542.1 79.1"/>
<linearGradient id="p540" gradientUnits="userSpaceOnUse" x1="524.83" y1="74.08" x2="528.22" y2="66.28"><stop offset="0.000" stop-color="#ff00ff"/><stop offset="0.504" stop-color="#ce00ff"/><stop offset="1.000" stop-color="#7600ff"/></linearGradient>
<path d="M523.7 73.6l2.3 1 6.7-6.4-2.2-0.9z" style="fill:url(#p540);stroke:url(#p540)"/>
<path class="m" d="M530.5 67.3L532.7 68.2"/>
<linearGradient id="p541" gradientUnits="userSpaceOnUse" x1="568.67" y1="91.87" x2="572.59" y2="92.94"><stop offset="0.000" stop-color="#3c00f5"/><stop offset="0.504" stop-color="#0500f5"/><stop offset="1.000" stop-color="#002bf5"/></linearGradient>
<path d="M568.4 93.1l0.6-2.3 6-6.6-0.6 2.3z" style="fill:url(#p541);stroke:url(#p541)"/>
<path class="m" d="M574.4 86.5L575.0 84.2"/>
<linearGradient id="p542" gradientUnits="userSpaceOnUse" x1="527.62" y1="122.14" x2="535.43" y2="120.68"><stop offset="0.000" stop-color="#ff00f5"/><stop offset="0.504" stop-color="#ff00ff"/><stop offset="1.000" stop-color="#ff00ff"/></linearGradient>
<path d="M527.4 120.9l0.5 2.5 6.7-7.2-0.4-2.4z" style="fill:url(#p542);stroke:url(#p542)"/>
<path class="m" d="M527.4 120.9L527.9 123.4M534.2 113.8L534.6 116.2"/>
<linearGradient id="p543" gradientUnits="userSpaceOnUse" x1="533.93" y1="82.12" x2="541.76" y2="77.92"><stop offset="0.000" stop-color="#ff00ff"/><stop offset="0.504" stop-color="#c400ff"/><stop offset="1.000" stop-color="#6c00ff"/></linearGradient>
<path d="M533.3 81.1l1.2 2.2 6.6-6.5-1.1-2.2z" style="fill:url(#p543);stroke:url(#p543)"/>
<path class="m" d="M540.0 74.6L541.1 76.8"/>
<linearGradient id="p544" gradientUnits="userSpaceOnUse" x1="527.06" y1="75.15" x2="531.26" y2="67.41"><stop offset="0.000" stop-color="#ff00ff"/><stop offset="0.504" stop-color="#d600ff"/><stop offset="1.000" stop-color="#7b00ff"/></linearGradient>
<path d="M526 74.6l2.2 1.2 6.7-6.4-2.2-1.2z" style="fill:url(#p544);stroke:url(#p544)"/>
<path class="m" d="M532.7 68.2L534.9 69.4"/>
<linearGradient id="p545" gradientUnits="userSpaceOnUse" x1="579.44" y1="77.14" x2="578.17" y2="75.00"><stop offset="0.000" stop-color="#001bd0"/><stop offset="0.504" stop-color="#0044d0"/><stop offset="1.000" stop-color="#0063d0"/></linearGradient>
<path d="M578.4 77.9l2.1-1.2 5.8-6.4-2 1.2z" style="fill:url(#p545);stroke:url(#p545)"/>
<path class="m" d="M584.3 71.5L586.3 70.3M579.7 77.0L585.6 70.6"/>
<linearGradient id="p546" gradientUnits="userSpaceOnUse" x1="553.57" y1="122.74" x2="559.25" y2="123.21"><stop offset="0.000" stop-color="#eb00ff"/><stop offset="0.504" stop-color="#c200ff"/><stop offset="1.000" stop-color="#9600ff"/></linearGradient>
<path d="M553.5 124l0.2-2.5 6.3-7.1-0.2 2.4z" style="fill:url(#p546);stroke:url(#p546)"/>
<path class="m" d="M559.8 116.8L560.0 114.4"/>
<linearGradient id="p547" gradientUnits="userSpaceOnUse" x1="531.92" y1="102.95" x2="539.76" y2="101.08"><stop offset="0.000" stop-color="#ff00ff"/><stop offset="0.504" stop-color="#f700ff"/><stop offset="1.000" stop-color="#c300ff"/></linearGradient>
<path d="M531.6 101.8l0.6 2.4 6.7-6.9-0.6-2.3z" style="fill:url(#p547);stroke:url(#p547)"/>
<path class="m" d="M538.3 95.0L538.9 97.3"/>
<linearGradient id="p548" gradientUnits="userSpaceOnUse" x1="532.63" y1="80.00" x2="540.10" y2="74.74"><stop offset="0.000" stop-color="#ff00ff"/><stop offset="0.504" stop-color="#d300ff"/><stop offset="1.000" stop-color="#7600ff"/></linearGradient>
<path d="M531.9 79.1l1.4 2 6.7-6.5-1.4-2z" style="fill:url(#p548);stroke:url(#p548)"/>
<path class="m" d="M538.6 72.6L540.0 74.6"/>
<linearGradient id="p549" gradientUnits="userSpaceOnUse" x1="529.16" y1="76.46" x2="534.56" y2="69.11"><stop offset="0.000" stop-color="#ff00ff"/><stop offset="0.504" stop-color="#df00ff"/><stop offset="1.000" stop-color="#7f00ff"/></linearGradient>
<path d="M528.2 75.8l2 1.5 6.7-6.4-2-1.5z" style="fill:url(#p549);stroke:url(#p549)"/>
<path class="m" d="M534.9 69.4L536.9 70.9"/>
<linearGradient id="p550" gradientUnits="userSpaceOnUse" x1="531.04" y1="78.08" x2="537.69" y2="71.64"><stop offset="0.000" stop-color="#ff00ff"/><stop offset="0.504" stop-color="#de00ff"/><stop offset="1.000" stop-color="#7e00ff"/></linearGradient>
<path d="M530.2 77.3l1.7 1.8 6.7-6.5-1.7-1.7z" style="fill:url(#p550);stroke:url(#p550)"/>
<path class="m" d="M536.9 70.9L538.6 72.6M531.5 78.6L538.2 72.2"/>
<linearGradient id="p551" gradientUnits="userSpaceOnUse" x1="546.61" y1="137.52" x2="552.68" y2="137.81"><stop offset="0.000" stop-color="#ff00e7"/><stop offset="0.504" stop-color="#ff00ff"/><stop offset="1.000" stop-color="#e400ff"/></linearGradient>
<path d="M546.6 138.8l0.1-2.5 6.4-7.4-0.1 2.4z" style="fill:url(#p551);stroke:url(#p551)"/>
<path class="m" d="M546.6 138.8L546.7 136.3M553.0 131.3L553.1 128.9M546.6 137.4L553.1 130.0"/>
<linearGradient id="p552" gradientUnits="userSpaceOnUse" x1="561.01" y1="105.88" x2="566.03" y2="106.64"><stop offset="0.000" stop-color="#9d00ff"/><stop offset="0.504" stop-color="#7200ff"/><stop offset="1.000" stop-color="#3700ff"/></linearGradient>
<path d="M560.8 107.1l0.4-2.4 6.2-6.9-0.4 2.4z" style="fill:url(#p552);stroke:url(#p552)"/>
<path class="m" d="M567.0 100.2L567.4 97.9"/>
<linearGradient id="p553" gradientUnits="userSpaceOnUse" x1="527.16" y1="119.71" x2="535.02" y2="118.17"><stop offset="0.000" stop-color="#ff00f3"/><stop offset="0.504" stop-color="#ff00ff"/><stop offset="1.000" stop-color="#ff00ff"/></linearGradient>
<path d="M526.9 118.5l0.5 2.4 6.8-7.1-0.5-2.4z" style="fill:url(#p553);stroke:url(#p553)"/>
<path class="m" d="M526.9 118.5L527.4 120.9M533.7 111.4L534.2 113.8"/>
<linearGradient id="p554" gradientUnits="userSpaceOnUse" x1="569.39" y1="89.55" x2="572.67" y2="90.72"><stop offset="0.000" stop-color="#3c00e9"/><stop offset="0.504" stop-color="#0700e9"/><stop offset="1.000" stop-color="#0026e9"/></linearGradient>
<path d="M569 90.8l0.8-2.3 6-6.6-0.8 2.3z" style="fill:url(#p554);stroke:url(#p554)"/>
<path class="m" d="M575.0 84.2L575.8 81.9"/>
<linearGradient id="p555" gradientUnits="userSpaceOnUse" x1="487.29" y1="79.09" x2="490.12" y2="70.96"><stop offset="0.000" stop-color="#ff00f4"/><stop offset="0.203" stop-color="#ff00ff"/><stop offset="0.404" stop-color="#ff00ff"/><stop offset="0.604" stop-color="#ff00ff"/><stop offset="0.803" stop-color="#ff00ff"/><stop offset="1.000" stop-color="#ff00ff"/></linearGradient>
<path d="M466 71.8l43.4 15.1 7.3-6.8-43-14.6z" style="fill:url(#p555);stroke:url(#p555)"/>
<path class="m" d="M466.0 71.8L509.4 86.9M473.7 65.5L516.7 80.2M466.0 71.8L473.7 65.5M474.2 74.6L481.8 68.2M482.6 77.5L490.1 71.0M491.0 80.4L498.5 73.8M499.6 83.3L507.0 76.7M508.4 86.5L515.6 79.7"/>
<linearGradient id="p556" gradientUnits="userSpaceOnUse" x1="531.33" y1="100.54" x2="539.25" y2="98.50"><stop offset="0.000" stop-color="#ff00ff"/><stop offset="0.504" stop-color="#ff00ff"/><stop offset="1.000" stop-color="#c900ff"/></linearGradient>
<path d="M531 99.4l0.6 2.4 6.7-6.8-0.6-2.4z" style="fill:url(#p556);stroke:url(#p556)"/>
<path class="m" d="M537.7 92.6L538.3 95.0"/>
<linearGradient id="p557" gradientUnits="userSpaceOnUse" x1="581.67" y1="76.40" x2="580.87" y2="71.00"><stop offset="0.000" stop-color="#0022ff"/><stop offset="0.504" stop-color="#0058ff"/><stop offset="1.000" stop-color="#0081ff"/></linearGradient>
<path d="M580.5 76.7l2.4-0.4 5.8-6.4-2.4 0.4z" style="fill:url(#p557);stroke:url(#p557)"/>
<path class="m" d="M586.3 70.3L588.7 69.9"/>
<linearGradient id="p558" gradientUnits="userSpaceOnUse" x1="553.79" y1="120.30" x2="559.40" y2="120.82"><stop offset="0.000" stop-color="#ed00ff"/><stop offset="0.504" stop-color="#c400ff"/><stop offset="1.000" stop-color="#9800ff"/></linearGradient>
<path d="M553.7 121.5l0.2-2.4 6.3-7.1-0.2 2.4z" style="fill:url(#p558);stroke:url(#p558)"/>
<path class="m" d="M560.0 114.4L560.2 112.0"/>
<linearGradient id="p559" gradientUnits="userSpaceOnUse" x1="526.67" y1="117.29" x2="534.60" y2="115.66"><stop offset="0.000" stop-color="#ff00f0"/><stop offset="0.504" stop-color="#ff00ff"/><stop offset="1.000" stop-color="#ff00ff"/></linearGradient>
<path d="M526.4 116.1l0.5 2.4 6.8-7.1-0.5-2.4z" style="fill:url(#p559);stroke:url(#p559)"/>
<path class="m" d="M526.4 116.1L526.9 118.5M533.2 109.0L533.7 111.4"/>
<linearGradient id="p560" gradientUnits="userSpaceOnUse" x1="530.68" y1="98.15" x2="538.68" y2="95.87"><stop offset="0.000" stop-color="#ff00ff"/><stop offset="0.504" stop-color="#ff00ff"/><stop offset="1.000" stop-color="#d100ff"/></linearGradient>
<path d="M530.3 97l0.7 2.4 6.7-6.8-0.6-2.4z" style="fill:url(#p560);stroke:url(#p560)"/>
<path class="m" d="M537.1 90.2L537.7 92.6"/>
<linearGradient id="p561" gradientUnits="userSpaceOnUse" x1="546.74" y1="135.06" x2="552.78" y2="135.39"><stop offset="0.000" stop-color="#ff00e3"/><stop offset="0.504" stop-color="#ff00ff"/><stop offset="1.000" stop-color="#e600ff"/></linearGradient>
<path d="M546.7 136.3l0.1-2.5 6.5-7.4-0.2 2.5z" style="fill:url(#p561);stroke:url(#p561)"/>
<path class="m" d="M546.7 136.3L546.8 133.8M553.1 128.9L553.3 126.4"/>
<linearGradient id="p562" gradientUnits="userSpaceOnUse" x1="561.41" y1="103.47" x2="566.23" y2="104.33"><stop offset="0.000" stop-color="#9e00ff"/><stop offset="0.504" stop-color="#7400ff"/><stop offset="1.000" stop-color="#3900ff"/></linearGradient>
<path d="M561.2 104.7l0.4-2.4 6.2-6.8-0.4 2.3z" style="fill:url(#p562);stroke:url(#p562)"/>
<path class="m" d="M567.4 97.9L567.8 95.5"/>
<linearGradient id="p563" gradientUnits="userSpaceOnUse" x1="584.09" y1="76.38" x2="584.73" y2="69.50"><stop offset="0.000" stop-color="#0026ff"/><stop offset="0.504" stop-color="#0063ff"/><stop offset="1.000" stop-color="#0092ff"/></linearGradient>
<path d="M582.9 76.3l2.4 0.2 5.8-6.4-2.4-0.2z" style="fill:url(#p563);stroke:url(#p563)"/>
<path class="m" d="M588.7 69.9L591.1 70.1"/>
<linearGradient id="p564" gradientUnits="userSpaceOnUse" x1="570.33" y1="87.32" x2="572.55" y2="88.42"><stop offset="0.000" stop-color="#3900d4"/><stop offset="0.504" stop-color="#0900d4"/><stop offset="1.000" stop-color="#0020d4"/></linearGradient>
<path d="M569.8 88.5l1.1-2.2 6-6.5-1.1 2.1z" style="fill:url(#p564);stroke:url(#p564)"/>
<path class="m" d="M575.8 81.9L576.9 79.8"/>
<linearGradient id="p565" gradientUnits="userSpaceOnUse" x1="529.96" y1="95.77" x2="538.04" y2="93.17"><stop offset="0.000" stop-color="#ff00ff"/><stop offset="0.504" stop-color="#ff00ff"/><stop offset="1.000" stop-color="#da00ff"/></linearGradient>
<path d="M529.6 94.6l0.7 2.4 6.8-6.8-0.8-2.3z" style="fill:url(#p565);stroke:url(#p565)"/>
<path class="m" d="M536.3 87.9L537.1 90.2"/>
<linearGradient id="p566" gradientUnits="userSpaceOnUse" x1="554.03" y1="117.86" x2="559.55" y2="118.44"><stop offset="0.000" stop-color="#ee00ff"/><stop offset="0.504" stop-color="#c600ff"/><stop offset="1.000" stop-color="#9a00ff"/></linearGradient>
<path d="M553.9 119.1l0.3-2.4 6.3-7.2-0.3 2.5z" style="fill:url(#p566);stroke:url(#p566)"/>
<path class="m" d="M560.2 112.0L560.5 109.5"/>
<linearGradient id="p567" gradientUnits="userSpaceOnUse" x1="586.52" y1="76.77" x2="588.05" y2="69.46"><stop offset="0.000" stop-color="#0028ff"/><stop offset="0.504" stop-color="#006cff"/><stop offset="1.000" stop-color="#009fff"/></linearGradient>
<path d="M585.3 76.5l2.4 0.5 5.8-6.4-2.4-0.5z" style="fill:url(#p567);stroke:url(#p567)"/>
<path class="m" d="M591.1 70.1L593.5 70.6"/>
<linearGradient id="p568" gradientUnits="userSpaceOnUse" x1="526.16" y1="114.86" x2="534.15" y2="113.12"><stop offset="0.000" stop-color="#ff00ee"/><stop offset="0.504" stop-color="#ff00ff"/><stop offset="1.000" stop-color="#ff00ff"/></linearGradient>
<path d="M525.9 113.7l0.5 2.4 6.8-7.1-0.5-2.4z" style="fill:url(#p568);stroke:url(#p568)"/>
<path class="m" d="M525.9 113.7L526.4 116.1M532.7 106.6L533.2 109.0"/>
<linearGradient id="p569" gradientUnits="userSpaceOnUse" x1="617.19" y1="77.63" x2="619.42" y2="70.24"><stop offset="0.000" stop-color="#00a9ff"/><stop offset="0.203" stop-color="#00bfff"/><stop offset="0.404" stop-color="#00d6ff"/><stop offset="0.604" stop-color="#00efff"/><stop offset="0.803" stop-color="#00ffff"/><stop offset="1.000" stop-color="#00ffff"/></linearGradient>
<path d="M593.5 70.6l48.3 14.6 5-6.7-47.7-14.1z" style="fill:url(#p569);stroke:url(#p569)"/>
<path class="m" d="M599.1 64.4L646.8 78.5M594.6 70.9L600.2 64.6M603.8 73.5L609.2 67.2M613.1 76.4L618.4 69.9M622.5 79.3L627.7 72.7M632.1 82.2L637.2 75.6M641.8 85.2L646.8 78.5"/>
<linearGradient id="p570" gradientUnits="userSpaceOnUse" x1="561.88" y1="101.08" x2="566.41" y2="102.05"><stop offset="0.000" stop-color="#9e00fd"/><stop offset="0.504" stop-color="#7400fd"/><stop offset="1.000" stop-color="#3b00fd"/></linearGradient>
<path d="M561.6 102.3l0.5-2.4 6.3-6.8-0.6 2.4z" style="fill:url(#p570);stroke:url(#p570)"/>
<path class="m" d="M567.8 95.5L568.4 93.1"/>
<linearGradient id="p571" gradientUnits="userSpaceOnUse" x1="546.89" y1="132.60" x2="552.89" y2="132.98"><stop offset="0.000" stop-color="#ff00df"/><stop offset="0.504" stop-color="#ff00ff"/><stop offset="1.000" stop-color="#e900ff"/></linearGradient>
<path d="M546.8 133.8l0.2-2.4 6.5-7.4-0.2 2.4z" style="fill:url(#p571);stroke:url(#p571)"/>
<path class="m" d="M546.8 133.8L547.0 131.4M553.3 126.4L553.5 124.0"/>
<linearGradient id="p572" gradientUnits="userSpaceOnUse" x1="529.14" y1="93.41" x2="537.30" y2="90.39"><stop offset="0.000" stop-color="#ff00ff"/><stop offset="0.504" stop-color="#ff00ff"/><stop offset="1.000" stop-color="#e500ff"/></linearGradient>
<path d="M528.7 92.3l0.9 2.3 6.7-6.7-0.8-2.3z" style="fill:url(#p572);stroke:url(#p572)"/>
<path class="m" d="M535.5 85.6L536.3 87.9"/>
<linearGradient id="p573" gradientUnits="userSpaceOnUse" x1="571.61" y1="85.28" x2="572.07" y2="85.65"><stop offset="0.000" stop-color="#3100af"/><stop offset="0.504" stop-color="#0a00af"/><stop offset="1.000" stop-color="#0018af"/></linearGradient>
<path d="M570.9 86.3l1.5-1.8 6-6.6-1.5 1.9z" style="fill:url(#p573);stroke:url(#p573)"/>
<path class="m" d="M576.9 79.8L578.4 77.9"/>
<linearGradient id="p574" gradientUnits="userSpaceOnUse" x1="525.61" y1="112.43" x2="533.68" y2="110.57"><stop offset="0.000" stop-color="#ff00ed"/><stop offset="0.504" stop-color="#ff00ff"/><stop offset="1.000" stop-color="#ff00ff"/></linearGradient>
<path d="M525.3 111.2l0.6 2.5 6.8-7.1-0.5-2.4z" style="fill:url(#p574);stroke:url(#p574)"/>
<path class="m" d="M525.3 111.2L525.9 113.7M532.2 104.2L532.7 106.6"/>
<linearGradient id="p575" gradientUnits="userSpaceOnUse" x1="554.31" y1="115.42" x2="559.72" y2="116.08"><stop offset="0.000" stop-color="#f000ff"/><stop offset="0.504" stop-color="#c800ff"/><stop offset="1.000" stop-color="#9c00ff"/></linearGradient>
<path d="M554.2 116.7l0.3-2.5 6.3-7.1-0.3 2.4z" style="fill:url(#p575);stroke:url(#p575)"/>
<path class="m" d="M560.5 109.5L560.8 107.1"/>
<linearGradient id="p576" gradientUnits="userSpaceOnUse" x1="528.20" y1="91.08" x2="536.38" y2="87.48"><stop offset="0.000" stop-color="#ff00ff"/><stop offset="0.504" stop-color="#ff00ff"/><stop offset="1.000" stop-color="#f300ff"/></linearGradient>
<path d="M527.7 90l1 2.3 6.8-6.7-1-2.3z" style="fill:url(#p576);stroke:url(#p576)"/>
<path class="m" d="M534.5 83.3L535.5 85.6"/>
<linearGradient id="p577" gradientUnits="userSpaceOnUse" x1="517.84" y1="80.63" x2="521.40" y2="72.57"><stop offset="0.000" stop-color="#ff00ff"/><stop offset="0.504" stop-color="#ff00ff"/><stop offset="1.000" stop-color="#ff00ff"/></linearGradient>
<path d="M516.7 80.1l2.3 1.1 7-6.6-2.3-1z" style="fill:url(#p577);stroke:url(#p577)"/>
<path class="m" d="M523.7 73.6L526.0 74.6"/>
<linearGradient id="p578" gradientUnits="userSpaceOnUse" x1="562.44" y1="98.71" x2="566.56" y2="99.80"><stop offset="0.000" stop-color="#9c00f5"/><stop offset="0.504" stop-color="#7400f5"/><stop offset="1.000" stop-color="#3c00f5"/></linearGradient>
<path d="M562.1 99.9l0.7-2.3 6.2-6.8-0.6 2.3z" style="fill:url(#p578);stroke:url(#p578)"/>
<path class="m" d="M568.4 93.1L569.0 90.8"/>
<linearGradient id="p579" gradientUnits="userSpaceOnUse" x1="527.09" y1="88.81" x2="535.18" y2="84.41"><stop offset="0.000" stop-color="#ff00ff"/><stop offset="0.504" stop-color="#ff00ff"/><stop offset="1.000" stop-color="#ff00ff"/></linearGradient>
<path d="M526.5 87.8l1.2 2.2 6.8-6.7-1.2-2.2z" style="fill:url(#p579);stroke:url(#p579)"/>
<path class="m" d="M533.4 81.1L534.5 83.3"/>
<linearGradient id="p580" gradientUnits="userSpaceOnUse" x1="547.05" y1="130.14" x2="553.00" y2="130.57"><stop offset="0.000" stop-color="#ff00da"/><stop offset="0.504" stop-color="#ff00ff"/><stop offset="1.000" stop-color="#eb00ff"/></linearGradient>
<path d="M547 131.4l0.1-2.5 6.6-7.4-0.2 2.5z" style="fill:url(#p580);stroke:url(#p580)"/>
<path class="m" d="M547.0 131.4L547.1 128.9M553.5 124.0L553.7 121.5"/>
<linearGradient id="p581" gradientUnits="userSpaceOnUse" x1="520.10" y1="81.73" x2="524.48" y2="73.73"><stop offset="0.000" stop-color="#ff00ff"/><stop offset="0.504" stop-color="#ff00ff"/><stop offset="1.000" stop-color="#ff00ff"/></linearGradient>
<path d="M519 81.2l2.2 1.2 7-6.6-2.2-1.2z" style="fill:url(#p581);stroke:url(#p581)"/>
<path class="m" d="M526.0 74.6L528.2 75.8"/>
<linearGradient id="p582" gradientUnits="userSpaceOnUse" x1="525.03" y1="110.01" x2="533.17" y2="107.99"><stop offset="0.000" stop-color="#ff00ed"/><stop offset="0.504" stop-color="#ff00ff"/><stop offset="1.000" stop-color="#ff00ff"/></linearGradient>
<path d="M524.7 108.8l0.6 2.4 6.9-7-0.6-2.4z" style="fill:url(#p582);stroke:url(#p582)"/>
<path class="m" d="M524.7 108.8L525.3 111.2M531.6 101.8L532.2 104.2"/>
<linearGradient id="p583" gradientUnits="userSpaceOnUse" x1="525.75" y1="86.66" x2="533.47" y2="81.19"><stop offset="0.000" stop-color="#ff00ff"/><stop offset="0.504" stop-color="#ff00ff"/><stop offset="1.000" stop-color="#ff00ff"/></linearGradient>
<path d="M525 85.7l1.5 2.1 6.8-6.7-1.4-2z" style="fill:url(#p583);stroke:url(#p583)"/>
<path class="m" d="M531.9 79.1L533.4 81.1"/>
<linearGradient id="p584" gradientUnits="userSpaceOnUse" x1="573.39" y1="83.73" x2="572.07" y2="81.47"><stop offset="0.000" stop-color="#3c00d0"/><stop offset="0.504" stop-color="#0d00d0"/><stop offset="1.000" stop-color="#001bd0"/></linearGradient>
<path d="M572.4 84.5l2-1.2 6.1-6.6-2.1 1.2z" style="fill:url(#p584);stroke:url(#p584)"/>
<path class="m" d="M578.4 77.9L580.5 76.7M573.7 83.6L579.7 77.0"/>
<linearGradient id="p585" gradientUnits="userSpaceOnUse" x1="522.23" y1="83.07" x2="527.83" y2="75.48"><stop offset="0.000" stop-color="#ff00ff"/><stop offset="0.504" stop-color="#ff00ff"/><stop offset="1.000" stop-color="#ff00ff"/></linearGradient>
<path d="M521.2 82.4l2.1 1.5 6.9-6.6-2-1.5z" style="fill:url(#p585);stroke:url(#p585)"/>
<path class="m" d="M528.2 75.8L530.2 77.3"/>
<linearGradient id="p586" gradientUnits="userSpaceOnUse" x1="524.13" y1="84.72" x2="531.00" y2="78.05"><stop offset="0.000" stop-color="#ff00ff"/><stop offset="0.504" stop-color="#ff00ff"/><stop offset="1.000" stop-color="#ff00ff"/></linearGradient>
<path d="M523.3 83.9l1.7 1.8 6.9-6.6-1.7-1.8z" style="fill:url(#p586);stroke:url(#p586)"/>
<path class="m" d="M530.2 77.3L531.9 79.1M524.6 85.2L531.5 78.6"/>
<linearGradient id="p587" gradientUnits="userSpaceOnUse" x1="554.63" y1="112.99" x2="559.89" y2="113.74"><stop offset="0.000" stop-color="#f000ff"/><stop offset="0.504" stop-color="#c900ff"/><stop offset="1.000" stop-color="#9d00ff"/></linearGradient>
<path d="M554.5 114.2l0.3-2.4 6.4-7.1-0.4 2.4z" style="fill:url(#p587);stroke:url(#p587)"/>
<path class="m" d="M560.8 107.1L561.2 104.7"/>
<linearGradient id="p588" gradientUnits="userSpaceOnUse" x1="524.41" y1="107.59" x2="532.63" y2="105.38"><stop offset="0.000" stop-color="#ff00ee"/><stop offset="0.504" stop-color="#ff00ff"/><stop offset="1.000" stop-color="#ff00ff"/></linearGradient>
<path d="M524.1 106.4l0.6 2.4 6.9-7-0.6-2.4z" style="fill:url(#p588);stroke:url(#p588)"/>
<path class="m" d="M524.1 106.4L524.7 108.8M531.0 99.4L531.6 101.8"/>
<linearGradient id="p589" gradientUnits="userSpaceOnUse" x1="563.15" y1="96.38" x2="566.60" y2="97.58"><stop offset="0.000" stop-color="#9700e9"/><stop offset="0.504" stop-color="#7100e9"/><stop offset="1.000" stop-color="#3c00e9"/></linearGradient>
<path d="M562.8 97.6l0.7-2.3 6.3-6.8-0.8 2.3z" style="fill:url(#p589);stroke:url(#p589)"/>
<path class="m" d="M569.0 90.8L569.8 88.5"/>
<linearGradient id="p590" gradientUnits="userSpaceOnUse" x1="547.25" y1="127.68" x2="553.13" y2="128.17"><stop offset="0.000" stop-color="#ff00d6"/><stop offset="0.504" stop-color="#ff00ff"/><stop offset="1.000" stop-color="#ed00ff"/></linearGradient>
<path d="M547.1 128.9l0.2-2.4 6.6-7.4-0.2 2.4z" style="fill:url(#p590);stroke:url(#p590)"/>
<path class="m" d="M547.1 128.9L547.3 126.5M553.7 121.5L553.9 119.1"/>
<linearGradient id="p591" gradientUnits="userSpaceOnUse" x1="575.63" y1="83.00" x2="574.84" y2="77.35"><stop offset="0.000" stop-color="#5200ff"/><stop offset="0.504" stop-color="#1400ff"/><stop offset="1.000" stop-color="#0022ff"/></linearGradient>
<path d="M574.4 83.3l2.4-0.4 6.1-6.6-2.4 0.4z" style="fill:url(#p591);stroke:url(#p591)"/>
<path class="m" d="M580.5 76.7L582.9 76.3"/>
<linearGradient id="p592" gradientUnits="userSpaceOnUse" x1="523.73" y1="105.17" x2="532.03" y2="102.72"><stop offset="0.000" stop-color="#ff00f0"/><stop offset="0.504" stop-color="#ff00ff"/><stop offset="1.000" stop-color="#ff00ff"/></linearGradient>
<path d="M523.4 104l0.7 2.4 6.9-7-0.7-2.4z" style="fill:url(#p592);stroke:url(#p592)"/>
<path class="m" d="M523.4 104.0L524.1 106.4M530.3 97.0L531.0 99.4"/>
<linearGradient id="p593" gradientUnits="userSpaceOnUse" x1="555.00" y1="110.57" x2="560.06" y2="111.42"><stop offset="0.000" stop-color="#ef00ff"/><stop offset="0.504" stop-color="#c900ff"/><stop offset="1.000" stop-color="#9e00ff"/></linearGradient>
<path d="M554.8 111.8l0.4-2.4 6.4-7.1-0.4 2.4z" style="fill:url(#p593);stroke:url(#p593)"/>
<path class="m" d="M561.2 104.7L561.6 102.3"/>
<linearGradient id="p594" gradientUnits="userSpaceOnUse" x1="578.08" y1="83.01" x2="578.80" y2="75.85"><stop offset="0.000" stop-color="#5f00ff"/><stop offset="0.504" stop-color="#1800ff"/><stop offset="1.000" stop-color="#0026ff"/></linearGradient>
<path d="M576.8 82.9l2.5 0.3 6-6.7-2.4-0.2z" style="fill:url(#p594);stroke:url(#p594)"/>
<path class="m" d="M582.9 76.3L585.3 76.5"/>
<linearGradient id="p595" gradientUnits="userSpaceOnUse" x1="564.08" y1="94.14" x2="566.41" y2="95.28"><stop offset="0.000" stop-color="#8c00d4"/><stop offset="0.504" stop-color="#6900d4"/><stop offset="1.000" stop-color="#3900d4"/></linearGradient>
<path d="M563.5 95.3l1.1-2.1 6.3-6.9-1.1 2.2z" style="fill:url(#p595);stroke:url(#p595)"/>
<path class="m" d="M569.8 88.5L570.9 86.3"/>
<linearGradient id="p596" gradientUnits="userSpaceOnUse" x1="522.98" y1="102.77" x2="531.36" y2="99.99"><stop offset="0.000" stop-color="#ff00f3"/><stop offset="0.504" stop-color="#ff00ff"/><stop offset="1.000" stop-color="#ff00ff"/></linearGradient>
<path d="M522.6 101.6l0.8 2.4 6.9-7-0.7-2.4z" style="fill:url(#p596);stroke:url(#p596)"/>
<path class="m" d="M522.6 101.6L523.4 104.0M529.6 94.6L530.3 97.0"/>
<linearGradient id="p597" gradientUnits="userSpaceOnUse" x1="547.47" y1="125.23" x2="553.26" y2="125.79"><stop offset="0.000" stop-color="#ff00d1"/><stop offset="0.504" stop-color="#ff00ff"/><stop offset="1.000" stop-color="#ee00ff"/></linearGradient>
<path d="M547.3 126.5l0.3-2.5 6.6-7.3-0.3 2.4z" style="fill:url(#p597);stroke:url(#p597)"/>
<path class="m" d="M547.3 126.5L547.6 124.0M553.9 119.1L554.2 116.7"/>
<linearGradient id="p598" gradientUnits="userSpaceOnUse" x1="580.54" y1="83.42" x2="582.17" y2="75.83"><stop offset="0.000" stop-color="#6800ff"/><stop offset="0.504" stop-color="#1b00ff"/><stop offset="1.000" stop-color="#0028ff"/></linearGradient>
<path d="M579.3 83.2l2.5 0.5 5.9-6.7-2.4-0.5z" style="fill:url(#p598);stroke:url(#p598)"/>
<path class="m" d="M585.3 76.5L587.7 77.0"/>
<linearGradient id="p599" gradientUnits="userSpaceOnUse" x1="555.45" y1="108.16" x2="560.22" y2="109.14"><stop offset="0.000" stop-color="#ed00fd"/><stop offset="0.504" stop-color="#c700fd"/><stop offset="1.000" stop-color="#9e00fd"/></linearGradient>
<path d="M555.2 109.4l0.5-2.4 6.4-7.1-0.5 2.4z" style="fill:url(#p599);stroke:url(#p599)"/>
<path class="m" d="M561.6 102.3L562.1 99.9"/>
<linearGradient id="p600" gradientUnits="userSpaceOnUse" x1="522.13" y1="100.38" x2="530.57" y2="97.17"><stop offset="0.000" stop-color="#ff00f8"/><stop offset="0.504" stop-color="#ff00ff"/><stop offset="1.000" stop-color="#ff00ff"/></linearGradient>
<path d="M521.7 99.3l0.9 2.3 7-7-0.9-2.3z" style="fill:url(#p600);stroke:url(#p600)"/>
<path class="m" d="M521.7 99.3L522.6 101.6M528.7 92.3L529.6 94.6"/>
<linearGradient id="p601" gradientUnits="userSpaceOnUse" x1="611.71" y1="84.32" x2="614.07" y2="76.67"><stop offset="0.000" stop-color="#002bff"/><stop offset="0.203" stop-color="#0047ff"/><stop offset="0.404" stop-color="#0064ff"/><stop offset="0.604" stop-color="#007dff"/><stop offset="0.803" stop-color="#0093ff"/><stop offset="1.000" stop-color="#00a9ff"/></linearGradient>
<path d="M587.7 77l48.9 15.1 5.2-6.9-48.3-14.6z" style="fill:url(#p601);stroke:url(#p601)"/>
<path class="m" d="M593.5 70.6L641.8 85.2M588.8 77.3L594.6 70.9M598.1 80.1L603.8 73.5M607.5 83.0L613.1 76.4M617.1 86.0L622.5 79.3M626.8 89.0L632.1 82.2M636.6 92.1L641.8 85.2"/>
<linearGradient id="p602" gradientUnits="userSpaceOnUse" x1="565.35" y1="92.10" x2="565.83" y2="92.48"><stop offset="0.000" stop-color="#7600af"/><stop offset="0.504" stop-color="#5900af"/><stop offset="1.000" stop-color="#3100af"/></linearGradient>
<path d="M564.6 93.2l1.5-1.9 6.3-6.8-1.5 1.8z" style="fill:url(#p602);stroke:url(#p602)"/>
<path class="m" d="M570.9 86.3L572.4 84.5"/>
<linearGradient id="p603" gradientUnits="userSpaceOnUse" x1="547.72" y1="122.78" x2="553.41" y2="123.42"><stop offset="0.000" stop-color="#ff00cc"/><stop offset="0.504" stop-color="#ff00fb"/><stop offset="1.000" stop-color="#f000ff"/></linearGradient>
<path d="M547.6 124l0.3-2.4 6.6-7.4-0.3 2.5z" style="fill:url(#p603);stroke:url(#p603)"/>
<path class="m" d="M547.6 124.0L547.9 121.6M554.2 116.7L554.5 114.2"/>
<linearGradient id="p604" gradientUnits="userSpaceOnUse" x1="521.16" y1="98.03" x2="529.62" y2="94.23"><stop offset="0.000" stop-color="#ff00ff"/><stop offset="0.504" stop-color="#ff00ff"/><stop offset="1.000" stop-color="#ff00ff"/></linearGradient>
<path d="M520.6 96.9l1.1 2.4 7-7-1-2.3z" style="fill:url(#p604);stroke:url(#p604)"/>
<path class="m" d="M520.6 96.9L521.7 99.3M527.7 90.0L528.7 92.3"/>
<linearGradient id="p605" gradientUnits="userSpaceOnUse" x1="510.60" y1="87.41" x2="514.34" y2="79.07"><stop offset="0.000" stop-color="#ff00ff"/><stop offset="0.504" stop-color="#ff00ff"/><stop offset="1.000" stop-color="#ff00ff"/></linearGradient>
<path d="M509.4 86.9l2.4 1.1 7.2-6.8-2.3-1.1z" style="fill:url(#p605);stroke:url(#p605)"/>
<path class="m" d="M509.4 86.9L511.8 88.0M516.7 80.2L519.0 81.2"/>
<linearGradient id="p606" gradientUnits="userSpaceOnUse" x1="520.01" y1="95.74" x2="528.37" y2="91.11"><stop offset="0.000" stop-color="#ff00ff"/><stop offset="0.504" stop-color="#ff00ff"/><stop offset="1.000" stop-color="#ff00ff"/></linearGradient>
<path d="M519.4 94.7l1.2 2.2 7.1-6.9-1.2-2.2z" style="fill:url(#p606);stroke:url(#p606)"/>
<path class="m" d="M519.4 94.7L520.6 96.9M526.5 87.8L527.7 90.0"/>
<linearGradient id="p607" gradientUnits="userSpaceOnUse" x1="512.89" y1="88.54" x2="517.47" y2="80.27"><stop offset="0.000" stop-color="#ff00ff"/><stop offset="0.504" stop-color="#ff00ff"/><stop offset="1.000" stop-color="#ff00ff"/></linearGradient>
<path d="M511.8 88l2.2 1.2 7.2-6.8-2.2-1.2z" style="fill:url(#p607);stroke:url(#p607)"/>
<path class="m" d="M511.8 88.0L514.0 89.2M519.0 81.2L521.2 82.4"/>
<linearGradient id="p608" gradientUnits="userSpaceOnUse" x1="556.00" y1="105.78" x2="560.33" y2="106.90"><stop offset="0.000" stop-color="#e900f5"/><stop offset="0.504" stop-color="#c400f5"/><stop offset="1.000" stop-color="#9c00f5"/></linearGradient>
<path d="M555.7 107l0.6-2.3 6.5-7.1-0.7 2.3z" style="fill:url(#p608);stroke:url(#p608)"/>
<path class="m" d="M562.1 99.9L562.8 97.6"/>
<linearGradient id="p609" gradientUnits="userSpaceOnUse" x1="518.64" y1="93.56" x2="526.61" y2="87.85"><stop offset="0.000" stop-color="#ff00ff"/><stop offset="0.504" stop-color="#ff00ff"/><stop offset="1.000" stop-color="#ff00ff"/></linearGradient>
<path d="M517.9 92.6l1.5 2.1 7.1-6.9-1.5-2.1z" style="fill:url(#p609);stroke:url(#p609)"/>
<path class="m" d="M517.9 92.6L519.4 94.7M525.0 85.7L526.5 87.8"/>
<linearGradient id="p610" gradientUnits="userSpaceOnUse" x1="515.05" y1="89.91" x2="520.87" y2="82.06"><stop offset="0.000" stop-color="#ff00ff"/><stop offset="0.504" stop-color="#ff00ff"/><stop offset="1.000" stop-color="#ff00ff"/></linearGradient>
<path d="M514 89.2l2.1 1.5 7.2-6.8-2.1-1.5z" style="fill:url(#p610);stroke:url(#p610)"/>
<path class="m" d="M514.0 89.2L516.1 90.7M521.2 82.4L523.3 83.9"/>
<linearGradient id="p611" gradientUnits="userSpaceOnUse" x1="516.99" y1="91.59" x2="524.09" y2="84.67"><stop offset="0.000" stop-color="#ff00ff"/><stop offset="0.504" stop-color="#ff00ff"/><stop offset="1.000" stop-color="#ff00ff"/></linearGradient>
<path d="M516.1 90.7l1.8 1.9 7.1-6.9-1.7-1.8z" style="fill:url(#p611);stroke:url(#p611)"/>
<path class="m" d="M516.1 90.7L517.9 92.6M523.3 83.9L525.0 85.7M517.5 92.1L524.6 85.2"/>
<linearGradient id="p612" gradientUnits="userSpaceOnUse" x1="567.13" y1="90.55" x2="565.75" y2="88.17"><stop offset="0.000" stop-color="#8e00d0"/><stop offset="0.504" stop-color="#6b00d0"/><stop offset="1.000" stop-color="#3c00d0"/></linearGradient>
<path d="M566.1 91.3l2.1-1.2 6.2-6.8-2 1.2z" style="fill:url(#p612);stroke:url(#p612)"/>
<path class="m" d="M572.4 84.5L574.4 83.3M567.4 90.4L573.7 83.6"/>
<linearGradient id="p613" gradientUnits="userSpaceOnUse" x1="548.02" y1="120.34" x2="553.55" y2="121.07"><stop offset="0.000" stop-color="#ff00c6"/><stop offset="0.504" stop-color="#ff00f5"/><stop offset="1.000" stop-color="#f000ff"/></linearGradient>
<path d="M547.9 121.6l0.3-2.4 6.6-7.4-0.3 2.4z" style="fill:url(#p613);stroke:url(#p613)"/>
<path class="m" d="M547.9 121.6L548.2 119.2M554.5 114.2L554.8 111.8"/>
<linearGradient id="p614" gradientUnits="userSpaceOnUse" x1="556.69" y1="103.44" x2="560.33" y2="104.68"><stop offset="0.000" stop-color="#e000e9"/><stop offset="0.504" stop-color="#bd00e9"/><stop offset="1.000" stop-color="#9700e9"/></linearGradient>
<path d="M556.3 104.7l0.8-2.3 6.4-7.1-0.7 2.3z" style="fill:url(#p614);stroke:url(#p614)"/>
<path class="m" d="M562.8 97.6L563.5 95.3"/>
<linearGradient id="p615" gradientUnits="userSpaceOnUse" x1="569.39" y1="89.83" x2="568.61" y2="83.92"><stop offset="0.000" stop-color="#be00ff"/><stop offset="0.504" stop-color="#9100ff"/><stop offset="1.000" stop-color="#5200ff"/></linearGradient>
<path d="M568.2 90.1l2.4-0.3 6.2-6.9-2.4 0.4z" style="fill:url(#p615);stroke:url(#p615)"/>
<path class="m" d="M574.4 83.3L576.8 82.9"/>
<linearGradient id="p616" gradientUnits="userSpaceOnUse" x1="548.37" y1="117.91" x2="553.70" y2="118.76"><stop offset="0.000" stop-color="#ff00c0"/><stop offset="0.504" stop-color="#ff00ee"/><stop offset="1.000" stop-color="#ef00ff"/></linearGradient>
<path d="M548.2 119.2l0.4-2.5 6.6-7.3-0.4 2.4z" style="fill:url(#p616);stroke:url(#p616)"/>
<path class="m" d="M548.2 119.2L548.6 116.7M554.8 111.8L555.2 109.4"/>
<linearGradient id="p617" gradientUnits="userSpaceOnUse" x1="557.60" y1="101.19" x2="560.07" y2="102.39"><stop offset="0.000" stop-color="#cf00d4"/><stop offset="0.504" stop-color="#af00d4"/><stop offset="1.000" stop-color="#8c00d4"/></linearGradient>
<path d="M557.1 102.4l1-2.2 6.5-7-1.1 2.1z" style="fill:url(#p617);stroke:url(#p617)"/>
<path class="m" d="M563.5 95.3L564.6 93.2"/>
<linearGradient id="p618" gradientUnits="userSpaceOnUse" x1="571.86" y1="89.86" x2="572.67" y2="82.41"><stop offset="0.000" stop-color="#da00ff"/><stop offset="0.504" stop-color="#a600ff"/><stop offset="1.000" stop-color="#5f00ff"/></linearGradient>
<path d="M570.6 89.8l2.5 0.2 6.2-6.8-2.5-0.3z" style="fill:url(#p618);stroke:url(#p618)"/>
<path class="m" d="M576.8 82.9L579.3 83.2"/>
<linearGradient id="p619" gradientUnits="userSpaceOnUse" x1="548.80" y1="115.49" x2="553.82" y2="116.47"><stop offset="0.000" stop-color="#fd00b9"/><stop offset="0.504" stop-color="#fd00e6"/><stop offset="1.000" stop-color="#ed00fd"/></linearGradient>
<path d="M548.6 116.7l0.4-2.4 6.7-7.3-0.5 2.4z" style="fill:url(#p619);stroke:url(#p619)"/>
<path class="m" d="M548.6 116.7L549.0 114.3M555.2 109.4L555.7 107.0"/>
<linearGradient id="p620" gradientUnits="userSpaceOnUse" x1="574.34" y1="90.30" x2="576.10" y2="82.43"><stop offset="0.000" stop-color="#ef00ff"/><stop offset="0.504" stop-color="#b600ff"/><stop offset="1.000" stop-color="#6800ff"/></linearGradient>
<path d="M573.1 90l2.5 0.6 6.2-6.9-2.5-0.5z" style="fill:url(#p620);stroke:url(#p620)"/>
<path class="m" d="M579.3 83.2L581.8 83.7"/>
<linearGradient id="p621" gradientUnits="userSpaceOnUse" x1="606.03" y1="91.24" x2="608.53" y2="83.32"><stop offset="0.000" stop-color="#7000ff"/><stop offset="0.203" stop-color="#4f00ff"/><stop offset="0.404" stop-color="#2e00ff"/><stop offset="0.604" stop-color="#0f00ff"/><stop offset="0.803" stop-color="#000eff"/><stop offset="1.000" stop-color="#002bff"/></linearGradient>
<path d="M581.8 83.7l49.5 15.6 5.3-7.2-48.9-15.1z" style="fill:url(#p621);stroke:url(#p621)"/>
<path class="m" d="M587.7 77.0L636.6 92.1M582.9 84.0L588.8 77.3M592.3 86.8L598.1 80.1M601.8 89.9L607.5 83.0M611.5 93.0L617.1 86.0M621.3 96.1L626.8 89.0M631.3 99.3L636.6 92.1"/>
<linearGradient id="p622" gradientUnits="userSpaceOnUse" x1="558.87" y1="99.15" x2="559.38" y2="99.55"><stop offset="0.000" stop-color="#ad00af"/><stop offset="0.504" stop-color="#9300af"/><stop offset="1.000" stop-color="#7600af"/></linearGradient>
<path d="M558.1 100.2l1.5-1.8 6.5-7.1-1.5 1.9z" style="fill:url(#p622);stroke:url(#p622)"/>
<path class="m" d="M564.6 93.2L566.1 91.3"/>
<linearGradient id="p623" gradientUnits="userSpaceOnUse" x1="549.33" y1="113.10" x2="553.90" y2="114.24"><stop offset="0.000" stop-color="#f500b0"/><stop offset="0.504" stop-color="#f500dc"/><stop offset="1.000" stop-color="#e900f5"/></linearGradient>
<path d="M549 114.3l0.6-2.3 6.7-7.3-0.6 2.3z" style="fill:url(#p623);stroke:url(#p623)"/>
<path class="m" d="M549.0 114.3L549.6 112.0M555.7 107.0L556.3 104.7"/>
<linearGradient id="p624" gradientUnits="userSpaceOnUse" x1="560.65" y1="97.61" x2="559.21" y2="95.10"><stop offset="0.000" stop-color="#cf00d0"/><stop offset="0.504" stop-color="#b000d0"/><stop offset="1.000" stop-color="#8e00d0"/></linearGradient>
<path d="M559.6 98.4l2.1-1.2 6.5-7.1-2.1 1.2z" style="fill:url(#p624);stroke:url(#p624)"/>
<path class="m" d="M566.1 91.3L568.2 90.1M560.9 97.5L567.4 90.4"/>
<linearGradient id="p625" gradientUnits="userSpaceOnUse" x1="550.00" y1="110.75" x2="553.84" y2="112.03"><stop offset="0.000" stop-color="#e900a4"/><stop offset="0.504" stop-color="#e900ce"/><stop offset="1.000" stop-color="#e000e9"/></linearGradient>
<path d="M549.6 112l0.8-2.3 6.7-7.3-0.8 2.3z" style="fill:url(#p625);stroke:url(#p625)"/>
<path class="m" d="M549.6 112.0L550.4 109.7M556.3 104.7L557.1 102.4"/>
<linearGradient id="p626" gradientUnits="userSpaceOnUse" x1="562.92" y1="96.91" x2="562.17" y2="90.71"><stop offset="0.000" stop-color="#ff00ff"/><stop offset="0.504" stop-color="#ec00ff"/><stop offset="1.000" stop-color="#be00ff"/></linearGradient>
<path d="M561.7 97.2l2.5-0.3 6.4-7.1-2.4 0.3z" style="fill:url(#p626);stroke:url(#p626)"/>
<path class="m" d="M568.2 90.1L570.6 89.8"/>
<linearGradient id="p627" gradientUnits="userSpaceOnUse" x1="550.90" y1="108.50" x2="553.51" y2="109.75"><stop offset="0.000" stop-color="#d40094"/><stop offset="0.504" stop-color="#d400ba"/><stop offset="1.000" stop-color="#cf00d4"/></linearGradient>
<path d="M550.4 109.7l1-2.2 6.7-7.3-1 2.2z" style="fill:url(#p627);stroke:url(#p627)"/>
<path class="m" d="M550.4 109.7L551.4 107.5M557.1 102.4L558.1 100.2"/>
<linearGradient id="p628" gradientUnits="userSpaceOnUse" x1="565.41" y1="96.96" x2="566.33" y2="89.21"><stop offset="0.000" stop-color="#ff00ff"/><stop offset="0.504" stop-color="#ff00ff"/><stop offset="1.000" stop-color="#da00ff"/></linearGradient>
<path d="M564.2 96.9l2.5 0.3 6.4-7.2-2.5-0.2z" style="fill:url(#p628);stroke:url(#p628)"/>
<path class="m" d="M570.6 89.8L573.1 90.0"/>
<linearGradient id="p629" gradientUnits="userSpaceOnUse" x1="567.92" y1="97.43" x2="569.82" y2="89.25"><stop offset="0.000" stop-color="#ff00ff"/><stop offset="0.504" stop-color="#ff00ff"/><stop offset="1.000" stop-color="#ef00ff"/></linearGradient>
<path d="M566.7 97.2l2.5 0.5 6.4-7.1-2.5-0.6z" style="fill:url(#p629);stroke:url(#p629)"/>
<path class="m" d="M573.1 90.0L575.6 90.6"/>
<linearGradient id="p630" gradientUnits="userSpaceOnUse" x1="552.16" y1="106.45" x2="552.69" y2="106.88"><stop offset="0.000" stop-color="#af0078"/><stop offset="0.504" stop-color="#af0097"/><stop offset="1.000" stop-color="#ad00af"/></linearGradient>
<path d="M551.4 107.5l1.5-1.8 6.7-7.3-1.5 1.8z" style="fill:url(#p630);stroke:url(#p630)"/>
<path class="m" d="M551.4 107.5L552.9 105.7M558.1 100.2L559.6 98.4"/>
<linearGradient id="p631" gradientUnits="userSpaceOnUse" x1="600.16" y1="98.41" x2="602.81" y2="90.20"><stop offset="0.000" stop-color="#ff00ff"/><stop offset="0.203" stop-color="#e800ff"/><stop offset="0.404" stop-color="#cf00ff"/><stop offset="0.604" stop-color="#b300ff"/><stop offset="0.803" stop-color="#9100ff"/><stop offset="1.000" stop-color="#7000ff"/></linearGradient>
<path d="M575.6 90.6l50.2 16.2 5.5-7.5-49.5-15.6z" style="fill:url(#p631);stroke:url(#p631)"/>
<path class="m" d="M581.8 83.7L631.3 99.3M576.7 90.9L582.9 84.0M586.2 93.9L592.3 86.8M595.9 97.0L601.8 89.9M605.7 100.2L611.5 93.0M615.6 103.5L621.3 96.1M625.8 106.8L631.3 99.3"/>
<linearGradient id="p632" gradientUnits="userSpaceOnUse" x1="553.94" y1="104.92" x2="552.44" y2="102.26"><stop offset="0.000" stop-color="#d0008c"/><stop offset="0.504" stop-color="#d000b2"/><stop offset="1.000" stop-color="#cf00d0"/></linearGradient>
<path d="M552.9 105.7l2.1-1.2 6.7-7.3-2.1 1.2z" style="fill:url(#p632);stroke:url(#p632)"/>
<path class="m" d="M552.9 105.7L555.0 104.5M559.6 98.4L561.7 97.2M554.2 104.8L560.9 97.5"/>
<linearGradient id="p633" gradientUnits="userSpaceOnUse" x1="556.22" y1="104.24" x2="555.50" y2="97.74"><stop offset="0.000" stop-color="#ff00b8"/><stop offset="0.504" stop-color="#ff00ea"/><stop offset="1.000" stop-color="#ff00ff"/></linearGradient>
<path d="M555 104.5l2.5-0.3 6.7-7.3-2.5 0.3z" style="fill:url(#p633);stroke:url(#p633)"/>
<path class="m" d="M555.0 104.5L557.5 104.2M561.7 97.2L564.2 96.9"/>
<linearGradient id="p634" gradientUnits="userSpaceOnUse" x1="558.74" y1="104.32" x2="559.77" y2="96.24"><stop offset="0.000" stop-color="#ff00d1"/><stop offset="0.504" stop-color="#ff00ff"/><stop offset="1.000" stop-color="#ff00ff"/></linearGradient>
<path d="M557.5 104.2l2.5 0.3 6.7-7.3-2.5-0.3z" style="fill:url(#p634);stroke:url(#p634)"/>
<path class="m" d="M557.5 104.2L560.0 104.5M564.2 96.9L566.7 97.2"/>
<linearGradient id="p635" gradientUnits="userSpaceOnUse" x1="561.27" y1="104.81" x2="563.32" y2="96.32"><stop offset="0.000" stop-color="#ff00e4"/><stop offset="0.504" stop-color="#ff00ff"/><stop offset="1.000" stop-color="#ff00ff"/></linearGradient>
<path d="M560 104.5l2.5 0.6 6.7-7.4-2.5-0.5z" style="fill:url(#p635);stroke:url(#p635)"/>
<path class="m" d="M560.0 104.5L562.5 105.1M566.7 97.2L569.2 97.7"/>
<linearGradient id="p636" gradientUnits="userSpaceOnUse" x1="594.07" y1="105.84" x2="596.88" y2="97.33"><stop offset="0.000" stop-color="#ff00ff"/><stop offset="0.203" stop-color="#ff00ff"/><stop offset="0.404" stop-color="#ff00ff"/><stop offset="0.604" stop-color="#ff00ff"/><stop offset="0.803" stop-color="#ff00ff"/><stop offset="1.000" stop-color="#ff00ff"/></linearGradient>
<path d="M569.2 97.7l50.8 16.8 5.8-7.7-50.2-16.2z" style="fill:url(#p636);stroke:url(#p636)"/>
<path class="m" d="M575.6 90.6L625.8 106.8M570.3 98.1L576.7 90.9M579.9 101.1L586.2 93.9M589.7 104.4L595.9 97.0M599.7 107.7L605.7 100.2M609.7 111.1L615.6 103.5M620.0 114.5L625.8 106.8"/>
<linearGradient id="p637" gradientUnits="userSpaceOnUse" x1="587.75" y1="113.55" x2="590.74" y2="104.72"><stop offset="0.000" stop-color="#ff00f3"/><stop offset="0.203" stop-color="#ff00ff"/><stop offset="0.404" stop-color="#ff00ff"/><stop offset="0.604" stop-color="#ff00ff"/><stop offset="0.803" stop-color="#ff00ff"/><stop offset="1.000" stop-color="#ff00ff"/></linearGradient>
<path d="M562.5 105.1l51.6 17.5 5.9-8.1-50.8-16.8z" style="fill:url(#p637);stroke:url(#p637)"/>
<path class="m" d="M562.5 105.1L614.1 122.6M569.2 97.7L620.0 114.5M563.7 105.5L570.3 98.1M573.4 108.7L579.9 101.1M583.3 112.0L589.7 104.4M593.4 115.5L599.7 107.7M603.6 119.0L609.7 111.1M614.1 122.6L620.0 114.5"/></g>
<path d="M461.2 71.5L548.6 1.0" stroke="#b4b4b4" stroke-width="0.7" fill="none"/>
<path d="M548.6 1.0L681.4 35.5" stroke="#b4b4b4" stroke-width="0.7" fill="none"/>
<path d="M681.4 35.5L615.9 124.8" stroke="#b4b4b4" stroke-width="0.7" fill="none"/>
<path d="M461.2 71.5L556.9 104.4" stroke="#b4b4b4" stroke-width="0.7" fill="none"/>
<path d="M461.2 71.5L469.5 122.4" stroke="#b4b4b4" stroke-width="0.7" fill="none"/>
<path d="M615.9 124.8L613.0 178.1" stroke="#b4b4b4" stroke-width="0.7" fill="none"/>
<path d="M681.4 35.5L674.9 84.3" stroke="#b4b4b4" stroke-width="0.7" fill="none"/>
<path d="M469.5 122.4L613.0 178.1" stroke="#b4b4b4" stroke-width="0.7" fill="none"/>
<path d="M613.0 178.1L674.9 84.3" stroke="#b4b4b4" stroke-width="0.7" fill="none"/>
<path d="M472.0 123.4L469.8 125.4M614.5 175.8L618.0 177.2M478.1 125.8L477.0 126.9M618.1 170.4L620.0 171.1M484.4 128.2L483.2 129.3M621.6 165.0L623.6 165.7M490.7 130.6L489.5 131.8M625.1 159.8L627.0 160.5M497.1 133.1L495.9 134.3M628.5 154.7L630.3 155.4M503.5 135.6L501.5 137.7M631.8 149.7L635.1 150.9M510.0 138.1L508.9 139.3M635.0 144.8L636.8 145.4M516.6 140.7L515.5 141.9M638.2 140.0L640.0 140.6M523.3 143.3L522.2 144.5M641.2 135.3L643.1 135.9M530.1 145.9L529.0 147.1M644.3 130.7L646.1 131.3M536.9 148.5L535.0 150.8M647.3 126.2L650.5 127.3M543.8 151.2L542.8 152.5M650.2 121.8L651.9 122.4M550.8 153.9L549.8 155.2M653.0 117.5L654.8 118.0M557.9 156.7L556.9 158.0M655.8 113.2L657.6 113.8M565.1 159.5L564.1 160.8M658.5 109.1L660.3 109.6M572.3 162.3L570.5 164.6M661.2 105.0L664.3 106.0M579.7 165.1L578.7 166.4M663.9 101.0L665.6 101.5M587.1 168.0L586.1 169.3M666.5 97.1L668.2 97.6M594.6 170.9L593.7 172.3M669.0 93.2L670.7 93.8M602.2 173.9L601.3 175.2M671.5 89.5L673.2 90.0M609.9 176.9L608.3 179.4M673.9 85.8L676.9 86.7M469.4 121.5L466.6 120.4M469.0 119.2L467.5 118.6M468.6 116.9L467.1 116.3M468.2 114.6L466.7 114.0M467.9 112.3L466.3 111.7M467.5 109.9L464.7 108.8M467.1 107.5L465.5 106.9M466.7 105.1L465.1 104.6M466.3 102.7L464.7 102.2M465.9 100.3L464.3 99.7M465.5 97.9L462.7 96.8M465.1 95.4L463.5 94.9M464.7 93.0L463.1 92.4M464.3 90.5L462.7 89.9M463.9 88.0L462.3 87.4M463.5 85.4L460.6 84.4M463.0 82.9L461.4 82.3M462.6 80.3L461.0 79.8M462.2 77.8L460.6 77.2M461.8 75.2L460.2 74.6M461.3 72.5L458.4 71.5" stroke="#9a9a9a" stroke-width="0.6" fill="none"/>
<text x="463.10" y="132.70" font-size="7.5" text-anchor="middle" fill="#262626" font-family="Liberation Sans, sans-serif" >−10</text>
<text x="497.20" y="145.60" font-size="7.5" text-anchor="middle" fill="#262626" font-family="Liberation Sans, sans-serif" >−5</text>
<text x="533.10" y="158.60" font-size="7.5" text-anchor="middle" fill="#262626" font-family="Liberation Sans, sans-serif" >0</text>
<text x="568.60" y="172.50" font-size="7.5" text-anchor="middle" fill="#262626" font-family="Liberation Sans, sans-serif" >5</text>
<text x="605.80" y="187.10" font-size="7.5" text-anchor="middle" fill="#262626" font-family="Liberation Sans, sans-serif" >10</text>
<text x="623.60" y="182.40" font-size="7.5" text-anchor="middle" fill="#262626" font-family="Liberation Sans, sans-serif" >−10</text>
<text x="639.00" y="155.70" font-size="7.5" text-anchor="middle" fill="#262626" font-family="Liberation Sans, sans-serif" >−5</text>
<text x="652.10" y="131.70" font-size="7.5" text-anchor="middle" fill="#262626" font-family="Liberation Sans, sans-serif" >0</text>
<text x="666.00" y="110.50" font-size="7.5" text-anchor="middle" fill="#262626" font-family="Liberation Sans, sans-serif" >5</text>
<text x="681.00" y="90.90" font-size="7.5" text-anchor="middle" fill="#262626" font-family="Liberation Sans, sans-serif" >10</text>
<text x="458.70" y="72.90" font-size="7.5" text-anchor="end" fill="#262626" font-family="Liberation Sans, sans-serif" >1.00</text>
<text x="460.70" y="86.00" font-size="7.5" text-anchor="end" fill="#262626" font-family="Liberation Sans, sans-serif" >0.95</text>
<text x="463.00" y="99.20" font-size="7.5" text-anchor="end" fill="#262626" font-family="Liberation Sans, sans-serif" >0.90</text>
<text x="464.80" y="111.80" font-size="7.5" text-anchor="end" fill="#262626" font-family="Liberation Sans, sans-serif" >0.85</text>
<text x="524.5" y="172.4" font-size="12.5" font-style="italic" fill="#6a6a6a" text-anchor="middle" font-family="Liberation Sans, sans-serif">x</text>
<text x="662.6" y="138.4" font-size="12.5" font-style="italic" fill="#6a6a6a" text-anchor="middle" font-family="Liberation Sans, sans-serif">t</text>
<path d="M414.8 84.2V95.6M441.3 84.2V95.6" stroke="#8a8a8a" stroke-width="0.9"/>
<text x="419.2" y="92.4" font-size="11.5" font-style="italic" fill="#7c7c7c" font-family="Liberation Sans, sans-serif">v</text>
<text x="426.1" y="94.7" font-size="8.7" fill="#7c7c7c" font-family="Liberation Sans, sans-serif">24</text>
<text x="44.3" y="206.8" font-size="13.6" fill="#444" textLength="253.3" lengthAdjust="spacingAndGlyphs" font-family="Liberation Serif, serif">(a) Influence of time on wave propagation</text>
<text x="513.6" y="206.6" font-size="13.6" fill="#444" textLength="69.5" lengthAdjust="spacingAndGlyphs" font-family="Liberation Serif, serif">(b) 3D Plot</text>
<text x="101.3" y="458.8" font-size="13.6" fill="#444" textLength="68.8" lengthAdjust="spacingAndGlyphs" font-family="Liberation Serif, serif">(c) 2D Plot</text>
<text x="497.4" y="458.6" font-size="13.6" fill="#444" textLength="101.3" lengthAdjust="spacingAndGlyphs" font-family="Liberation Serif, serif">(d) Contour Plot</text>
</svg>
</body></html>
